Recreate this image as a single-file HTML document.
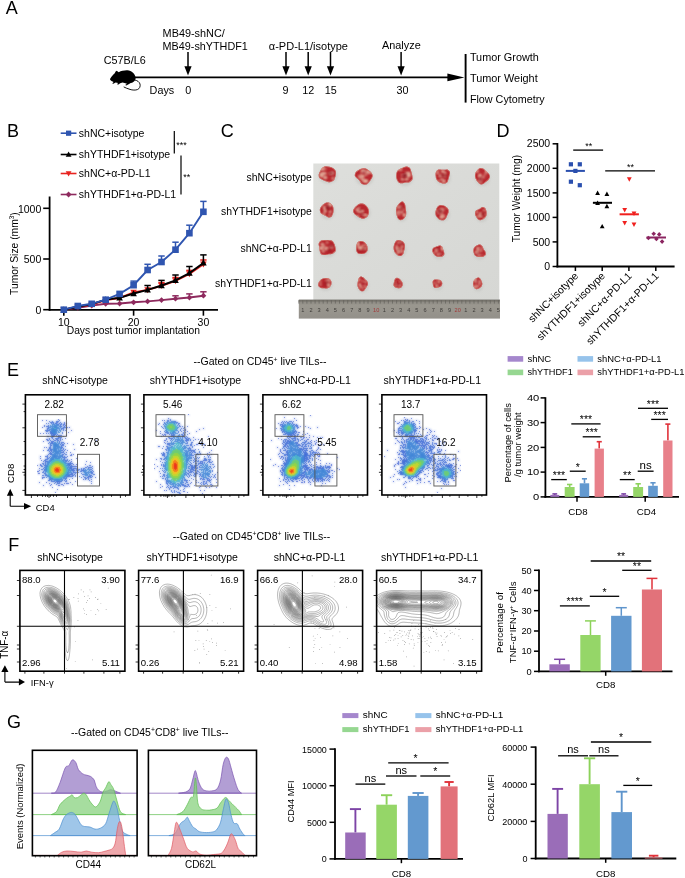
<!DOCTYPE html><html><head><meta charset="utf-8"><style>html,body{margin:0;padding:0;background:#fff}svg{display:block;will-change:transform;font-family:"Liberation Sans",sans-serif}</style></head><body><svg width="685" height="878" viewBox="0 0 685 878"><rect width="685" height="878" fill="#fff"/><text x="5.8" y="13.9" font-size="18">A</text>
<text x="162.6" y="36.5" font-size="10.8" textLength="62.2" lengthAdjust="spacingAndGlyphs">MB49-shNC/</text>
<text x="162.6" y="50.2" font-size="10.8" textLength="85.2" lengthAdjust="spacingAndGlyphs">MB49-shYTHDF1</text>
<text x="103.8" y="64.0" font-size="10.8" textLength="42" lengthAdjust="spacingAndGlyphs">C57B/L6</text>
<text x="149.6" y="94.0" font-size="10.8" textLength="24.6" lengthAdjust="spacingAndGlyphs">Days</text>
<text x="188.3" y="94.0" font-size="10.8" text-anchor="middle">0</text>
<text x="268.8" y="49.7" font-size="10.8" textLength="79.2" lengthAdjust="spacingAndGlyphs">α-PD-L1/isotype</text>
<text x="285.5" y="93.8" font-size="10.8" text-anchor="middle">9</text>
<text x="308.2" y="93.8" font-size="10.8" text-anchor="middle">12</text>
<text x="330.8" y="93.8" font-size="10.8" text-anchor="middle">15</text>
<text x="402.4" y="93.8" font-size="10.8" text-anchor="middle">30</text>
<text x="382.0" y="49.4" font-size="10.8" textLength="38.7" lengthAdjust="spacingAndGlyphs">Analyze</text>
<text x="469.9" y="60.6" font-size="10.8" textLength="68.9" lengthAdjust="spacingAndGlyphs">Tumor Growth</text>
<text x="469.9" y="82.2" font-size="10.8" textLength="67.8" lengthAdjust="spacingAndGlyphs">Tumor Weight</text>
<text x="469.9" y="103.4" font-size="10.8" textLength="74.8" lengthAdjust="spacingAndGlyphs">Flow Cytometry</text>
<line x1="134.0" y1="77.4" x2="450.0" y2="77.4" stroke="#000" stroke-width="1.9"/>
<path d="M447.4,73.6 L464.4,77.4 L447.4,81.2 Z" fill="#000"/>
<line x1="465.6" y1="54.0" x2="465.6" y2="102.6" stroke="#000" stroke-width="1.9"/>
<line x1="188.0" y1="51.9" x2="188.0" y2="68.0" stroke="#000" stroke-width="1.5"/>
<path d="M184.4,66.3 L191.6,66.3 L188.0,75.6 Z" fill="#000"/>
<line x1="286.0" y1="51.9" x2="286.0" y2="68.0" stroke="#000" stroke-width="1.5"/>
<path d="M282.4,66.3 L289.6,66.3 L286.0,75.6 Z" fill="#000"/>
<line x1="308.2" y1="51.9" x2="308.2" y2="68.0" stroke="#000" stroke-width="1.5"/>
<path d="M304.6,66.3 L311.8,66.3 L308.2,75.6 Z" fill="#000"/>
<line x1="330.5" y1="51.9" x2="330.5" y2="68.0" stroke="#000" stroke-width="1.5"/>
<path d="M326.9,66.3 L334.1,66.3 L330.5,75.6 Z" fill="#000"/>
<line x1="401.1" y1="51.9" x2="401.1" y2="68.0" stroke="#000" stroke-width="1.5"/>
<path d="M397.5,66.3 L404.7,66.3 L401.1,75.6 Z" fill="#000"/>
<path d="M110,79 C110.8,77.4 112,76 113.4,74.6 C114.4,73.6 115.2,72.6 115.6,71.4 L116.7,70.7 L117.7,71.6 L118.7,72.3 C120,71.4 121,71 122.5,70.8 C124.5,70.4 126,70.2 127.4,70.3 C129.5,70.5 131.5,71.4 133,72.8 C134.4,74.2 135.4,75.8 135.6,77.4 C135.8,79 135,80.6 133.6,81.8 C132.6,82.6 131.6,82.9 130.7,83.1 L128.6,84.2 L126.2,85.5 L125.2,85 L127,83.7 L124.5,82.9 L122.5,82.6 L120.2,83.3 L118,84.7 L117.1,84.1 L118.2,82.9 L115.6,82.5 L113.4,83.8 L112.2,83.5 L113.6,82 L111.5,80.9 C110.6,80.4 110,79.8 110,79 Z" fill="#000"/>
<path d="M134.8,80 C137.4,80.5 139.4,82 140,84 C140.6,86.4 139.6,88.6 137.6,89.5 C135.6,90.4 132.4,90.2 130,89.4 C127.6,88.7 125.5,87.8 123.7,86.9" fill="none" stroke="#000" stroke-width="0.9"/>
<text x="6.9" y="137.2" font-size="18">B</text>
<line x1="60.7" y1="133.2" x2="76.5" y2="133.2" stroke="#2f55b0" stroke-width="1.6"/>
<rect x="66.0" y="130.6" width="5.2" height="5.2" fill="#2f55b0"/>
<text x="78.8" y="137.0" font-size="10.5">shNC+isotype</text>
<line x1="60.7" y1="154.5" x2="76.5" y2="154.5" stroke="#000" stroke-width="1.6"/>
<path d="M65.7,156.8 L71.5,156.8 L68.6,151.6 Z" fill="#000"/>
<text x="78.8" y="158.3" font-size="10.5">shYTHDF1+isotype</text>
<line x1="60.7" y1="173.5" x2="76.5" y2="173.5" stroke="#e8231f" stroke-width="1.6"/>
<path d="M65.7,171.2 L71.5,171.2 L68.6,176.4 Z" fill="#e8231f"/>
<text x="78.8" y="177.3" font-size="10.5">shNC+α-PD-L1</text>
<line x1="60.7" y1="194.5" x2="76.5" y2="194.5" stroke="#8e2a5e" stroke-width="1.6"/>
<path d="M68.6,191.6 L71.5,194.5 L68.6,197.4 L65.7,194.5 Z" fill="#8e2a5e"/>
<text x="78.8" y="198.3" font-size="10.5">shYTHDF1+α-PD-L1</text>
<line x1="174.3" y1="131.1" x2="174.3" y2="153.6" stroke="#000" stroke-width="1.2"/>
<text x="176.3" y="147.6" font-size="9">***</text>
<line x1="181.0" y1="155.4" x2="181.0" y2="194.5" stroke="#000" stroke-width="1.2"/>
<text x="183.2" y="180.3" font-size="9">**</text>
<line x1="49.6" y1="196.5" x2="49.6" y2="310.7" stroke="#000" stroke-width="1.8"/>
<line x1="48.7" y1="309.9" x2="218.0" y2="309.9" stroke="#000" stroke-width="1.8"/>
<line x1="43.2" y1="208.3" x2="49.5" y2="208.3" stroke="#000" stroke-width="1.6"/>
<text x="41.3" y="212.5" font-size="10.5" text-anchor="end">1000</text>
<line x1="43.2" y1="259.0" x2="49.5" y2="259.0" stroke="#000" stroke-width="1.6"/>
<text x="41.3" y="263.2" font-size="10.5" text-anchor="end">500</text>
<line x1="43.2" y1="309.7" x2="49.5" y2="309.7" stroke="#000" stroke-width="1.6"/>
<text x="41.3" y="313.9" font-size="10.5" text-anchor="end">0</text>
<line x1="63.8" y1="309.9" x2="63.8" y2="315.7" stroke="#000" stroke-width="1.6"/>
<text x="63.8" y="326.3" font-size="10.5" text-anchor="middle">10</text>
<line x1="133.6" y1="309.9" x2="133.6" y2="315.7" stroke="#000" stroke-width="1.6"/>
<text x="133.6" y="326.3" font-size="10.5" text-anchor="middle">20</text>
<line x1="203.4" y1="309.9" x2="203.4" y2="315.7" stroke="#000" stroke-width="1.6"/>
<text x="203.4" y="326.3" font-size="10.5" text-anchor="middle">30</text>
<text x="66.7" y="334.4" font-size="10.5" textLength="133.4" lengthAdjust="spacingAndGlyphs">Days post tumor implantation</text>
<text transform="translate(17.8 253.6) rotate(-90)" font-size="10.3" text-anchor="middle">Tumor Size (mm<tspan font-size="6.5" dy="-3.5">3</tspan><tspan dy="3.5">)</tspan></text>
<line x1="175.5" y1="298.7" x2="175.5" y2="295.8" stroke="#8e2a5e" stroke-width="1.5"/>
<line x1="172.3" y1="295.8" x2="178.7" y2="295.8" stroke="#8e2a5e" stroke-width="1.5"/>
<line x1="189.4" y1="297.5" x2="189.4" y2="293.9" stroke="#8e2a5e" stroke-width="1.5"/>
<line x1="186.2" y1="293.9" x2="192.6" y2="293.9" stroke="#8e2a5e" stroke-width="1.5"/>
<line x1="203.4" y1="295.7" x2="203.4" y2="291.8" stroke="#8e2a5e" stroke-width="1.5"/>
<line x1="200.2" y1="291.8" x2="206.6" y2="291.8" stroke="#8e2a5e" stroke-width="1.5"/>
<polyline points="63.8,309.7 77.8,307.9 91.7,305.6 105.7,303.8 119.6,303.5 133.6,302.3 147.6,301.4 161.5,300.1 175.5,298.7 189.4,297.5 203.4,295.7" fill="none" stroke="#8e2a5e" stroke-width="1.9"/>
<path d="M63.8,306.8 L66.7,309.7 L63.8,312.6 L60.9,309.7 Z" fill="#8e2a5e"/>
<path d="M77.8,305.0 L80.6,307.9 L77.8,310.7 L74.9,307.9 Z" fill="#8e2a5e"/>
<path d="M91.7,302.8 L94.6,305.6 L91.7,308.5 L88.9,305.6 Z" fill="#8e2a5e"/>
<path d="M105.7,301.0 L108.5,303.8 L105.7,306.7 L102.8,303.8 Z" fill="#8e2a5e"/>
<path d="M119.6,300.7 L122.5,303.5 L119.6,306.4 L116.8,303.5 Z" fill="#8e2a5e"/>
<path d="M133.6,299.4 L136.5,302.3 L133.6,305.2 L130.7,302.3 Z" fill="#8e2a5e"/>
<path d="M147.6,298.5 L150.4,301.4 L147.6,304.2 L144.7,301.4 Z" fill="#8e2a5e"/>
<path d="M161.5,297.2 L164.4,300.1 L161.5,302.9 L158.7,300.1 Z" fill="#8e2a5e"/>
<path d="M175.5,295.9 L178.3,298.7 L175.5,301.6 L172.6,298.7 Z" fill="#8e2a5e"/>
<path d="M189.4,294.7 L192.3,297.5 L189.4,300.4 L186.6,297.5 Z" fill="#8e2a5e"/>
<path d="M203.4,292.8 L206.3,295.7 L203.4,298.6 L200.5,295.7 Z" fill="#8e2a5e"/>
<line x1="161.5" y1="285.8" x2="161.5" y2="282.6" stroke="#e8231f" stroke-width="1.5"/>
<line x1="158.3" y1="282.6" x2="164.7" y2="282.6" stroke="#e8231f" stroke-width="1.5"/>
<line x1="175.5" y1="280.9" x2="175.5" y2="277.5" stroke="#e8231f" stroke-width="1.5"/>
<line x1="172.3" y1="277.5" x2="178.7" y2="277.5" stroke="#e8231f" stroke-width="1.5"/>
<line x1="189.4" y1="274.0" x2="189.4" y2="270.4" stroke="#e8231f" stroke-width="1.5"/>
<line x1="186.2" y1="270.4" x2="192.6" y2="270.4" stroke="#e8231f" stroke-width="1.5"/>
<line x1="203.4" y1="264.1" x2="203.4" y2="260.0" stroke="#e8231f" stroke-width="1.5"/>
<line x1="200.2" y1="260.0" x2="206.6" y2="260.0" stroke="#e8231f" stroke-width="1.5"/>
<polyline points="63.8,309.7 77.8,306.9 91.7,304.6 105.7,300.1 119.6,298.0 133.6,292.5 147.6,289.9 161.5,285.8 175.5,280.9 189.4,274.0 203.4,264.1" fill="none" stroke="#e8231f" stroke-width="1.9"/>
<path d="M60.5,307.0 L67.1,307.0 L63.8,313.0 Z" fill="#e8231f"/>
<path d="M74.5,304.2 L81.1,304.2 L77.8,310.2 Z" fill="#e8231f"/>
<path d="M88.4,301.9 L95.0,301.9 L91.7,307.9 Z" fill="#e8231f"/>
<path d="M102.4,297.4 L109.0,297.4 L105.7,303.4 Z" fill="#e8231f"/>
<path d="M116.3,295.3 L122.9,295.3 L119.6,301.3 Z" fill="#e8231f"/>
<path d="M130.3,289.8 L136.9,289.8 L133.6,295.8 Z" fill="#e8231f"/>
<path d="M144.3,287.2 L150.9,287.2 L147.6,293.2 Z" fill="#e8231f"/>
<path d="M158.2,283.1 L164.8,283.1 L161.5,289.1 Z" fill="#e8231f"/>
<path d="M172.2,278.2 L178.8,278.2 L175.5,284.2 Z" fill="#e8231f"/>
<path d="M186.1,271.3 L192.7,271.3 L189.4,277.3 Z" fill="#e8231f"/>
<path d="M200.1,261.4 L206.7,261.4 L203.4,267.4 Z" fill="#e8231f"/>
<line x1="147.6" y1="289.9" x2="147.6" y2="285.5" stroke="#000" stroke-width="1.5"/>
<line x1="144.4" y1="285.5" x2="150.8" y2="285.5" stroke="#000" stroke-width="1.5"/>
<line x1="161.5" y1="285.5" x2="161.5" y2="280.4" stroke="#000" stroke-width="1.5"/>
<line x1="158.3" y1="280.4" x2="164.7" y2="280.4" stroke="#000" stroke-width="1.5"/>
<line x1="175.5" y1="280.4" x2="175.5" y2="275.0" stroke="#000" stroke-width="1.5"/>
<line x1="172.3" y1="275.0" x2="178.7" y2="275.0" stroke="#000" stroke-width="1.5"/>
<line x1="189.4" y1="273.1" x2="189.4" y2="266.5" stroke="#000" stroke-width="1.5"/>
<line x1="186.2" y1="266.5" x2="192.6" y2="266.5" stroke="#000" stroke-width="1.5"/>
<line x1="203.4" y1="262.9" x2="203.4" y2="254.9" stroke="#000" stroke-width="1.5"/>
<line x1="200.2" y1="254.9" x2="206.6" y2="254.9" stroke="#000" stroke-width="1.5"/>
<polyline points="63.8,309.7 77.8,306.7 91.7,304.1 105.7,299.6 119.6,297.8 133.6,293.5 147.6,289.9 161.5,285.5 175.5,280.4 189.4,273.1 203.4,262.9" fill="none" stroke="#000" stroke-width="1.9"/>
<path d="M60.5,312.4 L67.1,312.4 L63.8,306.4 Z" fill="#000"/>
<path d="M74.5,309.4 L81.1,309.4 L77.8,303.4 Z" fill="#000"/>
<path d="M88.4,306.8 L95.0,306.8 L91.7,300.8 Z" fill="#000"/>
<path d="M102.4,302.3 L109.0,302.3 L105.7,296.3 Z" fill="#000"/>
<path d="M116.3,300.5 L122.9,300.5 L119.6,294.5 Z" fill="#000"/>
<path d="M130.3,296.2 L136.9,296.2 L133.6,290.2 Z" fill="#000"/>
<path d="M144.3,292.6 L150.9,292.6 L147.6,286.6 Z" fill="#000"/>
<path d="M158.2,288.2 L164.8,288.2 L161.5,282.2 Z" fill="#000"/>
<path d="M172.2,283.1 L178.8,283.1 L175.5,277.1 Z" fill="#000"/>
<path d="M186.1,275.8 L192.7,275.8 L189.4,269.8 Z" fill="#000"/>
<path d="M200.1,265.6 L206.7,265.6 L203.4,259.6 Z" fill="#000"/>
<line x1="133.6" y1="285.2" x2="133.6" y2="281.1" stroke="#2f55b0" stroke-width="1.5"/>
<line x1="130.4" y1="281.1" x2="136.8" y2="281.1" stroke="#2f55b0" stroke-width="1.5"/>
<line x1="147.6" y1="270.0" x2="147.6" y2="264.3" stroke="#2f55b0" stroke-width="1.5"/>
<line x1="144.4" y1="264.3" x2="150.8" y2="264.3" stroke="#2f55b0" stroke-width="1.5"/>
<line x1="161.5" y1="262.0" x2="161.5" y2="256.0" stroke="#2f55b0" stroke-width="1.5"/>
<line x1="158.3" y1="256.0" x2="164.7" y2="256.0" stroke="#2f55b0" stroke-width="1.5"/>
<line x1="175.5" y1="249.7" x2="175.5" y2="242.2" stroke="#2f55b0" stroke-width="1.5"/>
<line x1="172.3" y1="242.2" x2="178.7" y2="242.2" stroke="#2f55b0" stroke-width="1.5"/>
<line x1="189.4" y1="233.2" x2="189.4" y2="225.2" stroke="#2f55b0" stroke-width="1.5"/>
<line x1="186.2" y1="225.2" x2="192.6" y2="225.2" stroke="#2f55b0" stroke-width="1.5"/>
<line x1="203.4" y1="211.8" x2="203.4" y2="201.4" stroke="#2f55b0" stroke-width="1.5"/>
<line x1="200.2" y1="201.4" x2="206.6" y2="201.4" stroke="#2f55b0" stroke-width="1.5"/>
<polyline points="63.8,309.7 77.8,306.0 91.7,303.8 105.7,299.7 119.6,293.9 133.6,285.2 147.6,270.0 161.5,262.0 175.5,249.7 189.4,233.2 203.4,211.8" fill="none" stroke="#2f55b0" stroke-width="1.9"/>
<rect x="60.5" y="306.4" width="6.6" height="6.6" fill="#2f55b0"/>
<rect x="74.5" y="302.7" width="6.6" height="6.6" fill="#2f55b0"/>
<rect x="88.4" y="300.5" width="6.6" height="6.6" fill="#2f55b0"/>
<rect x="102.4" y="296.4" width="6.6" height="6.6" fill="#2f55b0"/>
<rect x="116.3" y="290.6" width="6.6" height="6.6" fill="#2f55b0"/>
<rect x="130.3" y="281.9" width="6.6" height="6.6" fill="#2f55b0"/>
<rect x="144.3" y="266.7" width="6.6" height="6.6" fill="#2f55b0"/>
<rect x="158.2" y="258.7" width="6.6" height="6.6" fill="#2f55b0"/>
<rect x="172.2" y="246.4" width="6.6" height="6.6" fill="#2f55b0"/>
<rect x="186.1" y="229.9" width="6.6" height="6.6" fill="#2f55b0"/>
<rect x="200.1" y="208.5" width="6.6" height="6.6" fill="#2f55b0"/>
<text x="220.8" y="137.2" font-size="18">C</text>
<text x="311.9" y="180.7" font-size="10.5" text-anchor="end" textLength="65.3" lengthAdjust="spacingAndGlyphs">shNC+isotype</text>
<text x="311.9" y="215.0" font-size="10.5" text-anchor="end" textLength="90.8" lengthAdjust="spacingAndGlyphs">shYTHDF1+isotype</text>
<text x="311.9" y="252.2" font-size="10.5" text-anchor="end" textLength="71.4" lengthAdjust="spacingAndGlyphs">shNC+α-PD-L1</text>
<text x="311.9" y="286.9" font-size="10.5" text-anchor="end" textLength="96.9" lengthAdjust="spacingAndGlyphs">shYTHDF1+α-PD-L1</text>
<defs><linearGradient id="pbg" x1="0" y1="0" x2="1" y2="1"><stop offset="0" stop-color="#dedfdc"/><stop offset="0.45" stop-color="#dadbd8"/><stop offset="1" stop-color="#d6d7d4"/></linearGradient><filter id="bl1" x="-30%" y="-30%" width="160%" height="160%"><feGaussianBlur stdDeviation="0.8"/></filter><filter id="bl2" x="-50%" y="-50%" width="200%" height="200%"><feGaussianBlur stdDeviation="0.9"/></filter><linearGradient id="rul" x1="0" y1="0" x2="0" y2="1"><stop offset="0" stop-color="#6e6b65"/><stop offset="0.12" stop-color="#8e8b84"/><stop offset="0.3" stop-color="#9a978f"/><stop offset="1" stop-color="#93908a"/></linearGradient></defs><rect x="313.3" y="163.5" width="186" height="136.5" fill="url(#pbg)"/><rect x="298.8" y="299.6" width="201.2" height="19" fill="url(#rul)"/><clipPath id="tc1"><path d="M335.2,177.3 C335.0,177.8 334.6,179.7 333.7,180.6 C332.8,181.4 331.1,182.1 329.8,182.2 C328.5,182.3 326.9,181.6 325.7,181.2 C324.4,180.8 323.3,180.4 322.3,179.8 C321.2,179.2 319.8,178.5 319.2,177.6 C318.7,176.6 318.6,175.3 318.8,174.2 C318.9,173.1 319.5,172.2 320.1,171.2 C320.6,170.2 321.0,169.0 321.9,168.2 C322.8,167.4 324.2,166.6 325.4,166.3 C326.7,166.1 328.3,166.4 329.6,166.8 C330.9,167.1 332.2,167.6 333.2,168.3 C334.2,169.0 335.2,170.0 335.7,171.0 C336.1,171.9 336.0,173.2 335.9,174.2 C335.8,175.2 335.6,176.2 335.2,177.3 C334.8,178.3 333.9,180.0 333.7,180.6 Z"/></clipPath><ellipse cx="328.1" cy="175.8" rx="9.8" ry="8.1" fill="#c3c3bf" opacity="0.55" filter="url(#bl2)"/><g><g clip-path="url(#tc1)"><rect x="316.6" y="164.7" width="22.0" height="19.0" fill="#b8282f"/><ellipse cx="321.5" cy="169.1" rx="2.7" ry="1.5" fill="#e9c2ac" opacity="0.85" filter="url(#bl2)"/><ellipse cx="324.0" cy="173.5" rx="2.7" ry="1.8" fill="#e9c2ac" opacity="0.85" filter="url(#bl2)"/><ellipse cx="332.2" cy="173.0" rx="1.9" ry="1.6" fill="#e9c2ac" opacity="0.85" filter="url(#bl2)"/><ellipse cx="321.7" cy="174.8" rx="1.5" ry="1.8" fill="#e9c2ac" opacity="0.85" filter="url(#bl2)"/><ellipse cx="321.7" cy="176.2" rx="2.5" ry="1.0" fill="#e9c2ac" opacity="0.85" filter="url(#bl2)"/><ellipse cx="332.9" cy="178.4" rx="1.1" ry="1.6" fill="#e9c2ac" opacity="0.85" filter="url(#bl2)"/><ellipse cx="320.9" cy="174.2" rx="1.8" ry="1.0" fill="#e9c2ac" opacity="0.85" filter="url(#bl2)"/><ellipse cx="325.2" cy="177.6" rx="1.6" ry="0.9" fill="#e9c2ac" opacity="0.85" filter="url(#bl2)"/><ellipse cx="330.3" cy="173.6" rx="2.4" ry="1.0" fill="#e9c2ac" opacity="0.85" filter="url(#bl2)"/><ellipse cx="325.2" cy="177.6" rx="1.9" ry="1.4" fill="#e9c2ac" opacity="0.85" filter="url(#bl2)"/><ellipse cx="324.0" cy="168.7" rx="2.6" ry="0.9" fill="#e9c2ac" opacity="0.85" filter="url(#bl2)"/><ellipse cx="330.7" cy="173.2" rx="2.6" ry="1.6" fill="#8c0f1c" opacity="0.65" filter="url(#bl2)"/><path d="M335.2,177.3 C335.0,177.8 334.6,179.7 333.7,180.6 C332.8,181.4 331.1,182.1 329.8,182.2 C328.5,182.3 326.9,181.6 325.7,181.2 C324.4,180.8 323.3,180.4 322.3,179.8 C321.2,179.2 319.8,178.5 319.2,177.6 C318.7,176.6 318.6,175.3 318.8,174.2 C318.9,173.1 319.5,172.2 320.1,171.2 C320.6,170.2 321.0,169.0 321.9,168.2 C322.8,167.4 324.2,166.6 325.4,166.3 C326.7,166.1 328.3,166.4 329.6,166.8 C330.9,167.1 332.2,167.6 333.2,168.3 C334.2,169.0 335.2,170.0 335.7,171.0 C336.1,171.9 336.0,173.2 335.9,174.2 C335.8,175.2 335.6,176.2 335.2,177.3 C334.8,178.3 333.9,180.0 333.7,180.6 Z" fill="none" stroke="#d98f80" stroke-width="1.3" opacity="0.7"/></g></g><clipPath id="tc2"><path d="M371.3,179.1 C371.0,179.6 370.2,181.0 369.3,181.9 C368.5,182.9 367.4,184.3 366.2,184.6 C365.0,185.0 363.1,184.6 362.0,184.0 C360.9,183.4 360.4,181.8 359.6,180.9 C358.9,180.0 358.3,179.6 357.5,178.8 C356.7,178.0 355.3,177.1 354.9,176.0 C354.6,174.9 355.0,173.4 355.6,172.4 C356.2,171.4 357.6,170.6 358.6,170.0 C359.7,169.3 360.8,168.6 362.1,168.4 C363.3,168.1 364.8,168.2 365.9,168.5 C367.1,168.9 368.0,169.8 368.9,170.5 C369.8,171.2 370.8,171.9 371.4,172.8 C372.0,173.7 372.7,174.9 372.6,176.0 C372.6,177.1 371.9,178.2 371.3,179.1 C370.7,180.1 369.6,181.5 369.3,181.9 Z"/></clipPath><ellipse cx="364.5" cy="177.6" rx="9.3" ry="8.2" fill="#c3c3bf" opacity="0.55" filter="url(#bl2)"/><g><g clip-path="url(#tc2)"><rect x="353.5" y="166.4" width="21.0" height="19.2" fill="#b8282f"/><ellipse cx="360.5" cy="177.6" rx="1.2" ry="1.6" fill="#e9c2ac" opacity="0.85" filter="url(#bl2)"/><ellipse cx="365.7" cy="174.6" rx="2.2" ry="1.0" fill="#e9c2ac" opacity="0.85" filter="url(#bl2)"/><ellipse cx="362.6" cy="179.4" rx="1.6" ry="1.6" fill="#e9c2ac" opacity="0.85" filter="url(#bl2)"/><ellipse cx="365.4" cy="181.0" rx="2.5" ry="1.6" fill="#e9c2ac" opacity="0.85" filter="url(#bl2)"/><ellipse cx="367.9" cy="172.0" rx="2.1" ry="1.8" fill="#e9c2ac" opacity="0.85" filter="url(#bl2)"/><ellipse cx="362.7" cy="176.6" rx="1.8" ry="1.9" fill="#e9c2ac" opacity="0.85" filter="url(#bl2)"/><ellipse cx="361.7" cy="174.9" rx="1.0" ry="1.3" fill="#e9c2ac" opacity="0.85" filter="url(#bl2)"/><ellipse cx="365.7" cy="181.0" rx="2.4" ry="1.2" fill="#e9c2ac" opacity="0.85" filter="url(#bl2)"/><ellipse cx="370.2" cy="172.4" rx="2.3" ry="1.0" fill="#e9c2ac" opacity="0.85" filter="url(#bl2)"/><ellipse cx="362.8" cy="171.1" rx="2.3" ry="1.8" fill="#e9c2ac" opacity="0.85" filter="url(#bl2)"/><ellipse cx="359.4" cy="176.3" rx="1.4" ry="1.4" fill="#e9c2ac" opacity="0.85" filter="url(#bl2)"/><ellipse cx="364.7" cy="171.5" rx="2.3" ry="1.1" fill="#e9c2ac" opacity="0.85" filter="url(#bl2)"/><ellipse cx="363.6" cy="172.6" rx="1.3" ry="1.4" fill="#8c0f1c" opacity="0.65" filter="url(#bl2)"/><path d="M371.3,179.1 C371.0,179.6 370.2,181.0 369.3,181.9 C368.5,182.9 367.4,184.3 366.2,184.6 C365.0,185.0 363.1,184.6 362.0,184.0 C360.9,183.4 360.4,181.8 359.6,180.9 C358.9,180.0 358.3,179.6 357.5,178.8 C356.7,178.0 355.3,177.1 354.9,176.0 C354.6,174.9 355.0,173.4 355.6,172.4 C356.2,171.4 357.6,170.6 358.6,170.0 C359.7,169.3 360.8,168.6 362.1,168.4 C363.3,168.1 364.8,168.2 365.9,168.5 C367.1,168.9 368.0,169.8 368.9,170.5 C369.8,171.2 370.8,171.9 371.4,172.8 C372.0,173.7 372.7,174.9 372.6,176.0 C372.6,177.1 371.9,178.2 371.3,179.1 C370.7,180.1 369.6,181.5 369.3,181.9 Z" fill="none" stroke="#d98f80" stroke-width="1.3" opacity="0.7"/></g></g><clipPath id="tc3"><path d="M412.4,179.5 C411.9,180.0 410.6,181.7 409.5,182.2 C408.4,182.7 407.0,182.3 405.9,182.5 C404.8,182.6 403.9,183.1 402.7,183.2 C401.6,183.2 400.0,183.3 399.0,182.7 C398.0,182.0 397.2,180.6 396.7,179.3 C396.2,178.1 396.1,176.6 396.2,175.3 C396.2,174.0 396.4,172.5 397.0,171.4 C397.6,170.4 398.8,169.6 399.8,169.0 C400.7,168.4 401.7,168.1 402.8,167.7 C403.9,167.3 405.1,166.4 406.3,166.5 C407.4,166.5 409.0,167.1 409.8,167.9 C410.7,168.8 410.9,170.5 411.3,171.7 C411.7,172.9 412.0,174.0 412.2,175.3 C412.4,176.6 412.9,178.3 412.4,179.5 C412.0,180.7 410.0,181.8 409.5,182.2 Z"/></clipPath><ellipse cx="404.9" cy="176.9" rx="8.8" ry="9.3" fill="#c3c3bf" opacity="0.55" filter="url(#bl2)"/><g><g clip-path="url(#tc3)"><rect x="394.4" y="164.6" width="20.0" height="21.4" fill="#b8282f"/><ellipse cx="402.4" cy="179.1" rx="1.5" ry="1.7" fill="#e9c2ac" opacity="0.85" filter="url(#bl2)"/><ellipse cx="407.2" cy="175.3" rx="2.0" ry="1.8" fill="#e9c2ac" opacity="0.85" filter="url(#bl2)"/><ellipse cx="398.5" cy="169.3" rx="1.2" ry="1.2" fill="#e9c2ac" opacity="0.85" filter="url(#bl2)"/><ellipse cx="400.8" cy="169.4" rx="1.3" ry="1.7" fill="#e9c2ac" opacity="0.85" filter="url(#bl2)"/><ellipse cx="409.0" cy="173.3" rx="1.5" ry="1.5" fill="#e9c2ac" opacity="0.85" filter="url(#bl2)"/><ellipse cx="406.6" cy="179.0" rx="2.3" ry="1.4" fill="#e9c2ac" opacity="0.85" filter="url(#bl2)"/><ellipse cx="406.9" cy="173.2" rx="2.1" ry="1.2" fill="#e9c2ac" opacity="0.85" filter="url(#bl2)"/><ellipse cx="408.9" cy="175.4" rx="2.0" ry="1.6" fill="#e9c2ac" opacity="0.85" filter="url(#bl2)"/><ellipse cx="402.2" cy="175.2" rx="1.0" ry="0.9" fill="#e9c2ac" opacity="0.85" filter="url(#bl2)"/><ellipse cx="404.8" cy="175.0" rx="2.2" ry="0.9" fill="#e9c2ac" opacity="0.85" filter="url(#bl2)"/><ellipse cx="404.9" cy="175.2" rx="1.9" ry="2.3" fill="#8c0f1c" opacity="0.65" filter="url(#bl2)"/><ellipse cx="404.6" cy="175.8" rx="1.8" ry="2.1" fill="#8c0f1c" opacity="0.65" filter="url(#bl2)"/><path d="M412.4,179.5 C411.9,180.0 410.6,181.7 409.5,182.2 C408.4,182.7 407.0,182.3 405.9,182.5 C404.8,182.6 403.9,183.1 402.7,183.2 C401.6,183.2 400.0,183.3 399.0,182.7 C398.0,182.0 397.2,180.6 396.7,179.3 C396.2,178.1 396.1,176.6 396.2,175.3 C396.2,174.0 396.4,172.5 397.0,171.4 C397.6,170.4 398.8,169.6 399.8,169.0 C400.7,168.4 401.7,168.1 402.8,167.7 C403.9,167.3 405.1,166.4 406.3,166.5 C407.4,166.5 409.0,167.1 409.8,167.9 C410.7,168.8 410.9,170.5 411.3,171.7 C411.7,172.9 412.0,174.0 412.2,175.3 C412.4,176.6 412.9,178.3 412.4,179.5 C412.0,180.7 410.0,181.8 409.5,182.2 Z" fill="none" stroke="#d98f80" stroke-width="1.3" opacity="0.7"/></g></g><clipPath id="tc4"><path d="M448.5,179.0 C448.3,179.5 448.0,181.4 447.3,182.2 C446.6,182.9 445.3,183.4 444.3,183.6 C443.3,183.7 442.2,183.2 441.2,182.9 C440.3,182.6 439.3,182.3 438.5,181.7 C437.7,181.1 436.9,180.2 436.4,179.2 C435.9,178.3 435.8,177.1 435.7,176.0 C435.6,174.9 435.4,173.5 435.8,172.4 C436.2,171.4 437.1,170.1 438.0,169.7 C438.9,169.2 440.3,169.7 441.4,169.7 C442.4,169.7 443.0,169.8 444.0,169.8 C445.0,169.8 446.5,169.2 447.5,169.6 C448.5,170.0 449.6,171.2 450.0,172.3 C450.3,173.3 449.6,174.9 449.3,176.0 C449.1,177.1 448.8,178.0 448.5,179.0 C448.2,180.0 447.5,181.7 447.3,182.2 Z"/></clipPath><ellipse cx="443.2" cy="177.6" rx="7.8" ry="8.1" fill="#c3c3bf" opacity="0.55" filter="url(#bl2)"/><g><g clip-path="url(#tc4)"><rect x="433.7" y="166.5" width="18.0" height="19.0" fill="#b8282f"/><ellipse cx="440.5" cy="175.4" rx="1.2" ry="0.8" fill="#e9c2ac" opacity="0.85" filter="url(#bl2)"/><ellipse cx="437.6" cy="173.2" rx="1.9" ry="0.9" fill="#e9c2ac" opacity="0.85" filter="url(#bl2)"/><ellipse cx="444.7" cy="173.2" rx="0.9" ry="1.0" fill="#e9c2ac" opacity="0.85" filter="url(#bl2)"/><ellipse cx="444.6" cy="176.0" rx="1.5" ry="1.3" fill="#e9c2ac" opacity="0.85" filter="url(#bl2)"/><ellipse cx="440.3" cy="175.9" rx="2.0" ry="1.0" fill="#e9c2ac" opacity="0.85" filter="url(#bl2)"/><ellipse cx="445.1" cy="173.2" rx="1.1" ry="1.1" fill="#e9c2ac" opacity="0.85" filter="url(#bl2)"/><ellipse cx="438.4" cy="180.9" rx="1.3" ry="1.0" fill="#e9c2ac" opacity="0.85" filter="url(#bl2)"/><ellipse cx="437.5" cy="171.1" rx="1.1" ry="1.3" fill="#e9c2ac" opacity="0.85" filter="url(#bl2)"/><ellipse cx="443.8" cy="181.4" rx="2.0" ry="1.0" fill="#e9c2ac" opacity="0.85" filter="url(#bl2)"/><ellipse cx="443.9" cy="180.7" rx="1.0" ry="1.8" fill="#e9c2ac" opacity="0.85" filter="url(#bl2)"/><ellipse cx="441.6" cy="179.2" rx="1.2" ry="1.5" fill="#e9c2ac" opacity="0.85" filter="url(#bl2)"/><ellipse cx="442.8" cy="171.5" rx="1.8" ry="1.7" fill="#e9c2ac" opacity="0.85" filter="url(#bl2)"/><ellipse cx="442.6" cy="175.2" rx="2.0" ry="1.5" fill="#8c0f1c" opacity="0.65" filter="url(#bl2)"/><ellipse cx="445.4" cy="175.4" rx="1.4" ry="1.5" fill="#8c0f1c" opacity="0.65" filter="url(#bl2)"/><path d="M448.5,179.0 C448.3,179.5 448.0,181.4 447.3,182.2 C446.6,182.9 445.3,183.4 444.3,183.6 C443.3,183.7 442.2,183.2 441.2,182.9 C440.3,182.6 439.3,182.3 438.5,181.7 C437.7,181.1 436.9,180.2 436.4,179.2 C435.9,178.3 435.8,177.1 435.7,176.0 C435.6,174.9 435.4,173.5 435.8,172.4 C436.2,171.4 437.1,170.1 438.0,169.7 C438.9,169.2 440.3,169.7 441.4,169.7 C442.4,169.7 443.0,169.8 444.0,169.8 C445.0,169.8 446.5,169.2 447.5,169.6 C448.5,170.0 449.6,171.2 450.0,172.3 C450.3,173.3 449.6,174.9 449.3,176.0 C449.1,177.1 448.8,178.0 448.5,179.0 C448.2,180.0 447.5,181.7 447.3,182.2 Z" fill="none" stroke="#d98f80" stroke-width="1.3" opacity="0.7"/></g></g><clipPath id="tc5"><path d="M488.5,179.7 C488.1,180.0 486.8,181.1 486.0,181.8 C485.2,182.5 484.5,183.4 483.6,183.8 C482.6,184.2 481.3,184.6 480.3,184.3 C479.4,184.0 478.5,182.9 477.8,182.1 C477.1,181.3 476.5,180.4 476.1,179.4 C475.6,178.4 475.0,177.3 475.0,176.2 C474.9,175.1 475.1,173.8 475.5,172.7 C476.0,171.7 476.7,170.7 477.5,169.9 C478.3,169.1 479.3,168.3 480.3,168.1 C481.4,167.9 482.6,168.4 483.5,168.8 C484.4,169.3 485.0,170.2 485.8,170.9 C486.6,171.6 487.5,172.0 488.2,172.9 C488.9,173.7 489.9,175.1 489.9,176.2 C490.0,177.3 489.2,178.8 488.5,179.7 C487.8,180.6 486.4,181.4 486.0,181.8 Z"/></clipPath><ellipse cx="482.5" cy="177.8" rx="7.8" ry="8.4" fill="#c3c3bf" opacity="0.55" filter="url(#bl2)"/><g><g clip-path="url(#tc5)"><rect x="473.0" y="166.4" width="18.0" height="19.6" fill="#b8282f"/><ellipse cx="478.4" cy="181.1" rx="1.0" ry="1.2" fill="#e9c2ac" opacity="0.85" filter="url(#bl2)"/><ellipse cx="486.7" cy="171.7" rx="1.4" ry="1.8" fill="#e9c2ac" opacity="0.85" filter="url(#bl2)"/><ellipse cx="477.0" cy="171.1" rx="2.0" ry="1.6" fill="#e9c2ac" opacity="0.85" filter="url(#bl2)"/><ellipse cx="479.5" cy="176.0" rx="1.2" ry="1.9" fill="#e9c2ac" opacity="0.85" filter="url(#bl2)"/><ellipse cx="486.7" cy="171.2" rx="1.5" ry="1.0" fill="#e9c2ac" opacity="0.85" filter="url(#bl2)"/><ellipse cx="481.0" cy="179.0" rx="1.7" ry="1.0" fill="#e9c2ac" opacity="0.85" filter="url(#bl2)"/><ellipse cx="480.2" cy="175.3" rx="1.3" ry="1.6" fill="#e9c2ac" opacity="0.85" filter="url(#bl2)"/><ellipse cx="485.0" cy="174.3" rx="1.4" ry="0.9" fill="#e9c2ac" opacity="0.85" filter="url(#bl2)"/><ellipse cx="480.6" cy="181.4" rx="1.5" ry="1.5" fill="#e9c2ac" opacity="0.85" filter="url(#bl2)"/><ellipse cx="483.1" cy="177.0" rx="1.9" ry="1.1" fill="#e9c2ac" opacity="0.85" filter="url(#bl2)"/><ellipse cx="480.7" cy="179.2" rx="1.6" ry="2.3" fill="#8c0f1c" opacity="0.65" filter="url(#bl2)"/><path d="M488.5,179.7 C488.1,180.0 486.8,181.1 486.0,181.8 C485.2,182.5 484.5,183.4 483.6,183.8 C482.6,184.2 481.3,184.6 480.3,184.3 C479.4,184.0 478.5,182.9 477.8,182.1 C477.1,181.3 476.5,180.4 476.1,179.4 C475.6,178.4 475.0,177.3 475.0,176.2 C474.9,175.1 475.1,173.8 475.5,172.7 C476.0,171.7 476.7,170.7 477.5,169.9 C478.3,169.1 479.3,168.3 480.3,168.1 C481.4,167.9 482.6,168.4 483.5,168.8 C484.4,169.3 485.0,170.2 485.8,170.9 C486.6,171.6 487.5,172.0 488.2,172.9 C488.9,173.7 489.9,175.1 489.9,176.2 C490.0,177.3 489.2,178.8 488.5,179.7 C487.8,180.6 486.4,181.4 486.0,181.8 Z" fill="none" stroke="#d98f80" stroke-width="1.3" opacity="0.7"/></g></g><clipPath id="tc6"><path d="M333.2,213.1 C332.9,213.7 332.5,215.6 331.7,216.4 C331.0,217.1 329.7,217.5 328.7,217.5 C327.8,217.4 326.8,216.5 326.0,216.0 C325.1,215.6 324.5,215.3 323.7,214.9 C322.9,214.4 321.6,214.1 320.9,213.3 C320.3,212.4 319.8,210.9 319.8,209.8 C319.9,208.7 320.6,207.4 321.2,206.5 C321.8,205.5 322.6,204.8 323.3,204.2 C324.1,203.6 324.9,203.0 325.8,202.7 C326.7,202.4 327.7,202.4 328.6,202.6 C329.5,202.8 330.5,203.3 331.2,204.0 C332.0,204.6 332.7,205.6 333.0,206.5 C333.4,207.5 333.5,208.7 333.5,209.8 C333.5,210.9 333.5,212.0 333.2,213.1 C332.9,214.2 332.0,215.8 331.7,216.4 Z"/></clipPath><ellipse cx="327.7" cy="211.4" rx="7.3" ry="8.1" fill="#c3c3bf" opacity="0.55" filter="url(#bl2)"/><g><g clip-path="url(#tc6)"><rect x="318.7" y="200.3" width="17.0" height="19.0" fill="#b8282f"/><ellipse cx="324.8" cy="208.0" rx="1.7" ry="1.2" fill="#e9c2ac" opacity="0.85" filter="url(#bl2)"/><ellipse cx="330.0" cy="204.3" rx="1.9" ry="1.9" fill="#e9c2ac" opacity="0.85" filter="url(#bl2)"/><ellipse cx="328.9" cy="206.4" rx="1.5" ry="1.0" fill="#e9c2ac" opacity="0.85" filter="url(#bl2)"/><ellipse cx="326.0" cy="204.6" rx="0.9" ry="0.9" fill="#e9c2ac" opacity="0.85" filter="url(#bl2)"/><ellipse cx="324.1" cy="213.6" rx="1.1" ry="1.7" fill="#e9c2ac" opacity="0.85" filter="url(#bl2)"/><ellipse cx="322.4" cy="204.8" rx="0.9" ry="1.9" fill="#e9c2ac" opacity="0.85" filter="url(#bl2)"/><ellipse cx="330.3" cy="204.4" rx="1.9" ry="1.0" fill="#e9c2ac" opacity="0.85" filter="url(#bl2)"/><ellipse cx="324.9" cy="210.7" rx="1.0" ry="1.9" fill="#e9c2ac" opacity="0.85" filter="url(#bl2)"/><ellipse cx="325.9" cy="210.6" rx="1.4" ry="1.1" fill="#e9c2ac" opacity="0.85" filter="url(#bl2)"/><ellipse cx="329.5" cy="215.3" rx="1.5" ry="0.9" fill="#e9c2ac" opacity="0.85" filter="url(#bl2)"/><ellipse cx="330.2" cy="211.7" rx="1.4" ry="1.5" fill="#e9c2ac" opacity="0.85" filter="url(#bl2)"/><ellipse cx="324.9" cy="207.6" rx="1.4" ry="0.8" fill="#e9c2ac" opacity="0.85" filter="url(#bl2)"/><ellipse cx="327.8" cy="207.4" rx="1.2" ry="2.1" fill="#8c0f1c" opacity="0.65" filter="url(#bl2)"/><ellipse cx="327.8" cy="207.9" rx="1.7" ry="2.2" fill="#8c0f1c" opacity="0.65" filter="url(#bl2)"/><path d="M333.2,213.1 C332.9,213.7 332.5,215.6 331.7,216.4 C331.0,217.1 329.7,217.5 328.7,217.5 C327.8,217.4 326.8,216.5 326.0,216.0 C325.1,215.6 324.5,215.3 323.7,214.9 C322.9,214.4 321.6,214.1 320.9,213.3 C320.3,212.4 319.8,210.9 319.8,209.8 C319.9,208.7 320.6,207.4 321.2,206.5 C321.8,205.5 322.6,204.8 323.3,204.2 C324.1,203.6 324.9,203.0 325.8,202.7 C326.7,202.4 327.7,202.4 328.6,202.6 C329.5,202.8 330.5,203.3 331.2,204.0 C332.0,204.6 332.7,205.6 333.0,206.5 C333.4,207.5 333.5,208.7 333.5,209.8 C333.5,210.9 333.5,212.0 333.2,213.1 C332.9,214.2 332.0,215.8 331.7,216.4 Z" fill="none" stroke="#d98f80" stroke-width="1.3" opacity="0.7"/></g></g><clipPath id="tc7"><path d="M368.7,214.1 C368.4,214.6 367.9,216.4 367.0,217.1 C366.1,217.9 364.7,218.6 363.5,218.7 C362.3,218.8 360.8,218.1 359.8,217.7 C358.7,217.2 358.0,216.5 357.1,215.9 C356.2,215.3 355.1,214.9 354.5,214.1 C353.8,213.3 353.1,212.1 353.1,211.1 C353.1,210.1 353.8,209.0 354.4,208.1 C355.0,207.2 355.8,206.5 356.6,205.8 C357.5,205.1 358.5,204.1 359.6,203.8 C360.7,203.5 362.3,203.5 363.4,203.8 C364.5,204.1 365.6,205.0 366.3,205.8 C367.1,206.5 367.6,207.4 368.1,208.3 C368.5,209.2 368.8,210.1 368.9,211.1 C369.0,212.1 369.0,213.1 368.7,214.1 C368.4,215.1 367.3,216.6 367.0,217.1 Z"/></clipPath><ellipse cx="362.0" cy="212.7" rx="8.8" ry="7.6" fill="#c3c3bf" opacity="0.55" filter="url(#bl2)"/><g><g clip-path="url(#tc7)"><rect x="351.5" y="202.1" width="20.0" height="18.0" fill="#b8282f"/><ellipse cx="361.8" cy="211.3" rx="2.0" ry="0.8" fill="#e9c2ac" opacity="0.85" filter="url(#bl2)"/><ellipse cx="358.1" cy="216.2" rx="1.4" ry="1.0" fill="#e9c2ac" opacity="0.85" filter="url(#bl2)"/><ellipse cx="356.4" cy="209.1" rx="1.8" ry="0.7" fill="#e9c2ac" opacity="0.85" filter="url(#bl2)"/><ellipse cx="359.0" cy="208.5" rx="1.2" ry="1.6" fill="#e9c2ac" opacity="0.85" filter="url(#bl2)"/><ellipse cx="367.0" cy="215.5" rx="1.6" ry="0.8" fill="#e9c2ac" opacity="0.85" filter="url(#bl2)"/><ellipse cx="359.7" cy="211.4" rx="1.5" ry="1.5" fill="#e9c2ac" opacity="0.85" filter="url(#bl2)"/><ellipse cx="364.4" cy="215.3" rx="1.6" ry="1.0" fill="#e9c2ac" opacity="0.85" filter="url(#bl2)"/><ellipse cx="366.4" cy="215.1" rx="1.1" ry="0.9" fill="#e9c2ac" opacity="0.85" filter="url(#bl2)"/><ellipse cx="363.4" cy="214.5" rx="2.3" ry="0.7" fill="#e9c2ac" opacity="0.85" filter="url(#bl2)"/><ellipse cx="357.8" cy="210.3" rx="1.8" ry="1.6" fill="#e9c2ac" opacity="0.85" filter="url(#bl2)"/><ellipse cx="362.2" cy="211.3" rx="1.3" ry="1.4" fill="#e9c2ac" opacity="0.85" filter="url(#bl2)"/><ellipse cx="362.2" cy="214.2" rx="1.4" ry="1.2" fill="#8c0f1c" opacity="0.65" filter="url(#bl2)"/><ellipse cx="360.3" cy="209.9" rx="1.7" ry="1.2" fill="#8c0f1c" opacity="0.65" filter="url(#bl2)"/><path d="M368.7,214.1 C368.4,214.6 367.9,216.4 367.0,217.1 C366.1,217.9 364.7,218.6 363.5,218.7 C362.3,218.8 360.8,218.1 359.8,217.7 C358.7,217.2 358.0,216.5 357.1,215.9 C356.2,215.3 355.1,214.9 354.5,214.1 C353.8,213.3 353.1,212.1 353.1,211.1 C353.1,210.1 353.8,209.0 354.4,208.1 C355.0,207.2 355.8,206.5 356.6,205.8 C357.5,205.1 358.5,204.1 359.6,203.8 C360.7,203.5 362.3,203.5 363.4,203.8 C364.5,204.1 365.6,205.0 366.3,205.8 C367.1,206.5 367.6,207.4 368.1,208.3 C368.5,209.2 368.8,210.1 368.9,211.1 C369.0,212.1 369.0,213.1 368.7,214.1 C368.4,215.1 367.3,216.6 367.0,217.1 Z" fill="none" stroke="#d98f80" stroke-width="1.3" opacity="0.7"/></g></g><clipPath id="tc8"><path d="M406.1,214.7 C405.8,215.2 405.3,217.0 404.7,217.8 C404.1,218.6 403.3,219.3 402.5,219.7 C401.7,220.1 400.7,220.4 399.9,220.1 C399.1,219.9 398.2,218.9 397.6,218.0 C397.1,217.1 396.8,215.7 396.5,214.6 C396.3,213.4 396.0,212.3 396.0,211.1 C395.9,209.9 396.1,208.6 396.4,207.5 C396.7,206.5 397.4,205.7 398.0,204.9 C398.6,204.1 399.2,203.2 400.0,202.7 C400.7,202.1 401.8,201.3 402.6,201.5 C403.4,201.7 404.4,202.9 404.9,203.9 C405.4,205.0 405.5,206.6 405.6,207.8 C405.8,209.0 406.0,209.9 406.1,211.1 C406.2,212.3 406.3,213.6 406.1,214.7 C405.8,215.9 404.9,217.3 404.7,217.8 Z"/></clipPath><ellipse cx="401.7" cy="212.7" rx="6.3" ry="9.1" fill="#c3c3bf" opacity="0.55" filter="url(#bl2)"/><g><g clip-path="url(#tc8)"><rect x="393.7" y="200.6" width="15.0" height="21.0" fill="#b8282f"/><ellipse cx="400.6" cy="207.5" rx="1.4" ry="2.0" fill="#e9c2ac" opacity="0.85" filter="url(#bl2)"/><ellipse cx="399.0" cy="206.8" rx="1.2" ry="1.1" fill="#e9c2ac" opacity="0.85" filter="url(#bl2)"/><ellipse cx="404.8" cy="215.6" rx="1.5" ry="1.4" fill="#e9c2ac" opacity="0.85" filter="url(#bl2)"/><ellipse cx="403.6" cy="209.7" rx="1.1" ry="1.0" fill="#e9c2ac" opacity="0.85" filter="url(#bl2)"/><ellipse cx="397.4" cy="213.3" rx="0.9" ry="2.2" fill="#e9c2ac" opacity="0.85" filter="url(#bl2)"/><ellipse cx="401.7" cy="212.1" rx="1.5" ry="1.3" fill="#e9c2ac" opacity="0.85" filter="url(#bl2)"/><ellipse cx="397.2" cy="207.5" rx="1.1" ry="1.1" fill="#e9c2ac" opacity="0.85" filter="url(#bl2)"/><ellipse cx="399.4" cy="214.1" rx="1.0" ry="1.3" fill="#e9c2ac" opacity="0.85" filter="url(#bl2)"/><ellipse cx="399.0" cy="211.5" rx="1.6" ry="1.1" fill="#e9c2ac" opacity="0.85" filter="url(#bl2)"/><ellipse cx="404.0" cy="214.6" rx="1.3" ry="1.6" fill="#e9c2ac" opacity="0.85" filter="url(#bl2)"/><ellipse cx="401.3" cy="207.7" rx="1.3" ry="2.5" fill="#8c0f1c" opacity="0.65" filter="url(#bl2)"/><path d="M406.1,214.7 C405.8,215.2 405.3,217.0 404.7,217.8 C404.1,218.6 403.3,219.3 402.5,219.7 C401.7,220.1 400.7,220.4 399.9,220.1 C399.1,219.9 398.2,218.9 397.6,218.0 C397.1,217.1 396.8,215.7 396.5,214.6 C396.3,213.4 396.0,212.3 396.0,211.1 C395.9,209.9 396.1,208.6 396.4,207.5 C396.7,206.5 397.4,205.7 398.0,204.9 C398.6,204.1 399.2,203.2 400.0,202.7 C400.7,202.1 401.8,201.3 402.6,201.5 C403.4,201.7 404.4,202.9 404.9,203.9 C405.4,205.0 405.5,206.6 405.6,207.8 C405.8,209.0 406.0,209.9 406.1,211.1 C406.2,212.3 406.3,213.6 406.1,214.7 C405.8,215.9 404.9,217.3 404.7,217.8 Z" fill="none" stroke="#d98f80" stroke-width="1.3" opacity="0.7"/></g></g><clipPath id="tc9"><path d="M447.4,215.1 C447.2,215.6 446.9,217.1 446.2,217.9 C445.6,218.8 444.7,219.9 443.7,220.2 C442.7,220.5 441.2,220.3 440.2,219.9 C439.2,219.5 438.3,218.7 437.6,217.9 C436.8,217.2 436.2,216.3 435.8,215.4 C435.5,214.5 435.4,213.5 435.4,212.5 C435.4,211.5 435.7,210.6 436.1,209.7 C436.4,208.7 436.7,207.6 437.4,206.9 C438.1,206.1 439.2,205.3 440.2,205.1 C441.2,204.8 442.5,205.2 443.5,205.5 C444.5,205.8 445.5,206.3 446.3,207.0 C447.1,207.6 448.0,208.5 448.4,209.4 C448.7,210.3 448.6,211.5 448.5,212.5 C448.3,213.5 447.8,214.2 447.4,215.1 C447.0,216.1 446.4,217.5 446.2,217.9 Z"/></clipPath><ellipse cx="442.4" cy="214.1" rx="7.8" ry="7.6" fill="#c3c3bf" opacity="0.55" filter="url(#bl2)"/><g><g clip-path="url(#tc9)"><rect x="432.9" y="203.5" width="18.0" height="18.0" fill="#b8282f"/><ellipse cx="443.5" cy="215.9" rx="1.5" ry="0.7" fill="#e9c2ac" opacity="0.85" filter="url(#bl2)"/><ellipse cx="442.3" cy="213.9" rx="1.0" ry="1.2" fill="#e9c2ac" opacity="0.85" filter="url(#bl2)"/><ellipse cx="446.5" cy="207.9" rx="0.9" ry="0.8" fill="#e9c2ac" opacity="0.85" filter="url(#bl2)"/><ellipse cx="443.8" cy="216.6" rx="1.0" ry="1.6" fill="#e9c2ac" opacity="0.85" filter="url(#bl2)"/><ellipse cx="439.0" cy="212.9" rx="1.8" ry="0.8" fill="#e9c2ac" opacity="0.85" filter="url(#bl2)"/><ellipse cx="441.7" cy="216.3" rx="1.3" ry="1.6" fill="#e9c2ac" opacity="0.85" filter="url(#bl2)"/><ellipse cx="441.4" cy="217.2" rx="1.3" ry="1.6" fill="#e9c2ac" opacity="0.85" filter="url(#bl2)"/><ellipse cx="437.4" cy="210.8" rx="1.0" ry="1.2" fill="#e9c2ac" opacity="0.85" filter="url(#bl2)"/><ellipse cx="440.9" cy="209.8" rx="1.4" ry="1.5" fill="#e9c2ac" opacity="0.85" filter="url(#bl2)"/><ellipse cx="442.7" cy="209.8" rx="1.7" ry="1.5" fill="#e9c2ac" opacity="0.85" filter="url(#bl2)"/><ellipse cx="441.1" cy="212.1" rx="1.1" ry="1.6" fill="#e9c2ac" opacity="0.85" filter="url(#bl2)"/><ellipse cx="440.9" cy="211.1" rx="2.0" ry="1.4" fill="#8c0f1c" opacity="0.65" filter="url(#bl2)"/><ellipse cx="439.8" cy="211.7" rx="1.6" ry="1.7" fill="#8c0f1c" opacity="0.65" filter="url(#bl2)"/><path d="M447.4,215.1 C447.2,215.6 446.9,217.1 446.2,217.9 C445.6,218.8 444.7,219.9 443.7,220.2 C442.7,220.5 441.2,220.3 440.2,219.9 C439.2,219.5 438.3,218.7 437.6,217.9 C436.8,217.2 436.2,216.3 435.8,215.4 C435.5,214.5 435.4,213.5 435.4,212.5 C435.4,211.5 435.7,210.6 436.1,209.7 C436.4,208.7 436.7,207.6 437.4,206.9 C438.1,206.1 439.2,205.3 440.2,205.1 C441.2,204.8 442.5,205.2 443.5,205.5 C444.5,205.8 445.5,206.3 446.3,207.0 C447.1,207.6 448.0,208.5 448.4,209.4 C448.7,210.3 448.6,211.5 448.5,212.5 C448.3,213.5 447.8,214.2 447.4,215.1 C447.0,216.1 446.4,217.5 446.2,217.9 Z" fill="none" stroke="#d98f80" stroke-width="1.3" opacity="0.7"/></g></g><clipPath id="tc10"><path d="M486.0,216.5 C485.7,216.8 484.9,217.9 484.3,218.4 C483.6,218.9 483.0,219.3 482.2,219.6 C481.5,219.9 480.6,220.3 479.9,220.2 C479.1,220.0 478.3,219.5 477.6,218.9 C477.0,218.3 476.5,217.4 476.1,216.6 C475.6,215.7 475.0,214.7 475.0,213.7 C474.9,212.7 475.3,211.4 475.8,210.7 C476.4,210.0 477.5,209.7 478.2,209.4 C478.9,209.0 479.4,208.8 480.1,208.4 C480.8,208.0 481.6,207.1 482.4,207.1 C483.2,207.0 484.3,207.3 485.0,208.0 C485.6,208.6 486.0,209.8 486.3,210.8 C486.5,211.7 486.7,212.7 486.6,213.7 C486.6,214.7 486.4,215.7 486.0,216.5 C485.6,217.3 484.6,218.1 484.3,218.4 Z"/></clipPath><ellipse cx="481.6" cy="215.3" rx="6.3" ry="7.1" fill="#c3c3bf" opacity="0.55" filter="url(#bl2)"/><g><g clip-path="url(#tc10)"><rect x="473.6" y="205.2" width="15.0" height="17.0" fill="#b8282f"/><ellipse cx="479.3" cy="216.8" rx="1.1" ry="0.7" fill="#e9c2ac" opacity="0.85" filter="url(#bl2)"/><ellipse cx="479.9" cy="213.6" rx="1.0" ry="0.8" fill="#e9c2ac" opacity="0.85" filter="url(#bl2)"/><ellipse cx="484.3" cy="210.3" rx="1.4" ry="1.1" fill="#e9c2ac" opacity="0.85" filter="url(#bl2)"/><ellipse cx="481.1" cy="215.4" rx="0.7" ry="1.2" fill="#e9c2ac" opacity="0.85" filter="url(#bl2)"/><ellipse cx="480.8" cy="213.0" rx="0.7" ry="0.7" fill="#e9c2ac" opacity="0.85" filter="url(#bl2)"/><ellipse cx="481.0" cy="213.3" rx="1.0" ry="0.8" fill="#e9c2ac" opacity="0.85" filter="url(#bl2)"/><ellipse cx="480.0" cy="215.4" rx="1.5" ry="1.4" fill="#e9c2ac" opacity="0.85" filter="url(#bl2)"/><ellipse cx="477.0" cy="212.1" rx="1.1" ry="1.5" fill="#e9c2ac" opacity="0.85" filter="url(#bl2)"/><ellipse cx="481.6" cy="216.6" rx="1.3" ry="0.7" fill="#e9c2ac" opacity="0.85" filter="url(#bl2)"/><ellipse cx="485.1" cy="214.3" rx="1.3" ry="0.9" fill="#e9c2ac" opacity="0.85" filter="url(#bl2)"/><ellipse cx="484.4" cy="218.6" rx="1.0" ry="1.2" fill="#e9c2ac" opacity="0.85" filter="url(#bl2)"/><ellipse cx="477.5" cy="216.3" rx="1.3" ry="0.9" fill="#e9c2ac" opacity="0.85" filter="url(#bl2)"/><ellipse cx="482.9" cy="214.0" rx="1.6" ry="1.8" fill="#8c0f1c" opacity="0.65" filter="url(#bl2)"/><path d="M486.0,216.5 C485.7,216.8 484.9,217.9 484.3,218.4 C483.6,218.9 483.0,219.3 482.2,219.6 C481.5,219.9 480.6,220.3 479.9,220.2 C479.1,220.0 478.3,219.5 477.6,218.9 C477.0,218.3 476.5,217.4 476.1,216.6 C475.6,215.7 475.0,214.7 475.0,213.7 C474.9,212.7 475.3,211.4 475.8,210.7 C476.4,210.0 477.5,209.7 478.2,209.4 C478.9,209.0 479.4,208.8 480.1,208.4 C480.8,208.0 481.6,207.1 482.4,207.1 C483.2,207.0 484.3,207.3 485.0,208.0 C485.6,208.6 486.0,209.8 486.3,210.8 C486.5,211.7 486.7,212.7 486.6,213.7 C486.6,214.7 486.4,215.7 486.0,216.5 C485.6,217.3 484.6,218.1 484.3,218.4 Z" fill="none" stroke="#d98f80" stroke-width="1.3" opacity="0.7"/></g></g><clipPath id="tc11"><path d="M335.5,251.2 C335.0,251.7 333.6,253.3 332.5,253.8 C331.3,254.4 329.9,254.1 328.7,254.3 C327.5,254.5 326.4,255.1 325.1,255.1 C323.9,255.1 322.1,255.0 321.2,254.2 C320.3,253.5 320.0,251.8 319.7,250.7 C319.4,249.6 319.4,248.6 319.3,247.4 C319.1,246.2 318.4,244.8 318.7,243.6 C319.0,242.5 320.1,241.1 321.2,240.6 C322.3,240.0 324.0,240.2 325.2,240.1 C326.5,240.0 327.6,239.9 328.8,240.0 C330.0,240.2 331.5,240.4 332.4,241.0 C333.3,241.7 333.9,243.0 334.4,244.1 C334.9,245.1 335.2,246.2 335.4,247.4 C335.6,248.6 336.0,250.2 335.5,251.2 C335.0,252.3 333.0,253.4 332.5,253.8 Z"/></clipPath><ellipse cx="327.5" cy="249.0" rx="9.3" ry="8.6" fill="#c3c3bf" opacity="0.55" filter="url(#bl2)"/><g><g clip-path="url(#tc11)"><rect x="316.5" y="237.4" width="21.0" height="20.0" fill="#b8282f"/><ellipse cx="323.9" cy="245.5" rx="1.1" ry="1.0" fill="#e9c2ac" opacity="0.85" filter="url(#bl2)"/><ellipse cx="320.8" cy="248.4" rx="2.0" ry="1.0" fill="#e9c2ac" opacity="0.85" filter="url(#bl2)"/><ellipse cx="331.3" cy="247.2" rx="1.9" ry="1.6" fill="#e9c2ac" opacity="0.85" filter="url(#bl2)"/><ellipse cx="323.2" cy="251.0" rx="1.6" ry="1.4" fill="#e9c2ac" opacity="0.85" filter="url(#bl2)"/><ellipse cx="322.2" cy="244.5" rx="1.7" ry="1.7" fill="#e9c2ac" opacity="0.85" filter="url(#bl2)"/><ellipse cx="326.5" cy="248.1" rx="2.2" ry="1.3" fill="#e9c2ac" opacity="0.85" filter="url(#bl2)"/><ellipse cx="320.8" cy="248.1" rx="2.5" ry="0.8" fill="#e9c2ac" opacity="0.85" filter="url(#bl2)"/><ellipse cx="326.5" cy="249.3" rx="1.8" ry="0.9" fill="#e9c2ac" opacity="0.85" filter="url(#bl2)"/><ellipse cx="327.2" cy="242.4" rx="1.1" ry="1.2" fill="#e9c2ac" opacity="0.85" filter="url(#bl2)"/><ellipse cx="322.9" cy="247.5" rx="2.5" ry="1.1" fill="#e9c2ac" opacity="0.85" filter="url(#bl2)"/><ellipse cx="331.2" cy="246.2" rx="2.3" ry="1.8" fill="#8c0f1c" opacity="0.65" filter="url(#bl2)"/><ellipse cx="329.4" cy="250.3" rx="2.3" ry="1.4" fill="#8c0f1c" opacity="0.65" filter="url(#bl2)"/><path d="M335.5,251.2 C335.0,251.7 333.6,253.3 332.5,253.8 C331.3,254.4 329.9,254.1 328.7,254.3 C327.5,254.5 326.4,255.1 325.1,255.1 C323.9,255.1 322.1,255.0 321.2,254.2 C320.3,253.5 320.0,251.8 319.7,250.7 C319.4,249.6 319.4,248.6 319.3,247.4 C319.1,246.2 318.4,244.8 318.7,243.6 C319.0,242.5 320.1,241.1 321.2,240.6 C322.3,240.0 324.0,240.2 325.2,240.1 C326.5,240.0 327.6,239.9 328.8,240.0 C330.0,240.2 331.5,240.4 332.4,241.0 C333.3,241.7 333.9,243.0 334.4,244.1 C334.9,245.1 335.2,246.2 335.4,247.4 C335.6,248.6 336.0,250.2 335.5,251.2 C335.0,252.3 333.0,253.4 332.5,253.8 Z" fill="none" stroke="#d98f80" stroke-width="1.3" opacity="0.7"/></g></g><clipPath id="tc12"><path d="M367.4,250.8 C367.1,251.2 366.4,252.6 365.6,253.1 C364.9,253.7 363.9,253.8 363.0,253.9 C362.1,254.0 361.3,254.1 360.4,254.0 C359.5,253.9 358.4,253.7 357.7,253.2 C357.1,252.6 356.5,251.5 356.3,250.6 C356.0,249.7 356.2,248.7 356.2,247.8 C356.3,246.9 356.2,246.0 356.5,245.1 C356.7,244.1 357.0,243.0 357.7,242.3 C358.3,241.7 359.4,241.2 360.3,241.1 C361.2,241.0 362.2,241.2 363.0,241.5 C363.9,241.8 364.7,242.3 365.3,242.9 C366.0,243.5 366.5,244.3 366.8,245.1 C367.2,245.9 367.5,246.9 367.5,247.8 C367.6,248.7 367.7,249.9 367.4,250.8 C367.1,251.7 365.9,252.7 365.6,253.1 Z"/></clipPath><ellipse cx="362.2" cy="249.4" rx="6.8" ry="7.1" fill="#c3c3bf" opacity="0.55" filter="url(#bl2)"/><g><g clip-path="url(#tc12)"><rect x="353.7" y="239.3" width="16.0" height="17.0" fill="#b8282f"/><ellipse cx="360.0" cy="248.4" rx="1.0" ry="1.1" fill="#e9c2ac" opacity="0.85" filter="url(#bl2)"/><ellipse cx="365.3" cy="248.7" rx="1.2" ry="1.4" fill="#e9c2ac" opacity="0.85" filter="url(#bl2)"/><ellipse cx="366.1" cy="246.2" rx="0.8" ry="0.9" fill="#e9c2ac" opacity="0.85" filter="url(#bl2)"/><ellipse cx="358.6" cy="246.9" rx="1.5" ry="1.4" fill="#e9c2ac" opacity="0.85" filter="url(#bl2)"/><ellipse cx="358.2" cy="244.5" rx="1.1" ry="1.5" fill="#e9c2ac" opacity="0.85" filter="url(#bl2)"/><ellipse cx="361.6" cy="248.2" rx="1.0" ry="1.2" fill="#e9c2ac" opacity="0.85" filter="url(#bl2)"/><ellipse cx="362.6" cy="246.2" rx="1.4" ry="1.4" fill="#e9c2ac" opacity="0.85" filter="url(#bl2)"/><ellipse cx="360.4" cy="247.4" rx="0.9" ry="0.9" fill="#e9c2ac" opacity="0.85" filter="url(#bl2)"/><ellipse cx="357.6" cy="243.5" rx="0.8" ry="1.6" fill="#e9c2ac" opacity="0.85" filter="url(#bl2)"/><ellipse cx="363.8" cy="248.6" rx="1.6" ry="0.8" fill="#e9c2ac" opacity="0.85" filter="url(#bl2)"/><ellipse cx="360.4" cy="248.6" rx="1.6" ry="1.2" fill="#e9c2ac" opacity="0.85" filter="url(#bl2)"/><ellipse cx="358.3" cy="243.4" rx="0.8" ry="1.4" fill="#e9c2ac" opacity="0.85" filter="url(#bl2)"/><ellipse cx="365.2" cy="244.3" rx="1.6" ry="0.7" fill="#e9c2ac" opacity="0.85" filter="url(#bl2)"/><ellipse cx="363.7" cy="249.1" rx="1.3" ry="1.4" fill="#8c0f1c" opacity="0.65" filter="url(#bl2)"/><ellipse cx="360.0" cy="250.6" rx="1.1" ry="1.2" fill="#8c0f1c" opacity="0.65" filter="url(#bl2)"/><path d="M367.4,250.8 C367.1,251.2 366.4,252.6 365.6,253.1 C364.9,253.7 363.9,253.8 363.0,253.9 C362.1,254.0 361.3,254.1 360.4,254.0 C359.5,253.9 358.4,253.7 357.7,253.2 C357.1,252.6 356.5,251.5 356.3,250.6 C356.0,249.7 356.2,248.7 356.2,247.8 C356.3,246.9 356.2,246.0 356.5,245.1 C356.7,244.1 357.0,243.0 357.7,242.3 C358.3,241.7 359.4,241.2 360.3,241.1 C361.2,241.0 362.2,241.2 363.0,241.5 C363.9,241.8 364.7,242.3 365.3,242.9 C366.0,243.5 366.5,244.3 366.8,245.1 C367.2,245.9 367.5,246.9 367.5,247.8 C367.6,248.7 367.7,249.9 367.4,250.8 C367.1,251.7 365.9,252.7 365.6,253.1 Z" fill="none" stroke="#d98f80" stroke-width="1.3" opacity="0.7"/></g></g><clipPath id="tc13"><path d="M404.1,250.7 C404.0,251.3 403.8,253.0 403.2,253.9 C402.6,254.8 401.7,255.8 400.8,256.0 C399.9,256.3 398.8,255.8 397.9,255.4 C397.1,255.0 396.3,254.2 395.7,253.5 C395.1,252.7 394.4,251.9 394.1,250.9 C393.8,250.0 393.6,248.8 393.6,247.8 C393.6,246.8 393.8,245.7 394.1,244.7 C394.4,243.6 394.8,242.5 395.4,241.7 C396.0,240.9 397.0,240.3 397.9,240.1 C398.8,239.9 399.8,240.1 400.6,240.4 C401.5,240.7 402.4,241.1 403.1,241.8 C403.8,242.5 404.5,243.5 404.8,244.5 C405.1,245.5 404.9,246.8 404.8,247.8 C404.7,248.8 404.4,249.7 404.1,250.7 C403.9,251.7 403.4,253.4 403.2,253.9 Z"/></clipPath><ellipse cx="399.8" cy="249.4" rx="6.8" ry="8.1" fill="#c3c3bf" opacity="0.55" filter="url(#bl2)"/><g><g clip-path="url(#tc13)"><rect x="391.3" y="238.3" width="16.0" height="19.0" fill="#b8282f"/><ellipse cx="401.1" cy="249.1" rx="1.3" ry="1.0" fill="#e9c2ac" opacity="0.85" filter="url(#bl2)"/><ellipse cx="396.2" cy="248.7" rx="0.7" ry="0.8" fill="#e9c2ac" opacity="0.85" filter="url(#bl2)"/><ellipse cx="397.9" cy="248.8" rx="1.7" ry="1.3" fill="#e9c2ac" opacity="0.85" filter="url(#bl2)"/><ellipse cx="397.6" cy="252.9" rx="1.0" ry="1.3" fill="#e9c2ac" opacity="0.85" filter="url(#bl2)"/><ellipse cx="399.1" cy="242.7" rx="0.8" ry="0.8" fill="#e9c2ac" opacity="0.85" filter="url(#bl2)"/><ellipse cx="401.9" cy="246.4" rx="1.5" ry="1.3" fill="#e9c2ac" opacity="0.85" filter="url(#bl2)"/><ellipse cx="399.3" cy="251.9" rx="1.1" ry="0.9" fill="#e9c2ac" opacity="0.85" filter="url(#bl2)"/><ellipse cx="400.8" cy="242.5" rx="1.3" ry="1.2" fill="#e9c2ac" opacity="0.85" filter="url(#bl2)"/><ellipse cx="398.6" cy="250.4" rx="1.6" ry="1.9" fill="#e9c2ac" opacity="0.85" filter="url(#bl2)"/><ellipse cx="401.8" cy="251.4" rx="1.7" ry="1.2" fill="#e9c2ac" opacity="0.85" filter="url(#bl2)"/><ellipse cx="397.9" cy="242.5" rx="1.2" ry="0.8" fill="#e9c2ac" opacity="0.85" filter="url(#bl2)"/><ellipse cx="396.7" cy="246.8" rx="1.2" ry="1.7" fill="#e9c2ac" opacity="0.85" filter="url(#bl2)"/><ellipse cx="399.1" cy="249.3" rx="0.9" ry="1.9" fill="#8c0f1c" opacity="0.65" filter="url(#bl2)"/><ellipse cx="400.9" cy="244.1" rx="1.2" ry="1.8" fill="#8c0f1c" opacity="0.65" filter="url(#bl2)"/><path d="M404.1,250.7 C404.0,251.3 403.8,253.0 403.2,253.9 C402.6,254.8 401.7,255.8 400.8,256.0 C399.9,256.3 398.8,255.8 397.9,255.4 C397.1,255.0 396.3,254.2 395.7,253.5 C395.1,252.7 394.4,251.9 394.1,250.9 C393.8,250.0 393.6,248.8 393.6,247.8 C393.6,246.8 393.8,245.7 394.1,244.7 C394.4,243.6 394.8,242.5 395.4,241.7 C396.0,240.9 397.0,240.3 397.9,240.1 C398.8,239.9 399.8,240.1 400.6,240.4 C401.5,240.7 402.4,241.1 403.1,241.8 C403.8,242.5 404.5,243.5 404.8,244.5 C405.1,245.5 404.9,246.8 404.8,247.8 C404.7,248.8 404.4,249.7 404.1,250.7 C403.9,251.7 403.4,253.4 403.2,253.9 Z" fill="none" stroke="#d98f80" stroke-width="1.3" opacity="0.7"/></g></g><clipPath id="tc14"><path d="M444.3,254.4 C443.9,254.8 443.0,256.1 442.2,256.5 C441.4,256.9 440.4,256.7 439.6,256.8 C438.8,256.8 438.1,256.9 437.4,256.8 C436.7,256.6 435.9,256.3 435.3,255.8 C434.7,255.3 434.2,254.6 433.7,253.9 C433.2,253.2 432.6,252.3 432.4,251.4 C432.3,250.5 432.4,249.2 432.8,248.4 C433.3,247.7 434.5,247.3 435.2,247.0 C436.0,246.6 436.7,246.5 437.4,246.3 C438.2,246.0 439.0,245.3 439.8,245.4 C440.5,245.4 441.5,245.9 442.0,246.6 C442.6,247.2 442.6,248.3 442.9,249.1 C443.2,249.9 443.7,250.5 443.9,251.4 C444.1,252.3 444.5,253.6 444.3,254.4 C444.0,255.3 442.6,256.1 442.2,256.5 Z"/></clipPath><ellipse cx="439.0" cy="253.0" rx="6.3" ry="6.6" fill="#c3c3bf" opacity="0.55" filter="url(#bl2)"/><g><g clip-path="url(#tc14)"><rect x="431.0" y="243.4" width="15.0" height="16.0" fill="#b8282f"/><ellipse cx="442.3" cy="249.9" rx="1.3" ry="0.7" fill="#e9c2ac" opacity="0.85" filter="url(#bl2)"/><ellipse cx="441.9" cy="247.4" rx="0.9" ry="1.2" fill="#e9c2ac" opacity="0.85" filter="url(#bl2)"/><ellipse cx="436.2" cy="250.7" rx="1.0" ry="1.2" fill="#e9c2ac" opacity="0.85" filter="url(#bl2)"/><ellipse cx="438.6" cy="254.4" rx="1.3" ry="1.3" fill="#e9c2ac" opacity="0.85" filter="url(#bl2)"/><ellipse cx="434.5" cy="253.0" rx="1.6" ry="0.7" fill="#e9c2ac" opacity="0.85" filter="url(#bl2)"/><ellipse cx="440.8" cy="254.0" rx="0.7" ry="1.2" fill="#e9c2ac" opacity="0.85" filter="url(#bl2)"/><ellipse cx="436.9" cy="250.2" rx="1.6" ry="1.1" fill="#e9c2ac" opacity="0.85" filter="url(#bl2)"/><ellipse cx="438.3" cy="254.1" rx="1.0" ry="0.7" fill="#e9c2ac" opacity="0.85" filter="url(#bl2)"/><ellipse cx="442.5" cy="248.4" rx="1.6" ry="1.5" fill="#e9c2ac" opacity="0.85" filter="url(#bl2)"/><ellipse cx="438.3" cy="249.1" rx="1.2" ry="1.4" fill="#8c0f1c" opacity="0.65" filter="url(#bl2)"/><ellipse cx="440.1" cy="254.4" rx="1.0" ry="0.9" fill="#8c0f1c" opacity="0.65" filter="url(#bl2)"/><path d="M444.3,254.4 C443.9,254.8 443.0,256.1 442.2,256.5 C441.4,256.9 440.4,256.7 439.6,256.8 C438.8,256.8 438.1,256.9 437.4,256.8 C436.7,256.6 435.9,256.3 435.3,255.8 C434.7,255.3 434.2,254.6 433.7,253.9 C433.2,253.2 432.6,252.3 432.4,251.4 C432.3,250.5 432.4,249.2 432.8,248.4 C433.3,247.7 434.5,247.3 435.2,247.0 C436.0,246.6 436.7,246.5 437.4,246.3 C438.2,246.0 439.0,245.3 439.8,245.4 C440.5,245.4 441.5,245.9 442.0,246.6 C442.6,247.2 442.6,248.3 442.9,249.1 C443.2,249.9 443.7,250.5 443.9,251.4 C444.1,252.3 444.5,253.6 444.3,254.4 C444.0,255.3 442.6,256.1 442.2,256.5 Z" fill="none" stroke="#d98f80" stroke-width="1.3" opacity="0.7"/></g></g><clipPath id="tc15"><path d="M485.8,254.5 C485.4,254.9 484.3,256.3 483.4,256.7 C482.6,257.1 481.4,256.9 480.5,256.9 C479.6,257.0 478.9,257.1 478.0,257.0 C477.2,256.9 476.2,256.6 475.6,256.1 C474.9,255.6 474.5,254.7 474.1,253.9 C473.7,253.1 473.5,252.2 473.4,251.3 C473.4,250.4 473.4,249.4 473.7,248.5 C474.1,247.7 474.7,246.9 475.4,246.3 C476.1,245.7 477.0,245.1 477.9,244.9 C478.8,244.6 479.9,244.5 480.7,244.8 C481.5,245.2 482.3,246.1 482.7,246.8 C483.2,247.6 483.2,248.4 483.6,249.2 C484.0,249.9 484.8,250.4 485.2,251.3 C485.5,252.2 486.0,253.6 485.8,254.5 C485.5,255.4 483.8,256.3 483.4,256.7 Z"/></clipPath><ellipse cx="479.8" cy="252.9" rx="6.8" ry="6.8" fill="#c3c3bf" opacity="0.55" filter="url(#bl2)"/><g><g clip-path="url(#tc15)"><rect x="471.3" y="243.1" width="16.0" height="16.4" fill="#b8282f"/><ellipse cx="480.2" cy="250.7" rx="1.5" ry="0.8" fill="#e9c2ac" opacity="0.85" filter="url(#bl2)"/><ellipse cx="479.0" cy="255.1" rx="1.4" ry="1.5" fill="#e9c2ac" opacity="0.85" filter="url(#bl2)"/><ellipse cx="481.6" cy="247.9" rx="1.4" ry="0.8" fill="#e9c2ac" opacity="0.85" filter="url(#bl2)"/><ellipse cx="475.4" cy="252.3" rx="0.7" ry="0.7" fill="#e9c2ac" opacity="0.85" filter="url(#bl2)"/><ellipse cx="478.3" cy="248.3" rx="1.4" ry="0.9" fill="#e9c2ac" opacity="0.85" filter="url(#bl2)"/><ellipse cx="477.0" cy="251.8" rx="1.3" ry="1.5" fill="#e9c2ac" opacity="0.85" filter="url(#bl2)"/><ellipse cx="482.2" cy="255.3" rx="0.8" ry="0.7" fill="#e9c2ac" opacity="0.85" filter="url(#bl2)"/><ellipse cx="481.6" cy="250.4" rx="0.8" ry="1.1" fill="#e9c2ac" opacity="0.85" filter="url(#bl2)"/><ellipse cx="477.7" cy="248.6" rx="1.4" ry="1.3" fill="#e9c2ac" opacity="0.85" filter="url(#bl2)"/><ellipse cx="477.1" cy="252.8" rx="1.0" ry="1.5" fill="#e9c2ac" opacity="0.85" filter="url(#bl2)"/><ellipse cx="478.4" cy="251.1" rx="0.9" ry="1.1" fill="#e9c2ac" opacity="0.85" filter="url(#bl2)"/><ellipse cx="478.0" cy="253.1" rx="1.0" ry="1.4" fill="#8c0f1c" opacity="0.65" filter="url(#bl2)"/><path d="M485.8,254.5 C485.4,254.9 484.3,256.3 483.4,256.7 C482.6,257.1 481.4,256.9 480.5,256.9 C479.6,257.0 478.9,257.1 478.0,257.0 C477.2,256.9 476.2,256.6 475.6,256.1 C474.9,255.6 474.5,254.7 474.1,253.9 C473.7,253.1 473.5,252.2 473.4,251.3 C473.4,250.4 473.4,249.4 473.7,248.5 C474.1,247.7 474.7,246.9 475.4,246.3 C476.1,245.7 477.0,245.1 477.9,244.9 C478.8,244.6 479.9,244.5 480.7,244.8 C481.5,245.2 482.3,246.1 482.7,246.8 C483.2,247.6 483.2,248.4 483.6,249.2 C484.0,249.9 484.8,250.4 485.2,251.3 C485.5,252.2 486.0,253.6 485.8,254.5 C485.5,255.4 483.8,256.3 483.4,256.7 Z" fill="none" stroke="#d98f80" stroke-width="1.3" opacity="0.7"/></g></g><clipPath id="tc16"><path d="M330.8,285.8 C330.5,286.1 329.8,287.3 329.1,287.7 C328.3,288.2 327.2,288.3 326.3,288.4 C325.4,288.5 324.6,288.4 323.7,288.3 C322.7,288.2 321.6,288.3 320.7,287.9 C319.8,287.6 318.8,286.8 318.4,286.1 C318.0,285.3 318.1,284.2 318.3,283.4 C318.5,282.6 319.0,281.8 319.5,281.2 C320.0,280.5 320.5,279.8 321.2,279.3 C321.9,278.9 322.7,278.5 323.6,278.3 C324.5,278.1 325.5,278.0 326.4,278.1 C327.4,278.2 328.5,278.4 329.3,278.8 C330.1,279.3 330.8,280.1 331.2,280.9 C331.5,281.6 331.5,282.6 331.4,283.4 C331.4,284.2 331.2,285.1 330.8,285.8 C330.4,286.5 329.4,287.4 329.1,287.7 Z"/></clipPath><ellipse cx="325.5" cy="285.0" rx="7.3" ry="6.1" fill="#c3c3bf" opacity="0.55" filter="url(#bl2)"/><g><g clip-path="url(#tc16)"><rect x="316.5" y="275.9" width="17.0" height="15.0" fill="#b8282f"/><ellipse cx="329.1" cy="279.9" rx="1.3" ry="0.9" fill="#e9c2ac" opacity="0.85" filter="url(#bl2)"/><ellipse cx="320.3" cy="284.4" rx="1.3" ry="1.0" fill="#e9c2ac" opacity="0.85" filter="url(#bl2)"/><ellipse cx="328.2" cy="284.4" rx="1.1" ry="1.4" fill="#e9c2ac" opacity="0.85" filter="url(#bl2)"/><ellipse cx="329.1" cy="285.0" rx="0.9" ry="1.1" fill="#e9c2ac" opacity="0.85" filter="url(#bl2)"/><ellipse cx="320.1" cy="281.6" rx="1.3" ry="1.0" fill="#e9c2ac" opacity="0.85" filter="url(#bl2)"/><ellipse cx="327.8" cy="283.9" rx="1.5" ry="0.9" fill="#e9c2ac" opacity="0.85" filter="url(#bl2)"/><ellipse cx="327.3" cy="280.8" rx="1.8" ry="1.3" fill="#e9c2ac" opacity="0.85" filter="url(#bl2)"/><ellipse cx="329.0" cy="287.1" rx="1.7" ry="0.8" fill="#e9c2ac" opacity="0.85" filter="url(#bl2)"/><ellipse cx="329.0" cy="286.0" rx="1.3" ry="0.6" fill="#e9c2ac" opacity="0.85" filter="url(#bl2)"/><ellipse cx="329.6" cy="281.0" rx="1.0" ry="1.0" fill="#e9c2ac" opacity="0.85" filter="url(#bl2)"/><ellipse cx="327.3" cy="282.1" rx="1.2" ry="1.5" fill="#8c0f1c" opacity="0.65" filter="url(#bl2)"/><ellipse cx="325.4" cy="283.8" rx="1.6" ry="1.5" fill="#8c0f1c" opacity="0.65" filter="url(#bl2)"/><path d="M330.8,285.8 C330.5,286.1 329.8,287.3 329.1,287.7 C328.3,288.2 327.2,288.3 326.3,288.4 C325.4,288.5 324.6,288.4 323.7,288.3 C322.7,288.2 321.6,288.3 320.7,287.9 C319.8,287.6 318.8,286.8 318.4,286.1 C318.0,285.3 318.1,284.2 318.3,283.4 C318.5,282.6 319.0,281.8 319.5,281.2 C320.0,280.5 320.5,279.8 321.2,279.3 C321.9,278.9 322.7,278.5 323.6,278.3 C324.5,278.1 325.5,278.0 326.4,278.1 C327.4,278.2 328.5,278.4 329.3,278.8 C330.1,279.3 330.8,280.1 331.2,280.9 C331.5,281.6 331.5,282.6 331.4,283.4 C331.4,284.2 331.2,285.1 330.8,285.8 C330.4,286.5 329.4,287.4 329.1,287.7 Z" fill="none" stroke="#d98f80" stroke-width="1.3" opacity="0.7"/></g></g><clipPath id="tc17"><path d="M366.9,286.6 C366.6,287.0 366.0,288.0 365.5,288.8 C365.0,289.5 364.4,290.6 363.7,291.0 C362.9,291.4 361.7,291.4 360.9,291.1 C360.1,290.8 359.4,289.9 358.8,289.1 C358.3,288.4 357.9,287.5 357.7,286.6 C357.4,285.8 357.4,284.9 357.5,284.0 C357.5,283.1 357.7,282.4 357.9,281.5 C358.0,280.5 358.1,279.3 358.6,278.5 C359.1,277.6 360.0,276.6 360.8,276.4 C361.7,276.3 362.8,277.1 363.5,277.6 C364.3,278.1 364.7,278.9 365.3,279.6 C365.9,280.2 366.7,280.5 367.2,281.2 C367.6,282.0 368.1,283.1 368.0,284.0 C368.0,284.9 367.3,285.8 366.9,286.6 C366.4,287.4 365.7,288.4 365.5,288.8 Z"/></clipPath><ellipse cx="362.8" cy="285.6" rx="6.3" ry="7.1" fill="#c3c3bf" opacity="0.55" filter="url(#bl2)"/><g><g clip-path="url(#tc17)"><rect x="354.8" y="275.5" width="15.0" height="17.0" fill="#b8282f"/><ellipse cx="365.6" cy="281.9" rx="1.1" ry="1.3" fill="#e9c2ac" opacity="0.85" filter="url(#bl2)"/><ellipse cx="364.5" cy="286.0" rx="1.3" ry="0.9" fill="#e9c2ac" opacity="0.85" filter="url(#bl2)"/><ellipse cx="361.0" cy="286.4" rx="1.2" ry="1.6" fill="#e9c2ac" opacity="0.85" filter="url(#bl2)"/><ellipse cx="358.8" cy="288.7" rx="1.1" ry="1.0" fill="#e9c2ac" opacity="0.85" filter="url(#bl2)"/><ellipse cx="359.0" cy="279.8" rx="1.6" ry="1.5" fill="#e9c2ac" opacity="0.85" filter="url(#bl2)"/><ellipse cx="366.3" cy="287.4" rx="1.1" ry="0.9" fill="#e9c2ac" opacity="0.85" filter="url(#bl2)"/><ellipse cx="362.6" cy="281.5" rx="0.8" ry="1.2" fill="#e9c2ac" opacity="0.85" filter="url(#bl2)"/><ellipse cx="362.9" cy="288.7" rx="1.5" ry="0.7" fill="#e9c2ac" opacity="0.85" filter="url(#bl2)"/><ellipse cx="359.6" cy="284.6" rx="1.4" ry="1.7" fill="#e9c2ac" opacity="0.85" filter="url(#bl2)"/><ellipse cx="362.6" cy="283.8" rx="0.8" ry="1.4" fill="#8c0f1c" opacity="0.65" filter="url(#bl2)"/><path d="M366.9,286.6 C366.6,287.0 366.0,288.0 365.5,288.8 C365.0,289.5 364.4,290.6 363.7,291.0 C362.9,291.4 361.7,291.4 360.9,291.1 C360.1,290.8 359.4,289.9 358.8,289.1 C358.3,288.4 357.9,287.5 357.7,286.6 C357.4,285.8 357.4,284.9 357.5,284.0 C357.5,283.1 357.7,282.4 357.9,281.5 C358.0,280.5 358.1,279.3 358.6,278.5 C359.1,277.6 360.0,276.6 360.8,276.4 C361.7,276.3 362.8,277.1 363.5,277.6 C364.3,278.1 364.7,278.9 365.3,279.6 C365.9,280.2 366.7,280.5 367.2,281.2 C367.6,282.0 368.1,283.1 368.0,284.0 C368.0,284.9 367.3,285.8 366.9,286.6 C366.4,287.4 365.7,288.4 365.5,288.8 Z" fill="none" stroke="#d98f80" stroke-width="1.3" opacity="0.7"/></g></g><clipPath id="tc18"><path d="M402.6,285.6 C402.4,285.9 401.9,287.1 401.3,287.5 C400.7,287.9 399.8,288.1 399.1,288.2 C398.4,288.2 397.7,288.1 397.0,287.9 C396.3,287.7 395.5,287.6 395.0,287.2 C394.4,286.8 393.8,286.2 393.6,285.5 C393.4,284.9 393.6,284.1 393.7,283.4 C393.8,282.7 394.0,282.2 394.2,281.6 C394.3,280.9 394.3,280.0 394.8,279.3 C395.2,278.7 396.0,278.0 396.7,277.8 C397.5,277.7 398.5,278.1 399.1,278.5 C399.8,278.8 400.2,279.6 400.7,280.1 C401.1,280.6 401.4,281.0 401.8,281.6 C402.1,282.1 402.5,282.7 402.6,283.4 C402.7,284.1 402.8,284.9 402.6,285.6 C402.4,286.3 401.5,287.2 401.3,287.5 Z"/></clipPath><ellipse cx="398.5" cy="285.0" rx="5.6" ry="5.4" fill="#c3c3bf" opacity="0.55" filter="url(#bl2)"/><g><g clip-path="url(#tc18)"><rect x="391.2" y="276.6" width="13.6" height="13.6" fill="#b8282f"/><ellipse cx="395.8" cy="286.9" rx="1.3" ry="0.7" fill="#e9c2ac" opacity="0.85" filter="url(#bl2)"/><ellipse cx="397.2" cy="284.7" rx="0.6" ry="0.6" fill="#e9c2ac" opacity="0.85" filter="url(#bl2)"/><ellipse cx="400.1" cy="282.0" rx="0.8" ry="1.2" fill="#e9c2ac" opacity="0.85" filter="url(#bl2)"/><ellipse cx="399.6" cy="286.0" rx="1.3" ry="0.9" fill="#e9c2ac" opacity="0.85" filter="url(#bl2)"/><ellipse cx="395.7" cy="284.8" rx="1.0" ry="1.0" fill="#e9c2ac" opacity="0.85" filter="url(#bl2)"/><ellipse cx="399.3" cy="285.5" rx="0.6" ry="0.6" fill="#e9c2ac" opacity="0.85" filter="url(#bl2)"/><ellipse cx="400.8" cy="284.7" rx="1.3" ry="0.5" fill="#e9c2ac" opacity="0.85" filter="url(#bl2)"/><ellipse cx="398.2" cy="279.9" rx="0.7" ry="0.5" fill="#e9c2ac" opacity="0.85" filter="url(#bl2)"/><ellipse cx="395.8" cy="281.7" rx="0.6" ry="1.0" fill="#e9c2ac" opacity="0.85" filter="url(#bl2)"/><ellipse cx="398.4" cy="284.3" rx="1.4" ry="0.9" fill="#8c0f1c" opacity="0.65" filter="url(#bl2)"/><path d="M402.6,285.6 C402.4,285.9 401.9,287.1 401.3,287.5 C400.7,287.9 399.8,288.1 399.1,288.2 C398.4,288.2 397.7,288.1 397.0,287.9 C396.3,287.7 395.5,287.6 395.0,287.2 C394.4,286.8 393.8,286.2 393.6,285.5 C393.4,284.9 393.6,284.1 393.7,283.4 C393.8,282.7 394.0,282.2 394.2,281.6 C394.3,280.9 394.3,280.0 394.8,279.3 C395.2,278.7 396.0,278.0 396.7,277.8 C397.5,277.7 398.5,278.1 399.1,278.5 C399.8,278.8 400.2,279.6 400.7,280.1 C401.1,280.6 401.4,281.0 401.8,281.6 C402.1,282.1 402.5,282.7 402.6,283.4 C402.7,284.1 402.8,284.9 402.6,285.6 C402.4,286.3 401.5,287.2 401.3,287.5 Z" fill="none" stroke="#d98f80" stroke-width="1.3" opacity="0.7"/></g></g><clipPath id="tc19"><path d="M441.6,285.7 C441.3,285.9 440.5,286.7 439.9,287.0 C439.3,287.3 438.7,287.4 438.1,287.5 C437.5,287.7 436.9,288.0 436.2,288.0 C435.5,288.0 434.6,287.9 434.1,287.5 C433.6,287.1 433.3,286.2 433.1,285.6 C432.9,284.9 432.9,284.3 432.8,283.6 C432.7,282.9 432.5,282.1 432.7,281.4 C432.9,280.8 433.5,280.0 434.1,279.7 C434.7,279.3 435.6,279.4 436.3,279.5 C436.9,279.5 437.5,279.6 438.1,279.7 C438.7,279.8 439.4,279.8 440.0,280.1 C440.6,280.4 441.3,280.9 441.6,281.5 C442.0,282.0 442.3,282.9 442.3,283.6 C442.2,284.3 442.0,285.2 441.6,285.7 C441.2,286.3 440.2,286.8 439.9,287.0 Z"/></clipPath><ellipse cx="437.7" cy="285.2" rx="5.4" ry="5.2" fill="#c3c3bf" opacity="0.55" filter="url(#bl2)"/><g><g clip-path="url(#tc19)"><rect x="430.6" y="277.0" width="13.2" height="13.2" fill="#b8282f"/><ellipse cx="437.0" cy="286.4" rx="0.8" ry="1.0" fill="#e9c2ac" opacity="0.85" filter="url(#bl2)"/><ellipse cx="438.6" cy="282.7" rx="1.1" ry="1.1" fill="#e9c2ac" opacity="0.85" filter="url(#bl2)"/><ellipse cx="435.2" cy="281.9" rx="0.9" ry="0.6" fill="#e9c2ac" opacity="0.85" filter="url(#bl2)"/><ellipse cx="436.5" cy="285.2" rx="1.3" ry="0.9" fill="#e9c2ac" opacity="0.85" filter="url(#bl2)"/><ellipse cx="437.5" cy="286.5" rx="0.7" ry="1.0" fill="#e9c2ac" opacity="0.85" filter="url(#bl2)"/><ellipse cx="436.4" cy="286.6" rx="0.7" ry="0.6" fill="#e9c2ac" opacity="0.85" filter="url(#bl2)"/><ellipse cx="434.5" cy="283.3" rx="1.1" ry="0.7" fill="#e9c2ac" opacity="0.85" filter="url(#bl2)"/><ellipse cx="439.9" cy="285.7" rx="0.8" ry="0.9" fill="#e9c2ac" opacity="0.85" filter="url(#bl2)"/><ellipse cx="438.3" cy="281.1" rx="1.1" ry="0.9" fill="#e9c2ac" opacity="0.85" filter="url(#bl2)"/><ellipse cx="439.8" cy="282.2" rx="0.7" ry="0.9" fill="#e9c2ac" opacity="0.85" filter="url(#bl2)"/><ellipse cx="439.7" cy="281.0" rx="0.7" ry="0.5" fill="#e9c2ac" opacity="0.85" filter="url(#bl2)"/><ellipse cx="439.4" cy="284.8" rx="0.8" ry="1.3" fill="#8c0f1c" opacity="0.65" filter="url(#bl2)"/><path d="M441.6,285.7 C441.3,285.9 440.5,286.7 439.9,287.0 C439.3,287.3 438.7,287.4 438.1,287.5 C437.5,287.7 436.9,288.0 436.2,288.0 C435.5,288.0 434.6,287.9 434.1,287.5 C433.6,287.1 433.3,286.2 433.1,285.6 C432.9,284.9 432.9,284.3 432.8,283.6 C432.7,282.9 432.5,282.1 432.7,281.4 C432.9,280.8 433.5,280.0 434.1,279.7 C434.7,279.3 435.6,279.4 436.3,279.5 C436.9,279.5 437.5,279.6 438.1,279.7 C438.7,279.8 439.4,279.8 440.0,280.1 C440.6,280.4 441.3,280.9 441.6,281.5 C442.0,282.0 442.3,282.9 442.3,283.6 C442.2,284.3 442.0,285.2 441.6,285.7 C441.2,286.3 440.2,286.8 439.9,287.0 Z" fill="none" stroke="#d98f80" stroke-width="1.3" opacity="0.7"/></g></g><clipPath id="tc20"><path d="M481.8,286.1 C481.6,286.4 480.8,287.3 480.2,287.7 C479.7,288.2 479.1,288.4 478.5,288.7 C477.9,288.9 477.2,289.3 476.6,289.3 C475.9,289.2 475.2,288.8 474.6,288.3 C474.1,287.8 473.7,286.9 473.4,286.1 C473.1,285.3 472.9,284.3 473.0,283.5 C473.0,282.7 473.3,281.7 473.6,281.0 C474.0,280.3 474.5,279.9 475.0,279.3 C475.5,278.8 476.0,278.3 476.6,278.0 C477.2,277.7 478.0,277.3 478.7,277.5 C479.3,277.6 480.0,278.3 480.5,278.9 C480.9,279.5 481.2,280.3 481.5,281.1 C481.8,281.8 482.2,282.7 482.3,283.5 C482.3,284.3 482.2,285.4 481.8,286.1 C481.5,286.8 480.5,287.5 480.2,287.7 Z"/></clipPath><ellipse cx="478.1" cy="285.1" rx="5.3" ry="6.4" fill="#c3c3bf" opacity="0.55" filter="url(#bl2)"/><g><g clip-path="url(#tc20)"><rect x="471.1" y="275.7" width="13.0" height="15.6" fill="#b8282f"/><ellipse cx="475.2" cy="280.0" rx="0.9" ry="1.3" fill="#e9c2ac" opacity="0.85" filter="url(#bl2)"/><ellipse cx="479.5" cy="283.8" rx="0.6" ry="1.5" fill="#e9c2ac" opacity="0.85" filter="url(#bl2)"/><ellipse cx="474.7" cy="279.3" rx="1.1" ry="1.2" fill="#e9c2ac" opacity="0.85" filter="url(#bl2)"/><ellipse cx="479.3" cy="281.5" rx="1.3" ry="1.4" fill="#e9c2ac" opacity="0.85" filter="url(#bl2)"/><ellipse cx="474.5" cy="287.5" rx="1.2" ry="1.4" fill="#e9c2ac" opacity="0.85" filter="url(#bl2)"/><ellipse cx="477.5" cy="286.1" rx="1.3" ry="1.4" fill="#e9c2ac" opacity="0.85" filter="url(#bl2)"/><ellipse cx="476.1" cy="280.6" rx="1.1" ry="1.0" fill="#e9c2ac" opacity="0.85" filter="url(#bl2)"/><ellipse cx="480.0" cy="283.1" rx="0.7" ry="0.9" fill="#e9c2ac" opacity="0.85" filter="url(#bl2)"/><ellipse cx="480.7" cy="285.2" rx="0.7" ry="0.8" fill="#e9c2ac" opacity="0.85" filter="url(#bl2)"/><ellipse cx="476.8" cy="287.3" rx="1.0" ry="0.8" fill="#e9c2ac" opacity="0.85" filter="url(#bl2)"/><ellipse cx="475.7" cy="281.3" rx="1.0" ry="0.8" fill="#e9c2ac" opacity="0.85" filter="url(#bl2)"/><ellipse cx="474.9" cy="286.3" rx="1.1" ry="1.1" fill="#e9c2ac" opacity="0.85" filter="url(#bl2)"/><ellipse cx="475.9" cy="282.8" rx="1.3" ry="0.8" fill="#e9c2ac" opacity="0.85" filter="url(#bl2)"/><ellipse cx="477.3" cy="281.2" rx="0.9" ry="0.9" fill="#8c0f1c" opacity="0.65" filter="url(#bl2)"/><path d="M481.8,286.1 C481.6,286.4 480.8,287.3 480.2,287.7 C479.7,288.2 479.1,288.4 478.5,288.7 C477.9,288.9 477.2,289.3 476.6,289.3 C475.9,289.2 475.2,288.8 474.6,288.3 C474.1,287.8 473.7,286.9 473.4,286.1 C473.1,285.3 472.9,284.3 473.0,283.5 C473.0,282.7 473.3,281.7 473.6,281.0 C474.0,280.3 474.5,279.9 475.0,279.3 C475.5,278.8 476.0,278.3 476.6,278.0 C477.2,277.7 478.0,277.3 478.7,277.5 C479.3,277.6 480.0,278.3 480.5,278.9 C480.9,279.5 481.2,280.3 481.5,281.1 C481.8,281.8 482.2,282.7 482.3,283.5 C482.3,284.3 482.2,285.4 481.8,286.1 C481.5,286.8 480.5,287.5 480.2,287.7 Z" fill="none" stroke="#d98f80" stroke-width="1.3" opacity="0.7"/></g></g><path d="M298.8,300.2V303.6M302.8,300.2V303.6M306.9,300.2V303.6M311.0,300.2V303.6M315.1,300.2V303.6M319.1,300.2V303.6M323.2,300.2V303.6M327.3,300.2V303.6M331.4,300.2V303.6M335.4,300.2V303.6M339.5,300.2V303.6M343.6,300.2V303.6M347.7,300.2V303.6M351.7,300.2V303.6M355.8,300.2V303.6M359.9,300.2V303.6M364.0,300.2V303.6M368.0,300.2V303.6M372.1,300.2V303.6M376.2,300.2V303.6M380.3,300.2V303.6M384.3,300.2V303.6M388.4,300.2V303.6M392.5,300.2V303.6M396.6,300.2V303.6M400.6,300.2V303.6M404.7,300.2V303.6M408.8,300.2V303.6M412.9,300.2V303.6M416.9,300.2V303.6M421.0,300.2V303.6M425.1,300.2V303.6M429.2,300.2V303.6M433.2,300.2V303.6M437.3,300.2V303.6M441.4,300.2V303.6M445.5,300.2V303.6M449.5,300.2V303.6M453.6,300.2V303.6M457.7,300.2V303.6M461.8,300.2V303.6M465.8,300.2V303.6M469.9,300.2V303.6M474.0,300.2V303.6M478.1,300.2V303.6M482.1,300.2V303.6M486.2,300.2V303.6M490.3,300.2V303.6M494.4,300.2V303.6M498.4,300.2V303.6" stroke="#5d5a55" stroke-width="0.6" fill="none"/><path d="M298.8,300.2V302M299.6,300.2V302M300.4,300.2V302M301.2,300.2V302M302.0,300.2V302M302.8,300.2V302M303.7,300.2V302M304.5,300.2V302M305.3,300.2V302M306.1,300.2V302M306.9,300.2V302M307.7,300.2V302M308.6,300.2V302M309.4,300.2V302M310.2,300.2V302M311.0,300.2V302M311.8,300.2V302M312.6,300.2V302M313.4,300.2V302M314.3,300.2V302M315.1,300.2V302M315.9,300.2V302M316.7,300.2V302M317.5,300.2V302M318.3,300.2V302M319.1,300.2V302M320.0,300.2V302M320.8,300.2V302M321.6,300.2V302M322.4,300.2V302M323.2,300.2V302M324.0,300.2V302M324.9,300.2V302M325.7,300.2V302M326.5,300.2V302M327.3,300.2V302M328.1,300.2V302M328.9,300.2V302M329.7,300.2V302M330.6,300.2V302M331.4,300.2V302M332.2,300.2V302M333.0,300.2V302M333.8,300.2V302M334.6,300.2V302M335.4,300.2V302M336.3,300.2V302M337.1,300.2V302M337.9,300.2V302M338.7,300.2V302M339.5,300.2V302M340.3,300.2V302M341.2,300.2V302M342.0,300.2V302M342.8,300.2V302M343.6,300.2V302M344.4,300.2V302M345.2,300.2V302M346.0,300.2V302M346.9,300.2V302M347.7,300.2V302M348.5,300.2V302M349.3,300.2V302M350.1,300.2V302M350.9,300.2V302M351.7,300.2V302M352.6,300.2V302M353.4,300.2V302M354.2,300.2V302M355.0,300.2V302M355.8,300.2V302M356.6,300.2V302M357.5,300.2V302M358.3,300.2V302M359.1,300.2V302M359.9,300.2V302M360.7,300.2V302M361.5,300.2V302M362.3,300.2V302M363.2,300.2V302M364.0,300.2V302M364.8,300.2V302M365.6,300.2V302M366.4,300.2V302M367.2,300.2V302M368.0,300.2V302M368.9,300.2V302M369.7,300.2V302M370.5,300.2V302M371.3,300.2V302M372.1,300.2V302M372.9,300.2V302M373.8,300.2V302M374.6,300.2V302M375.4,300.2V302M376.2,300.2V302M377.0,300.2V302M377.8,300.2V302M378.6,300.2V302M379.5,300.2V302M380.3,300.2V302M381.1,300.2V302M381.9,300.2V302M382.7,300.2V302M383.5,300.2V302M384.3,300.2V302M385.2,300.2V302M386.0,300.2V302M386.8,300.2V302M387.6,300.2V302M388.4,300.2V302M389.2,300.2V302M390.1,300.2V302M390.9,300.2V302M391.7,300.2V302M392.5,300.2V302M393.3,300.2V302M394.1,300.2V302M394.9,300.2V302M395.8,300.2V302M396.6,300.2V302M397.4,300.2V302M398.2,300.2V302M399.0,300.2V302M399.8,300.2V302M400.6,300.2V302M401.5,300.2V302M402.3,300.2V302M403.1,300.2V302M403.9,300.2V302M404.7,300.2V302M405.5,300.2V302M406.4,300.2V302M407.2,300.2V302M408.0,300.2V302M408.8,300.2V302M409.6,300.2V302M410.4,300.2V302M411.2,300.2V302M412.1,300.2V302M412.9,300.2V302M413.7,300.2V302M414.5,300.2V302M415.3,300.2V302M416.1,300.2V302M416.9,300.2V302M417.8,300.2V302M418.6,300.2V302M419.4,300.2V302M420.2,300.2V302M421.0,300.2V302M421.8,300.2V302M422.7,300.2V302M423.5,300.2V302M424.3,300.2V302M425.1,300.2V302M425.9,300.2V302M426.7,300.2V302M427.5,300.2V302M428.4,300.2V302M429.2,300.2V302M430.0,300.2V302M430.8,300.2V302M431.6,300.2V302M432.4,300.2V302M433.2,300.2V302M434.1,300.2V302M434.9,300.2V302M435.7,300.2V302M436.5,300.2V302M437.3,300.2V302M438.1,300.2V302M439.0,300.2V302M439.8,300.2V302M440.6,300.2V302M441.4,300.2V302M442.2,300.2V302M443.0,300.2V302M443.8,300.2V302M444.7,300.2V302M445.5,300.2V302M446.3,300.2V302M447.1,300.2V302M447.9,300.2V302M448.7,300.2V302M449.5,300.2V302M450.4,300.2V302M451.2,300.2V302M452.0,300.2V302M452.8,300.2V302M453.6,300.2V302M454.4,300.2V302M455.3,300.2V302M456.1,300.2V302M456.9,300.2V302M457.7,300.2V302M458.5,300.2V302M459.3,300.2V302M460.1,300.2V302M461.0,300.2V302M461.8,300.2V302M462.6,300.2V302M463.4,300.2V302M464.2,300.2V302M465.0,300.2V302M465.8,300.2V302M466.7,300.2V302M467.5,300.2V302M468.3,300.2V302M469.1,300.2V302M469.9,300.2V302M470.7,300.2V302M471.6,300.2V302M472.4,300.2V302M473.2,300.2V302M474.0,300.2V302M474.8,300.2V302M475.6,300.2V302M476.4,300.2V302M477.3,300.2V302M478.1,300.2V302M478.9,300.2V302M479.7,300.2V302M480.5,300.2V302M481.3,300.2V302M482.1,300.2V302M483.0,300.2V302M483.8,300.2V302M484.6,300.2V302M485.4,300.2V302M486.2,300.2V302M487.0,300.2V302M487.9,300.2V302M488.7,300.2V302M489.5,300.2V302M490.3,300.2V302M491.1,300.2V302M491.9,300.2V302M492.7,300.2V302M493.6,300.2V302M494.4,300.2V302M495.2,300.2V302M496.0,300.2V302M496.8,300.2V302M497.6,300.2V302M498.4,300.2V302M499.3,300.2V302" stroke="#6d6a64" stroke-width="0.35" fill="none" opacity="0.7"/><text x="302.8" y="312.3" font-size="5.6" fill="#3e3c39" text-anchor="middle">1</text><text x="311.0" y="312.3" font-size="5.6" fill="#3e3c39" text-anchor="middle">2</text><text x="319.1" y="312.3" font-size="5.6" fill="#3e3c39" text-anchor="middle">3</text><text x="327.3" y="312.3" font-size="5.6" fill="#3e3c39" text-anchor="middle">4</text><text x="335.4" y="312.3" font-size="5.6" fill="#3e3c39" text-anchor="middle">5</text><text x="343.6" y="312.3" font-size="5.6" fill="#3e3c39" text-anchor="middle">6</text><text x="351.8" y="312.3" font-size="5.6" fill="#3e3c39" text-anchor="middle">7</text><text x="359.9" y="312.3" font-size="5.6" fill="#3e3c39" text-anchor="middle">8</text><text x="368.1" y="312.3" font-size="5.6" fill="#3e3c39" text-anchor="middle">9</text><text x="376.2" y="312.3" font-size="5.6" fill="#a23a3a" text-anchor="middle">10</text><text x="384.3" y="312.3" font-size="5.6" fill="#3e3c39" text-anchor="middle">1</text><text x="392.5" y="312.3" font-size="5.6" fill="#3e3c39" text-anchor="middle">2</text><text x="400.6" y="312.3" font-size="5.6" fill="#3e3c39" text-anchor="middle">3</text><text x="408.8" y="312.3" font-size="5.6" fill="#3e3c39" text-anchor="middle">4</text><text x="416.9" y="312.3" font-size="5.6" fill="#3e3c39" text-anchor="middle">5</text><text x="425.1" y="312.3" font-size="5.6" fill="#3e3c39" text-anchor="middle">6</text><text x="433.2" y="312.3" font-size="5.6" fill="#3e3c39" text-anchor="middle">7</text><text x="441.4" y="312.3" font-size="5.6" fill="#3e3c39" text-anchor="middle">8</text><text x="449.6" y="312.3" font-size="5.6" fill="#3e3c39" text-anchor="middle">9</text><text x="457.7" y="312.3" font-size="5.6" fill="#a23a3a" text-anchor="middle">20</text><text x="465.9" y="312.3" font-size="5.6" fill="#3e3c39" text-anchor="middle">1</text><text x="474.0" y="312.3" font-size="5.6" fill="#3e3c39" text-anchor="middle">2</text><text x="482.1" y="312.3" font-size="5.6" fill="#3e3c39" text-anchor="middle">3</text><text x="490.3" y="312.3" font-size="5.6" fill="#3e3c39" text-anchor="middle">4</text><text x="498.4" y="312.3" font-size="5.6" fill="#3e3c39" text-anchor="middle">5</text>
<text x="496.4" y="136.9" font-size="18">D</text>
<line x1="557.4" y1="143.0" x2="557.4" y2="267.4" stroke="#000" stroke-width="1.8"/>
<line x1="556.5" y1="266.5" x2="674.6" y2="266.5" stroke="#000" stroke-width="1.8"/>
<line x1="552.6" y1="266.5" x2="557.4" y2="266.5" stroke="#000" stroke-width="1.5"/>
<text x="550.2" y="270.2" font-size="10.5" text-anchor="end">0</text>
<line x1="552.6" y1="241.9" x2="557.4" y2="241.9" stroke="#000" stroke-width="1.5"/>
<text x="550.2" y="245.6" font-size="10.5" text-anchor="end">500</text>
<line x1="552.6" y1="217.4" x2="557.4" y2="217.4" stroke="#000" stroke-width="1.5"/>
<text x="550.2" y="221.1" font-size="10.5" text-anchor="end">1000</text>
<line x1="552.6" y1="192.9" x2="557.4" y2="192.9" stroke="#000" stroke-width="1.5"/>
<text x="550.2" y="196.6" font-size="10.5" text-anchor="end">1500</text>
<line x1="552.6" y1="168.3" x2="557.4" y2="168.3" stroke="#000" stroke-width="1.5"/>
<text x="550.2" y="172.0" font-size="10.5" text-anchor="end">2000</text>
<line x1="552.6" y1="143.8" x2="557.4" y2="143.8" stroke="#000" stroke-width="1.5"/>
<text x="550.2" y="147.4" font-size="10.5" text-anchor="end">2500</text>
<line x1="575.4" y1="266.5" x2="575.4" y2="271.0" stroke="#000" stroke-width="1.5"/>
<line x1="602.2" y1="266.5" x2="602.2" y2="271.0" stroke="#000" stroke-width="1.5"/>
<line x1="628.9" y1="266.5" x2="628.9" y2="271.0" stroke="#000" stroke-width="1.5"/>
<line x1="655.8" y1="266.5" x2="655.8" y2="271.0" stroke="#000" stroke-width="1.5"/>
<text transform="translate(520 198.6) rotate(-90)" font-size="10.5" text-anchor="middle" textLength="87.5" lengthAdjust="spacingAndGlyphs">Tumor Weight (mg)</text>
<text transform="translate(578.9 276.5) rotate(-45)" font-size="10.5" text-anchor="end">shNC+isotype</text>
<text transform="translate(605.7 276.5) rotate(-45)" font-size="10.5" text-anchor="end">shYTHDF1+isotype</text>
<text transform="translate(632.4 276.5) rotate(-45)" font-size="10.5" text-anchor="end">shNC+α-PD-L1</text>
<text transform="translate(659.3 276.5) rotate(-45)" font-size="10.5" text-anchor="end">shYTHDF1+α-PD-L1</text>
<rect x="568.8" y="162.2" width="4.2" height="4.2" fill="#2a4fae"/>
<rect x="577.7" y="162.2" width="4.2" height="4.2" fill="#2a4fae"/>
<rect x="573.3" y="168.8" width="4.2" height="4.2" fill="#2a4fae"/>
<rect x="568.8" y="179.6" width="4.2" height="4.2" fill="#2a4fae"/>
<rect x="577.7" y="183.1" width="4.2" height="4.2" fill="#2a4fae"/>
<line x1="565.8" y1="170.9" x2="584.9" y2="170.9" stroke="#2a4fae" stroke-width="2"/>
<path d="M595.2,194.9 L600.0,194.9 L597.6,190.5 Z" fill="#000"/>
<path d="M604.5,195.9 L609.3,195.9 L606.9,191.5 Z" fill="#000"/>
<path d="M595.2,205.0 L600.0,205.0 L597.6,200.6 Z" fill="#000"/>
<path d="M604.5,208.2 L609.3,208.2 L606.9,203.8 Z" fill="#000"/>
<path d="M599.8,228.3 L604.6,228.3 L602.2,223.9 Z" fill="#000"/>
<line x1="592.9" y1="202.8" x2="612.0" y2="202.8" stroke="#000" stroke-width="2"/>
<path d="M626.9,177.3 L631.7,177.3 L629.3,181.7 Z" fill="#f0201e"/>
<path d="M622.3,208.0 L627.1,208.0 L624.7,212.4 Z" fill="#f0201e"/>
<path d="M631.6,211.6 L636.4,211.6 L634.0,216.0 Z" fill="#f0201e"/>
<path d="M622.3,221.1 L627.1,221.1 L624.7,225.5 Z" fill="#f0201e"/>
<path d="M631.6,222.6 L636.4,222.6 L634.0,227.0 Z" fill="#f0201e"/>
<line x1="619.6" y1="214.3" x2="638.9" y2="214.3" stroke="#f0201e" stroke-width="2"/>
<path d="M653.7,231.4 L656.0,233.7 L653.7,236.0 L651.4,233.7 Z" fill="#8b2560"/>
<path d="M659.2,232.1 L661.5,234.4 L659.2,236.7 L656.9,234.4 Z" fill="#8b2560"/>
<path d="M648.4,235.7 L650.7,238.0 L648.4,240.3 L646.1,238.0 Z" fill="#8b2560"/>
<path d="M656.4,236.7 L658.7,239.0 L656.4,241.3 L654.1,239.0 Z" fill="#8b2560"/>
<path d="M662.1,239.3 L664.4,241.6 L662.1,243.9 L659.8,241.6 Z" fill="#8b2560"/>
<line x1="646.5" y1="237.5" x2="666.0" y2="237.5" stroke="#8b2560" stroke-width="2"/>
<line x1="573.2" y1="150.1" x2="603.1" y2="150.1" stroke="#000" stroke-width="1.3"/>
<text x="588.7" y="149.2" font-size="9" text-anchor="middle">**</text>
<line x1="605.2" y1="170.9" x2="655.0" y2="170.9" stroke="#000" stroke-width="1.3"/>
<text x="630.6" y="170.2" font-size="9" text-anchor="middle">**</text>
<text x="7.0" y="376.0" font-size="18">E</text>
<text x="193.5" y="365.2" font-size="10" textLength="133" lengthAdjust="spacingAndGlyphs">--Gated on CD45<tspan font-size="6.5" dy="-3.5">+</tspan><tspan dy="3.5"> live TILs--</tspan></text>
<text x="75.0" y="384.3" font-size="10.5" text-anchor="middle">shNC+isotype</text>
<text x="195.4" y="384.3" font-size="10.5" text-anchor="middle">shYTHDF1+isotype</text>
<text x="315.0" y="384.3" font-size="10.5" text-anchor="middle">shNC+α-PD-L1</text>
<text x="432.3" y="384.3" font-size="10.5" text-anchor="middle">shYTHDF1+α-PD-L1</text>
<defs><filter id="soft" x="0" y="0" width="100%" height="100%"><feGaussianBlur in="SourceGraphic" stdDeviation="0.8" result="b"/><feComponentTransfer in="SourceGraphic" result="s"><feFuncA type="linear" slope="0.55"/></feComponentTransfer><feMerge><feMergeNode in="b"/><feMergeNode in="s"/></feMerge></filter></defs><g filter="url(#soft)"><path fill="rgb(60, 95, 210)" d="M58 419h1v1h-1zM42 420h1v1h-1zM46 420h1v1h-1zM59 420h1v1h-1zM64 422h1v1h-1zM64 423h1v1h-1zM66 423h1v1h-1zM64 424h1v1h-1zM44 425h1v1h-1zM65 425h1v1h-1zM42 427h1v1h-1zM67 427h1v1h-1zM69 427h1v1h-1zM66 428h1v1h-1zM71 430h1v1h-1zM68 432h1v1h-1zM40 433h1v1h-1zM43 433h1v1h-1zM46 433h1v1h-1zM66 435h1v1h-1zM47 436h2v1h-2zM65 438h1v1h-1zM46 439h2v1h-2zM47 440h1v1h-1zM96 440h1v1h-1zM43 441h1v1h-1zM67 443h1v1h-1zM73 444h1v1h-1zM44 447h1v1h-1zM46 447h1v1h-1zM74 449h1v1h-1zM43 450h1v1h-1zM67 450h1v1h-1zM70 452h1v1h-1zM71 454h1v1h-1zM73 454h1v1h-1zM70 455h2v1h-2zM40 456h1v1h-1zM45 456h1v1h-1zM40 458h1v1h-1zM76 458h1v1h-1zM71 459h1v1h-1zM41 460h1v1h-1zM71 461h1v1h-1zM86 461h1v1h-1zM90 462h1v1h-1zM72 463h1v1h-1zM40 464h1v1h-1zM73 464h1v1h-1zM76 464h1v1h-1zM85 464h1v1h-1zM37 465h1v1h-1zM40 465h1v1h-1zM75 466h2v1h-2zM92 466h1v1h-1zM39 468h1v1h-1zM39 470h1v1h-1zM37 471h2v1h-2zM38 473h2v1h-2zM42 477h1v1h-1zM95 477h1v1h-1zM42 478h1v1h-1zM72 478h1v1h-1zM83 479h1v1h-1zM91 479h1v1h-1zM89 480h1v1h-1zM75 481h1v1h-1zM91 481h1v1h-1zM39 482h1v1h-1zM46 482h1v1h-1zM70 482h1v1h-1zM49 483h1v1h-1zM64 483h1v1h-1zM66 483h3v1h-3zM91 483h1v1h-1zM51 484h1v1h-1zM61 484h2v1h-2zM72 484h1v1h-1zM43 485h1v1h-1zM50 485h1v1h-1zM58 485h2v1h-2zM63 485h1v1h-1zM52 487h1v1h-1zM57 489h1v1h-1zM55 492h1v1h-1z"/><path fill="rgb(60, 107, 213)" d="M49 421h1v1h-1zM52 421h1v1h-1zM56 421h3v1h-3zM50 422h4v1h-4zM56 422h2v1h-2zM60 422h1v1h-1zM46 423h1v1h-1zM48 423h1v1h-1zM51 423h1v1h-1zM53 423h1v1h-1zM55 423h2v1h-2zM59 423h1v1h-1zM61 423h1v1h-1zM57 424h2v1h-2zM60 424h2v1h-2zM63 424h1v1h-1zM48 425h1v1h-1zM60 425h1v1h-1zM63 425h1v1h-1zM44 426h1v1h-1zM46 426h3v1h-3zM60 426h2v1h-2zM64 426h1v1h-1zM48 427h1v1h-1zM63 427h3v1h-3zM47 428h2v1h-2zM61 428h3v1h-3zM47 429h1v1h-1zM61 429h1v1h-1zM63 429h1v1h-1zM45 430h5v1h-5zM63 430h1v1h-1zM65 430h1v1h-1zM46 431h2v1h-2zM50 431h1v1h-1zM50 432h2v1h-2zM62 432h1v1h-1zM48 433h1v1h-1zM50 433h3v1h-3zM62 433h1v1h-1zM51 434h1v1h-1zM53 434h3v1h-3zM57 434h1v1h-1zM51 435h4v1h-4zM56 435h1v1h-1zM58 435h4v1h-4zM52 436h2v1h-2zM58 436h1v1h-1zM63 436h1v1h-1zM51 437h2v1h-2zM58 437h4v1h-4zM49 438h1v1h-1zM52 438h1v1h-1zM55 438h4v1h-4zM60 438h1v1h-1zM49 439h1v1h-1zM53 439h1v1h-1zM56 439h2v1h-2zM60 439h1v1h-1zM62 439h1v1h-1zM48 440h1v1h-1zM50 440h1v1h-1zM54 440h2v1h-2zM57 440h2v1h-2zM60 440h1v1h-1zM51 441h3v1h-3zM59 441h1v1h-1zM49 442h1v1h-1zM51 442h2v1h-2zM59 442h1v1h-1zM61 442h3v1h-3zM48 443h1v1h-1zM50 443h3v1h-3zM61 443h1v1h-1zM64 443h1v1h-1zM50 444h1v1h-1zM60 444h1v1h-1zM62 444h2v1h-2zM50 445h2v1h-2zM61 445h3v1h-3zM50 446h1v1h-1zM61 446h1v1h-1zM65 446h1v1h-1zM49 447h2v1h-2zM61 447h2v1h-2zM49 448h2v1h-2zM61 448h1v1h-1zM63 448h1v1h-1zM48 449h1v1h-1zM50 449h2v1h-2zM63 449h1v1h-1zM65 449h1v1h-1zM47 450h2v1h-2zM50 450h2v1h-2zM61 450h2v1h-2zM64 450h1v1h-1zM49 451h1v1h-1zM51 451h1v1h-1zM63 451h1v1h-1zM50 452h1v1h-1zM61 452h3v1h-3zM66 452h1v1h-1zM49 453h3v1h-3zM64 453h1v1h-1zM48 454h1v1h-1zM50 454h2v1h-2zM62 454h2v1h-2zM65 454h2v1h-2zM47 455h1v1h-1zM62 455h1v1h-1zM46 456h2v1h-2zM50 456h1v1h-1zM62 456h1v1h-1zM64 456h1v1h-1zM67 456h1v1h-1zM47 457h1v1h-1zM49 457h1v1h-1zM63 457h4v1h-4zM47 458h2v1h-2zM64 458h1v1h-1zM45 459h3v1h-3zM64 459h1v1h-1zM67 459h1v1h-1zM44 460h2v1h-2zM65 460h3v1h-3zM69 460h1v1h-1zM43 461h1v1h-1zM45 461h3v1h-3zM66 461h1v1h-1zM68 461h1v1h-1zM45 462h1v1h-1zM70 462h1v1h-1zM42 463h2v1h-2zM45 463h1v1h-1zM68 463h4v1h-4zM43 464h1v1h-1zM45 464h1v1h-1zM68 464h3v1h-3zM41 465h1v1h-1zM44 465h2v1h-2zM69 465h1v1h-1zM71 465h1v1h-1zM89 465h2v1h-2zM41 466h2v1h-2zM70 466h5v1h-5zM87 466h1v1h-1zM44 467h1v1h-1zM70 467h2v1h-2zM85 467h2v1h-2zM88 467h4v1h-4zM43 468h1v1h-1zM70 468h2v1h-2zM73 468h4v1h-4zM81 468h1v1h-1zM83 468h2v1h-2zM88 468h1v1h-1zM92 468h1v1h-1zM41 469h2v1h-2zM44 469h1v1h-1zM71 469h3v1h-3zM76 469h1v1h-1zM78 469h2v1h-2zM81 469h1v1h-1zM83 469h1v1h-1zM90 469h2v1h-2zM44 470h1v1h-1zM72 470h3v1h-3zM76 470h1v1h-1zM78 470h1v1h-1zM81 470h3v1h-3zM92 470h1v1h-1zM43 471h1v1h-1zM73 471h1v1h-1zM80 471h2v1h-2zM91 471h1v1h-1zM93 471h1v1h-1zM42 472h2v1h-2zM73 472h4v1h-4zM78 472h1v1h-1zM91 472h2v1h-2zM44 473h2v1h-2zM71 473h2v1h-2zM75 473h1v1h-1zM81 473h1v1h-1zM91 473h2v1h-2zM45 474h1v1h-1zM70 474h3v1h-3zM74 474h1v1h-1zM82 474h2v1h-2zM93 474h2v1h-2zM42 475h2v1h-2zM45 475h2v1h-2zM68 475h2v1h-2zM72 475h2v1h-2zM75 475h1v1h-1zM90 475h2v1h-2zM67 476h6v1h-6zM75 476h1v1h-1zM79 476h1v1h-1zM83 476h1v1h-1zM88 476h3v1h-3zM92 476h1v1h-1zM43 477h2v1h-2zM46 477h1v1h-1zM66 477h1v1h-1zM81 477h1v1h-1zM84 477h2v1h-2zM87 477h2v1h-2zM90 477h2v1h-2zM65 478h2v1h-2zM85 478h2v1h-2zM88 478h1v1h-1zM49 479h2v1h-2zM65 479h1v1h-1zM69 479h1v1h-1zM85 479h1v1h-1zM88 479h1v1h-1zM48 480h2v1h-2zM51 480h1v1h-1zM62 480h1v1h-1zM64 480h1v1h-1zM66 480h1v1h-1zM51 481h4v1h-4zM56 481h6v1h-6zM65 481h2v1h-2zM55 482h1v1h-1zM57 482h1v1h-1zM59 482h1v1h-1zM54 483h1v1h-1zM57 483h3v1h-3zM56 484h1v1h-1z"/><path fill="rgb(63, 133, 215)" d="M52 424h3v1h-3zM56 424h1v1h-1zM50 425h1v1h-1zM52 425h1v1h-1zM54 425h5v1h-5zM50 426h7v1h-7zM59 426h1v1h-1zM49 427h2v1h-2zM52 427h1v1h-1zM54 427h5v1h-5zM60 427h1v1h-1zM51 428h3v1h-3zM56 428h4v1h-4zM49 429h8v1h-8zM59 429h1v1h-1zM51 430h7v1h-7zM59 430h2v1h-2zM51 431h6v1h-6zM58 431h1v1h-1zM60 431h1v1h-1zM52 432h5v1h-5zM58 432h2v1h-2zM53 433h4v1h-4zM57 441h1v1h-1zM54 442h2v1h-2zM57 442h1v1h-1zM53 443h4v1h-4zM58 443h2v1h-2zM53 444h6v1h-6zM53 445h6v1h-6zM53 446h7v1h-7zM53 447h3v1h-3zM57 447h4v1h-4zM53 448h6v1h-6zM60 448h1v1h-1zM52 449h5v1h-5zM58 449h1v1h-1zM60 449h1v1h-1zM53 450h4v1h-4zM58 450h3v1h-3zM53 451h8v1h-8zM52 452h2v1h-2zM55 452h4v1h-4zM60 452h1v1h-1zM54 453h7v1h-7zM52 454h4v1h-4zM57 454h1v1h-1zM59 454h1v1h-1zM52 455h6v1h-6zM59 455h3v1h-3zM52 456h10v1h-10zM51 457h6v1h-6zM58 457h3v1h-3zM62 457h1v1h-1zM50 458h4v1h-4zM55 458h5v1h-5zM61 458h1v1h-1zM50 459h4v1h-4zM61 459h1v1h-1zM63 459h1v1h-1zM49 460h3v1h-3zM62 460h3v1h-3zM48 461h3v1h-3zM63 461h1v1h-1zM65 461h1v1h-1zM47 462h3v1h-3zM64 462h2v1h-2zM47 463h2v1h-2zM65 463h3v1h-3zM47 464h2v1h-2zM67 464h1v1h-1zM46 465h2v1h-2zM66 465h3v1h-3zM45 466h3v1h-3zM68 466h1v1h-1zM45 467h2v1h-2zM67 467h3v1h-3zM45 468h2v1h-2zM67 468h1v1h-1zM69 468h1v1h-1zM45 469h2v1h-2zM68 469h2v1h-2zM85 469h1v1h-1zM87 469h3v1h-3zM45 470h2v1h-2zM68 470h4v1h-4zM84 470h3v1h-3zM89 470h1v1h-1zM45 471h2v1h-2zM68 471h1v1h-1zM70 471h1v1h-1zM83 471h3v1h-3zM88 471h1v1h-1zM90 471h1v1h-1zM45 472h1v1h-1zM67 472h5v1h-5zM84 472h7v1h-7zM67 473h2v1h-2zM85 473h2v1h-2zM88 473h1v1h-1zM46 474h1v1h-1zM66 474h4v1h-4zM84 474h4v1h-4zM89 474h1v1h-1zM47 475h2v1h-2zM65 475h3v1h-3zM85 475h3v1h-3zM89 475h1v1h-1zM47 476h3v1h-3zM64 476h3v1h-3zM49 477h2v1h-2zM63 477h2v1h-2zM49 478h4v1h-4zM61 478h1v1h-1zM63 478h2v1h-2zM51 479h12v1h-12zM54 480h6v1h-6zM61 480h1v1h-1z"/><path fill="rgb(74, 178, 204)" d="M54 428h2v1h-2zM54 459h6v1h-6zM52 460h10v1h-10zM51 461h4v1h-4zM59 461h4v1h-4zM51 462h2v1h-2zM61 462h3v1h-3zM49 463h3v1h-3zM63 463h2v1h-2zM50 464h1v1h-1zM64 464h2v1h-2zM48 465h2v1h-2zM64 465h2v1h-2zM48 466h1v1h-1zM65 466h2v1h-2zM47 467h2v1h-2zM65 467h2v1h-2zM47 468h2v1h-2zM66 468h1v1h-1zM47 469h2v1h-2zM66 469h2v1h-2zM47 470h2v1h-2zM66 470h2v1h-2zM47 471h2v1h-2zM66 471h2v1h-2zM47 472h2v1h-2zM65 472h2v1h-2zM48 473h2v1h-2zM65 473h2v1h-2zM48 474h2v1h-2zM64 474h2v1h-2zM49 475h2v1h-2zM63 475h2v1h-2zM50 476h2v1h-2zM62 476h2v1h-2zM51 477h3v1h-3zM60 477h3v1h-3zM53 478h8v1h-8z"/><path fill="rgb(108, 204, 114)" d="M55 461h4v1h-4zM53 462h8v1h-8zM52 463h2v1h-2zM60 463h3v1h-3zM51 464h2v1h-2zM62 464h2v1h-2zM50 465h2v1h-2zM63 465h1v1h-1zM49 466h2v1h-2zM63 466h2v1h-2zM49 467h1v1h-1zM64 467h1v1h-1zM49 468h1v1h-1zM64 468h2v1h-2zM49 469h1v1h-1zM64 469h2v1h-2zM49 470h1v1h-1zM64 470h2v1h-2zM49 471h1v1h-1zM64 471h2v1h-2zM49 472h2v1h-2zM64 472h1v1h-1zM50 473h1v1h-1zM63 473h2v1h-2zM50 474h2v1h-2zM63 474h1v1h-1zM51 475h2v1h-2zM61 475h2v1h-2zM52 476h3v1h-3zM59 476h3v1h-3zM54 477h6v1h-6z"/><path fill="rgb(145, 212, 68)" d="M54 463h6v1h-6zM53 464h2v1h-2zM59 464h3v1h-3zM52 465h1v1h-1zM61 465h2v1h-2zM51 466h1v1h-1zM62 466h1v1h-1zM50 467h2v1h-2zM63 467h1v1h-1zM50 468h1v1h-1zM63 468h1v1h-1zM50 469h1v1h-1zM63 469h1v1h-1zM50 470h1v1h-1zM63 470h1v1h-1zM50 471h1v1h-1zM63 471h1v1h-1zM51 472h1v1h-1zM63 472h1v1h-1zM51 473h1v1h-1zM62 473h1v1h-1zM52 474h2v1h-2zM61 474h2v1h-2zM53 475h3v1h-3zM59 475h2v1h-2zM55 476h4v1h-4z"/><path fill="rgb(193, 215, 46)" d="M55 464h4v1h-4zM53 465h3v1h-3zM58 465h3v1h-3zM52 466h2v1h-2zM60 466h2v1h-2zM52 467h1v1h-1zM61 467h2v1h-2zM51 468h2v1h-2zM62 468h1v1h-1zM51 469h1v1h-1zM62 469h1v1h-1zM51 470h1v1h-1zM62 470h1v1h-1zM51 471h2v1h-2zM62 471h1v1h-1zM52 472h1v1h-1zM61 472h2v1h-2zM52 473h2v1h-2zM60 473h2v1h-2zM54 474h2v1h-2zM58 474h3v1h-3zM56 475h3v1h-3z"/><path fill="rgb(237, 197, 38)" d="M56 465h2v1h-2zM54 466h6v1h-6zM53 467h2v1h-2zM60 467h1v1h-1zM53 468h1v1h-1zM60 468h2v1h-2zM52 469h2v1h-2zM61 469h1v1h-1zM52 470h2v1h-2zM61 470h1v1h-1zM53 471h1v1h-1zM60 471h2v1h-2zM53 472h2v1h-2zM60 472h1v1h-1zM54 473h6v1h-6zM56 474h2v1h-2z"/><path fill="rgb(244, 123, 30)" d="M55 467h5v1h-5zM54 468h2v1h-2zM58 468h2v1h-2zM54 469h1v1h-1zM59 469h2v1h-2zM54 470h1v1h-1zM59 470h2v1h-2zM54 471h2v1h-2zM59 471h1v1h-1zM55 472h5v1h-5z"/><path fill="rgb(235, 40, 30)" d="M56 468h2v1h-2zM55 469h4v1h-4zM55 470h4v1h-4zM56 471h3v1h-3z"/></g><rect x="37.5" y="414.7" width="28.9" height="21.6" fill="none" stroke="#555" stroke-width="0.9"/><rect x="77.5" y="454.3" width="22" height="31.7" fill="none" stroke="#555" stroke-width="0.9"/><text x="54.2" y="408.1" font-size="10" text-anchor="middle">2.82</text><text x="89.5" y="445.9" font-size="10" text-anchor="middle">2.78</text><path d="M22.4,404.1H25.4M22.4,427.8H25.4M22.4,454.6H25.4M22.4,472.3H25.4M22.4,490.4H25.4M23.6,411.6H25.4M23.6,441.5H25.4M23.6,466.0H25.4M23.6,469.5H25.4M23.6,475.0H25.4M31.4,495.0V498.0M49.0,495.0V498.0M67.5,495.0V498.0M86.0,495.0V498.0M102.8,495.0V498.0M120.4,495.0V498.0M37.5,495.0V496.8M42.5,495.0V496.8M45.5,495.0V496.8M47.5,495.0V496.8M50.5,495.0V496.8M53.5,495.0V496.8M56.5,495.0V496.8M75.5,495.0V496.8M93.5,495.0V496.8M111.5,495.0V496.8M125.5,495.0V496.8" stroke="#000" stroke-width="0.8" fill="none"/><rect x="25.4" y="394.8" width="104.6" height="100.2" fill="none" stroke="#000" stroke-width="1.6"/><g filter="url(#soft)"><path fill="rgb(60, 95, 210)" d="M188 414h1v1h-1zM168 418h1v1h-1zM162 420h1v1h-1zM164 420h1v1h-1zM159 423h1v1h-1zM158 424h1v1h-1zM187 426h1v1h-1zM184 427h1v1h-1zM203 428h1v1h-1zM185 429h1v1h-1zM199 429h1v1h-1zM156 430h1v1h-1zM185 430h1v1h-1zM160 431h1v1h-1zM187 431h1v1h-1zM196 431h1v1h-1zM160 433h1v1h-1zM189 433h1v1h-1zM162 434h1v1h-1zM164 434h1v1h-1zM163 435h1v1h-1zM165 435h1v1h-1zM161 436h1v1h-1zM208 436h1v1h-1zM193 437h1v1h-1zM166 438h1v1h-1zM195 439h1v1h-1zM198 439h1v1h-1zM164 440h2v1h-2zM164 442h1v1h-1zM201 442h1v1h-1zM198 443h1v1h-1zM197 444h1v1h-1zM200 444h1v1h-1zM203 444h2v1h-2zM158 446h2v1h-2zM203 447h1v1h-1zM162 448h1v1h-1zM211 450h1v1h-1zM209 452h1v1h-1zM207 453h1v1h-1zM211 454h1v1h-1zM209 455h1v1h-1zM160 458h1v1h-1zM156 459h1v1h-1zM154 464h1v1h-1zM157 466h1v1h-1zM154 468h1v1h-1zM159 471h1v1h-1zM217 472h1v1h-1zM160 473h1v1h-1zM215 474h1v1h-1zM160 476h1v1h-1zM215 477h1v1h-1zM193 479h1v1h-1zM216 479h1v1h-1zM196 480h1v1h-1zM156 481h1v1h-1zM191 482h1v1h-1zM196 482h1v1h-1zM216 482h1v1h-1zM190 483h1v1h-1zM160 484h1v1h-1zM188 484h1v1h-1zM211 484h1v1h-1zM188 485h1v1h-1zM194 485h1v1h-1zM212 485h1v1h-1zM162 486h1v1h-1zM187 486h1v1h-1zM189 486h1v1h-1zM200 486h1v1h-1zM211 486h1v1h-1zM160 487h1v1h-1zM199 487h1v1h-1zM206 487h1v1h-1zM209 487h1v1h-1zM216 487h1v1h-1zM164 490h1v1h-1zM166 490h1v1h-1zM200 490h1v1h-1zM204 490h1v1h-1zM183 491h2v1h-2zM187 492h1v1h-1zM180 493h1v1h-1zM202 493h1v1h-1z"/><path fill="rgb(60, 107, 213)" d="M170 419h1v1h-1zM167 420h2v1h-2zM170 420h1v1h-1zM167 421h1v1h-1zM174 421h2v1h-2zM164 422h1v1h-1zM176 422h2v1h-2zM164 423h1v1h-1zM178 423h2v1h-2zM163 424h1v1h-1zM178 424h1v1h-1zM179 425h1v1h-1zM161 426h1v1h-1zM179 426h2v1h-2zM182 426h1v1h-1zM162 427h1v1h-1zM163 428h1v1h-1zM181 428h1v1h-1zM183 428h1v1h-1zM180 429h1v1h-1zM180 430h1v1h-1zM183 430h1v1h-1zM164 431h1v1h-1zM178 431h1v1h-1zM181 431h1v1h-1zM165 432h3v1h-3zM178 432h1v1h-1zM183 432h1v1h-1zM185 432h1v1h-1zM167 433h2v1h-2zM183 433h1v1h-1zM165 434h1v1h-1zM169 434h1v1h-1zM171 434h1v1h-1zM173 434h1v1h-1zM179 434h1v1h-1zM181 434h2v1h-2zM184 434h1v1h-1zM187 434h1v1h-1zM171 435h3v1h-3zM182 435h2v1h-2zM171 436h1v1h-1zM173 436h1v1h-1zM182 436h2v1h-2zM186 436h1v1h-1zM168 437h2v1h-2zM182 437h1v1h-1zM184 437h2v1h-2zM187 437h1v1h-1zM169 438h4v1h-4zM185 438h2v1h-2zM188 438h2v1h-2zM166 439h1v1h-1zM171 439h1v1h-1zM186 439h3v1h-3zM190 439h1v1h-1zM170 440h1v1h-1zM185 440h4v1h-4zM190 440h1v1h-1zM193 440h1v1h-1zM167 441h1v1h-1zM186 441h1v1h-1zM187 442h1v1h-1zM191 442h2v1h-2zM165 443h1v1h-1zM167 443h3v1h-3zM186 443h2v1h-2zM191 443h1v1h-1zM167 444h3v1h-3zM190 444h2v1h-2zM196 444h1v1h-1zM187 445h2v1h-2zM190 445h2v1h-2zM194 445h1v1h-1zM163 446h1v1h-1zM166 446h2v1h-2zM192 446h1v1h-1zM167 447h1v1h-1zM189 447h1v1h-1zM192 447h1v1h-1zM167 448h1v1h-1zM188 448h3v1h-3zM165 449h2v1h-2zM190 449h1v1h-1zM195 449h1v1h-1zM198 449h1v1h-1zM166 450h1v1h-1zM189 450h6v1h-6zM191 451h1v1h-1zM193 451h2v1h-2zM199 451h1v1h-1zM163 452h1v1h-1zM190 452h1v1h-1zM192 452h1v1h-1zM194 452h2v1h-2zM199 452h1v1h-1zM161 453h1v1h-1zM163 453h2v1h-2zM191 453h1v1h-1zM197 453h1v1h-1zM200 453h1v1h-1zM162 454h3v1h-3zM191 454h1v1h-1zM194 454h1v1h-1zM196 454h3v1h-3zM200 454h1v1h-1zM162 455h3v1h-3zM191 455h3v1h-3zM207 455h1v1h-1zM164 456h1v1h-1zM195 456h1v1h-1zM204 456h1v1h-1zM208 456h1v1h-1zM191 457h1v1h-1zM193 457h1v1h-1zM197 457h1v1h-1zM199 457h1v1h-1zM208 457h1v1h-1zM210 457h1v1h-1zM161 458h1v1h-1zM164 458h1v1h-1zM191 458h1v1h-1zM194 458h1v1h-1zM196 458h1v1h-1zM198 458h1v1h-1zM204 458h2v1h-2zM161 459h1v1h-1zM163 459h2v1h-2zM194 459h1v1h-1zM204 459h3v1h-3zM208 459h3v1h-3zM191 460h1v1h-1zM193 460h1v1h-1zM195 460h2v1h-2zM198 460h1v1h-1zM203 460h4v1h-4zM209 460h1v1h-1zM160 461h1v1h-1zM194 461h2v1h-2zM197 461h2v1h-2zM200 461h3v1h-3zM208 461h2v1h-2zM212 461h1v1h-1zM162 462h1v1h-1zM190 462h1v1h-1zM193 462h1v1h-1zM200 462h1v1h-1zM202 462h1v1h-1zM204 462h1v1h-1zM207 462h1v1h-1zM209 462h3v1h-3zM191 463h1v1h-1zM195 463h2v1h-2zM198 463h5v1h-5zM161 464h1v1h-1zM163 464h1v1h-1zM190 464h1v1h-1zM198 464h1v1h-1zM210 464h1v1h-1zM212 464h2v1h-2zM161 465h1v1h-1zM163 465h1v1h-1zM190 465h3v1h-3zM194 465h4v1h-4zM200 465h1v1h-1zM163 466h1v1h-1zM189 466h1v1h-1zM191 466h2v1h-2zM194 466h2v1h-2zM199 466h1v1h-1zM210 466h1v1h-1zM214 466h1v1h-1zM191 467h5v1h-5zM197 467h1v1h-1zM199 467h1v1h-1zM210 467h1v1h-1zM213 467h1v1h-1zM160 468h1v1h-1zM162 468h1v1h-1zM189 468h1v1h-1zM191 468h2v1h-2zM194 468h1v1h-1zM196 468h2v1h-2zM211 468h1v1h-1zM190 469h4v1h-4zM199 469h1v1h-1zM162 470h1v1h-1zM188 470h1v1h-1zM190 470h1v1h-1zM193 470h3v1h-3zM197 470h1v1h-1zM212 470h1v1h-1zM163 471h1v1h-1zM188 471h1v1h-1zM190 471h3v1h-3zM197 471h2v1h-2zM212 471h1v1h-1zM164 472h1v1h-1zM189 472h3v1h-3zM193 472h1v1h-1zM196 472h1v1h-1zM199 472h1v1h-1zM210 472h1v1h-1zM187 473h2v1h-2zM194 473h4v1h-4zM163 474h2v1h-2zM188 474h1v1h-1zM190 474h1v1h-1zM194 474h2v1h-2zM199 474h2v1h-2zM212 474h1v1h-1zM163 475h2v1h-2zM189 475h1v1h-1zM191 475h1v1h-1zM193 475h1v1h-1zM195 475h1v1h-1zM200 475h1v1h-1zM214 475h1v1h-1zM162 476h1v1h-1zM164 476h1v1h-1zM187 476h1v1h-1zM189 476h1v1h-1zM194 476h2v1h-2zM199 476h1v1h-1zM201 476h1v1h-1zM209 476h1v1h-1zM211 476h1v1h-1zM214 476h1v1h-1zM188 477h1v1h-1zM210 477h1v1h-1zM213 477h1v1h-1zM162 478h2v1h-2zM165 478h1v1h-1zM191 478h1v1h-1zM200 478h2v1h-2zM203 478h1v1h-1zM207 478h2v1h-2zM165 479h1v1h-1zM185 479h1v1h-1zM200 479h1v1h-1zM202 479h3v1h-3zM207 479h1v1h-1zM209 479h1v1h-1zM211 479h1v1h-1zM166 480h1v1h-1zM184 480h4v1h-4zM189 480h1v1h-1zM207 480h4v1h-4zM166 481h2v1h-2zM186 481h1v1h-1zM203 481h2v1h-2zM206 481h1v1h-1zM209 481h1v1h-1zM166 482h1v1h-1zM183 482h1v1h-1zM186 482h2v1h-2zM198 482h1v1h-1zM201 482h1v1h-1zM203 482h1v1h-1zM206 482h1v1h-1zM210 482h1v1h-1zM166 483h2v1h-2zM185 483h1v1h-1zM200 483h1v1h-1zM203 483h1v1h-1zM205 483h2v1h-2zM167 484h1v1h-1zM182 484h2v1h-2zM187 484h1v1h-1zM201 484h1v1h-1zM203 484h2v1h-2zM207 484h1v1h-1zM210 484h1v1h-1zM168 485h1v1h-1zM180 485h1v1h-1zM182 485h4v1h-4zM167 486h1v1h-1zM170 486h1v1h-1zM172 486h1v1h-1zM180 486h1v1h-1zM184 486h3v1h-3zM205 486h1v1h-1zM166 487h1v1h-1zM168 487h1v1h-1zM170 487h2v1h-2zM174 487h4v1h-4zM169 488h1v1h-1zM173 488h1v1h-1zM177 488h2v1h-2zM184 488h1v1h-1zM169 489h1v1h-1zM178 489h1v1h-1zM183 489h1v1h-1zM171 490h1v1h-1zM174 490h1v1h-1zM180 490h1v1h-1zM171 491h1v1h-1zM174 491h1v1h-1zM176 491h1v1h-1zM172 492h1v1h-1zM174 492h1v1h-1zM177 492h3v1h-3zM179 493h1v1h-1z"/><path fill="rgb(63, 133, 215)" d="M168 421h1v1h-1zM171 421h3v1h-3zM166 422h2v1h-2zM169 422h7v1h-7zM165 423h1v1h-1zM167 423h1v1h-1zM174 423h1v1h-1zM176 423h1v1h-1zM165 424h2v1h-2zM164 425h1v1h-1zM177 425h1v1h-1zM164 426h2v1h-2zM165 427h1v1h-1zM177 427h2v1h-2zM165 428h1v1h-1zM177 428h1v1h-1zM166 429h1v1h-1zM176 429h1v1h-1zM165 430h2v1h-2zM175 430h3v1h-3zM166 431h2v1h-2zM173 431h2v1h-2zM168 432h1v1h-1zM170 432h1v1h-1zM172 432h4v1h-4zM170 433h4v1h-4zM175 433h3v1h-3zM174 434h1v1h-1zM174 435h1v1h-1zM178 435h2v1h-2zM175 436h1v1h-1zM177 436h3v1h-3zM173 437h2v1h-2zM176 437h3v1h-3zM180 437h1v1h-1zM174 438h1v1h-1zM178 438h1v1h-1zM180 438h1v1h-1zM182 438h1v1h-1zM173 439h1v1h-1zM175 439h5v1h-5zM181 439h2v1h-2zM172 440h1v1h-1zM175 440h1v1h-1zM177 440h7v1h-7zM171 441h1v1h-1zM174 441h4v1h-4zM180 441h1v1h-1zM182 441h2v1h-2zM171 442h1v1h-1zM173 442h1v1h-1zM178 442h2v1h-2zM181 442h4v1h-4zM170 443h5v1h-5zM180 443h3v1h-3zM185 443h1v1h-1zM171 444h3v1h-3zM182 444h1v1h-1zM169 445h2v1h-2zM181 445h1v1h-1zM184 445h1v1h-1zM186 445h1v1h-1zM171 446h2v1h-2zM183 446h3v1h-3zM168 447h4v1h-4zM182 447h1v1h-1zM184 447h3v1h-3zM168 448h2v1h-2zM183 448h3v1h-3zM187 448h1v1h-1zM168 449h2v1h-2zM183 449h1v1h-1zM188 449h1v1h-1zM168 450h2v1h-2zM184 450h3v1h-3zM188 450h1v1h-1zM168 451h1v1h-1zM185 451h4v1h-4zM166 452h3v1h-3zM184 452h1v1h-1zM186 452h2v1h-2zM189 452h1v1h-1zM167 453h2v1h-2zM185 453h3v1h-3zM189 453h1v1h-1zM167 454h1v1h-1zM185 454h3v1h-3zM189 454h2v1h-2zM167 455h1v1h-1zM185 455h6v1h-6zM166 456h2v1h-2zM186 456h2v1h-2zM189 456h1v1h-1zM165 457h2v1h-2zM186 457h1v1h-1zM188 457h3v1h-3zM165 458h2v1h-2zM186 458h5v1h-5zM166 459h1v1h-1zM186 459h3v1h-3zM165 460h1v1h-1zM186 460h3v1h-3zM190 460h1v1h-1zM166 461h1v1h-1zM186 461h2v1h-2zM189 461h1v1h-1zM164 462h2v1h-2zM186 462h2v1h-2zM165 463h1v1h-1zM186 463h1v1h-1zM188 463h1v1h-1zM204 463h1v1h-1zM206 463h1v1h-1zM165 464h1v1h-1zM186 464h2v1h-2zM189 464h1v1h-1zM202 464h2v1h-2zM205 464h1v1h-1zM207 464h1v1h-1zM164 465h2v1h-2zM186 465h1v1h-1zM201 465h1v1h-1zM203 465h1v1h-1zM205 465h3v1h-3zM164 466h2v1h-2zM186 466h1v1h-1zM188 466h1v1h-1zM202 466h1v1h-1zM204 466h1v1h-1zM206 466h2v1h-2zM209 466h1v1h-1zM165 467h1v1h-1zM186 467h1v1h-1zM188 467h1v1h-1zM200 467h4v1h-4zM205 467h2v1h-2zM208 467h1v1h-1zM164 468h2v1h-2zM186 468h1v1h-1zM188 468h1v1h-1zM204 468h4v1h-4zM209 468h1v1h-1zM165 469h2v1h-2zM185 469h1v1h-1zM200 469h5v1h-5zM206 469h3v1h-3zM164 470h1v1h-1zM166 470h1v1h-1zM185 470h1v1h-1zM187 470h1v1h-1zM201 470h1v1h-1zM203 470h1v1h-1zM205 470h3v1h-3zM209 470h2v1h-2zM165 471h1v1h-1zM185 471h1v1h-1zM203 471h1v1h-1zM205 471h1v1h-1zM208 471h3v1h-3zM165 472h1v1h-1zM185 472h2v1h-2zM201 472h3v1h-3zM205 472h1v1h-1zM207 472h1v1h-1zM184 473h2v1h-2zM200 473h1v1h-1zM203 473h7v1h-7zM167 474h1v1h-1zM184 474h3v1h-3zM202 474h2v1h-2zM205 474h5v1h-5zM166 475h2v1h-2zM184 475h1v1h-1zM186 475h1v1h-1zM202 475h2v1h-2zM205 475h1v1h-1zM207 475h2v1h-2zM167 476h1v1h-1zM183 476h1v1h-1zM202 476h2v1h-2zM205 476h1v1h-1zM208 476h1v1h-1zM166 477h3v1h-3zM183 477h2v1h-2zM203 477h4v1h-4zM167 478h1v1h-1zM182 478h1v1h-1zM184 478h1v1h-1zM206 478h1v1h-1zM167 479h1v1h-1zM182 479h1v1h-1zM184 479h1v1h-1zM167 480h3v1h-3zM181 480h2v1h-2zM168 481h3v1h-3zM181 481h2v1h-2zM168 482h1v1h-1zM170 482h2v1h-2zM180 482h3v1h-3zM169 483h2v1h-2zM172 483h3v1h-3zM177 483h2v1h-2zM180 483h2v1h-2zM170 484h4v1h-4zM175 484h2v1h-2zM178 484h2v1h-2zM181 484h1v1h-1zM173 485h1v1h-1zM175 485h1v1h-1zM177 485h3v1h-3zM173 486h3v1h-3zM178 486h1v1h-1z"/><path fill="rgb(74, 178, 204)" d="M168 423h4v1h-4zM173 423h1v1h-1zM168 424h1v1h-1zM173 424h3v1h-3zM166 425h2v1h-2zM174 425h2v1h-2zM166 426h1v1h-1zM175 426h2v1h-2zM166 427h1v1h-1zM175 427h2v1h-2zM166 428h2v1h-2zM175 428h2v1h-2zM167 429h2v1h-2zM174 429h2v1h-2zM168 430h7v1h-7zM170 431h3v1h-3zM177 442h1v1h-1zM175 443h5v1h-5zM176 444h1v1h-1zM178 444h1v1h-1zM180 444h1v1h-1zM174 445h2v1h-2zM177 445h2v1h-2zM180 445h1v1h-1zM174 446h1v1h-1zM176 446h2v1h-2zM179 446h3v1h-3zM172 447h3v1h-3zM176 447h5v1h-5zM171 448h5v1h-5zM177 448h3v1h-3zM181 448h2v1h-2zM171 449h1v1h-1zM173 449h2v1h-2zM178 449h5v1h-5zM170 450h3v1h-3zM180 450h3v1h-3zM170 451h2v1h-2zM180 451h3v1h-3zM170 452h2v1h-2zM181 452h3v1h-3zM170 453h1v1h-1zM183 453h2v1h-2zM168 454h2v1h-2zM182 454h2v1h-2zM168 455h1v1h-1zM182 455h3v1h-3zM168 456h1v1h-1zM183 456h3v1h-3zM167 457h2v1h-2zM184 457h2v1h-2zM167 458h2v1h-2zM183 458h2v1h-2zM167 459h2v1h-2zM183 459h3v1h-3zM167 460h1v1h-1zM185 460h1v1h-1zM167 461h1v1h-1zM184 461h2v1h-2zM166 462h2v1h-2zM184 462h1v1h-1zM166 463h2v1h-2zM184 463h2v1h-2zM166 464h2v1h-2zM184 464h2v1h-2zM166 465h2v1h-2zM184 465h2v1h-2zM167 466h1v1h-1zM184 466h2v1h-2zM166 467h2v1h-2zM184 467h2v1h-2zM166 468h2v1h-2zM184 468h2v1h-2zM167 469h1v1h-1zM184 469h1v1h-1zM167 470h1v1h-1zM183 470h2v1h-2zM183 471h2v1h-2zM167 472h1v1h-1zM183 472h1v1h-1zM167 473h2v1h-2zM183 473h1v1h-1zM168 474h1v1h-1zM182 474h2v1h-2zM169 475h1v1h-1zM181 475h3v1h-3zM168 476h2v1h-2zM181 476h2v1h-2zM169 477h2v1h-2zM180 477h3v1h-3zM180 478h2v1h-2zM171 479h1v1h-1zM179 479h2v1h-2zM170 480h2v1h-2zM173 480h1v1h-1zM177 480h3v1h-3zM171 481h4v1h-4zM176 481h4v1h-4zM173 482h3v1h-3zM175 483h1v1h-1z"/><path fill="rgb(108, 204, 114)" d="M169 424h4v1h-4zM168 425h6v1h-6zM167 426h3v1h-3zM172 426h3v1h-3zM167 427h3v1h-3zM172 427h3v1h-3zM168 428h7v1h-7zM169 429h5v1h-5zM175 449h3v1h-3zM173 450h7v1h-7zM172 451h8v1h-8zM172 452h9v1h-9zM171 453h3v1h-3zM178 453h4v1h-4zM170 454h3v1h-3zM179 454h3v1h-3zM170 455h2v1h-2zM180 455h2v1h-2zM170 456h1v1h-1zM180 456h3v1h-3zM169 457h2v1h-2zM181 457h2v1h-2zM169 458h1v1h-1zM181 458h2v1h-2zM169 459h1v1h-1zM181 459h2v1h-2zM168 460h2v1h-2zM182 460h2v1h-2zM168 461h1v1h-1zM182 461h1v1h-1zM168 462h1v1h-1zM182 462h2v1h-2zM168 463h1v1h-1zM182 463h2v1h-2zM168 464h1v1h-1zM182 464h2v1h-2zM168 465h1v1h-1zM182 465h2v1h-2zM168 466h1v1h-1zM182 466h2v1h-2zM168 467h1v1h-1zM182 467h2v1h-2zM168 468h1v1h-1zM182 468h1v1h-1zM168 469h1v1h-1zM182 469h1v1h-1zM168 470h2v1h-2zM182 470h1v1h-1zM168 471h1v1h-1zM181 471h2v1h-2zM169 472h1v1h-1zM181 472h2v1h-2zM169 473h1v1h-1zM181 473h1v1h-1zM169 474h2v1h-2zM180 474h2v1h-2zM170 475h1v1h-1zM180 475h1v1h-1zM170 476h2v1h-2zM179 476h2v1h-2zM171 477h2v1h-2zM178 477h2v1h-2zM172 478h8v1h-8zM172 479h4v1h-4zM177 479h2v1h-2zM174 480h3v1h-3z"/><path fill="rgb(145, 212, 68)" d="M170 426h2v1h-2zM170 427h2v1h-2zM174 453h4v1h-4zM173 454h6v1h-6zM172 455h8v1h-8zM171 456h2v1h-2zM178 456h2v1h-2zM171 457h2v1h-2zM179 457h2v1h-2zM170 458h2v1h-2zM179 458h2v1h-2zM170 459h1v1h-1zM180 459h1v1h-1zM170 460h1v1h-1zM180 460h2v1h-2zM170 461h1v1h-1zM180 461h2v1h-2zM169 462h2v1h-2zM181 462h1v1h-1zM169 463h1v1h-1zM181 463h1v1h-1zM169 464h1v1h-1zM181 464h1v1h-1zM169 465h1v1h-1zM181 465h1v1h-1zM169 466h1v1h-1zM181 466h1v1h-1zM169 467h1v1h-1zM181 467h1v1h-1zM169 468h1v1h-1zM181 468h1v1h-1zM169 469h1v1h-1zM180 469h2v1h-2zM170 470h1v1h-1zM180 470h1v1h-1zM170 471h1v1h-1zM180 471h1v1h-1zM170 472h1v1h-1zM180 472h1v1h-1zM170 473h2v1h-2zM179 473h2v1h-2zM171 474h1v1h-1zM178 474h2v1h-2zM171 475h2v1h-2zM178 475h2v1h-2zM172 476h7v1h-7zM173 477h5v1h-5z"/><path fill="rgb(193, 215, 46)" d="M173 456h5v1h-5zM173 457h6v1h-6zM172 458h2v1h-2zM177 458h2v1h-2zM171 459h2v1h-2zM178 459h2v1h-2zM171 460h1v1h-1zM179 460h1v1h-1zM171 461h1v1h-1zM179 461h1v1h-1zM171 462h1v1h-1zM179 462h2v1h-2zM170 463h1v1h-1zM179 463h2v1h-2zM170 464h1v1h-1zM180 464h1v1h-1zM170 465h1v1h-1zM180 465h1v1h-1zM170 466h1v1h-1zM180 466h1v1h-1zM170 467h1v1h-1zM180 467h1v1h-1zM170 468h1v1h-1zM179 468h2v1h-2zM170 469h1v1h-1zM179 469h1v1h-1zM171 470h1v1h-1zM179 470h1v1h-1zM171 471h1v1h-1zM179 471h1v1h-1zM171 472h2v1h-2zM178 472h2v1h-2zM172 473h1v1h-1zM177 473h2v1h-2zM172 474h6v1h-6zM173 475h5v1h-5z"/><path fill="rgb(237, 197, 38)" d="M174 458h3v1h-3zM173 459h5v1h-5zM172 460h2v1h-2zM176 460h3v1h-3zM172 461h1v1h-1zM177 461h2v1h-2zM172 462h1v1h-1zM178 462h1v1h-1zM171 463h2v1h-2zM178 463h1v1h-1zM171 464h1v1h-1zM178 464h2v1h-2zM171 465h1v1h-1zM178 465h2v1h-2zM171 466h1v1h-1zM178 466h2v1h-2zM171 467h1v1h-1zM178 467h2v1h-2zM171 468h1v1h-1zM178 468h1v1h-1zM171 469h2v1h-2zM178 469h1v1h-1zM172 470h1v1h-1zM178 470h1v1h-1zM172 471h2v1h-2zM177 471h2v1h-2zM173 472h5v1h-5zM173 473h4v1h-4z"/><path fill="rgb(244, 123, 30)" d="M174 460h2v1h-2zM173 461h4v1h-4zM173 462h5v1h-5zM173 463h1v1h-1zM176 463h2v1h-2zM172 464h2v1h-2zM177 464h1v1h-1zM172 465h2v1h-2zM177 465h1v1h-1zM172 466h2v1h-2zM177 466h1v1h-1zM172 467h2v1h-2zM177 467h1v1h-1zM172 468h2v1h-2zM177 468h1v1h-1zM173 469h2v1h-2zM176 469h2v1h-2zM173 470h5v1h-5zM174 471h3v1h-3z"/><path fill="rgb(235, 40, 30)" d="M174 463h2v1h-2zM174 464h3v1h-3zM174 465h3v1h-3zM174 466h3v1h-3zM174 467h3v1h-3zM174 468h3v1h-3zM175 469h1v1h-1z"/></g><rect x="156.0" y="414.7" width="28.9" height="21.6" fill="none" stroke="#555" stroke-width="0.9"/><rect x="195.9" y="454.3" width="22" height="31.7" fill="none" stroke="#555" stroke-width="0.9"/><text x="172.7" y="408.1" font-size="10" text-anchor="middle">5.46</text><text x="207.9" y="445.9" font-size="10" text-anchor="middle">4.10</text><path d="M140.9,404.1H143.9M140.9,427.8H143.9M140.9,454.6H143.9M140.9,472.3H143.9M140.9,490.4H143.9M142.1,411.6H143.9M142.1,441.5H143.9M142.1,466.0H143.9M142.1,469.5H143.9M142.1,475.0H143.9M149.8,495.0V498.0M167.4,495.0V498.0M185.9,495.0V498.0M204.4,495.0V498.0M221.2,495.0V498.0M238.8,495.0V498.0M155.9,495.0V496.8M160.9,495.0V496.8M163.9,495.0V496.8M165.9,495.0V496.8M168.9,495.0V496.8M171.9,495.0V496.8M174.9,495.0V496.8M193.9,495.0V496.8M211.9,495.0V496.8M229.9,495.0V496.8M243.9,495.0V496.8" stroke="#000" stroke-width="0.8" fill="none"/><rect x="143.9" y="394.8" width="104.6" height="100.2" fill="none" stroke="#000" stroke-width="1.6"/><g filter="url(#soft)"><path fill="rgb(60, 95, 210)" d="M310 415h1v1h-1zM284 417h1v1h-1zM294 418h1v1h-1zM296 420h1v1h-1zM282 421h1v1h-1zM281 422h1v1h-1zM278 423h1v1h-1zM300 426h1v1h-1zM305 426h1v1h-1zM298 427h1v1h-1zM308 427h1v1h-1zM317 427h1v1h-1zM276 428h1v1h-1zM310 428h1v1h-1zM303 431h1v1h-1zM298 432h2v1h-2zM307 433h1v1h-1zM302 434h1v1h-1zM305 434h1v1h-1zM309 435h1v1h-1zM281 436h1v1h-1zM313 436h1v1h-1zM303 437h2v1h-2zM306 437h1v1h-1zM309 437h1v1h-1zM317 437h1v1h-1zM320 437h1v1h-1zM322 437h1v1h-1zM278 438h1v1h-1zM303 438h1v1h-1zM281 439h1v1h-1zM307 439h2v1h-2zM271 440h1v1h-1zM306 440h1v1h-1zM311 440h1v1h-1zM316 440h1v1h-1zM310 441h1v1h-1zM314 441h1v1h-1zM311 442h1v1h-1zM316 442h1v1h-1zM282 443h1v1h-1zM315 443h1v1h-1zM315 444h1v1h-1zM320 444h1v1h-1zM323 444h1v1h-1zM318 445h1v1h-1zM277 447h1v1h-1zM318 447h1v1h-1zM318 448h1v1h-1zM280 449h1v1h-1zM317 449h1v1h-1zM320 449h1v1h-1zM280 450h1v1h-1zM316 450h1v1h-1zM280 451h1v1h-1zM281 452h1v1h-1zM316 452h1v1h-1zM318 452h1v1h-1zM279 453h1v1h-1zM317 453h1v1h-1zM319 453h1v1h-1zM327 453h1v1h-1zM278 454h1v1h-1zM317 455h1v1h-1zM319 455h1v1h-1zM279 456h1v1h-1zM281 456h2v1h-2zM318 456h2v1h-2zM281 457h1v1h-1zM337 457h1v1h-1zM280 458h1v1h-1zM316 458h1v1h-1zM270 459h1v1h-1zM318 459h1v1h-1zM320 460h1v1h-1zM316 462h1v1h-1zM320 463h1v1h-1zM326 463h1v1h-1zM329 463h1v1h-1zM275 464h1v1h-1zM311 464h1v1h-1zM316 464h1v1h-1zM331 464h1v1h-1zM273 465h1v1h-1zM281 465h1v1h-1zM331 465h1v1h-1zM278 466h1v1h-1zM329 466h1v1h-1zM330 467h1v1h-1zM337 468h1v1h-1zM339 469h1v1h-1zM280 470h1v1h-1zM332 470h1v1h-1zM280 471h1v1h-1zM334 471h1v1h-1zM332 477h1v1h-1zM279 478h1v1h-1zM283 480h1v1h-1zM299 480h1v1h-1zM302 480h1v1h-1zM328 480h1v1h-1zM280 481h1v1h-1zM296 481h2v1h-2zM304 481h1v1h-1zM309 481h1v1h-1zM313 481h1v1h-1zM329 481h1v1h-1zM286 482h1v1h-1zM301 482h2v1h-2zM304 482h1v1h-1zM308 482h1v1h-1zM310 482h1v1h-1zM287 483h1v1h-1zM322 483h1v1h-1zM325 483h1v1h-1zM283 484h1v1h-1zM310 484h1v1h-1zM279 485h1v1h-1zM289 485h1v1h-1zM294 485h1v1h-1zM321 485h1v1h-1zM289 489h1v1h-1z"/><path fill="rgb(60, 107, 213)" d="M284 421h1v1h-1zM286 421h1v1h-1zM289 421h3v1h-3zM293 421h1v1h-1zM283 422h1v1h-1zM285 422h1v1h-1zM287 422h2v1h-2zM292 422h1v1h-1zM283 423h1v1h-1zM292 423h1v1h-1zM280 424h3v1h-3zM293 424h2v1h-2zM296 424h1v1h-1zM280 425h1v1h-1zM282 425h1v1h-1zM295 425h3v1h-3zM281 426h2v1h-2zM296 426h2v1h-2zM297 427h1v1h-1zM280 428h2v1h-2zM297 428h1v1h-1zM281 429h1v1h-1zM281 430h1v1h-1zM295 430h1v1h-1zM282 431h2v1h-2zM294 431h3v1h-3zM282 432h1v1h-1zM284 432h1v1h-1zM293 432h2v1h-2zM296 432h1v1h-1zM285 433h2v1h-2zM292 433h2v1h-2zM295 433h1v1h-1zM283 434h3v1h-3zM287 434h5v1h-5zM293 434h2v1h-2zM297 434h2v1h-2zM288 435h1v1h-1zM290 435h3v1h-3zM294 435h2v1h-2zM297 435h1v1h-1zM287 436h2v1h-2zM291 436h1v1h-1zM294 436h1v1h-1zM297 436h1v1h-1zM287 437h1v1h-1zM289 437h2v1h-2zM294 437h2v1h-2zM300 437h2v1h-2zM288 438h1v1h-1zM291 438h5v1h-5zM297 438h1v1h-1zM284 439h3v1h-3zM289 439h1v1h-1zM292 439h1v1h-1zM295 439h1v1h-1zM297 439h2v1h-2zM301 439h2v1h-2zM283 440h1v1h-1zM285 440h1v1h-1zM287 440h2v1h-2zM290 440h1v1h-1zM293 440h3v1h-3zM298 440h1v1h-1zM300 440h1v1h-1zM304 440h1v1h-1zM283 441h1v1h-1zM285 441h1v1h-1zM287 441h4v1h-4zM298 441h1v1h-1zM305 441h2v1h-2zM283 442h2v1h-2zM286 442h2v1h-2zM289 442h1v1h-1zM295 442h3v1h-3zM302 442h4v1h-4zM308 442h1v1h-1zM285 443h4v1h-4zM296 443h2v1h-2zM301 443h1v1h-1zM304 443h1v1h-1zM307 443h4v1h-4zM283 444h1v1h-1zM285 444h2v1h-2zM298 444h2v1h-2zM302 444h2v1h-2zM305 444h2v1h-2zM311 444h1v1h-1zM284 445h2v1h-2zM287 445h1v1h-1zM297 445h4v1h-4zM302 445h1v1h-1zM305 445h1v1h-1zM308 445h1v1h-1zM311 445h1v1h-1zM313 445h1v1h-1zM283 446h3v1h-3zM287 446h2v1h-2zM301 446h2v1h-2zM304 446h3v1h-3zM308 446h1v1h-1zM310 446h1v1h-1zM283 447h1v1h-1zM286 447h1v1h-1zM298 447h1v1h-1zM303 447h1v1h-1zM311 447h1v1h-1zM282 448h1v1h-1zM284 448h1v1h-1zM287 448h1v1h-1zM299 448h3v1h-3zM303 448h5v1h-5zM309 448h3v1h-3zM285 449h1v1h-1zM300 449h4v1h-4zM306 449h1v1h-1zM283 450h3v1h-3zM287 450h1v1h-1zM302 450h1v1h-1zM304 450h4v1h-4zM311 450h2v1h-2zM286 451h2v1h-2zM303 451h1v1h-1zM305 451h1v1h-1zM309 451h2v1h-2zM313 451h1v1h-1zM286 452h2v1h-2zM303 452h4v1h-4zM310 452h1v1h-1zM312 452h4v1h-4zM282 453h2v1h-2zM287 453h1v1h-1zM304 453h4v1h-4zM310 453h1v1h-1zM312 453h1v1h-1zM315 453h1v1h-1zM284 454h4v1h-4zM304 454h4v1h-4zM310 454h2v1h-2zM313 454h2v1h-2zM284 455h2v1h-2zM287 455h1v1h-1zM304 455h7v1h-7zM312 455h1v1h-1zM314 455h1v1h-1zM304 456h3v1h-3zM309 456h2v1h-2zM313 456h1v1h-1zM283 457h1v1h-1zM285 457h1v1h-1zM287 457h1v1h-1zM304 457h1v1h-1zM306 457h2v1h-2zM309 457h1v1h-1zM283 458h1v1h-1zM285 458h1v1h-1zM287 458h1v1h-1zM304 458h4v1h-4zM309 458h2v1h-2zM312 458h1v1h-1zM282 459h1v1h-1zM285 459h1v1h-1zM287 459h1v1h-1zM304 459h1v1h-1zM306 459h3v1h-3zM312 459h1v1h-1zM285 460h2v1h-2zM304 460h3v1h-3zM309 460h1v1h-1zM312 460h1v1h-1zM283 461h1v1h-1zM286 461h1v1h-1zM304 461h1v1h-1zM306 461h1v1h-1zM308 461h2v1h-2zM284 462h1v1h-1zM286 462h1v1h-1zM305 462h1v1h-1zM308 462h1v1h-1zM310 462h1v1h-1zM283 463h3v1h-3zM304 463h1v1h-1zM306 463h1v1h-1zM284 464h2v1h-2zM305 464h1v1h-1zM309 464h1v1h-1zM282 465h1v1h-1zM284 465h1v1h-1zM303 465h5v1h-5zM310 465h1v1h-1zM313 465h1v1h-1zM320 465h1v1h-1zM325 465h1v1h-1zM283 466h1v1h-1zM303 466h4v1h-4zM311 466h1v1h-1zM316 466h2v1h-2zM320 466h2v1h-2zM323 466h1v1h-1zM325 466h1v1h-1zM327 466h2v1h-2zM282 467h1v1h-1zM284 467h1v1h-1zM303 467h1v1h-1zM305 467h5v1h-5zM313 467h2v1h-2zM316 467h5v1h-5zM322 467h2v1h-2zM325 467h5v1h-5zM281 468h2v1h-2zM304 468h1v1h-1zM306 468h3v1h-3zM311 468h1v1h-1zM316 468h1v1h-1zM318 468h6v1h-6zM326 468h1v1h-1zM329 468h1v1h-1zM282 469h2v1h-2zM304 469h4v1h-4zM309 469h4v1h-4zM314 469h1v1h-1zM316 469h1v1h-1zM328 469h1v1h-1zM282 470h2v1h-2zM305 470h1v1h-1zM307 470h1v1h-1zM309 470h2v1h-2zM326 470h2v1h-2zM329 470h1v1h-1zM331 470h1v1h-1zM283 471h1v1h-1zM304 471h2v1h-2zM327 471h3v1h-3zM281 472h2v1h-2zM303 472h2v1h-2zM328 472h2v1h-2zM282 473h1v1h-1zM302 473h2v1h-2zM332 473h1v1h-1zM281 474h2v1h-2zM301 474h1v1h-1zM304 474h1v1h-1zM327 474h1v1h-1zM282 475h1v1h-1zM284 475h1v1h-1zM299 475h6v1h-6zM327 475h3v1h-3zM332 475h1v1h-1zM284 476h1v1h-1zM298 476h1v1h-1zM301 476h1v1h-1zM303 476h2v1h-2zM306 476h2v1h-2zM326 476h2v1h-2zM329 476h2v1h-2zM284 477h1v1h-1zM286 477h1v1h-1zM297 477h1v1h-1zM300 477h1v1h-1zM302 477h2v1h-2zM305 477h3v1h-3zM309 477h3v1h-3zM326 477h1v1h-1zM329 477h2v1h-2zM284 478h1v1h-1zM287 478h1v1h-1zM294 478h6v1h-6zM301 478h2v1h-2zM307 478h1v1h-1zM309 478h2v1h-2zM313 478h1v1h-1zM315 478h8v1h-8zM325 478h1v1h-1zM328 478h1v1h-1zM283 479h1v1h-1zM285 479h2v1h-2zM288 479h1v1h-1zM290 479h1v1h-1zM293 479h1v1h-1zM295 479h2v1h-2zM301 479h1v1h-1zM304 479h1v1h-1zM308 479h1v1h-1zM312 479h1v1h-1zM315 479h1v1h-1zM317 479h2v1h-2zM320 479h1v1h-1zM322 479h3v1h-3zM327 479h1v1h-1zM329 479h1v1h-1zM288 480h1v1h-1zM291 480h2v1h-2zM308 480h1v1h-1zM312 480h1v1h-1zM315 480h1v1h-1zM317 480h2v1h-2zM321 480h2v1h-2zM324 480h1v1h-1zM326 480h1v1h-1zM285 481h1v1h-1zM287 481h1v1h-1zM289 481h1v1h-1zM292 481h2v1h-2zM316 481h1v1h-1zM318 481h1v1h-1zM320 481h1v1h-1zM322 481h1v1h-1z"/><path fill="rgb(63, 133, 215)" d="M287 423h4v1h-4zM284 424h2v1h-2zM287 424h1v1h-1zM289 424h1v1h-1zM291 424h1v1h-1zM283 425h3v1h-3zM292 425h2v1h-2zM283 426h2v1h-2zM292 426h1v1h-1zM294 426h1v1h-1zM282 427h2v1h-2zM293 427h2v1h-2zM283 428h1v1h-1zM293 428h2v1h-2zM282 429h3v1h-3zM293 429h2v1h-2zM283 430h2v1h-2zM292 430h2v1h-2zM284 431h3v1h-3zM290 431h1v1h-1zM292 431h2v1h-2zM286 432h7v1h-7zM287 433h5v1h-5zM291 441h3v1h-3zM290 442h4v1h-4zM289 443h7v1h-7zM289 444h5v1h-5zM296 444h1v1h-1zM289 445h2v1h-2zM292 445h5v1h-5zM290 446h2v1h-2zM293 446h5v1h-5zM288 447h1v1h-1zM290 447h3v1h-3zM295 447h1v1h-1zM297 447h1v1h-1zM288 448h8v1h-8zM297 448h1v1h-1zM290 449h2v1h-2zM293 449h7v1h-7zM288 450h13v1h-13zM289 451h4v1h-4zM295 451h2v1h-2zM298 451h4v1h-4zM288 452h3v1h-3zM292 452h3v1h-3zM296 452h6v1h-6zM288 453h1v1h-1zM290 453h1v1h-1zM292 453h5v1h-5zM298 453h3v1h-3zM302 453h1v1h-1zM288 454h2v1h-2zM291 454h11v1h-11zM288 455h7v1h-7zM297 455h7v1h-7zM288 456h3v1h-3zM292 456h1v1h-1zM299 456h2v1h-2zM302 456h2v1h-2zM288 457h2v1h-2zM291 457h1v1h-1zM301 457h3v1h-3zM288 458h4v1h-4zM301 458h3v1h-3zM288 459h3v1h-3zM301 459h3v1h-3zM287 460h3v1h-3zM301 460h3v1h-3zM287 461h3v1h-3zM301 461h3v1h-3zM287 462h2v1h-2zM301 462h3v1h-3zM286 463h3v1h-3zM301 463h1v1h-1zM303 463h1v1h-1zM286 464h2v1h-2zM301 464h1v1h-1zM285 465h2v1h-2zM301 465h1v1h-1zM285 466h2v1h-2zM301 466h2v1h-2zM285 467h1v1h-1zM300 467h1v1h-1zM302 467h1v1h-1zM284 468h2v1h-2zM300 468h3v1h-3zM284 469h1v1h-1zM300 469h2v1h-2zM318 469h1v1h-1zM321 469h4v1h-4zM284 470h1v1h-1zM300 470h3v1h-3zM312 470h14v1h-14zM284 471h1v1h-1zM299 471h1v1h-1zM301 471h1v1h-1zM308 471h3v1h-3zM312 471h14v1h-14zM284 472h1v1h-1zM299 472h4v1h-4zM305 472h2v1h-2zM308 472h4v1h-4zM313 472h7v1h-7zM321 472h6v1h-6zM284 473h1v1h-1zM299 473h1v1h-1zM301 473h1v1h-1zM305 473h2v1h-2zM308 473h3v1h-3zM312 473h6v1h-6zM319 473h4v1h-4zM324 473h4v1h-4zM284 474h2v1h-2zM298 474h3v1h-3zM305 474h5v1h-5zM311 474h5v1h-5zM317 474h1v1h-1zM319 474h8v1h-8zM285 475h2v1h-2zM297 475h2v1h-2zM306 475h1v1h-1zM310 475h3v1h-3zM314 475h11v1h-11zM287 476h1v1h-1zM295 476h3v1h-3zM308 476h1v1h-1zM310 476h12v1h-12zM323 476h3v1h-3zM287 477h3v1h-3zM292 477h5v1h-5zM313 477h5v1h-5zM319 477h4v1h-4zM290 478h4v1h-4z"/><path fill="rgb(74, 178, 204)" d="M288 424h1v1h-1zM286 425h6v1h-6zM285 426h3v1h-3zM290 426h2v1h-2zM284 427h3v1h-3zM291 427h2v1h-2zM284 428h3v1h-3zM291 428h2v1h-2zM285 429h2v1h-2zM290 429h1v1h-1zM285 430h7v1h-7zM287 431h3v1h-3zM295 455h2v1h-2zM293 456h6v1h-6zM292 457h2v1h-2zM295 457h5v1h-5zM292 458h9v1h-9zM291 459h4v1h-4zM296 459h5v1h-5zM290 460h3v1h-3zM298 460h3v1h-3zM290 461h2v1h-2zM299 461h2v1h-2zM289 462h3v1h-3zM299 462h2v1h-2zM289 463h2v1h-2zM299 463h2v1h-2zM288 464h2v1h-2zM299 464h2v1h-2zM287 465h2v1h-2zM299 465h1v1h-1zM287 466h1v1h-1zM299 466h2v1h-2zM286 467h1v1h-1zM299 467h1v1h-1zM286 468h1v1h-1zM299 468h1v1h-1zM285 469h1v1h-1zM298 469h2v1h-2zM285 470h1v1h-1zM298 470h2v1h-2zM285 471h1v1h-1zM298 471h1v1h-1zM285 472h1v1h-1zM298 472h1v1h-1zM285 473h1v1h-1zM297 473h2v1h-2zM286 474h1v1h-1zM296 474h2v1h-2zM287 475h1v1h-1zM295 475h2v1h-2zM288 476h3v1h-3zM292 476h3v1h-3zM290 477h2v1h-2z"/><path fill="rgb(108, 204, 114)" d="M288 426h2v1h-2zM287 427h4v1h-4zM287 428h4v1h-4zM287 429h3v1h-3zM295 459h1v1h-1zM293 460h5v1h-5zM292 461h7v1h-7zM292 462h7v1h-7zM291 463h3v1h-3zM296 463h3v1h-3zM290 464h2v1h-2zM297 464h2v1h-2zM289 465h2v1h-2zM297 465h2v1h-2zM288 466h2v1h-2zM297 466h2v1h-2zM287 467h2v1h-2zM297 467h2v1h-2zM287 468h1v1h-1zM297 468h2v1h-2zM286 469h1v1h-1zM297 469h1v1h-1zM286 470h1v1h-1zM297 470h1v1h-1zM286 471h1v1h-1zM297 471h1v1h-1zM286 472h1v1h-1zM297 472h1v1h-1zM286 473h1v1h-1zM296 473h1v1h-1zM287 474h1v1h-1zM295 474h1v1h-1zM288 475h2v1h-2zM293 475h2v1h-2zM291 476h1v1h-1z"/><path fill="rgb(145, 212, 68)" d="M294 463h2v1h-2zM292 464h5v1h-5zM291 465h6v1h-6zM290 466h2v1h-2zM295 466h2v1h-2zM289 467h1v1h-1zM296 467h1v1h-1zM288 468h1v1h-1zM296 468h1v1h-1zM287 469h1v1h-1zM296 469h1v1h-1zM287 470h1v1h-1zM296 470h1v1h-1zM287 471h1v1h-1zM296 471h1v1h-1zM287 472h1v1h-1zM296 472h1v1h-1zM287 473h1v1h-1zM295 473h1v1h-1zM288 474h2v1h-2zM294 474h1v1h-1zM290 475h3v1h-3z"/><path fill="rgb(193, 215, 46)" d="M292 466h3v1h-3zM290 467h2v1h-2zM293 467h3v1h-3zM289 468h1v1h-1zM295 468h1v1h-1zM288 469h1v1h-1zM295 469h1v1h-1zM288 470h1v1h-1zM295 470h1v1h-1zM295 471h1v1h-1zM288 472h1v1h-1zM295 472h1v1h-1zM288 473h1v1h-1zM294 473h1v1h-1zM290 474h4v1h-4z"/><path fill="rgb(237, 197, 38)" d="M292 467h1v1h-1zM290 468h5v1h-5zM289 469h1v1h-1zM294 469h1v1h-1zM294 470h1v1h-1zM288 471h1v1h-1zM294 471h1v1h-1zM289 472h1v1h-1zM294 472h1v1h-1zM289 473h2v1h-2zM292 473h2v1h-2z"/><path fill="rgb(244, 123, 30)" d="M290 469h4v1h-4zM289 470h2v1h-2zM293 470h1v1h-1zM289 471h1v1h-1zM293 471h1v1h-1zM290 472h1v1h-1zM292 472h2v1h-2zM291 473h1v1h-1z"/><path fill="rgb(235, 40, 30)" d="M291 470h2v1h-2zM290 471h3v1h-3zM291 472h1v1h-1z"/></g><rect x="275.0" y="414.7" width="28.9" height="21.6" fill="none" stroke="#555" stroke-width="0.9"/><rect x="314.9" y="454.3" width="22" height="31.7" fill="none" stroke="#555" stroke-width="0.9"/><text x="291.7" y="408.1" font-size="10" text-anchor="middle">6.62</text><text x="326.9" y="445.9" font-size="10" text-anchor="middle">5.45</text><path d="M259.9,404.1H262.9M259.9,427.8H262.9M259.9,454.6H262.9M259.9,472.3H262.9M259.9,490.4H262.9M261.1,411.6H262.9M261.1,441.5H262.9M261.1,466.0H262.9M261.1,469.5H262.9M261.1,475.0H262.9M268.8,495.0V498.0M286.4,495.0V498.0M304.9,495.0V498.0M323.4,495.0V498.0M340.2,495.0V498.0M357.8,495.0V498.0M274.9,495.0V496.8M279.9,495.0V496.8M282.9,495.0V496.8M284.9,495.0V496.8M287.9,495.0V496.8M290.9,495.0V496.8M293.9,495.0V496.8M312.9,495.0V496.8M330.9,495.0V496.8M348.9,495.0V496.8M362.9,495.0V496.8" stroke="#000" stroke-width="0.8" fill="none"/><rect x="262.9" y="394.8" width="104.6" height="100.2" fill="none" stroke="#000" stroke-width="1.6"/><g filter="url(#soft)"><path fill="rgb(60, 95, 210)" d="M404 417h1v1h-1zM411 418h1v1h-1zM405 419h1v1h-1zM407 419h1v1h-1zM401 420h1v1h-1zM416 420h1v1h-1zM395 421h1v1h-1zM419 421h1v1h-1zM399 422h1v1h-1zM397 423h2v1h-2zM419 423h1v1h-1zM419 426h1v1h-1zM420 427h1v1h-1zM419 428h1v1h-1zM426 428h1v1h-1zM423 429h1v1h-1zM429 429h1v1h-1zM394 430h1v1h-1zM430 430h1v1h-1zM419 431h1v1h-1zM431 431h1v1h-1zM434 431h1v1h-1zM396 432h1v1h-1zM398 432h1v1h-1zM427 432h1v1h-1zM430 432h1v1h-1zM398 433h1v1h-1zM399 434h1v1h-1zM429 434h1v1h-1zM426 435h2v1h-2zM432 435h1v1h-1zM434 435h1v1h-1zM396 436h1v1h-1zM399 436h2v1h-2zM433 436h1v1h-1zM436 436h1v1h-1zM432 437h1v1h-1zM395 438h2v1h-2zM434 438h2v1h-2zM437 438h2v1h-2zM432 439h1v1h-1zM437 439h1v1h-1zM397 440h1v1h-1zM433 440h1v1h-1zM398 441h1v1h-1zM440 441h1v1h-1zM399 442h1v1h-1zM444 442h1v1h-1zM395 443h1v1h-1zM435 443h2v1h-2zM442 443h1v1h-1zM436 444h1v1h-1zM441 445h1v1h-1zM443 445h1v1h-1zM438 447h1v1h-1zM439 449h1v1h-1zM441 449h1v1h-1zM387 450h1v1h-1zM441 450h1v1h-1zM445 450h1v1h-1zM439 451h2v1h-2zM458 451h1v1h-1zM397 452h1v1h-1zM444 453h1v1h-1zM398 454h2v1h-2zM450 454h1v1h-1zM453 455h1v1h-1zM384 456h1v1h-1zM398 457h1v1h-1zM453 458h2v1h-2zM457 458h1v1h-1zM395 459h1v1h-1zM452 459h2v1h-2zM458 460h1v1h-1zM398 461h1v1h-1zM398 462h1v1h-1zM397 463h2v1h-2zM453 463h1v1h-1zM395 464h1v1h-1zM398 464h1v1h-1zM456 464h1v1h-1zM394 465h1v1h-1zM460 465h1v1h-1zM394 466h1v1h-1zM454 466h2v1h-2zM430 468h1v1h-1zM458 468h1v1h-1zM395 469h1v1h-1zM428 470h1v1h-1zM460 470h1v1h-1zM432 471h1v1h-1zM457 472h1v1h-1zM428 473h1v1h-1zM433 473h1v1h-1zM394 474h1v1h-1zM424 474h2v1h-2zM432 475h1v1h-1zM393 476h1v1h-1zM427 476h1v1h-1zM434 476h1v1h-1zM456 476h1v1h-1zM390 477h1v1h-1zM418 478h1v1h-1zM420 478h1v1h-1zM424 478h1v1h-1zM432 478h1v1h-1zM397 479h1v1h-1zM399 479h1v1h-1zM419 479h2v1h-2zM412 480h1v1h-1zM416 480h2v1h-2zM420 480h1v1h-1zM453 480h2v1h-2zM393 481h1v1h-1zM405 481h1v1h-1zM409 481h1v1h-1zM428 481h2v1h-2zM437 481h1v1h-1zM440 481h1v1h-1zM406 482h1v1h-1zM420 482h1v1h-1zM424 482h1v1h-1zM448 482h1v1h-1zM404 483h1v1h-1zM417 483h1v1h-1zM430 483h1v1h-1zM443 483h1v1h-1zM403 484h1v1h-1zM444 484h1v1h-1zM446 484h1v1h-1zM448 484h1v1h-1zM405 487h1v1h-1zM441 488h1v1h-1zM437 492h1v1h-1z"/><path fill="rgb(60, 107, 213)" d="M403 420h1v1h-1zM406 420h2v1h-2zM409 420h1v1h-1zM404 421h2v1h-2zM409 421h1v1h-1zM412 421h2v1h-2zM404 422h1v1h-1zM411 422h1v1h-1zM413 423h2v1h-2zM401 424h1v1h-1zM413 424h1v1h-1zM415 424h1v1h-1zM414 425h1v1h-1zM400 426h1v1h-1zM415 426h1v1h-1zM399 427h1v1h-1zM415 427h1v1h-1zM398 428h2v1h-2zM416 428h2v1h-2zM398 429h1v1h-1zM415 429h1v1h-1zM398 430h3v1h-3zM414 430h3v1h-3zM398 431h1v1h-1zM401 431h1v1h-1zM414 431h2v1h-2zM399 432h1v1h-1zM401 432h2v1h-2zM414 432h1v1h-1zM401 433h3v1h-3zM414 433h1v1h-1zM416 433h1v1h-1zM418 433h1v1h-1zM402 434h1v1h-1zM405 434h1v1h-1zM411 434h1v1h-1zM414 434h1v1h-1zM420 434h1v1h-1zM401 435h1v1h-1zM405 435h3v1h-3zM409 435h5v1h-5zM417 435h1v1h-1zM421 435h1v1h-1zM402 436h1v1h-1zM404 436h4v1h-4zM409 436h1v1h-1zM412 436h1v1h-1zM414 436h2v1h-2zM417 436h1v1h-1zM422 436h1v1h-1zM425 436h1v1h-1zM402 437h1v1h-1zM409 437h6v1h-6zM416 437h1v1h-1zM418 437h2v1h-2zM424 437h1v1h-1zM426 437h1v1h-1zM402 438h1v1h-1zM408 438h1v1h-1zM410 438h2v1h-2zM413 438h2v1h-2zM420 438h3v1h-3zM425 438h2v1h-2zM430 438h1v1h-1zM401 439h1v1h-1zM403 439h1v1h-1zM406 439h3v1h-3zM410 439h2v1h-2zM413 439h1v1h-1zM415 439h3v1h-3zM420 439h1v1h-1zM422 439h2v1h-2zM426 439h1v1h-1zM428 439h1v1h-1zM404 440h1v1h-1zM406 440h1v1h-1zM413 440h1v1h-1zM415 440h2v1h-2zM418 440h2v1h-2zM421 440h1v1h-1zM423 440h1v1h-1zM425 440h1v1h-1zM432 440h1v1h-1zM401 441h1v1h-1zM404 441h1v1h-1zM406 441h1v1h-1zM415 441h9v1h-9zM425 441h1v1h-1zM429 441h1v1h-1zM401 442h2v1h-2zM404 442h1v1h-1zM406 442h1v1h-1zM416 442h2v1h-2zM420 442h1v1h-1zM422 442h3v1h-3zM426 442h3v1h-3zM432 442h1v1h-1zM402 443h1v1h-1zM417 443h3v1h-3zM421 443h2v1h-2zM424 443h1v1h-1zM426 443h1v1h-1zM428 443h2v1h-2zM432 443h1v1h-1zM434 443h1v1h-1zM403 444h3v1h-3zM419 444h1v1h-1zM422 444h1v1h-1zM425 444h3v1h-3zM432 444h1v1h-1zM400 445h2v1h-2zM403 445h1v1h-1zM405 445h1v1h-1zM419 445h7v1h-7zM428 445h1v1h-1zM430 445h1v1h-1zM433 445h1v1h-1zM402 446h1v1h-1zM405 446h1v1h-1zM421 446h1v1h-1zM423 446h2v1h-2zM426 446h1v1h-1zM429 446h4v1h-4zM434 446h1v1h-1zM400 447h1v1h-1zM402 447h3v1h-3zM422 447h1v1h-1zM424 447h1v1h-1zM426 447h1v1h-1zM429 447h2v1h-2zM432 447h3v1h-3zM400 448h1v1h-1zM403 448h1v1h-1zM423 448h2v1h-2zM426 448h2v1h-2zM429 448h2v1h-2zM433 448h1v1h-1zM426 449h1v1h-1zM430 449h3v1h-3zM437 449h1v1h-1zM399 450h1v1h-1zM401 450h3v1h-3zM428 450h4v1h-4zM437 450h1v1h-1zM400 451h6v1h-6zM426 451h1v1h-1zM429 451h1v1h-1zM431 451h1v1h-1zM438 451h1v1h-1zM402 452h3v1h-3zM425 452h4v1h-4zM431 452h1v1h-1zM434 452h1v1h-1zM437 452h2v1h-2zM399 453h1v1h-1zM403 453h1v1h-1zM405 453h1v1h-1zM427 453h1v1h-1zM430 453h5v1h-5zM439 453h2v1h-2zM401 454h3v1h-3zM405 454h1v1h-1zM426 454h1v1h-1zM428 454h1v1h-1zM436 454h1v1h-1zM443 454h1v1h-1zM403 455h3v1h-3zM427 455h3v1h-3zM432 455h1v1h-1zM445 455h1v1h-1zM404 456h2v1h-2zM428 456h1v1h-1zM431 456h2v1h-2zM438 456h1v1h-1zM442 456h1v1h-1zM445 456h1v1h-1zM400 457h1v1h-1zM403 457h1v1h-1zM405 457h1v1h-1zM429 457h2v1h-2zM432 457h2v1h-2zM445 457h1v1h-1zM448 457h1v1h-1zM400 458h2v1h-2zM404 458h1v1h-1zM406 458h1v1h-1zM429 458h3v1h-3zM434 458h1v1h-1zM438 458h1v1h-1zM440 458h1v1h-1zM444 458h1v1h-1zM447 458h1v1h-1zM401 459h1v1h-1zM403 459h2v1h-2zM406 459h1v1h-1zM431 459h1v1h-1zM434 459h2v1h-2zM442 459h2v1h-2zM445 459h1v1h-1zM449 459h1v1h-1zM400 460h1v1h-1zM402 460h5v1h-5zM429 460h3v1h-3zM433 460h2v1h-2zM438 460h5v1h-5zM444 460h1v1h-1zM447 460h1v1h-1zM449 460h2v1h-2zM402 461h5v1h-5zM430 461h1v1h-1zM432 461h1v1h-1zM434 461h1v1h-1zM437 461h1v1h-1zM443 461h1v1h-1zM445 461h1v1h-1zM402 462h3v1h-3zM430 462h1v1h-1zM435 462h1v1h-1zM440 462h1v1h-1zM442 462h1v1h-1zM444 462h3v1h-3zM400 463h5v1h-5zM428 463h2v1h-2zM434 463h2v1h-2zM437 463h1v1h-1zM439 463h2v1h-2zM443 463h1v1h-1zM449 463h1v1h-1zM403 464h2v1h-2zM429 464h1v1h-1zM431 464h1v1h-1zM433 464h1v1h-1zM437 464h2v1h-2zM440 464h2v1h-2zM443 464h2v1h-2zM446 464h1v1h-1zM448 464h1v1h-1zM450 464h2v1h-2zM427 465h2v1h-2zM432 465h2v1h-2zM436 465h1v1h-1zM440 465h1v1h-1zM442 465h1v1h-1zM445 465h8v1h-8zM401 466h2v1h-2zM427 466h1v1h-1zM436 466h3v1h-3zM441 466h1v1h-1zM447 466h3v1h-3zM451 466h1v1h-1zM400 467h3v1h-3zM424 467h1v1h-1zM428 467h2v1h-2zM432 467h1v1h-1zM435 467h1v1h-1zM438 467h1v1h-1zM449 467h3v1h-3zM453 467h1v1h-1zM423 468h1v1h-1zM426 468h2v1h-2zM432 468h1v1h-1zM434 468h1v1h-1zM437 468h1v1h-1zM439 468h2v1h-2zM452 468h1v1h-1zM401 469h1v1h-1zM422 469h1v1h-1zM425 469h1v1h-1zM435 469h1v1h-1zM437 469h3v1h-3zM453 469h2v1h-2zM399 470h1v1h-1zM420 470h3v1h-3zM433 470h5v1h-5zM452 470h1v1h-1zM397 471h1v1h-1zM400 471h1v1h-1zM419 471h2v1h-2zM423 471h1v1h-1zM439 471h1v1h-1zM453 471h2v1h-2zM399 472h3v1h-3zM419 472h3v1h-3zM437 472h2v1h-2zM453 472h1v1h-1zM398 473h1v1h-1zM400 473h2v1h-2zM418 473h2v1h-2zM436 473h3v1h-3zM453 473h1v1h-1zM455 473h1v1h-1zM400 474h3v1h-3zM417 474h2v1h-2zM436 474h2v1h-2zM453 474h2v1h-2zM416 475h2v1h-2zM437 475h3v1h-3zM452 475h1v1h-1zM405 476h1v1h-1zM414 476h3v1h-3zM418 476h1v1h-1zM438 476h3v1h-3zM452 476h1v1h-1zM454 476h1v1h-1zM403 477h2v1h-2zM408 477h3v1h-3zM413 477h1v1h-1zM416 477h1v1h-1zM437 477h4v1h-4zM452 477h1v1h-1zM408 478h3v1h-3zM412 478h1v1h-1zM440 478h1v1h-1zM442 478h1v1h-1zM451 478h3v1h-3zM411 479h1v1h-1zM442 479h1v1h-1zM444 479h1v1h-1zM447 479h1v1h-1zM441 480h2v1h-2zM444 480h2v1h-2zM443 481h3v1h-3zM448 481h1v1h-1zM445 482h1v1h-1z"/><path fill="rgb(63, 133, 215)" d="M405 422h5v1h-5zM404 423h4v1h-4zM409 423h1v1h-1zM411 423h1v1h-1zM403 424h2v1h-2zM411 424h2v1h-2zM402 425h1v1h-1zM412 425h2v1h-2zM401 426h2v1h-2zM412 426h2v1h-2zM413 427h2v1h-2zM400 428h2v1h-2zM413 428h1v1h-1zM402 429h1v1h-1zM413 429h2v1h-2zM401 430h2v1h-2zM413 430h1v1h-1zM403 431h1v1h-1zM411 431h2v1h-2zM403 432h3v1h-3zM409 432h4v1h-4zM406 433h1v1h-1zM408 433h4v1h-4zM406 434h3v1h-3zM409 440h2v1h-2zM412 440h1v1h-1zM407 441h3v1h-3zM412 441h1v1h-1zM414 441h1v1h-1zM408 442h4v1h-4zM413 442h3v1h-3zM407 443h7v1h-7zM415 443h2v1h-2zM407 444h6v1h-6zM415 444h1v1h-1zM407 445h3v1h-3zM411 445h5v1h-5zM417 445h2v1h-2zM407 446h12v1h-12zM405 447h1v1h-1zM407 447h4v1h-4zM412 447h3v1h-3zM416 447h3v1h-3zM420 447h1v1h-1zM405 448h6v1h-6zM412 448h6v1h-6zM420 448h1v1h-1zM422 448h1v1h-1zM409 449h4v1h-4zM414 449h3v1h-3zM419 449h5v1h-5zM405 450h2v1h-2zM408 450h2v1h-2zM411 450h1v1h-1zM413 450h1v1h-1zM415 450h1v1h-1zM417 450h6v1h-6zM424 450h1v1h-1zM406 451h4v1h-4zM411 451h3v1h-3zM415 451h6v1h-6zM423 451h2v1h-2zM406 452h6v1h-6zM413 452h1v1h-1zM415 452h9v1h-9zM406 453h3v1h-3zM410 453h7v1h-7zM419 453h6v1h-6zM407 454h8v1h-8zM416 454h2v1h-2zM420 454h5v1h-5zM406 455h20v1h-20zM406 456h1v1h-1zM409 456h8v1h-8zM418 456h10v1h-10zM407 457h5v1h-5zM413 457h2v1h-2zM416 457h3v1h-3zM420 457h6v1h-6zM427 457h2v1h-2zM408 458h8v1h-8zM424 458h3v1h-3zM407 459h3v1h-3zM411 459h3v1h-3zM426 459h4v1h-4zM407 460h1v1h-1zM409 460h2v1h-2zM427 460h1v1h-1zM407 461h2v1h-2zM410 461h1v1h-1zM426 461h3v1h-3zM406 462h4v1h-4zM426 462h3v1h-3zM405 463h1v1h-1zM407 463h1v1h-1zM425 463h1v1h-1zM427 463h1v1h-1zM406 464h1v1h-1zM425 464h2v1h-2zM404 465h2v1h-2zM424 465h1v1h-1zM403 466h2v1h-2zM423 466h2v1h-2zM443 466h1v1h-1zM445 466h2v1h-2zM403 467h1v1h-1zM422 467h2v1h-2zM442 467h3v1h-3zM447 467h2v1h-2zM402 468h2v1h-2zM420 468h3v1h-3zM441 468h6v1h-6zM448 468h1v1h-1zM450 468h1v1h-1zM402 469h1v1h-1zM419 469h1v1h-1zM440 469h4v1h-4zM449 469h3v1h-3zM402 470h1v1h-1zM418 470h1v1h-1zM440 470h2v1h-2zM450 470h2v1h-2zM401 471h1v1h-1zM418 471h1v1h-1zM440 471h2v1h-2zM451 471h1v1h-1zM402 472h2v1h-2zM417 472h1v1h-1zM439 472h2v1h-2zM451 472h2v1h-2zM402 473h2v1h-2zM416 473h1v1h-1zM440 473h2v1h-2zM451 473h2v1h-2zM403 474h3v1h-3zM415 474h1v1h-1zM440 474h2v1h-2zM452 474h1v1h-1zM405 475h2v1h-2zM415 475h1v1h-1zM440 475h1v1h-1zM450 475h2v1h-2zM408 476h2v1h-2zM411 476h3v1h-3zM441 476h2v1h-2zM450 476h2v1h-2zM441 477h4v1h-4zM448 477h3v1h-3zM443 478h3v1h-3zM447 478h1v1h-1zM445 479h2v1h-2z"/><path fill="rgb(74, 178, 204)" d="M405 424h6v1h-6zM403 425h3v1h-3zM409 425h3v1h-3zM403 426h2v1h-2zM410 426h2v1h-2zM402 427h2v1h-2zM411 427h2v1h-2zM403 428h1v1h-1zM411 428h2v1h-2zM403 429h2v1h-2zM411 429h2v1h-2zM403 430h3v1h-3zM410 430h2v1h-2zM404 431h7v1h-7zM406 432h3v1h-3zM416 458h8v1h-8zM414 459h2v1h-2zM417 459h9v1h-9zM412 460h2v1h-2zM415 460h2v1h-2zM423 460h1v1h-1zM411 461h3v1h-3zM424 461h2v1h-2zM410 462h2v1h-2zM424 462h2v1h-2zM408 463h3v1h-3zM423 463h2v1h-2zM407 464h2v1h-2zM423 464h2v1h-2zM406 465h2v1h-2zM422 465h2v1h-2zM405 466h1v1h-1zM421 466h2v1h-2zM404 467h2v1h-2zM420 467h2v1h-2zM404 468h1v1h-1zM419 468h1v1h-1zM403 469h2v1h-2zM418 469h1v1h-1zM444 469h5v1h-5zM403 470h1v1h-1zM417 470h1v1h-1zM442 470h8v1h-8zM403 471h2v1h-2zM416 471h2v1h-2zM442 471h2v1h-2zM448 471h2v1h-2zM404 472h1v1h-1zM416 472h1v1h-1zM442 472h2v1h-2zM449 472h2v1h-2zM404 473h2v1h-2zM415 473h1v1h-1zM442 473h2v1h-2zM449 473h2v1h-2zM406 474h1v1h-1zM414 474h1v1h-1zM442 474h2v1h-2zM449 474h2v1h-2zM407 475h7v1h-7zM443 475h2v1h-2zM448 475h2v1h-2zM443 476h7v1h-7zM445 477h3v1h-3z"/><path fill="rgb(108, 204, 114)" d="M406 425h3v1h-3zM405 426h5v1h-5zM404 427h6v1h-6zM404 428h7v1h-7zM405 429h6v1h-6zM406 430h4v1h-4zM417 460h6v1h-6zM414 461h10v1h-10zM412 462h3v1h-3zM421 462h3v1h-3zM411 463h2v1h-2zM421 463h2v1h-2zM409 464h2v1h-2zM421 464h2v1h-2zM408 465h1v1h-1zM420 465h2v1h-2zM406 466h2v1h-2zM419 466h2v1h-2zM406 467h1v1h-1zM418 467h2v1h-2zM405 468h1v1h-1zM417 468h2v1h-2zM405 469h1v1h-1zM417 469h1v1h-1zM404 470h1v1h-1zM416 470h1v1h-1zM405 471h1v1h-1zM415 471h1v1h-1zM444 471h4v1h-4zM405 472h1v1h-1zM415 472h1v1h-1zM444 472h5v1h-5zM406 473h1v1h-1zM414 473h1v1h-1zM444 473h5v1h-5zM407 474h3v1h-3zM412 474h2v1h-2zM444 474h5v1h-5zM445 475h3v1h-3z"/><path fill="rgb(145, 212, 68)" d="M415 462h6v1h-6zM413 463h3v1h-3zM418 463h3v1h-3zM411 464h2v1h-2zM419 464h2v1h-2zM409 465h2v1h-2zM418 465h2v1h-2zM408 466h1v1h-1zM418 466h1v1h-1zM407 467h1v1h-1zM417 467h1v1h-1zM406 468h1v1h-1zM416 468h1v1h-1zM416 469h1v1h-1zM405 470h1v1h-1zM415 470h1v1h-1zM406 471h1v1h-1zM406 472h1v1h-1zM414 472h1v1h-1zM407 473h2v1h-2zM412 473h2v1h-2zM410 474h2v1h-2z"/><path fill="rgb(193, 215, 46)" d="M416 463h2v1h-2zM413 464h6v1h-6zM411 465h7v1h-7zM409 466h2v1h-2zM415 466h3v1h-3zM408 467h1v1h-1zM415 467h2v1h-2zM407 468h1v1h-1zM415 468h1v1h-1zM406 469h1v1h-1zM415 469h1v1h-1zM406 470h1v1h-1zM414 470h1v1h-1zM407 471h1v1h-1zM414 471h1v1h-1zM407 472h1v1h-1zM413 472h1v1h-1zM409 473h3v1h-3z"/><path fill="rgb(237, 197, 38)" d="M411 466h4v1h-4zM409 467h1v1h-1zM413 467h2v1h-2zM408 468h1v1h-1zM414 468h1v1h-1zM407 469h1v1h-1zM414 469h1v1h-1zM407 470h1v1h-1zM413 470h1v1h-1zM408 471h1v1h-1zM413 471h1v1h-1zM408 472h5v1h-5z"/><path fill="rgb(244, 123, 30)" d="M410 467h3v1h-3zM409 468h2v1h-2zM412 468h2v1h-2zM408 469h1v1h-1zM412 469h2v1h-2zM408 470h1v1h-1zM412 470h1v1h-1zM409 471h4v1h-4z"/><path fill="rgb(235, 40, 30)" d="M411 468h1v1h-1zM409 469h3v1h-3zM409 470h3v1h-3z"/></g><rect x="394.0" y="414.7" width="28.9" height="21.6" fill="none" stroke="#555" stroke-width="0.9"/><rect x="433.9" y="454.3" width="22" height="31.7" fill="none" stroke="#555" stroke-width="0.9"/><text x="410.7" y="408.1" font-size="10" text-anchor="middle">13.7</text><text x="445.9" y="445.9" font-size="10" text-anchor="middle">16.2</text><path d="M378.9,404.1H381.9M378.9,427.8H381.9M378.9,454.6H381.9M378.9,472.3H381.9M378.9,490.4H381.9M380.1,411.6H381.9M380.1,441.5H381.9M380.1,466.0H381.9M380.1,469.5H381.9M380.1,475.0H381.9M387.8,495.0V498.0M405.4,495.0V498.0M423.9,495.0V498.0M442.4,495.0V498.0M459.2,495.0V498.0M476.8,495.0V498.0M393.9,495.0V496.8M398.9,495.0V496.8M401.9,495.0V496.8M403.9,495.0V496.8M406.9,495.0V496.8M409.9,495.0V496.8M412.9,495.0V496.8M431.9,495.0V496.8M449.9,495.0V496.8M467.9,495.0V496.8M481.9,495.0V496.8" stroke="#000" stroke-width="0.8" fill="none"/><rect x="381.9" y="394.8" width="104.6" height="100.2" fill="none" stroke="#000" stroke-width="1.6"/><path d="M10.2,506.2 V494 M10.2,506.2 H25" stroke="#000" stroke-width="1.1" fill="none"/><path d="M6.9,495.7 L10.2,488.8 L13.5,495.7 Z M24,502.9 L31.2,506.2 L24,509.5 Z" fill="#000"/><text transform="translate(13.8 473.3) rotate(-90)" font-size="9.5" text-anchor="middle" textLength="19.2" lengthAdjust="spacingAndGlyphs">CD8</text><text x="35.8" y="510.5" font-size="9.5" textLength="18.9" lengthAdjust="spacingAndGlyphs">CD4</text>
<rect x="507.6" y="356.1" width="15.6" height="5.6" fill="#a587cd"/>
<text x="527.4" y="361.7" font-size="9.5" textLength="23.8" lengthAdjust="spacingAndGlyphs">shNC</text>
<rect x="507.6" y="369.6" width="15.6" height="5.6" fill="#96d791"/>
<text x="527.4" y="375.2" font-size="9.5" textLength="45.4" lengthAdjust="spacingAndGlyphs">shYTHDF1</text>
<rect x="577.5" y="356.1" width="15.6" height="5.6" fill="#96c3eb"/>
<text x="597.3" y="361.7" font-size="9.5" textLength="64.3" lengthAdjust="spacingAndGlyphs">shNC+α-PD-L1</text>
<rect x="577.5" y="369.6" width="15.6" height="5.6" fill="#eba0a8"/>
<text x="597.3" y="375.2" font-size="9.5" textLength="87.2" lengthAdjust="spacingAndGlyphs">shYTHDF1+α-PD-L1</text>
<line x1="545.4" y1="397.2" x2="545.4" y2="497.8" stroke="#000" stroke-width="1.8"/>
<line x1="544.5" y1="496.9" x2="679.0" y2="496.9" stroke="#000" stroke-width="1.8"/>
<line x1="540.6" y1="496.9" x2="545.2" y2="496.9" stroke="#000" stroke-width="1.5"/>
<text x="539.3" y="500.2" font-size="9.3" text-anchor="end" textLength="6.2" lengthAdjust="spacingAndGlyphs">0</text>
<line x1="540.6" y1="472.1" x2="545.2" y2="472.1" stroke="#000" stroke-width="1.5"/>
<text x="539.3" y="475.4" font-size="9.3" text-anchor="end" textLength="12.4" lengthAdjust="spacingAndGlyphs">10</text>
<line x1="540.6" y1="447.4" x2="545.2" y2="447.4" stroke="#000" stroke-width="1.5"/>
<text x="539.3" y="450.7" font-size="9.3" text-anchor="end" textLength="12.4" lengthAdjust="spacingAndGlyphs">20</text>
<line x1="540.6" y1="422.6" x2="545.2" y2="422.6" stroke="#000" stroke-width="1.5"/>
<text x="539.3" y="425.9" font-size="9.3" text-anchor="end" textLength="12.4" lengthAdjust="spacingAndGlyphs">30</text>
<line x1="540.6" y1="397.9" x2="545.2" y2="397.9" stroke="#000" stroke-width="1.5"/>
<text x="539.3" y="401.2" font-size="9.3" text-anchor="end" textLength="12.4" lengthAdjust="spacingAndGlyphs">40</text>
<line x1="577.0" y1="496.9" x2="577.0" y2="501.8" stroke="#000" stroke-width="1.5"/>
<line x1="645.2" y1="496.9" x2="645.2" y2="501.8" stroke="#000" stroke-width="1.5"/>
<text x="577.9" y="514.8" font-size="9.7" text-anchor="middle">CD8</text>
<text x="646.5" y="514.8" font-size="9.7" text-anchor="middle">CD4</text>
<text transform="translate(510.6 442.8) rotate(-90)" font-size="9.4" text-anchor="middle" textLength="79.3" lengthAdjust="spacingAndGlyphs">Percentage of cells</text>
<text transform="translate(521.2 444.7) rotate(-90)" font-size="9.4" text-anchor="middle" textLength="64.8" lengthAdjust="spacingAndGlyphs">/g tumor weight</text>
<line x1="554.8" y1="494.9" x2="554.8" y2="493.9" stroke="#7d44a6" stroke-width="1.6"/>
<line x1="552.4" y1="493.9" x2="557.2" y2="493.9" stroke="#7d44a6" stroke-width="1.6"/>
<rect x="550.3" y="494.9" width="9.0" height="2.0" fill="#9a6db8"/>
<line x1="569.7" y1="487.0" x2="569.7" y2="484.5" stroke="#8cd25a" stroke-width="1.6"/>
<line x1="567.0" y1="484.5" x2="572.3" y2="484.5" stroke="#8cd25a" stroke-width="1.6"/>
<rect x="564.7" y="487.0" width="9.9" height="9.9" fill="#95d668"/>
<line x1="584.5" y1="483.3" x2="584.5" y2="478.8" stroke="#5f95cc" stroke-width="1.6"/>
<line x1="581.9" y1="478.8" x2="587.0" y2="478.8" stroke="#5f95cc" stroke-width="1.6"/>
<rect x="579.7" y="483.3" width="9.5" height="13.6" fill="#6399cf"/>
<line x1="599.2" y1="448.6" x2="599.2" y2="441.7" stroke="#e0323a" stroke-width="1.6"/>
<line x1="596.7" y1="441.7" x2="601.8" y2="441.7" stroke="#e0323a" stroke-width="1.6"/>
<rect x="594.6" y="448.6" width="9.3" height="48.3" fill="#e8808a"/>
<line x1="623.7" y1="494.9" x2="623.7" y2="493.9" stroke="#7d44a6" stroke-width="1.6"/>
<line x1="621.3" y1="493.9" x2="626.1" y2="493.9" stroke="#7d44a6" stroke-width="1.6"/>
<rect x="619.2" y="494.9" width="9.0" height="2.0" fill="#9a6db8"/>
<line x1="638.2" y1="487.0" x2="638.2" y2="483.8" stroke="#8cd25a" stroke-width="1.6"/>
<line x1="635.5" y1="483.8" x2="640.8" y2="483.8" stroke="#8cd25a" stroke-width="1.6"/>
<rect x="633.2" y="487.0" width="9.9" height="9.9" fill="#95d668"/>
<line x1="653.0" y1="485.8" x2="653.0" y2="482.8" stroke="#5f95cc" stroke-width="1.6"/>
<line x1="650.4" y1="482.8" x2="655.6" y2="482.8" stroke="#5f95cc" stroke-width="1.6"/>
<rect x="648.2" y="485.8" width="9.6" height="11.1" fill="#6399cf"/>
<line x1="667.9" y1="440.5" x2="667.9" y2="424.1" stroke="#e0323a" stroke-width="1.6"/>
<line x1="665.3" y1="424.1" x2="670.4" y2="424.1" stroke="#e0323a" stroke-width="1.6"/>
<rect x="663.2" y="440.5" width="9.3" height="56.4" fill="#e8808a"/>
<line x1="551.2" y1="479.6" x2="566.8" y2="479.6" stroke="#000" stroke-width="1.3"/>
<text x="559.0" y="479.0" font-size="10.5" text-anchor="middle">***</text>
<line x1="569.8" y1="471.2" x2="585.7" y2="471.2" stroke="#000" stroke-width="1.3"/>
<text x="577.8" y="470.6" font-size="10.5" text-anchor="middle">*</text>
<line x1="582.7" y1="436.8" x2="600.6" y2="436.8" stroke="#000" stroke-width="1.3"/>
<text x="591.7" y="436.2" font-size="10.5" text-anchor="middle">***</text>
<line x1="571.3" y1="423.9" x2="600.6" y2="423.9" stroke="#000" stroke-width="1.3"/>
<text x="586.0" y="423.3" font-size="10.5" text-anchor="middle">***</text>
<line x1="619.8" y1="479.6" x2="634.7" y2="479.6" stroke="#000" stroke-width="1.3"/>
<text x="627.2" y="479.0" font-size="10.5" text-anchor="middle">**</text>
<line x1="637.7" y1="471.2" x2="653.6" y2="471.2" stroke="#000" stroke-width="1.3"/>
<text x="645.7" y="468.7" font-size="11.5" text-anchor="middle">ns</text>
<line x1="651.2" y1="419.4" x2="668.0" y2="419.4" stroke="#000" stroke-width="1.3"/>
<text x="659.6" y="418.8" font-size="10.5" text-anchor="middle">***</text>
<line x1="638.0" y1="408.3" x2="668.0" y2="408.3" stroke="#000" stroke-width="1.3"/>
<text x="653.0" y="407.7" font-size="10.5" text-anchor="middle">***</text>
<text x="8.2" y="550.9" font-size="18">F</text>
<text x="172.7" y="539.9" font-size="10" textLength="157.6" lengthAdjust="spacingAndGlyphs">--Gated on CD45<tspan font-size="6.5" dy="-3.5">+</tspan><tspan dy="3.5">CD8</tspan><tspan font-size="6.5" dy="-3.5">+</tspan><tspan dy="3.5"> live TILs--</tspan></text>
<text x="70.0" y="560.5" font-size="10.5" text-anchor="middle">shNC+isotype</text>
<text x="192.2" y="560.5" font-size="10.5" text-anchor="middle">shYTHDF1+isotype</text>
<text x="309.5" y="560.5" font-size="10.5" text-anchor="middle">shNC+α-PD-L1</text>
<text x="429.7" y="560.5" font-size="10.5" text-anchor="middle">shYTHDF1+α-PD-L1</text>
<path fill="none" stroke="#505050" stroke-width="0.42" d="M67.9,660.5 L67.1,660.4 L66.8,659.9 L66.4,659.0 L66.2,658.4 L66.0,657.4 L65.9,656.9 L65.7,655.9 L65.6,654.9 L65.5,653.9 L65.4,653.4 L65.3,652.4 L65.2,651.4 L65.1,650.4 L65.0,649.4 L65.0,648.4 L64.9,647.4 L64.9,646.9 L64.8,645.9 L64.8,644.9 L64.8,643.9 L64.7,642.9 L64.7,641.9 L64.7,640.9 L64.7,639.9 L64.7,638.9 L64.7,637.9 L64.7,636.9 L64.7,635.9 L64.7,634.9 L64.7,633.9 L64.7,632.9 L64.6,631.9 L64.4,630.9 L64.2,630.4 L63.9,629.6 L63.5,628.9 L63.2,628.4 L62.9,627.9 L62.4,627.1 L62.0,626.4 L61.7,625.9 L61.4,625.4 L60.9,624.5 L60.6,623.9 L60.4,623.4 L59.9,622.4 L59.7,621.9 L59.4,621.2 L59.0,620.4 L58.8,619.9 L58.4,619.0 L58.0,618.4 L57.7,617.9 L57.3,617.4 L56.9,616.9 L56.2,616.4 L55.4,615.9 L54.9,615.6 L54.4,615.3 L53.7,614.9 L52.9,614.4 L52.4,614.1 L51.9,613.7 L51.4,613.3 L50.8,612.9 L50.2,612.4 L49.6,611.9 L49.1,611.4 L48.5,610.9 L48.0,610.4 L47.6,609.9 L47.1,609.4 L46.7,608.9 L46.2,608.4 L45.8,607.9 L45.4,607.3 L44.9,606.7 L44.4,606.0 L44.0,605.4 L43.7,604.9 L43.4,604.4 L42.9,603.5 L42.6,602.9 L42.3,602.4 L41.9,601.5 L41.6,600.9 L41.4,600.3 L41.1,599.4 L40.9,598.9 L40.6,597.9 L40.4,597.0 L40.3,596.4 L40.1,595.4 L40.1,594.4 L40.0,593.4 L40.1,592.4 L40.3,591.4 L40.4,590.9 L40.8,589.9 L41.0,589.4 L41.4,588.7 L41.9,588.0 L42.4,587.5 L42.9,587.0 L43.4,586.7 L43.9,586.4 L44.9,586.0 L45.4,585.8 L46.4,585.6 L47.4,585.5 L48.4,585.4 L49.4,585.5 L50.4,585.7 L51.4,585.9 L51.9,586.0 L52.9,586.3 L53.4,586.5 L54.3,586.9 L54.9,587.2 L55.4,587.4 L56.3,587.9 L56.9,588.2 L57.4,588.5 L58.0,588.9 L58.7,589.4 L59.4,589.9 L59.9,590.3 L60.4,590.7 L60.9,591.1 L61.4,591.5 L61.9,592.0 L62.4,592.4 L62.9,592.9 L63.4,593.4 L63.9,594.0 L64.4,594.6 L64.9,595.2 L65.4,595.8 L65.8,596.4 L66.2,596.9 L66.5,597.4 L66.9,598.0 L67.4,598.8 L67.8,599.4 L68.0,599.9 L68.4,600.7 L68.8,601.4 L69.0,601.9 L69.4,602.9 L69.6,603.4 L69.9,604.4 L70.0,604.9 L70.3,605.9 L70.4,606.6 L70.6,607.4 L70.7,608.4 L70.8,609.4 L70.9,610.4 L70.9,610.9 L71.0,611.9 L71.0,612.9 L71.0,613.9 L71.1,614.9 L71.1,615.9 L71.2,616.9 L71.2,617.9 L71.2,618.9 L71.3,619.9 L71.3,620.9 L71.3,621.9 L71.2,622.9 L71.2,623.9 L71.1,624.9 L71.0,625.9 L70.9,626.5 L70.8,627.4 L70.7,628.4 L70.6,629.4 L70.5,630.4 L70.4,631.0 L70.3,631.9 L70.3,632.9 L70.3,633.9 L70.3,634.9 L70.3,635.9 L70.3,636.9 L70.3,637.9 L70.3,638.9 L70.3,639.9 L70.3,640.9 L70.3,641.9 L70.3,642.9 L70.2,643.9 L70.2,644.9 L70.2,645.9 L70.1,646.9 L70.1,647.9 L70.0,648.9 L69.9,649.9 L69.9,650.4 L69.8,651.4 L69.7,652.4 L69.6,653.4 L69.5,654.4 L69.4,655.0 L69.3,655.9 L69.1,656.9 L68.9,657.9 L68.8,658.4 L68.5,659.4 L68.2,659.9 L67.9,660.5 M67.9,652.5 L67.1,652.4 L66.9,651.9 L66.6,650.9 L66.4,649.9 L66.3,649.4 L66.2,648.4 L66.1,647.4 L66.0,646.4 L65.9,645.4 L65.9,644.6 L65.9,643.9 L65.8,642.9 L65.8,641.9 L65.8,640.9 L65.8,639.9 L65.8,638.9 L65.8,637.9 L65.8,636.9 L65.8,635.9 L65.9,634.9 L65.9,633.9 L65.9,632.9 L65.8,631.9 L65.7,630.9 L65.4,629.9 L65.3,629.4 L64.9,628.6 L64.5,627.9 L64.2,627.4 L63.8,626.9 L63.4,626.3 L62.9,625.6 L62.4,624.9 L62.1,624.4 L61.8,623.9 L61.4,623.1 L61.0,622.4 L60.8,621.9 L60.4,621.0 L60.1,620.4 L59.9,619.8 L59.5,618.9 L59.3,618.4 L58.9,617.5 L58.6,616.9 L58.3,616.4 L57.9,615.9 L57.4,615.3 L56.9,614.9 L56.1,614.4 L55.4,614.0 L54.9,613.7 L54.3,613.4 L53.5,612.9 L52.9,612.5 L52.4,612.2 L51.9,611.8 L51.4,611.4 L50.7,610.9 L50.1,610.4 L49.6,609.9 L49.1,609.4 L48.6,608.9 L48.1,608.4 L47.6,607.9 L47.2,607.4 L46.8,606.9 L46.4,606.4 L45.9,605.7 L45.4,605.0 L45.0,604.4 L44.7,603.9 L44.4,603.3 L43.9,602.4 L43.6,601.9 L43.4,601.4 L43.0,600.4 L42.8,599.9 L42.4,598.9 L42.3,598.4 L42.0,597.4 L41.9,596.5 L41.8,595.9 L41.7,594.9 L41.7,593.9 L41.9,592.9 L42.0,592.4 L42.3,591.4 L42.5,590.9 L42.9,590.1 L43.4,589.4 L43.9,588.9 L44.4,588.5 L44.9,588.2 L45.5,587.9 L46.4,587.5 L47.0,587.4 L47.9,587.3 L48.9,587.2 L49.9,587.3 L50.6,587.4 L51.4,587.5 L52.4,587.8 L52.9,588.0 L53.9,588.3 L54.4,588.6 L55.1,588.9 L55.9,589.3 L56.4,589.6 L56.9,589.9 L57.7,590.4 L58.4,590.9 L58.9,591.2 L59.4,591.6 L59.9,592.0 L60.4,592.4 L60.9,592.9 L61.5,593.4 L62.0,593.9 L62.5,594.4 L63.0,594.9 L63.4,595.4 L63.9,596.0 L64.4,596.6 L64.9,597.3 L65.3,597.9 L65.6,598.4 L65.9,598.9 L66.4,599.7 L66.8,600.4 L67.1,600.9 L67.4,601.7 L67.7,602.4 L67.9,602.9 L68.3,603.9 L68.4,604.4 L68.7,605.4 L68.9,606.1 L69.1,606.9 L69.3,607.9 L69.4,608.8 L69.5,609.4 L69.6,610.4 L69.7,611.4 L69.8,612.4 L69.9,613.4 L69.9,613.9 L70.0,614.9 L70.1,615.9 L70.2,616.9 L70.2,617.9 L70.3,618.9 L70.3,619.9 L70.3,620.9 L70.2,621.9 L70.2,622.9 L70.1,623.9 L70.0,624.9 L69.9,625.5 L69.8,626.4 L69.6,627.4 L69.5,628.4 L69.4,629.0 L69.3,629.9 L69.2,630.9 L69.2,631.9 L69.1,632.9 L69.1,633.9 L69.2,634.9 L69.2,635.9 L69.2,636.9 L69.2,637.9 L69.2,638.9 L69.2,639.9 L69.2,640.9 L69.2,641.9 L69.2,642.9 L69.1,643.9 L69.1,644.9 L69.0,645.9 L68.9,646.9 L68.9,647.4 L68.8,648.4 L68.7,649.4 L68.5,650.4 L68.4,650.9 L68.1,651.9 L67.9,652.5 M67.4,629.7 L66.9,629.3 L66.4,628.5 L66.0,627.9 L65.7,627.4 L65.3,626.9 L64.8,626.4 L64.4,625.9 L63.9,625.3 L63.4,624.7 L62.9,624.0 L62.5,623.4 L62.2,622.9 L61.9,622.3 L61.4,621.4 L61.2,620.9 L60.9,620.2 L60.5,619.4 L60.3,618.9 L59.9,617.9 L59.7,617.4 L59.4,616.7 L59.0,615.9 L58.7,615.4 L58.3,614.9 L57.9,614.4 L57.3,613.9 L56.6,613.4 L55.9,613.0 L55.4,612.8 L54.7,612.4 L53.9,611.9 L53.4,611.6 L52.9,611.3 L52.4,610.9 L51.7,610.4 L51.1,609.9 L50.5,609.4 L49.9,608.9 L49.4,608.4 L48.9,607.9 L48.5,607.4 L48.0,606.9 L47.6,606.4 L47.2,605.9 L46.8,605.4 L46.4,604.8 L45.9,604.0 L45.5,603.4 L45.2,602.9 L44.9,602.3 L44.5,601.4 L44.2,600.9 L43.9,600.1 L43.7,599.4 L43.4,598.5 L43.2,597.9 L43.0,596.9 L42.9,595.9 L42.9,594.9 L43.0,593.9 L43.2,592.9 L43.4,592.2 L43.8,591.4 L44.1,590.9 L44.5,590.4 L45.0,589.9 L45.7,589.4 L46.4,589.0 L46.9,588.8 L47.9,588.6 L48.9,588.5 L49.9,588.5 L50.9,588.6 L51.9,588.8 L52.4,588.9 L53.4,589.2 L53.9,589.4 L54.9,589.9 L55.4,590.1 L55.9,590.4 L56.7,590.9 L57.4,591.3 L57.9,591.6 L58.4,592.0 L58.9,592.4 L59.5,592.9 L60.1,593.4 L60.7,593.9 L61.2,594.4 L61.7,594.9 L62.2,595.4 L62.7,595.9 L63.1,596.4 L63.5,596.9 L63.9,597.4 L64.4,598.1 L64.9,598.9 L65.2,599.4 L65.5,599.9 L65.9,600.6 L66.3,601.4 L66.5,601.9 L66.9,602.8 L67.2,603.4 L67.4,604.1 L67.7,604.9 L67.9,605.8 L68.1,606.4 L68.3,607.4 L68.4,608.1 L68.5,608.9 L68.7,609.9 L68.8,610.9 L68.9,611.6 L69.0,612.4 L69.1,613.4 L69.2,614.4 L69.3,615.4 L69.4,616.4 L69.4,616.9 L69.5,617.9 L69.5,618.9 L69.5,619.9 L69.5,620.9 L69.4,621.9 L69.4,622.4 L69.3,623.4 L69.1,624.4 L69.0,625.4 L68.9,625.9 L68.6,626.9 L68.4,627.7 L68.1,628.4 L67.9,629.1 L67.4,629.7 M66.9,626.1 L66.3,625.9 L65.5,625.4 L64.9,624.9 L64.4,624.4 L63.9,623.9 L63.5,623.4 L63.1,622.9 L62.8,622.4 L62.4,621.7 L61.9,620.9 L61.7,620.4 L61.4,619.8 L61.0,618.9 L60.8,618.4 L60.4,617.4 L60.2,616.9 L59.9,616.2 L59.5,615.4 L59.2,614.9 L58.9,614.4 L58.4,613.7 L57.9,613.3 L57.4,612.9 L56.5,612.4 L55.9,612.1 L55.4,611.8 L54.6,611.4 L53.9,611.0 L53.4,610.7 L52.9,610.3 L52.3,609.9 L51.7,609.4 L51.1,608.9 L50.5,608.4 L50.0,607.9 L49.5,607.4 L49.0,606.9 L48.6,606.4 L48.1,605.9 L47.8,605.4 L47.4,604.9 L46.9,604.2 L46.4,603.4 L46.1,602.9 L45.8,602.4 L45.4,601.6 L45.1,600.9 L44.9,600.4 L44.5,599.4 L44.3,598.9 L44.1,597.9 L43.9,596.9 L43.9,596.4 L43.8,595.4 L43.9,594.5 L44.0,593.9 L44.3,592.9 L44.5,592.4 L44.9,591.7 L45.4,591.1 L45.9,590.6 L46.4,590.3 L47.2,589.9 L47.9,589.6 L48.9,589.5 L49.9,589.4 L50.9,589.5 L51.9,589.7 L52.7,589.9 L53.4,590.1 L54.1,590.4 L54.9,590.8 L55.4,591.0 L56.1,591.4 L56.9,591.9 L57.4,592.2 L57.9,592.6 L58.4,592.9 L59.0,593.4 L59.6,593.9 L60.2,594.4 L60.7,594.9 L61.2,595.4 L61.7,595.9 L62.1,596.4 L62.6,596.9 L63.0,597.4 L63.4,598.0 L63.9,598.7 L64.4,599.4 L64.7,599.9 L65.0,600.4 L65.4,601.2 L65.8,601.9 L66.0,602.4 L66.4,603.4 L66.6,603.9 L66.9,604.9 L67.1,605.4 L67.3,606.4 L67.4,606.9 L67.7,607.9 L67.8,608.9 L67.9,609.4 L68.1,610.4 L68.2,611.4 L68.4,612.4 L68.4,612.9 L68.5,613.9 L68.7,614.9 L68.7,615.9 L68.8,616.9 L68.9,617.9 L68.9,618.9 L68.9,619.9 L68.8,620.9 L68.7,621.9 L68.5,622.9 L68.4,623.6 L68.2,624.4 L67.9,625.1 L67.4,625.9 L66.9,626.1 M66.9,623.9 L65.9,624.0 L65.4,623.8 L64.8,623.4 L64.2,622.9 L63.7,622.4 L63.3,621.9 L62.9,621.3 L62.4,620.4 L62.1,619.9 L61.9,619.4 L61.4,618.4 L61.2,617.9 L60.9,617.1 L60.6,616.4 L60.4,615.9 L59.9,614.9 L59.7,614.4 L59.4,613.9 L58.9,613.2 L58.4,612.7 L57.9,612.3 L57.2,611.9 L56.4,611.5 L55.9,611.3 L55.2,610.9 L54.4,610.5 L53.9,610.2 L53.4,609.8 L52.8,609.4 L52.1,608.9 L51.5,608.4 L50.9,607.9 L50.4,607.4 L49.9,606.9 L49.4,606.4 L49.0,605.9 L48.5,605.4 L48.2,604.9 L47.8,604.4 L47.4,603.8 L46.9,603.0 L46.5,602.4 L46.3,601.9 L45.9,601.1 L45.6,600.4 L45.4,599.9 L45.1,598.9 L44.9,598.2 L44.7,597.4 L44.6,596.4 L44.6,595.4 L44.8,594.4 L44.9,593.9 L45.3,592.9 L45.6,592.4 L46.0,591.9 L46.5,591.4 L47.3,590.9 L47.9,590.6 L48.7,590.4 L49.4,590.3 L50.4,590.3 L51.4,590.4 L51.9,590.5 L52.9,590.7 L53.4,590.9 L54.4,591.3 L54.9,591.5 L55.7,591.9 L56.4,592.3 L56.9,592.6 L57.4,593.0 L58.0,593.4 L58.6,593.9 L59.2,594.4 L59.8,594.9 L60.3,595.4 L60.8,595.9 L61.3,596.4 L61.8,596.9 L62.2,597.4 L62.6,597.9 L63.0,598.4 L63.4,599.0 L63.9,599.8 L64.3,600.4 L64.6,600.9 L64.9,601.6 L65.3,602.4 L65.5,602.9 L65.9,603.9 L66.1,604.4 L66.4,605.4 L66.6,605.9 L66.8,606.9 L66.9,607.4 L67.1,608.4 L67.3,609.4 L67.4,609.9 L67.6,610.9 L67.7,611.9 L67.8,612.9 L67.9,613.4 L68.0,614.4 L68.1,615.4 L68.2,616.4 L68.3,617.4 L68.3,618.4 L68.2,619.4 L68.2,620.4 L68.0,621.4 L67.9,621.9 L67.6,622.9 L67.3,623.4 L66.9,623.9 M66.4,622.6 L65.4,622.6 L64.9,622.4 L64.3,621.9 L63.8,621.4 L63.4,620.9 L62.9,620.2 L62.5,619.4 L62.2,618.9 L61.9,618.2 L61.5,617.4 L61.3,616.9 L60.9,615.9 L60.7,615.4 L60.4,614.7 L60.0,613.9 L59.7,613.4 L59.3,612.9 L58.9,612.4 L58.3,611.9 L57.5,611.4 L56.9,611.1 L56.4,610.9 L55.4,610.4 L54.9,610.1 L54.4,609.8 L53.7,609.4 L52.9,608.9 L52.4,608.5 L51.9,608.1 L51.4,607.7 L50.9,607.2 L50.4,606.7 L49.9,606.2 L49.4,605.7 L48.9,605.1 L48.4,604.4 L48.0,603.9 L47.7,603.4 L47.4,602.9 L46.9,602.0 L46.6,601.4 L46.4,600.9 L46.0,599.9 L45.8,599.4 L45.5,598.4 L45.4,597.8 L45.3,596.9 L45.3,595.9 L45.4,594.9 L45.5,594.4 L45.9,593.4 L46.2,592.9 L46.6,592.4 L47.1,591.9 L47.9,591.4 L48.4,591.2 L49.4,591.0 L50.4,590.9 L51.4,591.0 L52.4,591.2 L53.2,591.4 L53.9,591.6 L54.5,591.9 L55.4,592.3 L55.9,592.6 L56.4,592.9 L57.1,593.4 L57.8,593.9 L58.4,594.3 L58.9,594.7 L59.4,595.2 L59.9,595.6 L60.4,596.1 L60.9,596.7 L61.4,597.2 L61.9,597.8 L62.4,598.4 L62.7,598.9 L63.1,599.4 L63.4,599.9 L63.9,600.7 L64.3,601.4 L64.5,601.9 L64.9,602.7 L65.2,603.4 L65.4,603.9 L65.7,604.9 L65.9,605.4 L66.2,606.4 L66.4,607.3 L66.5,607.9 L66.7,608.9 L66.9,609.8 L67.0,610.4 L67.2,611.4 L67.3,612.4 L67.4,613.1 L67.5,613.9 L67.6,614.9 L67.7,615.9 L67.7,616.9 L67.8,617.9 L67.7,618.9 L67.6,619.9 L67.4,620.9 L67.2,621.4 L66.9,622.1 L66.4,622.6 M65.9,621.5 L65.1,621.4 L64.4,621.0 L63.9,620.6 L63.4,619.9 L63.0,619.4 L62.7,618.9 L62.4,618.3 L62.0,617.4 L61.8,616.9 L61.4,616.0 L61.2,615.4 L60.9,614.8 L60.5,613.9 L60.2,613.4 L59.9,612.9 L59.4,612.2 L58.9,611.7 L58.4,611.4 L57.6,610.9 L56.9,610.6 L56.4,610.3 L55.5,609.9 L54.9,609.6 L54.4,609.3 L53.7,608.9 L53.0,608.4 L52.4,608.0 L51.9,607.6 L51.4,607.1 L50.9,606.7 L50.4,606.2 L49.9,605.6 L49.4,605.0 L48.9,604.4 L48.5,603.9 L48.2,603.4 L47.9,602.9 L47.4,602.1 L47.0,601.4 L46.8,600.9 L46.4,599.9 L46.3,599.4 L46.0,598.4 L45.9,597.8 L45.8,596.9 L45.8,595.9 L45.9,595.2 L46.1,594.4 L46.4,593.8 L46.9,593.0 L47.4,592.5 L47.9,592.2 L48.4,591.9 L49.4,591.6 L50.4,591.5 L51.4,591.5 L52.4,591.7 L53.2,591.9 L53.9,592.1 L54.5,592.4 L55.4,592.8 L55.9,593.1 L56.4,593.4 L57.2,593.9 L57.8,594.4 L58.4,594.8 L58.9,595.3 L59.4,595.7 L59.9,596.2 L60.4,596.7 L60.9,597.3 L61.4,597.8 L61.9,598.4 L62.2,598.9 L62.6,599.4 L62.9,599.9 L63.4,600.7 L63.8,601.4 L64.1,601.9 L64.4,602.6 L64.8,603.4 L65.0,603.9 L65.3,604.9 L65.5,605.4 L65.7,606.4 L65.9,607.0 L66.1,607.9 L66.3,608.9 L66.4,609.4 L66.6,610.4 L66.8,611.4 L66.9,612.4 L67.0,612.9 L67.1,613.9 L67.2,614.9 L67.3,615.9 L67.3,616.9 L67.3,617.9 L67.2,618.9 L67.0,619.9 L66.8,620.4 L66.4,621.1 L65.9,621.5 M65.4,620.1 L64.6,619.9 L64.0,619.4 L63.5,618.9 L63.2,618.4 L62.9,617.9 L62.4,617.0 L62.1,616.4 L61.9,615.8 L61.5,614.9 L61.3,614.4 L60.9,613.5 L60.6,612.9 L60.2,612.4 L59.9,611.9 L59.4,611.4 L58.7,610.9 L57.9,610.4 L57.4,610.2 L56.7,609.9 L55.9,609.5 L55.4,609.3 L54.7,608.9 L53.9,608.5 L53.4,608.1 L52.9,607.8 L52.4,607.4 L51.8,606.9 L51.3,606.4 L50.8,605.9 L50.3,605.4 L49.9,604.9 L49.4,604.3 L48.9,603.6 L48.4,602.9 L48.1,602.4 L47.8,601.9 L47.4,601.0 L47.1,600.4 L46.9,599.7 L46.6,598.9 L46.5,597.9 L46.4,597.3 L46.4,596.4 L46.4,595.9 L46.7,594.9 L46.9,594.3 L47.4,593.6 L47.9,593.1 L48.4,592.7 L49.0,592.4 L49.9,592.2 L50.9,592.1 L51.9,592.2 L52.9,592.4 L53.4,592.5 L54.4,592.9 L54.9,593.1 L55.5,593.4 L56.3,593.9 L56.9,594.3 L57.4,594.6 L57.9,595.0 L58.4,595.4 L58.9,595.9 L59.5,596.4 L60.0,596.9 L60.4,597.4 L60.9,597.9 L61.4,598.6 L61.9,599.2 L62.4,599.9 L62.7,600.4 L63.0,600.9 L63.4,601.6 L63.8,602.4 L64.0,602.9 L64.4,603.8 L64.6,604.4 L64.9,605.2 L65.1,605.9 L65.4,606.9 L65.5,607.4 L65.7,608.4 L65.9,609.4 L66.0,609.9 L66.2,610.9 L66.3,611.9 L66.4,612.4 L66.5,613.4 L66.6,614.4 L66.7,615.4 L66.7,616.4 L66.7,617.4 L66.5,618.4 L66.4,618.9 L65.9,619.8 L65.4,620.1 M65.4,618.5 L64.4,618.6 L63.9,618.2 L63.4,617.5 L63.0,616.9 L62.7,616.4 L62.4,615.7 L62.0,614.9 L61.8,614.4 L61.4,613.4 L61.1,612.9 L60.9,612.4 L60.4,611.7 L59.9,611.2 L59.4,610.7 L58.9,610.4 L58.0,609.9 L57.4,609.7 L56.7,609.4 L55.9,609.0 L55.4,608.8 L54.6,608.4 L53.9,608.0 L53.4,607.6 L52.9,607.3 L52.4,606.9 L51.9,606.4 L51.3,605.9 L50.8,605.4 L50.4,604.9 L49.9,604.3 L49.4,603.7 L48.9,602.9 L48.6,602.4 L48.3,601.9 L47.9,601.1 L47.6,600.4 L47.4,599.9 L47.1,598.9 L46.9,597.9 L46.9,597.2 L46.9,596.8 L47.0,595.9 L47.3,594.9 L47.6,594.4 L47.9,593.9 L48.5,593.4 L49.4,592.9 L49.9,592.8 L50.9,592.6 L51.9,592.7 L52.9,592.8 L53.4,593.0 L54.4,593.4 L54.9,593.6 L55.5,593.9 L56.3,594.4 L56.9,594.8 L57.4,595.1 L57.9,595.5 L58.4,595.9 L58.9,596.4 L59.4,596.9 L59.9,597.4 L60.4,598.0 L60.9,598.6 L61.4,599.2 L61.9,599.9 L62.2,600.4 L62.5,600.9 L62.9,601.6 L63.3,602.4 L63.6,602.9 L63.9,603.7 L64.2,604.4 L64.4,605.1 L64.6,605.9 L64.9,606.9 L65.0,607.4 L65.2,608.4 L65.4,609.3 L65.5,609.9 L65.7,610.9 L65.8,611.9 L65.9,612.4 L66.0,613.4 L66.1,614.4 L66.2,615.4 L66.1,616.4 L66.0,617.4 L65.8,617.9 L65.4,618.5 M64.9,617.2 L63.9,616.9 L63.5,616.4 L63.2,615.9 L62.9,615.4 L62.4,614.4 L62.2,613.9 L61.9,613.3 L61.4,612.4 L61.1,611.9 L60.8,611.4 L60.4,610.9 L59.8,610.4 L59.0,609.9 L58.4,609.6 L57.9,609.4 L56.9,609.0 L56.4,608.8 L55.5,608.4 L54.9,608.1 L54.4,607.8 L53.7,607.4 L53.0,606.9 L52.4,606.4 L51.9,606.0 L51.4,605.5 L50.9,605.0 L50.4,604.4 L50.0,603.9 L49.6,603.4 L49.3,602.9 L48.9,602.3 L48.4,601.4 L48.2,600.9 L47.9,600.1 L47.7,599.4 L47.4,598.4 L47.4,597.9 L47.4,596.9 L47.4,596.4 L47.7,595.4 L47.9,594.9 L48.4,594.2 L48.9,593.8 L49.7,593.4 L50.4,593.2 L51.4,593.1 L52.4,593.2 L53.3,593.4 L53.9,593.6 L54.7,593.9 L55.4,594.3 L55.9,594.5 L56.5,594.9 L57.2,595.4 L57.8,595.9 L58.4,596.4 L58.9,596.9 L59.4,597.4 L59.9,597.9 L60.3,598.4 L60.7,598.9 L61.1,599.4 L61.5,599.9 L61.9,600.6 L62.4,601.4 L62.7,601.9 L62.9,602.4 L63.3,603.4 L63.5,603.9 L63.9,604.9 L64.1,605.4 L64.3,606.4 L64.5,606.9 L64.7,607.9 L64.9,608.9 L65.0,609.4 L65.1,610.4 L65.3,611.4 L65.4,612.3 L65.5,612.9 L65.5,613.9 L65.6,614.9 L65.5,615.9 L65.4,616.4 L64.9,617.2 M64.4,615.4 L63.9,615.3 L63.4,614.8 L62.9,614.0 L62.6,613.4 L62.3,612.9 L61.9,612.1 L61.5,611.4 L61.1,610.9 L60.6,610.4 L60.0,609.9 L59.4,609.6 L58.9,609.3 L57.9,608.9 L57.4,608.8 L56.4,608.4 L55.9,608.2 L55.3,607.9 L54.4,607.4 L53.9,607.1 L53.4,606.8 L52.9,606.4 L52.3,605.9 L51.8,605.4 L51.3,604.9 L50.8,604.4 L50.4,603.9 L49.9,603.2 L49.4,602.5 L49.1,601.9 L48.8,601.4 L48.4,600.5 L48.2,599.9 L47.9,598.9 L47.8,598.4 L47.8,597.4 L47.9,596.4 L48.0,595.9 L48.4,595.1 L48.9,594.5 L49.4,594.1 L49.9,593.8 L50.9,593.6 L51.9,593.5 L52.9,593.7 L53.7,593.9 L54.4,594.2 L54.9,594.4 L55.8,594.9 L56.4,595.2 L56.9,595.6 L57.4,596.0 L57.9,596.4 L58.5,596.9 L59.0,597.4 L59.5,597.9 L59.9,598.4 L60.4,599.0 L60.9,599.7 L61.4,600.4 L61.7,600.9 L62.0,601.4 L62.4,602.2 L62.7,602.9 L62.9,603.4 L63.3,604.4 L63.5,604.9 L63.8,605.9 L63.9,606.4 L64.1,607.4 L64.3,608.4 L64.4,609.0 L64.5,609.9 L64.7,610.9 L64.8,611.9 L64.9,612.9 L64.9,613.9 L64.7,614.9 L64.4,615.4 M63.9,612.5 L63.1,612.4 L62.7,611.9 L62.3,611.4 L61.9,610.9 L61.4,610.4 L60.8,609.9 L60.1,609.4 L59.4,609.1 L58.9,608.9 L57.9,608.5 L57.4,608.4 L56.4,608.0 L55.9,607.8 L55.0,607.4 L54.4,607.1 L53.9,606.8 L53.4,606.4 L52.8,605.9 L52.2,605.4 L51.7,604.9 L51.2,604.4 L50.8,603.9 L50.4,603.4 L49.9,602.7 L49.4,601.9 L49.2,601.4 L48.9,600.8 L48.5,599.9 L48.4,599.4 L48.2,598.4 L48.2,597.4 L48.3,596.4 L48.5,595.9 L48.9,595.2 L49.4,594.7 L49.9,594.3 L50.9,594.0 L51.9,593.9 L52.9,594.1 L53.9,594.3 L54.4,594.5 L55.2,594.9 L55.9,595.3 L56.4,595.6 L56.9,596.0 L57.5,596.4 L58.0,596.9 L58.6,597.4 L59.1,597.9 L59.5,598.4 L59.9,598.9 L60.4,599.5 L60.9,600.2 L61.3,600.9 L61.6,601.4 L61.9,601.9 L62.4,602.9 L62.6,603.4 L62.9,604.3 L63.1,604.9 L63.3,605.9 L63.5,606.4 L63.6,607.4 L63.8,608.4 L63.9,609.4 L63.9,609.9 L64.0,610.9 L64.0,611.9 L63.9,612.5 M62.4,610.0 L61.9,609.8 L61.3,609.4 L60.4,609.0 L59.9,608.7 L58.9,608.4 L58.4,608.3 L57.4,608.0 L56.9,607.8 L55.9,607.5 L55.4,607.3 L54.7,606.9 L53.9,606.4 L53.4,606.0 L52.9,605.7 L52.4,605.2 L51.9,604.7 L51.4,604.2 L50.9,603.6 L50.4,602.9 L50.0,602.4 L49.7,601.9 L49.4,601.2 L49.0,600.4 L48.9,599.9 L48.6,598.9 L48.5,597.9 L48.6,596.9 L48.9,596.0 L49.3,595.4 L49.9,594.9 L50.4,594.6 L51.1,594.4 L51.9,594.3 L52.8,594.4 L53.4,594.5 L54.4,594.9 L54.9,595.1 L55.5,595.4 L56.3,595.9 L56.9,596.3 L57.4,596.7 L57.9,597.1 L58.4,597.6 L58.9,598.1 L59.4,598.7 L59.9,599.3 L60.3,599.9 L60.7,600.4 L61.0,600.9 L61.4,601.7 L61.8,602.4 L62.0,602.9 L62.4,603.9 L62.5,604.4 L62.8,605.4 L62.9,605.9 L63.1,606.9 L63.1,607.9 L63.1,608.9 L62.9,609.9 L62.4,610.0 M61.9,608.1 L60.9,608.3 L59.9,608.1 L59.0,607.9 L58.4,607.8 L57.4,607.6 L56.8,607.4 L55.9,607.1 L55.4,606.8 L54.6,606.4 L53.9,606.0 L53.4,605.6 L52.9,605.2 L52.4,604.8 L51.9,604.3 L51.4,603.7 L50.9,603.1 L50.4,602.4 L50.1,601.9 L49.9,601.4 L49.4,600.4 L49.3,599.9 L49.0,598.9 L49.0,597.9 L49.1,596.9 L49.4,596.2 L49.9,595.6 L50.4,595.2 L51.1,594.9 L51.9,594.8 L52.9,594.8 L53.4,594.9 L54.4,595.3 L54.9,595.5 L55.7,595.9 L56.4,596.4 L56.9,596.7 L57.4,597.1 L57.9,597.6 L58.4,598.1 L58.9,598.6 L59.4,599.2 L59.9,599.9 L60.2,600.4 L60.6,600.9 L60.9,601.5 L61.3,602.4 L61.5,602.9 L61.9,603.9 L62.0,604.4 L62.3,605.4 L62.4,606.4 L62.3,607.4 L61.9,608.1 M59.9,607.4 L59.4,607.4 L58.4,607.3 L57.4,607.1 L56.5,606.9 L55.9,606.7 L55.3,606.4 L54.4,605.9 L53.9,605.6 L53.4,605.2 L52.9,604.8 L52.4,604.3 L51.9,603.8 L51.4,603.2 L50.9,602.5 L50.5,601.9 L50.2,601.4 L49.9,600.7 L49.6,599.9 L49.4,598.9 L49.4,598.4 L49.4,597.9 L49.6,596.9 L49.9,596.4 L50.4,595.8 L51.2,595.4 L51.9,595.2 L52.9,595.2 L53.7,595.4 L54.4,595.6 L55.0,595.9 L55.9,596.4 L56.4,596.7 L56.9,597.1 L57.4,597.5 L57.9,598.0 L58.4,598.5 L58.9,599.1 L59.4,599.8 L59.8,600.4 L60.2,600.9 L60.4,601.4 L60.9,602.4 L61.1,602.9 L61.4,603.8 L61.5,604.4 L61.7,605.4 L61.6,606.4 L61.4,606.9 L60.4,607.4 L59.9,607.4 M60.4,606.5 L59.4,606.8 L58.4,606.8 L57.4,606.7 L56.4,606.5 L55.9,606.3 L55.0,605.9 L54.4,605.5 L53.9,605.2 L53.4,604.8 L52.9,604.4 L52.4,603.9 L51.9,603.4 L51.4,602.7 L50.9,602.0 L50.6,601.4 L50.4,600.9 L50.0,599.9 L49.9,599.4 L49.8,598.4 L49.9,597.6 L50.1,596.9 L50.5,596.4 L51.2,595.9 L51.9,595.7 L52.9,595.6 L53.9,595.8 L54.4,596.0 L55.2,596.4 L55.9,596.8 L56.4,597.1 L56.9,597.5 L57.4,598.0 L57.9,598.4 L58.4,599.0 L58.9,599.6 L59.4,600.3 L59.8,600.9 L60.0,601.4 L60.4,602.2 L60.7,602.9 L60.9,603.6 L61.0,604.4 L61.0,605.4 L60.9,605.9 L60.4,606.5 M59.4,606.2 L58.4,606.3 L57.4,606.3 L56.4,606.1 L55.9,605.9 L54.9,605.5 L54.4,605.2 L53.9,604.8 L53.4,604.4 L52.8,603.9 L52.3,603.4 L51.9,602.9 L51.4,602.2 L50.9,601.4 L50.7,600.9 L50.4,600.0 L50.3,599.4 L50.2,598.4 L50.4,597.5 L50.7,596.9 L51.3,596.4 L51.9,596.1 L52.9,596.0 L53.9,596.2 L54.4,596.4 L55.4,596.9 L55.9,597.2 L56.4,597.5 L56.9,597.9 L57.4,598.4 L57.9,598.9 L58.4,599.5 L58.9,600.1 L59.4,600.9 L59.7,601.4 L59.9,601.9 L60.3,602.9 L60.4,603.4 L60.5,604.4 L60.4,605.1 L59.9,605.9 L59.4,606.2 M58.9,605.7 L57.9,605.9 L56.9,605.8 L55.9,605.5 L55.4,605.3 L54.6,604.9 L53.9,604.4 L53.4,604.0 L52.9,603.6 L52.4,603.0 L51.9,602.4 L51.6,601.9 L51.3,601.4 L50.9,600.5 L50.7,599.9 L50.6,598.9 L50.7,597.9 L51.0,597.4 L51.4,596.9 L52.4,596.5 L53.4,596.5 L54.4,596.7 L54.9,597.0 L55.7,597.4 L56.4,597.9 L56.9,598.3 L57.4,598.8 L57.9,599.3 L58.4,599.9 L58.7,600.4 L59.0,600.9 L59.4,601.7 L59.7,602.4 L59.9,603.2 L60.0,603.9 L59.9,604.6 L59.4,605.4 L58.9,605.7 M57.4,605.4 L56.9,605.4 L55.9,605.2 L55.3,604.9 L54.4,604.4 L53.9,604.1 L53.4,603.6 L52.9,603.1 L52.4,602.6 L51.9,601.9 L51.7,601.4 L51.4,600.9 L51.1,599.9 L51.0,598.9 L51.2,597.9 L51.6,597.4 L52.4,597.0 L52.9,596.9 L53.5,596.9 L54.4,597.1 L55.0,597.4 L55.9,597.9 L56.4,598.3 L56.9,598.7 L57.4,599.2 L57.9,599.8 L58.3,600.4 L58.6,600.9 L58.9,601.4 L59.3,602.4 L59.4,602.9 L59.5,603.9 L59.3,604.4 L58.9,605.0 L57.9,605.4 L57.4,605.4 M57.4,605.0 L56.4,604.9 L55.9,604.8 L55.0,604.4 L54.4,604.0 L53.9,603.7 L53.4,603.2 L52.9,602.7 L52.4,602.0 L52.0,601.4 L51.8,600.9 L51.5,599.9 L51.4,598.9 L51.8,597.9 L52.4,597.5 L52.9,597.3 L53.9,597.4 L54.4,597.5 L55.3,597.9 L55.9,598.3 L56.4,598.7 L56.9,599.1 L57.4,599.7 L57.9,600.3 L58.3,600.9 L58.5,601.4 L58.9,602.4 L59.0,602.9 L58.9,603.8 L58.6,604.4 L57.9,604.8 L57.4,605.0 M57.4,604.4 L56.4,604.5 L55.9,604.4 L54.9,603.9 L54.4,603.6 L53.9,603.2 L53.4,602.8 L52.9,602.2 L52.4,601.4 L52.2,600.9 L51.9,600.0 L51.8,599.4 L51.9,598.9 L52.4,598.1 L52.9,597.8 L53.9,597.8 L54.4,597.9 L55.4,598.4 L55.9,598.7 L56.4,599.1 L56.9,599.6 L57.4,600.2 L57.9,600.9 L58.1,601.4 L58.4,602.3 L58.5,602.9 L58.4,603.5 L57.9,604.2 L57.4,604.4 M57.4,603.6 L56.4,603.9 L55.4,603.7 L54.9,603.4 L54.2,602.9 L53.6,602.4 L53.2,601.9 L52.9,601.4 L52.5,600.4 L52.4,599.4 L52.9,598.6 L53.4,598.4 L54.2,598.4 L54.9,598.6 L55.4,598.9 L56.1,599.4 L56.6,599.9 L57.0,600.4 L57.4,601.0 L57.7,601.9 L57.8,602.9 L57.4,603.6 M56.4,603.1 L55.4,603.0 L54.9,602.8 L54.3,602.4 L53.9,601.9 L53.4,601.2 L53.1,600.4 L53.3,599.4 L53.9,599.1 L54.9,599.2 L55.4,599.5 L55.9,599.9 L56.4,600.4 L56.9,601.3 L57.1,601.9 L56.9,602.8 L56.4,603.1"/><path fill="#8a8a8a" d="M90.6 609.9h0.7v0.7h-0.7zM83.2 608.5h0.7v0.7h-0.7zM73.5 597.1h0.7v0.7h-0.7zM68.9 599.0h0.7v0.7h-0.7zM89.1 598.0h0.7v0.7h-0.7zM84.3 613.4h0.7v0.7h-0.7zM107.9 587.8h0.7v0.7h-0.7zM104.4 582.8h0.7v0.7h-0.7zM77.7 598.3h0.7v0.7h-0.7zM89.6 589.5h0.7v0.7h-0.7zM77.9 600.8h0.7v0.7h-0.7zM78.3 593.6h0.7v0.7h-0.7zM97.3 609.3h0.7v0.7h-0.7zM87.2 600.2h0.7v0.7h-0.7zM87.7 595.5h0.7v0.7h-0.7zM80.8 589.6h0.7v0.7h-0.7zM97.1 599.2h0.7v0.7h-0.7zM86.1 602.0h0.7v0.7h-0.7zM95.4 614.2h0.7v0.7h-0.7zM84.2 596.0h0.7v0.7h-0.7zM90.8 591.5h0.7v0.7h-0.7zM105.8 609.3h0.7v0.7h-0.7zM97.7 598.8h0.7v0.7h-0.7zM98.4 610.5h0.7v0.7h-0.7zM95.0 597.2h0.7v0.7h-0.7zM64.4 609.5h0.7v0.7h-0.7zM83.1 591.6h0.7v0.7h-0.7zM100.5 603.4h0.7v0.7h-0.7zM68.1 599.0h0.7v0.7h-0.7zM84.2 609.9h0.7v0.7h-0.7zM61.5 596.1h0.7v0.7h-0.7zM86.1 614.2h0.7v0.7h-0.7zM77.6 620.1h0.7v0.7h-0.7zM92.3 659.6h0.7v0.7h-0.7zM67.0 652.2h0.7v0.7h-0.7zM74.9 660.9h0.7v0.7h-0.7zM75.2 641.4h0.7v0.7h-0.7zM66.0 667.9h0.7v0.7h-0.7zM74.3 626.6h0.7v0.7h-0.7z"/><path d="M64.5,570.4V671.2M19.9,626.3H124.9" stroke="#000" stroke-width="1.1" fill="none"/><text x="22.0" y="582.6" font-size="9.6">88.0</text><text x="119.9" y="582.6" font-size="9.6" text-anchor="end">3.90</text><text x="22.0" y="665.7" font-size="9.6">2.96</text><text x="119.9" y="665.7" font-size="9.6" text-anchor="end">5.11</text><path d="M16.9,580.5H19.9M16.9,595.5H19.9M16.9,626.3H19.9M16.9,645.0H19.9M16.9,649.0H19.9M16.9,662.0H19.9M24.9,671.2V673.7M43.9,671.2V673.7M64.5,671.2V673.7M83.9,671.2V673.7M103.9,671.2V673.7M119.9,671.2V673.7" stroke="#000" stroke-width="0.8" fill="none"/><rect x="19.9" y="570.4" width="105.0" height="100.8" fill="none" stroke="#000" stroke-width="1.6"/><path fill="none" stroke="#505050" stroke-width="0.42" d="M188.1,626.9 L187.1,627.1 L186.1,627.0 L185.1,626.9 L184.6,626.8 L183.6,626.5 L183.1,626.3 L182.3,625.9 L181.6,625.5 L181.1,625.2 L180.6,624.9 L180.0,624.4 L179.3,623.9 L178.7,623.4 L178.2,622.9 L177.7,622.4 L177.2,621.9 L176.7,621.4 L176.3,620.9 L175.8,620.4 L175.4,619.9 L175.0,619.4 L174.6,618.9 L174.1,618.3 L173.6,617.7 L173.1,617.0 L172.6,616.4 L172.1,615.9 L171.7,615.4 L171.2,614.9 L170.8,614.4 L170.3,613.9 L169.8,613.4 L169.3,612.9 L168.8,612.4 L168.4,611.9 L167.9,611.4 L167.5,610.9 L167.0,610.4 L166.6,609.9 L166.1,609.3 L165.6,608.6 L165.1,608.0 L164.7,607.4 L164.3,606.9 L164.0,606.4 L163.6,605.7 L163.1,604.9 L162.8,604.4 L162.6,603.9 L162.1,603.0 L161.8,602.4 L161.6,601.9 L161.1,600.9 L160.9,600.4 L160.6,599.4 L160.4,598.9 L160.1,597.9 L160.0,597.4 L159.8,596.4 L159.6,595.4 L159.6,594.9 L159.5,593.9 L159.4,592.9 L159.5,591.9 L159.6,591.0 L159.7,590.4 L160.0,589.4 L160.2,588.9 L160.6,587.9 L160.9,587.4 L161.3,586.9 L161.7,586.4 L162.2,585.9 L162.9,585.4 L163.6,585.0 L164.1,584.8 L165.1,584.4 L165.6,584.3 L166.6,584.2 L167.6,584.1 L168.6,584.2 L169.6,584.3 L170.1,584.4 L171.1,584.7 L171.8,584.9 L172.6,585.2 L173.1,585.4 L174.1,585.8 L174.6,586.1 L175.2,586.4 L176.1,586.9 L176.6,587.2 L177.1,587.5 L177.7,587.9 L178.4,588.4 L179.1,588.9 L179.6,589.3 L180.1,589.7 L180.6,590.2 L181.1,590.6 L181.6,591.0 L182.1,591.5 L182.6,592.0 L183.1,592.5 L183.6,593.0 L184.1,593.4 L184.6,593.9 L185.2,594.4 L185.8,594.9 L186.6,595.4 L187.1,595.6 L188.1,595.7 L189.1,595.6 L190.0,595.4 L190.6,595.2 L191.6,595.0 L192.1,594.8 L193.1,594.7 L194.1,594.6 L195.1,594.6 L196.1,594.7 L196.9,594.9 L197.6,595.1 L198.4,595.4 L199.1,595.7 L199.6,596.0 L200.3,596.4 L201.0,596.9 L201.6,597.4 L202.1,597.9 L202.6,598.4 L203.0,598.9 L203.4,599.4 L203.8,599.9 L204.1,600.4 L204.6,601.2 L205.0,601.9 L205.2,602.4 L205.6,603.3 L205.8,603.9 L206.1,604.8 L206.3,605.4 L206.5,606.4 L206.6,607.1 L206.7,607.9 L206.8,608.9 L206.8,609.9 L206.8,610.9 L206.7,611.9 L206.6,612.9 L206.5,613.4 L206.3,614.4 L206.1,615.2 L205.9,615.9 L205.6,616.7 L205.3,617.4 L205.1,617.9 L204.6,618.8 L204.3,619.4 L203.9,619.9 L203.6,620.4 L203.1,621.0 L202.6,621.6 L202.1,622.1 L201.6,622.6 L201.1,623.0 L200.6,623.4 L199.8,623.9 L199.1,624.3 L198.6,624.5 L197.7,624.9 L197.1,625.1 L196.1,625.3 L195.6,625.4 L194.6,625.6 L193.6,625.7 L192.6,625.8 L192.0,625.9 L191.1,626.1 L190.2,626.4 L189.6,626.6 L188.6,626.8 L188.1,626.9 M186.6,624.9 L185.6,625.0 L184.6,624.9 L184.1,624.8 L183.1,624.5 L182.6,624.3 L181.7,623.9 L181.1,623.5 L180.6,623.2 L180.1,622.8 L179.6,622.4 L179.0,621.9 L178.4,621.4 L177.9,620.9 L177.5,620.4 L177.0,619.9 L176.6,619.4 L176.1,618.8 L175.6,618.2 L175.1,617.5 L174.6,616.9 L174.2,616.4 L173.8,615.9 L173.4,615.4 L173.1,614.9 L172.6,614.3 L172.1,613.7 L171.6,613.2 L171.1,612.6 L170.6,612.1 L170.1,611.6 L169.6,611.0 L169.1,610.5 L168.6,609.9 L168.1,609.4 L167.7,608.9 L167.3,608.4 L166.9,607.9 L166.5,607.4 L166.1,606.8 L165.6,606.1 L165.1,605.4 L164.8,604.9 L164.5,604.4 L164.1,603.7 L163.7,602.9 L163.4,602.4 L163.1,601.7 L162.7,600.9 L162.6,600.4 L162.2,599.4 L162.0,598.9 L161.7,597.9 L161.6,597.3 L161.4,596.4 L161.3,595.4 L161.2,594.4 L161.2,593.4 L161.3,592.4 L161.4,591.4 L161.6,590.9 L161.9,589.9 L162.2,589.4 L162.6,588.7 L163.1,588.1 L163.6,587.6 L164.1,587.2 L164.6,586.9 L165.6,586.5 L166.1,586.3 L167.1,586.1 L168.1,586.0 L169.1,586.1 L170.1,586.2 L171.0,586.4 L171.6,586.5 L172.6,586.9 L173.1,587.1 L173.9,587.4 L174.6,587.7 L175.1,588.0 L175.8,588.4 L176.6,588.9 L177.1,589.2 L177.6,589.6 L178.1,589.9 L178.7,590.4 L179.3,590.9 L179.9,591.4 L180.5,591.9 L181.0,592.4 L181.5,592.9 L182.0,593.4 L182.5,593.9 L183.0,594.4 L183.4,594.9 L183.9,595.4 L184.3,595.9 L184.8,596.4 L185.2,596.9 L185.7,597.4 L186.2,597.9 L186.8,598.4 L187.5,598.9 L188.1,599.2 L189.1,599.4 L190.1,599.2 L191.1,599.0 L191.6,598.8 L192.6,598.6 L193.6,598.4 L194.2,598.4 L194.6,598.4 L195.6,598.5 L196.6,598.7 L197.2,598.9 L198.1,599.3 L198.6,599.6 L199.1,599.9 L199.7,600.4 L200.2,600.9 L200.7,601.4 L201.1,601.9 L201.6,602.6 L202.1,603.4 L202.4,603.9 L202.6,604.4 L203.0,605.4 L203.2,605.9 L203.4,606.9 L203.6,607.8 L203.7,608.4 L203.8,609.4 L203.8,610.4 L203.7,611.4 L203.6,612.2 L203.5,612.9 L203.2,613.9 L203.1,614.4 L202.7,615.4 L202.5,615.9 L202.1,616.6 L201.6,617.4 L201.3,617.9 L200.9,618.4 L200.4,618.9 L199.9,619.4 L199.3,619.9 L198.6,620.4 L198.1,620.7 L197.6,620.9 L196.6,621.3 L196.1,621.5 L195.1,621.7 L194.1,621.8 L193.1,621.9 L192.6,622.0 L191.6,622.3 L191.1,622.5 L190.5,622.9 L189.8,623.4 L189.1,623.9 L188.6,624.2 L188.1,624.4 L187.1,624.8 L186.6,624.9 M186.1,623.4 L185.1,623.6 L184.1,623.5 L183.6,623.4 L182.6,623.1 L182.1,622.9 L181.3,622.4 L180.6,622.0 L180.1,621.6 L179.6,621.2 L179.1,620.8 L178.6,620.3 L178.1,619.8 L177.6,619.3 L177.1,618.7 L176.6,618.1 L176.1,617.4 L175.7,616.9 L175.3,616.4 L174.9,615.9 L174.6,615.4 L174.1,614.8 L173.6,614.1 L173.1,613.5 L172.6,612.9 L172.2,612.4 L171.8,611.9 L171.3,611.4 L170.8,610.9 L170.4,610.4 L169.9,609.9 L169.5,609.4 L169.0,608.9 L168.6,608.4 L168.1,607.8 L167.6,607.2 L167.1,606.5 L166.6,605.9 L166.3,605.4 L166.0,604.9 L165.6,604.3 L165.1,603.4 L164.8,602.9 L164.5,602.4 L164.1,601.5 L163.8,600.9 L163.6,600.3 L163.3,599.4 L163.1,598.8 L162.8,597.9 L162.6,596.9 L162.6,596.4 L162.4,595.4 L162.4,594.4 L162.4,593.4 L162.6,592.4 L162.7,591.9 L163.1,590.9 L163.3,590.4 L163.6,589.9 L164.1,589.3 L164.6,588.8 L165.1,588.4 L166.0,587.9 L166.6,587.7 L167.6,587.4 L168.1,587.4 L169.1,587.3 L169.8,587.4 L170.6,587.5 L171.6,587.7 L172.2,587.9 L173.1,588.2 L173.6,588.4 L174.6,588.9 L175.1,589.1 L175.6,589.4 L176.4,589.9 L177.1,590.4 L177.6,590.7 L178.1,591.1 L178.6,591.5 L179.1,591.9 L179.6,592.4 L180.2,592.9 L180.7,593.4 L181.2,593.9 L181.7,594.4 L182.1,594.9 L182.6,595.4 L183.1,596.0 L183.6,596.6 L184.1,597.3 L184.6,597.9 L185.0,598.4 L185.4,598.9 L185.7,599.4 L186.1,599.9 L186.6,600.5 L187.1,601.1 L187.6,601.6 L188.1,602.0 L188.9,602.4 L189.6,602.6 L190.6,602.5 L191.1,602.3 L192.1,602.0 L192.7,601.9 L193.6,601.7 L194.6,601.7 L195.6,601.8 L196.1,602.0 L197.1,602.4 L197.6,602.7 L198.1,603.1 L198.6,603.5 L199.1,604.1 L199.6,604.8 L200.0,605.4 L200.2,605.9 L200.6,606.8 L200.8,607.4 L201.0,608.4 L201.1,609.4 L201.1,609.9 L201.1,610.4 L201.0,611.4 L200.8,612.4 L200.6,613.2 L200.3,613.9 L200.1,614.4 L199.6,615.3 L199.1,615.9 L198.7,616.4 L198.2,616.9 L197.6,617.3 L197.1,617.6 L196.5,617.9 L195.6,618.2 L194.7,618.4 L194.1,618.5 L193.1,618.5 L192.1,618.6 L191.4,618.9 L190.7,619.4 L190.2,619.9 L189.8,620.4 L189.4,620.9 L189.0,621.4 L188.6,621.9 L188.0,622.4 L187.4,622.9 L186.6,623.3 L186.1,623.4 M186.1,622.0 L185.1,622.3 L184.1,622.4 L183.1,622.2 L182.3,621.9 L181.6,621.6 L181.1,621.3 L180.5,620.9 L179.9,620.4 L179.3,619.9 L178.8,619.4 L178.3,618.9 L177.8,618.4 L177.4,617.9 L177.0,617.4 L176.6,616.9 L176.1,616.3 L175.6,615.6 L175.1,614.9 L174.7,614.4 L174.4,613.9 L174.0,613.4 L173.6,612.9 L173.1,612.3 L172.6,611.7 L172.1,611.1 L171.6,610.6 L171.1,610.0 L170.6,609.5 L170.1,608.9 L169.6,608.4 L169.2,607.9 L168.8,607.4 L168.3,606.9 L168.0,606.4 L167.6,605.9 L167.1,605.2 L166.6,604.4 L166.3,603.9 L166.0,603.4 L165.6,602.7 L165.2,601.9 L164.9,601.4 L164.6,600.6 L164.3,599.9 L164.1,599.2 L163.9,598.4 L163.6,597.4 L163.5,596.9 L163.4,595.9 L163.4,594.9 L163.4,593.9 L163.6,592.9 L163.7,592.4 L164.1,591.4 L164.4,590.9 L164.7,590.4 L165.2,589.9 L165.8,589.4 L166.6,588.9 L167.1,588.7 L168.1,588.5 L169.1,588.4 L170.1,588.4 L171.1,588.6 L172.1,588.8 L172.6,589.0 L173.6,589.4 L174.1,589.6 L174.7,589.9 L175.6,590.4 L176.1,590.7 L176.6,591.0 L177.2,591.4 L177.9,591.9 L178.5,592.4 L179.1,592.9 L179.6,593.4 L180.1,593.8 L180.6,594.4 L181.1,594.9 L181.6,595.4 L182.0,595.9 L182.4,596.4 L182.8,596.9 L183.2,597.4 L183.6,598.0 L184.1,598.7 L184.6,599.4 L184.9,599.9 L185.3,600.4 L185.6,601.0 L186.1,601.8 L186.5,602.4 L186.8,602.9 L187.1,603.4 L187.6,604.2 L188.1,604.9 L188.5,605.4 L189.0,605.9 L189.6,606.4 L190.1,606.5 L191.1,606.4 L191.6,606.2 L192.5,605.9 L193.1,605.7 L194.1,605.6 L195.1,605.7 L195.7,605.9 L196.4,606.4 L196.9,606.9 L197.3,607.4 L197.6,608.1 L197.8,608.9 L197.9,609.9 L197.9,610.9 L197.6,611.9 L197.4,612.4 L197.1,612.9 L196.6,613.5 L196.1,613.9 L195.1,614.4 L194.6,614.5 L193.6,614.6 L192.6,614.5 L191.6,614.4 L190.6,614.7 L190.1,615.4 L189.8,615.9 L189.6,616.5 L189.3,617.4 L189.1,617.9 L188.7,618.9 L188.5,619.4 L188.1,620.1 L187.6,620.8 L187.1,621.4 L186.6,621.8 L186.1,622.0 M185.6,621.0 L184.6,621.3 L183.6,621.3 L182.6,621.1 L182.1,620.9 L181.2,620.4 L180.6,620.0 L180.1,619.7 L179.6,619.3 L179.1,618.8 L178.6,618.3 L178.1,617.7 L177.6,617.2 L177.1,616.5 L176.6,615.9 L176.2,615.4 L175.9,614.9 L175.5,614.4 L175.1,613.8 L174.6,613.1 L174.1,612.5 L173.6,611.9 L173.2,611.4 L172.8,610.9 L172.3,610.4 L171.9,609.9 L171.4,609.4 L171.0,608.9 L170.5,608.4 L170.1,607.9 L169.6,607.4 L169.1,606.8 L168.6,606.1 L168.1,605.5 L167.7,604.9 L167.3,604.4 L167.0,603.9 L166.6,603.2 L166.2,602.4 L165.9,601.9 L165.6,601.2 L165.3,600.4 L165.1,599.9 L164.8,598.9 L164.6,598.3 L164.4,597.4 L164.3,596.4 L164.2,595.4 L164.3,594.4 L164.4,593.4 L164.6,592.8 L165.0,591.9 L165.3,591.4 L165.7,590.9 L166.3,590.4 L167.0,589.9 L167.6,589.6 L168.6,589.4 L169.1,589.3 L170.1,589.3 L170.9,589.4 L171.6,589.5 L172.6,589.8 L173.1,590.0 L174.1,590.4 L174.6,590.6 L175.1,590.9 L176.0,591.4 L176.6,591.8 L177.1,592.1 L177.6,592.5 L178.1,592.9 L178.7,593.4 L179.2,593.9 L179.8,594.4 L180.3,594.9 L180.7,595.4 L181.2,595.9 L181.6,596.4 L182.1,597.0 L182.6,597.7 L183.1,598.4 L183.4,598.9 L183.8,599.4 L184.1,600.0 L184.6,600.8 L184.9,601.4 L185.2,601.9 L185.6,602.7 L185.9,603.4 L186.1,603.9 L186.6,604.9 L186.8,605.4 L187.1,606.4 L187.3,606.9 L187.6,607.9 L187.7,608.4 L187.9,609.4 L188.1,610.4 L188.1,610.9 L188.2,611.9 L188.3,612.9 L188.3,613.9 L188.2,614.9 L188.1,615.9 L188.1,616.4 L187.9,617.4 L187.6,618.4 L187.4,618.9 L187.1,619.5 L186.6,620.2 L186.1,620.6 L185.6,621.0 M184.1,620.4 L183.2,620.4 L182.6,620.3 L181.6,619.9 L181.1,619.6 L180.6,619.3 L180.1,618.9 L179.5,618.4 L179.0,617.9 L178.5,617.4 L178.1,616.9 L177.6,616.3 L177.1,615.7 L176.6,615.0 L176.1,614.4 L175.8,613.9 L175.4,613.4 L175.1,612.9 L174.6,612.3 L174.1,611.7 L173.6,611.1 L173.1,610.5 L172.6,609.9 L172.1,609.4 L171.7,608.9 L171.2,608.4 L170.7,607.9 L170.3,607.4 L169.9,606.9 L169.4,606.4 L169.1,605.9 L168.6,605.3 L168.1,604.6 L167.6,603.9 L167.3,603.4 L167.0,602.9 L166.6,602.1 L166.3,601.4 L166.1,600.9 L165.7,599.9 L165.5,599.4 L165.2,598.4 L165.1,597.8 L164.9,596.9 L164.9,595.9 L164.9,594.9 L165.1,593.9 L165.2,593.4 L165.6,592.5 L166.0,591.9 L166.4,591.4 L167.0,590.9 L167.6,590.5 L168.1,590.3 L169.1,590.1 L170.1,590.0 L171.1,590.1 L172.1,590.3 L172.6,590.4 L173.6,590.8 L174.1,591.0 L174.9,591.4 L175.6,591.8 L176.1,592.1 L176.6,592.4 L177.3,592.9 L177.9,593.4 L178.5,593.9 L179.0,594.4 L179.6,594.9 L180.0,595.4 L180.5,595.9 L180.9,596.4 L181.4,596.9 L181.7,597.4 L182.1,597.9 L182.6,598.6 L183.1,599.4 L183.4,599.9 L183.7,600.4 L184.1,601.1 L184.5,601.9 L184.7,602.4 L185.1,603.2 L185.4,603.9 L185.6,604.5 L185.9,605.4 L186.1,606.1 L186.3,606.9 L186.5,607.9 L186.6,608.4 L186.8,609.4 L187.0,610.4 L187.1,611.4 L187.1,611.9 L187.2,612.9 L187.3,613.9 L187.3,614.9 L187.2,615.9 L187.1,616.8 L187.0,617.4 L186.6,618.4 L186.4,618.9 L186.0,619.4 L185.5,619.9 L184.6,620.3 L184.1,620.4 M184.6,619.4 L183.6,619.7 L182.6,619.6 L182.0,619.4 L181.1,619.0 L180.6,618.6 L180.1,618.3 L179.6,617.8 L179.1,617.4 L178.6,616.8 L178.1,616.3 L177.6,615.6 L177.1,615.0 L176.7,614.4 L176.3,613.9 L176.0,613.4 L175.6,612.9 L175.1,612.2 L174.6,611.6 L174.1,611.0 L173.6,610.4 L173.2,609.9 L172.7,609.4 L172.2,608.9 L171.8,608.4 L171.3,607.9 L170.9,607.4 L170.4,606.9 L170.0,606.4 L169.6,605.9 L169.1,605.3 L168.6,604.6 L168.1,603.9 L167.8,603.4 L167.5,602.9 L167.1,602.1 L166.8,601.4 L166.5,600.9 L166.2,599.9 L166.0,599.4 L165.7,598.4 L165.6,597.8 L165.5,596.9 L165.4,595.9 L165.5,594.9 L165.6,594.3 L165.9,593.4 L166.1,592.9 L166.6,592.2 L167.1,591.7 L167.6,591.3 L168.5,590.9 L169.1,590.7 L170.1,590.6 L171.1,590.7 L172.1,590.8 L172.6,591.0 L173.6,591.3 L174.1,591.5 L174.9,591.9 L175.6,592.3 L176.1,592.6 L176.6,593.0 L177.2,593.4 L177.8,593.9 L178.4,594.4 L179.0,594.9 L179.5,595.4 L180.0,595.9 L180.4,596.4 L180.8,596.9 L181.2,597.4 L181.6,597.9 L182.1,598.6 L182.6,599.4 L182.9,599.9 L183.2,600.4 L183.6,601.1 L184.0,601.9 L184.2,602.4 L184.6,603.4 L184.8,603.9 L185.1,604.8 L185.3,605.4 L185.5,606.4 L185.6,606.9 L185.8,607.9 L186.0,608.9 L186.1,609.5 L186.2,610.4 L186.4,611.4 L186.5,612.4 L186.6,613.4 L186.6,614.4 L186.6,615.4 L186.5,616.4 L186.2,617.4 L186.0,617.9 L185.6,618.6 L185.1,619.1 L184.6,619.4 M184.1,618.6 L183.1,618.8 L182.1,618.6 L181.5,618.4 L180.7,617.9 L180.1,617.5 L179.6,617.0 L179.1,616.6 L178.6,616.0 L178.1,615.4 L177.7,614.9 L177.3,614.4 L176.9,613.9 L176.6,613.4 L176.1,612.7 L175.6,612.1 L175.1,611.4 L174.7,610.9 L174.3,610.4 L173.8,609.9 L173.4,609.4 L172.9,608.9 L172.4,608.4 L172.0,607.9 L171.5,607.4 L171.0,606.9 L170.6,606.4 L170.1,605.8 L169.6,605.1 L169.1,604.5 L168.7,603.9 L168.4,603.4 L168.1,602.9 L167.6,602.0 L167.3,601.4 L167.1,600.9 L166.7,599.9 L166.5,599.4 L166.3,598.4 L166.1,597.4 L166.1,596.9 L166.1,595.9 L166.1,595.4 L166.3,594.4 L166.6,593.6 L167.0,592.9 L167.5,592.4 L168.1,591.9 L168.6,591.7 L169.5,591.4 L170.1,591.3 L171.1,591.3 L171.8,591.4 L172.6,591.6 L173.6,591.9 L174.1,592.1 L174.7,592.4 L175.6,592.9 L176.1,593.2 L176.6,593.5 L177.1,593.9 L177.7,594.4 L178.3,594.9 L178.8,595.4 L179.3,595.9 L179.8,596.4 L180.2,596.9 L180.6,597.4 L181.1,598.0 L181.6,598.7 L182.0,599.4 L182.4,599.9 L182.6,600.4 L183.1,601.3 L183.4,601.9 L183.6,602.4 L184.0,603.4 L184.2,603.9 L184.5,604.9 L184.6,605.4 L184.9,606.4 L185.0,607.4 L185.1,607.9 L185.3,608.9 L185.4,609.9 L185.6,610.9 L185.6,611.4 L185.7,612.4 L185.8,613.4 L185.9,614.4 L185.8,615.4 L185.6,616.4 L185.5,616.9 L185.1,617.7 L184.6,618.3 L184.1,618.6 M183.1,617.9 L182.4,617.9 L181.6,617.7 L181.0,617.4 L180.3,616.9 L179.7,616.4 L179.2,615.9 L178.7,615.4 L178.3,614.9 L177.9,614.4 L177.5,613.9 L177.1,613.3 L176.6,612.7 L176.1,612.0 L175.6,611.4 L175.2,610.9 L174.8,610.4 L174.4,609.9 L173.9,609.4 L173.5,608.9 L173.0,608.4 L172.5,607.9 L172.1,607.4 L171.6,606.9 L171.1,606.3 L170.6,605.8 L170.1,605.1 L169.6,604.5 L169.2,603.9 L168.9,603.4 L168.6,602.9 L168.1,602.0 L167.8,601.4 L167.6,600.9 L167.2,599.9 L167.0,599.4 L166.8,598.4 L166.6,597.4 L166.6,596.9 L166.6,596.1 L166.7,595.4 L167.0,594.4 L167.2,593.9 L167.6,593.3 L168.1,592.8 L168.7,592.4 L169.6,592.0 L170.4,591.9 L171.1,591.9 L171.6,591.9 L172.6,592.1 L173.5,592.4 L174.1,592.6 L174.7,592.9 L175.6,593.4 L176.1,593.7 L176.6,594.1 L177.1,594.4 L177.7,594.9 L178.2,595.4 L178.8,595.9 L179.2,596.4 L179.7,596.9 L180.1,597.4 L180.6,598.0 L181.1,598.7 L181.6,599.4 L181.9,599.9 L182.1,600.4 L182.6,601.3 L182.9,601.9 L183.1,602.4 L183.5,603.4 L183.7,603.9 L184.0,604.9 L184.1,605.5 L184.3,606.4 L184.5,607.4 L184.6,608.2 L184.7,608.9 L184.8,609.9 L185.0,610.9 L185.1,611.9 L185.1,612.4 L185.2,613.4 L185.2,614.4 L185.1,615.4 L185.0,615.9 L184.6,616.9 L184.2,617.4 L183.6,617.8 L183.1,617.9 M183.1,617.0 L182.1,617.1 L181.5,616.9 L180.6,616.4 L180.1,616.1 L179.6,615.6 L179.1,615.1 L178.6,614.6 L178.1,613.9 L177.7,613.4 L177.3,612.9 L176.9,612.4 L176.5,611.9 L176.1,611.3 L175.6,610.7 L175.1,610.1 L174.6,609.6 L174.1,609.0 L173.6,608.5 L173.1,608.0 L172.6,607.4 L172.1,606.9 L171.6,606.4 L171.2,605.9 L170.8,605.4 L170.4,604.9 L170.0,604.4 L169.6,603.8 L169.1,603.0 L168.7,602.4 L168.5,601.9 L168.1,601.1 L167.8,600.4 L167.6,599.9 L167.3,598.9 L167.1,597.9 L167.1,597.4 L167.1,596.4 L167.1,595.9 L167.4,594.9 L167.6,594.4 L168.1,593.6 L168.6,593.2 L169.1,592.8 L170.1,592.5 L171.1,592.4 L172.1,592.5 L173.1,592.7 L173.6,592.9 L174.6,593.3 L175.1,593.6 L175.6,593.9 L176.4,594.4 L177.1,594.9 L177.6,595.3 L178.1,595.8 L178.6,596.3 L179.1,596.8 L179.6,597.3 L180.1,597.9 L180.4,598.4 L180.8,598.9 L181.1,599.4 L181.6,600.2 L182.0,600.9 L182.2,601.4 L182.6,602.2 L182.9,602.9 L183.1,603.5 L183.4,604.4 L183.6,605.4 L183.7,605.9 L183.9,606.9 L184.0,607.9 L184.1,608.4 L184.3,609.4 L184.4,610.4 L184.5,611.4 L184.6,612.4 L184.6,612.9 L184.6,613.9 L184.6,614.4 L184.4,615.4 L184.1,616.2 L183.6,616.8 L183.1,617.0 M183.1,616.1 L182.1,616.3 L181.1,616.0 L180.6,615.8 L180.1,615.4 L179.5,614.9 L179.1,614.4 L178.6,613.9 L178.1,613.3 L177.6,612.6 L177.1,612.0 L176.7,611.4 L176.3,610.9 L175.8,610.4 L175.4,609.9 L174.9,609.4 L174.5,608.9 L174.0,608.4 L173.5,607.9 L173.0,607.4 L172.6,606.9 L172.1,606.4 L171.6,605.9 L171.1,605.3 L170.6,604.6 L170.1,604.0 L169.7,603.4 L169.4,602.9 L169.1,602.4 L168.6,601.4 L168.4,600.9 L168.1,600.2 L167.8,599.4 L167.6,598.4 L167.6,597.9 L167.5,596.9 L167.6,596.0 L167.7,595.4 L168.1,594.6 L168.6,593.9 L169.1,593.5 L169.6,593.2 L170.6,592.9 L171.1,592.9 L171.7,592.9 L172.6,593.0 L173.6,593.3 L174.1,593.5 L174.9,593.9 L175.6,594.3 L176.1,594.6 L176.6,595.0 L177.2,595.4 L177.7,595.9 L178.3,596.4 L178.8,596.9 L179.2,597.4 L179.6,597.9 L180.1,598.5 L180.6,599.2 L181.0,599.9 L181.3,600.4 L181.6,600.9 L182.1,601.9 L182.3,602.4 L182.6,603.3 L182.8,603.9 L183.1,604.9 L183.2,605.4 L183.4,606.4 L183.5,607.4 L183.6,608.0 L183.7,608.9 L183.8,609.9 L183.9,610.9 L184.0,611.9 L184.1,612.9 L184.0,613.9 L183.9,614.9 L183.6,615.5 L183.1,616.1 M182.1,615.5 L181.4,615.4 L180.6,615.1 L180.1,614.7 L179.6,614.3 L179.1,613.8 L178.6,613.2 L178.1,612.6 L177.6,612.0 L177.1,611.4 L176.7,610.9 L176.3,610.4 L175.9,609.9 L175.4,609.4 L174.9,608.9 L174.5,608.4 L174.0,607.9 L173.5,607.4 L173.0,606.9 L172.5,606.4 L172.0,605.9 L171.6,605.4 L171.1,604.8 L170.6,604.1 L170.1,603.4 L169.8,602.9 L169.5,602.4 L169.1,601.7 L168.7,600.9 L168.5,600.4 L168.2,599.4 L168.1,598.9 L167.9,597.9 L167.9,596.9 L168.1,595.9 L168.2,595.4 L168.6,594.7 L169.1,594.2 L169.6,593.8 L170.6,593.4 L171.1,593.3 L172.1,593.4 L172.6,593.4 L173.6,593.7 L174.1,593.9 L175.1,594.4 L175.6,594.7 L176.1,595.0 L176.6,595.4 L177.3,595.9 L177.8,596.4 L178.3,596.9 L178.8,597.4 L179.2,597.9 L179.6,598.4 L180.1,599.0 L180.6,599.8 L181.0,600.4 L181.2,600.9 L181.6,601.6 L181.9,602.4 L182.1,602.9 L182.4,603.9 L182.6,604.5 L182.8,605.4 L183.0,606.4 L183.1,607.4 L183.2,607.9 L183.3,608.9 L183.4,609.9 L183.5,610.9 L183.5,611.9 L183.5,612.9 L183.4,613.9 L183.1,614.8 L182.6,615.3 L182.1,615.5 M182.1,614.5 L181.1,614.5 L180.6,614.3 L180.0,613.9 L179.4,613.4 L178.9,612.9 L178.5,612.4 L178.1,611.9 L177.6,611.3 L177.1,610.8 L176.6,610.2 L176.1,609.6 L175.6,609.1 L175.1,608.6 L174.6,608.1 L174.1,607.6 L173.6,607.1 L173.1,606.6 L172.6,606.1 L172.1,605.5 L171.6,604.9 L171.2,604.4 L170.8,603.9 L170.4,603.4 L170.1,602.9 L169.6,602.0 L169.3,601.4 L169.1,600.9 L168.7,599.9 L168.6,599.4 L168.4,598.4 L168.3,597.4 L168.4,596.4 L168.6,595.8 L169.1,594.9 L169.6,594.4 L170.1,594.1 L170.6,593.9 L171.6,593.8 L172.6,593.8 L173.1,593.9 L174.1,594.3 L174.6,594.5 L175.3,594.9 L176.1,595.4 L176.6,595.7 L177.1,596.1 L177.6,596.6 L178.1,597.1 L178.6,597.6 L179.1,598.2 L179.6,598.8 L180.0,599.4 L180.3,599.9 L180.6,600.4 L181.1,601.3 L181.4,601.9 L181.6,602.4 L181.9,603.4 L182.1,604.0 L182.3,604.9 L182.5,605.9 L182.6,606.5 L182.7,607.4 L182.8,608.4 L182.9,609.4 L182.9,610.4 L183.0,611.4 L183.0,612.4 L182.8,613.4 L182.6,614.0 L182.1,614.5 M181.6,613.2 L180.6,613.3 L180.0,612.9 L179.3,612.4 L178.8,611.9 L178.3,611.4 L177.9,610.9 L177.4,610.4 L176.9,609.9 L176.5,609.4 L176.0,608.9 L175.5,608.4 L174.9,607.9 L174.4,607.4 L173.9,606.9 L173.4,606.4 L172.9,605.9 L172.4,605.4 L172.0,604.9 L171.6,604.4 L171.1,603.7 L170.6,603.0 L170.2,602.4 L169.9,601.9 L169.6,601.2 L169.3,600.4 L169.1,599.8 L168.9,598.9 L168.8,597.9 L168.8,596.9 L169.1,596.0 L169.4,595.4 L169.9,594.9 L170.6,594.5 L171.1,594.3 L172.1,594.3 L173.1,594.4 L173.6,594.5 L174.5,594.9 L175.1,595.2 L175.6,595.5 L176.2,595.9 L176.9,596.4 L177.4,596.9 L178.0,597.4 L178.4,597.9 L178.8,598.4 L179.2,598.9 L179.6,599.4 L180.1,600.2 L180.5,600.9 L180.8,601.4 L181.1,602.2 L181.4,602.9 L181.6,603.7 L181.8,604.4 L182.0,605.4 L182.1,606.2 L182.2,606.9 L182.2,607.9 L182.3,608.9 L182.3,609.9 L182.3,610.9 L182.2,611.9 L182.1,612.5 L181.6,613.2 M180.6,612.0 L180.1,611.9 L179.3,611.4 L178.7,610.9 L178.1,610.4 L177.6,609.9 L177.1,609.4 L176.6,608.9 L176.1,608.5 L175.6,608.0 L175.1,607.6 L174.6,607.1 L174.1,606.6 L173.6,606.1 L173.1,605.6 L172.6,605.1 L172.1,604.5 L171.6,603.9 L171.3,603.4 L170.9,602.9 L170.6,602.4 L170.1,601.4 L169.9,600.9 L169.6,600.2 L169.4,599.4 L169.2,598.4 L169.2,597.4 L169.5,596.4 L169.8,595.9 L170.2,595.4 L171.1,594.9 L171.6,594.8 L172.6,594.8 L173.3,594.9 L174.1,595.1 L174.7,595.4 L175.6,595.9 L176.1,596.2 L176.6,596.6 L177.1,597.0 L177.6,597.5 L178.1,598.0 L178.6,598.6 L179.1,599.3 L179.5,599.9 L179.8,600.4 L180.1,600.9 L180.6,601.9 L180.8,602.4 L181.1,603.3 L181.3,603.9 L181.5,604.9 L181.6,605.7 L181.7,606.4 L181.7,607.4 L181.7,608.4 L181.7,609.4 L181.6,610.4 L181.5,610.9 L181.1,611.8 L180.6,612.0 M180.1,610.6 L179.3,610.4 L178.6,610.0 L178.1,609.6 L177.6,609.2 L177.1,608.8 L176.6,608.4 L176.0,607.9 L175.5,607.4 L174.9,606.9 L174.4,606.4 L173.8,605.9 L173.3,605.4 L172.9,604.9 L172.4,604.4 L172.0,603.9 L171.6,603.3 L171.1,602.6 L170.7,601.9 L170.5,601.4 L170.1,600.5 L169.9,599.9 L169.7,598.9 L169.6,597.9 L169.8,596.9 L170.1,596.4 L170.6,595.8 L171.3,595.4 L172.1,595.2 L173.1,595.3 L173.6,595.4 L174.6,595.8 L175.1,596.0 L175.7,596.4 L176.4,596.9 L177.0,597.4 L177.5,597.9 L178.0,598.4 L178.4,598.9 L178.8,599.4 L179.2,599.9 L179.6,600.6 L180.0,601.4 L180.2,601.9 L180.6,602.9 L180.8,603.4 L181.0,604.4 L181.1,605.1 L181.2,605.9 L181.2,606.9 L181.2,607.9 L181.1,608.7 L181.0,609.4 L180.6,610.3 L180.1,610.6 M180.1,609.0 L179.1,609.3 L178.2,608.9 L177.6,608.6 L177.1,608.2 L176.6,607.8 L176.1,607.4 L175.5,606.9 L174.9,606.4 L174.3,605.9 L173.8,605.4 L173.3,604.9 L172.8,604.4 L172.4,603.9 L172.0,603.4 L171.6,602.8 L171.1,601.9 L170.8,601.4 L170.6,600.9 L170.3,599.9 L170.1,599.0 L170.1,598.4 L170.1,597.8 L170.4,596.9 L170.7,596.4 L171.4,595.9 L172.1,595.7 L173.1,595.7 L173.9,595.9 L174.6,596.2 L175.1,596.4 L175.9,596.9 L176.5,597.4 L177.1,597.9 L177.6,598.4 L178.0,598.9 L178.4,599.4 L178.8,599.9 L179.1,600.4 L179.6,601.3 L179.9,601.9 L180.1,602.5 L180.4,603.4 L180.6,604.4 L180.7,604.9 L180.7,605.9 L180.7,606.9 L180.6,607.7 L180.4,608.4 L180.1,609.0 M179.6,608.0 L178.6,608.3 L177.6,607.9 L177.1,607.6 L176.6,607.3 L176.1,606.9 L175.4,606.4 L174.8,605.9 L174.3,605.4 L173.7,604.9 L173.3,604.4 L172.8,603.9 L172.4,603.4 L172.1,602.9 L171.6,602.2 L171.2,601.4 L171.0,600.9 L170.6,599.9 L170.5,599.4 L170.5,598.4 L170.6,597.7 L171.0,596.9 L171.6,596.4 L172.1,596.2 L173.1,596.1 L174.1,596.4 L174.6,596.6 L175.2,596.9 L176.0,597.4 L176.6,597.9 L177.1,598.3 L177.6,598.9 L178.0,599.4 L178.4,599.9 L178.7,600.4 L179.1,601.1 L179.5,601.9 L179.7,602.4 L180.0,603.4 L180.1,603.9 L180.2,604.9 L180.2,605.9 L180.1,606.9 L180.0,607.4 L179.6,608.0 M178.6,607.4 L178.1,607.4 L177.1,607.0 L176.6,606.8 L176.1,606.4 L175.4,605.9 L174.8,605.4 L174.2,604.9 L173.7,604.4 L173.2,603.9 L172.8,603.4 L172.4,602.9 L172.1,602.4 L171.6,601.5 L171.3,600.9 L171.1,600.2 L170.9,599.4 L170.9,598.4 L171.1,597.8 L171.6,597.1 L172.1,596.8 L173.1,596.6 L174.1,596.8 L174.6,597.0 L175.4,597.4 L176.1,597.9 L176.6,598.3 L177.1,598.8 L177.6,599.4 L178.0,599.9 L178.4,600.4 L178.7,600.9 L179.1,601.8 L179.3,602.4 L179.6,603.3 L179.7,603.9 L179.8,604.9 L179.7,605.9 L179.6,606.4 L179.1,607.2 L178.6,607.4 M178.6,606.5 L177.6,606.6 L177.0,606.4 L176.1,605.9 L175.6,605.6 L175.1,605.2 L174.6,604.8 L174.1,604.3 L173.6,603.8 L173.1,603.2 L172.6,602.6 L172.2,601.9 L171.9,601.4 L171.6,600.6 L171.4,599.9 L171.4,598.9 L171.6,598.0 L172.1,597.4 L172.6,597.2 L173.6,597.1 L174.6,597.4 L175.1,597.6 L175.6,597.9 L176.2,598.4 L176.8,598.9 L177.2,599.4 L177.6,599.9 L178.1,600.6 L178.5,601.4 L178.8,601.9 L179.1,602.9 L179.2,603.4 L179.3,604.4 L179.2,605.4 L179.1,605.9 L178.6,606.5 M178.1,605.8 L177.1,605.8 L176.1,605.4 L175.6,605.1 L175.1,604.7 L174.6,604.3 L174.1,603.9 L173.6,603.3 L173.1,602.7 L172.6,601.9 L172.3,601.4 L172.1,600.9 L171.9,599.9 L171.9,598.9 L172.1,598.3 L172.6,597.8 L173.6,597.6 L174.6,597.8 L175.1,598.1 L175.6,598.4 L176.3,598.9 L176.8,599.4 L177.2,599.9 L177.6,600.4 L178.1,601.3 L178.4,601.9 L178.6,602.6 L178.8,603.4 L178.8,604.4 L178.6,605.2 L178.1,605.8 M177.1,605.0 L176.5,604.9 L175.6,604.5 L175.1,604.1 L174.6,603.7 L174.1,603.2 L173.6,602.6 L173.1,601.9 L172.9,601.4 L172.6,600.8 L172.4,599.9 L172.6,598.9 L173.1,598.4 L173.6,598.3 L174.5,598.4 L175.1,598.7 L175.6,599.0 L176.1,599.4 L176.6,599.9 L177.1,600.5 L177.6,601.3 L177.8,601.9 L178.1,602.8 L178.2,603.4 L178.1,604.1 L177.6,604.9 L177.1,605.0 M176.6,604.0 L176.0,603.9 L175.1,603.4 L174.6,603.0 L174.1,602.4 L173.7,601.9 L173.5,601.4 L173.2,600.4 L173.4,599.4 L174.1,599.1 L175.1,599.3 L175.6,599.7 L176.1,600.1 L176.6,600.7 L177.0,601.4 L177.2,601.9 L177.4,602.9 L177.1,603.8 L176.6,604.0"/><path fill="#8a8a8a" d="M209.5 605.1h0.7v0.7h-0.7zM196.3 615.3h0.7v0.7h-0.7zM223.0 622.0h0.7v0.7h-0.7zM217.0 622.7h0.7v0.7h-0.7zM230.1 608.5h0.7v0.7h-0.7zM215.6 607.0h0.7v0.7h-0.7zM211.6 610.4h0.7v0.7h-0.7zM184.5 596.1h0.7v0.7h-0.7zM210.9 574.7h0.7v0.7h-0.7zM187.7 619.0h0.7v0.7h-0.7zM192.3 594.4h0.7v0.7h-0.7zM209.5 594.3h0.7v0.7h-0.7zM194.7 593.8h0.7v0.7h-0.7zM199.9 593.0h0.7v0.7h-0.7zM216.1 642.7h0.7v0.7h-0.7zM216.2 645.3h0.7v0.7h-0.7zM208.4 651.1h0.7v0.7h-0.7zM197.0 648.8h0.7v0.7h-0.7zM203.0 646.3h0.7v0.7h-0.7zM207.5 623.3h0.7v0.7h-0.7zM203.7 648.7h0.7v0.7h-0.7zM173.7 631.6h0.7v0.7h-0.7zM199.3 662.0h0.7v0.7h-0.7zM206.5 607.3h0.7v0.7h-0.7zM206.9 629.5h0.7v0.7h-0.7zM211.3 638.5h0.7v0.7h-0.7zM202.8 643.5h0.7v0.7h-0.7zM212.3 642.2h0.7v0.7h-0.7zM211.8 620.6h0.7v0.7h-0.7zM194.5 650.3h0.7v0.7h-0.7zM195.5 640.0h0.7v0.7h-0.7zM209.4 640.9h0.7v0.7h-0.7zM207.4 629.8h0.7v0.7h-0.7zM206.4 654.1h0.7v0.7h-0.7zM199.3 663.4h0.7v0.7h-0.7zM224.8 650.4h0.7v0.7h-0.7zM198.6 640.4h0.7v0.7h-0.7zM205.9 640.1h0.7v0.7h-0.7zM197.5 630.7h0.7v0.7h-0.7zM189.5 613.7h0.7v0.7h-0.7z"/><path d="M183.4,570.4V671.2M138.6,626.3H243.6" stroke="#000" stroke-width="1.1" fill="none"/><text x="140.7" y="582.6" font-size="9.6">77.6</text><text x="238.6" y="582.6" font-size="9.6" text-anchor="end">16.9</text><text x="140.7" y="665.7" font-size="9.6">0.26</text><text x="238.6" y="665.7" font-size="9.6" text-anchor="end">5.21</text><path d="M135.6,580.5H138.6M135.6,595.5H138.6M135.6,626.3H138.6M135.6,645.0H138.6M135.6,649.0H138.6M135.6,662.0H138.6M143.6,671.2V673.7M162.6,671.2V673.7M183.2,671.2V673.7M202.6,671.2V673.7M222.6,671.2V673.7M238.6,671.2V673.7" stroke="#000" stroke-width="0.8" fill="none"/><rect x="138.6" y="570.4" width="105.0" height="100.8" fill="none" stroke="#000" stroke-width="1.6"/><path fill="none" stroke="#505050" stroke-width="0.42" d="M329.1,629.4 L328.1,629.5 L327.1,629.4 L326.6,629.4 L325.6,629.2 L324.6,629.0 L324.1,628.8 L323.1,628.5 L322.6,628.4 L321.6,628.0 L321.1,627.8 L320.3,627.4 L319.6,627.1 L319.1,626.8 L318.4,626.4 L317.6,626.0 L317.1,625.7 L316.6,625.4 L315.8,624.9 L315.1,624.5 L314.6,624.2 L314.1,623.9 L313.1,623.4 L312.6,623.3 L311.6,623.0 L310.6,623.0 L309.6,623.1 L308.6,623.4 L308.1,623.6 L307.4,623.9 L306.6,624.3 L306.1,624.5 L305.1,624.9 L304.6,625.0 L303.6,625.3 L302.7,625.4 L302.1,625.5 L301.1,625.5 L300.2,625.4 L299.6,625.3 L298.6,625.1 L297.7,624.9 L297.1,624.7 L296.3,624.4 L295.6,624.1 L295.1,623.9 L294.1,623.4 L293.6,623.2 L293.1,622.9 L292.3,622.4 L291.6,621.9 L291.1,621.6 L290.6,621.2 L290.1,620.9 L289.5,620.4 L288.9,619.9 L288.3,619.4 L287.7,618.9 L287.2,618.4 L286.7,617.9 L286.2,617.4 L285.8,616.9 L285.4,616.4 L285.0,615.9 L284.6,615.4 L284.1,614.7 L283.6,613.9 L283.3,613.4 L283.0,612.9 L282.6,612.2 L282.2,611.4 L282.0,610.9 L281.6,610.1 L281.3,609.4 L281.0,608.9 L280.6,607.9 L280.4,607.4 L280.1,606.6 L279.8,605.9 L279.6,605.3 L279.3,604.4 L279.1,603.8 L278.8,602.9 L278.6,602.0 L278.4,601.4 L278.2,600.4 L278.1,599.8 L277.9,598.9 L277.8,597.9 L277.7,596.9 L277.6,595.9 L277.6,594.9 L277.6,593.9 L277.7,592.9 L277.8,591.9 L278.0,590.9 L278.1,590.4 L278.4,589.4 L278.6,588.9 L279.1,587.9 L279.3,587.4 L279.6,586.9 L280.1,586.2 L280.6,585.6 L281.1,585.1 L281.6,584.7 L282.1,584.4 L282.9,583.9 L283.6,583.6 L284.2,583.4 L285.1,583.2 L286.1,583.1 L287.1,583.1 L288.1,583.2 L289.1,583.3 L289.6,583.5 L290.6,583.7 L291.1,583.9 L292.1,584.3 L292.6,584.6 L293.3,584.9 L294.1,585.4 L294.6,585.6 L295.1,586.0 L295.7,586.4 L296.4,586.9 L297.1,587.4 L297.6,587.8 L298.1,588.2 L298.6,588.6 L299.1,589.1 L299.6,589.5 L300.1,590.0 L300.6,590.5 L301.1,591.0 L301.6,591.4 L302.2,591.9 L302.8,592.4 L303.5,592.9 L304.1,593.2 L304.6,593.4 L305.6,593.7 L306.6,593.7 L307.6,593.7 L308.6,593.5 L309.6,593.4 L310.1,593.3 L311.1,593.2 L312.1,593.1 L313.1,593.0 L314.1,593.0 L315.1,593.0 L316.1,593.0 L317.1,593.0 L318.1,593.1 L319.1,593.2 L320.1,593.3 L320.6,593.4 L321.6,593.6 L322.6,593.8 L323.1,593.9 L324.1,594.2 L324.9,594.4 L325.6,594.6 L326.4,594.9 L327.1,595.2 L327.7,595.4 L328.6,595.8 L329.1,596.1 L329.8,596.4 L330.6,596.9 L331.1,597.2 L331.6,597.5 L332.2,597.9 L332.9,598.4 L333.5,598.9 L334.1,599.4 L334.6,599.9 L335.1,600.4 L335.6,600.9 L336.0,601.4 L336.4,601.9 L336.7,602.4 L337.1,603.1 L337.5,603.9 L337.8,604.4 L338.1,605.4 L338.2,605.9 L338.4,606.9 L338.5,607.9 L338.5,608.9 L338.3,609.9 L338.1,610.8 L337.9,611.4 L337.6,612.1 L337.2,612.9 L336.9,613.4 L336.5,613.9 L336.1,614.4 L335.6,615.0 L335.1,615.5 L334.6,616.0 L334.1,616.4 L333.6,616.9 L333.0,617.4 L332.6,617.9 L332.1,618.8 L332.0,619.4 L332.1,620.2 L332.3,620.9 L332.6,621.7 L332.9,622.4 L333.1,623.0 L333.4,623.9 L333.6,624.9 L333.6,625.9 L333.3,626.9 L333.1,627.4 L332.6,628.0 L332.1,628.5 L331.3,628.9 L330.6,629.2 L329.6,629.4 L329.1,629.4 M328.1,627.4 L327.1,627.5 L326.1,627.5 L325.1,627.4 L324.6,627.3 L323.6,627.1 L323.1,626.9 L322.1,626.6 L321.6,626.4 L320.6,625.9 L320.1,625.7 L319.6,625.4 L318.7,624.9 L318.1,624.6 L317.6,624.2 L317.1,623.9 L316.3,623.4 L315.6,622.9 L315.1,622.6 L314.6,622.3 L313.9,621.9 L313.1,621.5 L312.6,621.3 L311.6,621.0 L310.6,620.9 L309.6,620.9 L308.6,621.1 L307.6,621.4 L307.1,621.6 L306.3,621.9 L305.6,622.2 L305.0,622.4 L304.1,622.7 L303.3,622.9 L302.6,623.0 L301.6,623.2 L300.6,623.2 L299.6,623.1 L298.6,622.9 L298.1,622.8 L297.1,622.6 L296.6,622.4 L295.6,622.0 L295.1,621.8 L294.3,621.4 L293.6,621.0 L293.1,620.7 L292.6,620.4 L291.8,619.9 L291.1,619.4 L290.6,619.0 L290.1,618.6 L289.6,618.2 L289.1,617.7 L288.6,617.2 L288.1,616.7 L287.6,616.2 L287.1,615.6 L286.6,615.0 L286.2,614.4 L285.8,613.9 L285.5,613.4 L285.1,612.8 L284.6,612.0 L284.2,611.4 L284.0,610.9 L283.6,610.2 L283.2,609.4 L283.0,608.9 L282.6,608.1 L282.3,607.4 L282.1,606.9 L281.7,605.9 L281.5,605.4 L281.1,604.4 L281.0,603.9 L280.6,602.9 L280.5,602.4 L280.2,601.4 L280.1,600.7 L279.9,599.9 L279.8,598.9 L279.7,597.9 L279.6,597.2 L279.6,596.4 L279.5,595.4 L279.6,594.4 L279.6,593.9 L279.8,592.9 L280.0,591.9 L280.1,591.4 L280.5,590.4 L280.7,589.9 L281.1,589.1 L281.5,588.4 L281.9,587.9 L282.4,587.4 L283.0,586.9 L283.6,586.5 L284.1,586.2 L284.7,585.9 L285.6,585.6 L286.6,585.5 L287.6,585.4 L288.6,585.5 L289.6,585.7 L290.5,585.9 L291.1,586.1 L291.9,586.4 L292.6,586.7 L293.1,587.0 L293.9,587.4 L294.6,587.8 L295.1,588.1 L295.6,588.5 L296.1,588.9 L296.8,589.4 L297.4,589.9 L298.0,590.4 L298.5,590.9 L299.1,591.4 L299.6,591.9 L300.1,592.4 L300.6,592.9 L301.1,593.4 L301.6,593.9 L302.1,594.3 L302.6,594.8 L303.1,595.2 L303.6,595.5 L304.4,595.9 L305.1,596.1 L306.1,596.2 L307.1,596.2 L308.1,596.0 L308.8,595.9 L309.6,595.7 L310.6,595.6 L311.6,595.4 L312.1,595.4 L313.1,595.2 L314.1,595.2 L315.1,595.1 L316.1,595.1 L317.1,595.2 L318.1,595.3 L319.1,595.4 L319.6,595.4 L320.6,595.6 L321.6,595.8 L322.1,595.9 L323.1,596.2 L323.8,596.4 L324.6,596.6 L325.3,596.9 L326.1,597.2 L326.6,597.5 L327.5,597.9 L328.1,598.2 L328.6,598.5 L329.3,598.9 L330.0,599.4 L330.6,599.8 L331.1,600.3 L331.6,600.7 L332.1,601.2 L332.6,601.7 L333.1,602.3 L333.5,602.9 L333.8,603.4 L334.1,603.9 L334.6,604.9 L334.8,605.4 L335.0,606.4 L335.1,606.9 L335.2,607.9 L335.1,608.9 L335.1,609.4 L334.8,610.4 L334.6,610.9 L334.1,611.9 L333.8,612.4 L333.5,612.9 L333.1,613.4 L332.6,614.0 L332.1,614.5 L331.6,614.9 L331.1,615.4 L330.5,615.9 L329.9,616.4 L329.5,616.9 L329.1,617.8 L329.0,618.4 L329.1,618.9 L329.5,619.9 L329.7,620.4 L330.1,621.3 L330.4,621.9 L330.6,622.5 L330.9,623.4 L331.0,624.4 L330.8,625.4 L330.6,625.9 L330.1,626.5 L329.6,626.9 L328.6,627.3 L328.1,627.4 M326.1,625.9 L325.1,625.9 L324.6,625.9 L323.6,625.7 L322.6,625.4 L322.1,625.2 L321.3,624.9 L320.6,624.6 L320.1,624.3 L319.3,623.9 L318.6,623.4 L318.1,623.1 L317.6,622.8 L317.1,622.4 L316.3,621.9 L315.6,621.4 L315.1,621.0 L314.6,620.7 L314.0,620.4 L313.1,620.0 L312.6,619.8 L311.6,619.6 L310.6,619.5 L309.6,619.5 L308.6,619.6 L307.6,619.8 L307.1,620.0 L306.1,620.3 L305.6,620.5 L304.6,620.9 L304.1,621.0 L303.1,621.3 L302.6,621.4 L301.6,621.6 L300.6,621.6 L299.6,621.6 L298.6,621.5 L298.1,621.4 L297.1,621.1 L296.5,620.9 L295.6,620.6 L295.1,620.3 L294.3,619.9 L293.6,619.5 L293.1,619.2 L292.6,618.9 L291.9,618.4 L291.2,617.9 L290.6,617.4 L290.1,617.0 L289.6,616.5 L289.1,616.0 L288.6,615.5 L288.1,614.9 L287.7,614.4 L287.3,613.9 L286.9,613.4 L286.6,612.9 L286.1,612.2 L285.6,611.4 L285.3,610.9 L285.1,610.4 L284.6,609.6 L284.3,608.9 L284.0,608.4 L283.6,607.5 L283.3,606.9 L283.1,606.4 L282.7,605.4 L282.5,604.9 L282.2,603.9 L282.0,603.4 L281.7,602.4 L281.6,601.9 L281.3,600.9 L281.2,599.9 L281.1,599.4 L281.0,598.4 L280.9,597.4 L280.8,596.4 L280.9,595.4 L281.0,594.4 L281.1,593.6 L281.2,592.9 L281.5,591.9 L281.7,591.4 L282.1,590.6 L282.5,589.9 L282.9,589.4 L283.4,588.9 L283.9,588.4 L284.6,587.9 L285.1,587.7 L285.8,587.4 L286.6,587.2 L287.6,587.1 L288.6,587.1 L289.6,587.2 L290.4,587.4 L291.1,587.6 L291.9,587.9 L292.6,588.2 L293.1,588.4 L293.9,588.9 L294.6,589.3 L295.1,589.6 L295.6,590.0 L296.1,590.4 L296.8,590.9 L297.4,591.4 L297.9,591.9 L298.4,592.4 L299.0,592.9 L299.5,593.4 L299.9,593.9 L300.4,594.4 L300.9,594.9 L301.4,595.4 L301.9,595.9 L302.4,596.4 L303.0,596.9 L303.6,597.4 L304.1,597.7 L304.6,597.9 L305.6,598.1 L306.6,598.1 L307.6,598.0 L308.1,597.9 L309.1,597.6 L310.1,597.4 L310.6,597.3 L311.6,597.1 L312.6,597.0 L313.3,596.9 L314.1,596.8 L315.1,596.8 L316.1,596.8 L317.1,596.8 L318.1,596.9 L318.6,596.9 L319.6,597.1 L320.6,597.3 L321.2,597.4 L322.1,597.6 L323.0,597.9 L323.6,598.1 L324.4,598.4 L325.1,598.7 L325.6,598.9 L326.6,599.4 L327.1,599.7 L327.6,600.0 L328.2,600.4 L328.8,600.9 L329.4,601.4 L330.0,601.9 L330.4,602.4 L330.8,602.9 L331.2,603.4 L331.6,604.0 L332.1,604.9 L332.3,605.4 L332.6,606.4 L332.6,606.9 L332.7,607.9 L332.6,608.9 L332.5,609.4 L332.2,610.4 L332.0,610.9 L331.6,611.6 L331.1,612.3 L330.6,612.9 L330.1,613.4 L329.6,613.9 L329.1,614.3 L328.6,614.8 L328.1,615.2 L327.6,615.7 L327.1,616.2 L326.8,616.9 L326.7,617.9 L327.0,618.9 L327.3,619.4 L327.6,620.1 L328.0,620.9 L328.3,621.4 L328.6,622.2 L328.8,622.9 L328.8,623.9 L328.6,624.6 L328.1,625.2 L327.6,625.6 L326.6,625.9 L326.1,625.9 M325.6,624.1 L324.6,624.3 L323.6,624.2 L322.6,624.0 L322.1,623.9 L321.1,623.5 L320.6,623.2 L320.0,622.9 L319.2,622.4 L318.6,622.0 L318.1,621.6 L317.6,621.3 L317.1,620.9 L316.5,620.4 L315.7,619.9 L315.1,619.5 L314.6,619.2 L313.9,618.9 L313.1,618.6 L312.2,618.4 L311.6,618.3 L310.6,618.2 L309.6,618.2 L308.6,618.3 L308.1,618.4 L307.1,618.7 L306.3,618.9 L305.6,619.2 L305.0,619.4 L304.1,619.7 L303.5,619.9 L302.6,620.2 L301.6,620.3 L300.9,620.4 L300.1,620.4 L299.6,620.4 L298.6,620.3 L297.6,620.1 L297.0,619.9 L296.1,619.6 L295.6,619.4 L294.6,618.9 L294.1,618.7 L293.6,618.4 L292.9,617.9 L292.2,617.4 L291.6,617.0 L291.1,616.6 L290.6,616.1 L290.1,615.6 L289.6,615.1 L289.1,614.6 L288.6,614.0 L288.1,613.4 L287.7,612.9 L287.4,612.4 L287.0,611.9 L286.6,611.2 L286.1,610.4 L285.8,609.9 L285.5,609.4 L285.1,608.5 L284.8,607.9 L284.5,607.4 L284.1,606.4 L283.9,605.9 L283.6,605.2 L283.3,604.4 L283.1,603.8 L282.8,602.9 L282.6,602.1 L282.4,601.4 L282.2,600.4 L282.1,599.6 L282.0,598.9 L281.9,597.9 L281.9,596.9 L281.9,595.9 L282.0,594.9 L282.1,594.4 L282.3,593.4 L282.6,592.6 L282.9,591.9 L283.2,591.4 L283.6,590.7 L284.1,590.1 L284.6,589.7 L285.1,589.3 L285.9,588.9 L286.6,588.6 L287.6,588.4 L288.1,588.4 L289.1,588.4 L289.6,588.5 L290.6,588.7 L291.4,588.9 L292.1,589.2 L292.6,589.4 L293.6,589.9 L294.1,590.2 L294.6,590.5 L295.2,590.9 L295.9,591.4 L296.5,591.9 L297.1,592.4 L297.6,592.9 L298.1,593.3 L298.6,593.8 L299.1,594.3 L299.6,594.9 L300.1,595.4 L300.5,595.9 L301.0,596.4 L301.5,596.9 L301.9,597.4 L302.4,597.9 L302.9,598.4 L303.5,598.9 L304.1,599.3 L304.6,599.6 L305.6,599.9 L306.6,599.9 L307.6,599.7 L308.6,599.4 L309.1,599.3 L310.1,599.0 L310.6,598.9 L311.6,598.6 L312.6,598.4 L313.1,598.4 L314.1,598.3 L315.1,598.2 L316.1,598.2 L317.1,598.2 L318.1,598.3 L318.9,598.4 L319.6,598.5 L320.6,598.7 L321.3,598.9 L322.1,599.1 L322.9,599.4 L323.6,599.7 L324.1,599.9 L325.1,600.4 L325.6,600.7 L326.1,601.0 L326.7,601.4 L327.4,601.9 L327.9,602.4 L328.4,602.9 L328.9,603.4 L329.3,603.9 L329.6,604.4 L330.1,605.4 L330.3,605.9 L330.5,606.9 L330.6,607.9 L330.4,608.9 L330.2,609.9 L329.9,610.4 L329.6,611.0 L329.1,611.7 L328.6,612.3 L328.1,612.8 L327.6,613.3 L327.1,613.7 L326.6,614.1 L326.1,614.5 L325.6,614.9 L325.1,615.4 L324.6,616.2 L324.4,616.9 L324.6,617.9 L324.8,618.4 L325.1,619.0 L325.6,619.8 L325.9,620.4 L326.2,620.9 L326.5,621.9 L326.6,622.4 L326.6,623.0 L326.1,623.8 L325.6,624.1 M323.1,621.9 L322.1,621.9 L321.6,621.8 L320.7,621.4 L320.1,621.1 L319.6,620.7 L319.1,620.4 L318.5,619.9 L317.9,619.4 L317.1,618.9 L316.6,618.6 L316.1,618.3 L315.2,617.9 L314.6,617.7 L313.6,617.4 L313.1,617.3 L312.1,617.1 L311.1,617.0 L310.1,617.0 L309.1,617.1 L308.1,617.2 L307.3,617.4 L306.6,617.6 L305.8,617.9 L305.1,618.2 L304.5,618.4 L303.6,618.7 L303.1,618.9 L302.1,619.2 L301.1,619.3 L300.1,619.4 L299.1,619.3 L298.1,619.2 L297.1,619.0 L296.6,618.8 L295.6,618.4 L295.1,618.2 L294.5,617.9 L293.7,617.4 L293.1,617.0 L292.6,616.7 L292.1,616.3 L291.6,615.9 L291.0,615.4 L290.5,614.9 L290.0,614.4 L289.6,613.9 L289.1,613.3 L288.6,612.7 L288.1,612.0 L287.7,611.4 L287.3,610.9 L287.0,610.4 L286.6,609.7 L286.1,608.9 L285.9,608.4 L285.6,607.9 L285.1,606.9 L284.9,606.4 L284.6,605.7 L284.3,604.9 L284.1,604.3 L283.8,603.4 L283.6,602.8 L283.4,601.9 L283.1,600.9 L283.0,600.4 L282.9,599.4 L282.8,598.4 L282.8,597.4 L282.8,596.4 L282.9,595.4 L283.1,594.5 L283.3,593.9 L283.6,593.0 L283.9,592.4 L284.2,591.9 L284.6,591.4 L285.1,590.9 L285.7,590.4 L286.6,589.9 L287.1,589.7 L288.1,589.5 L289.1,589.5 L290.1,589.6 L291.1,589.8 L291.6,590.0 L292.6,590.4 L293.1,590.6 L293.6,590.9 L294.4,591.4 L295.1,591.9 L295.6,592.2 L296.1,592.6 L296.6,593.0 L297.1,593.5 L297.6,593.9 L298.1,594.4 L298.6,594.9 L299.1,595.5 L299.6,596.0 L300.1,596.6 L300.6,597.2 L301.1,597.8 L301.6,598.3 L302.1,598.9 L302.5,599.4 L303.0,599.9 L303.6,600.4 L304.1,600.8 L304.6,601.1 L305.3,601.4 L306.1,601.5 L307.1,601.5 L307.6,601.3 L308.6,601.0 L309.1,600.9 L310.1,600.5 L310.6,600.4 L311.6,600.1 L312.4,599.9 L313.1,599.8 L314.1,599.6 L315.1,599.5 L316.1,599.5 L317.1,599.5 L318.1,599.6 L319.1,599.8 L319.7,599.9 L320.6,600.1 L321.6,600.4 L322.1,600.6 L322.9,600.9 L323.6,601.2 L324.1,601.5 L324.8,601.9 L325.5,602.4 L326.1,602.9 L326.6,603.4 L327.0,603.9 L327.4,604.4 L327.7,604.9 L328.1,605.6 L328.4,606.4 L328.5,607.4 L328.5,608.4 L328.2,609.4 L328.0,609.9 L327.6,610.7 L327.1,611.3 L326.6,611.9 L326.1,612.4 L325.6,612.8 L325.1,613.2 L324.6,613.6 L324.1,613.9 L323.5,614.4 L322.9,614.9 L322.5,615.4 L322.1,616.0 L321.9,616.9 L322.1,617.9 L322.3,618.4 L322.6,618.9 L323.1,619.7 L323.5,620.4 L323.6,620.9 L323.6,621.5 L323.1,621.9 M301.1,618.5 L300.1,618.6 L299.1,618.6 L298.1,618.4 L297.6,618.3 L296.6,618.0 L296.1,617.9 L295.1,617.4 L294.6,617.2 L294.1,616.9 L293.4,616.4 L292.7,615.9 L292.1,615.5 L291.6,615.0 L291.1,614.6 L290.6,614.1 L290.1,613.5 L289.6,613.0 L289.1,612.4 L288.8,611.9 L288.4,611.4 L288.0,610.9 L287.6,610.2 L287.1,609.4 L286.8,608.9 L286.5,608.4 L286.1,607.5 L285.8,606.9 L285.6,606.4 L285.1,605.4 L284.9,604.9 L284.6,604.0 L284.4,603.4 L284.1,602.4 L284.0,601.9 L283.8,600.9 L283.6,599.9 L283.6,599.4 L283.5,598.4 L283.5,597.4 L283.5,596.4 L283.6,595.9 L283.8,594.9 L284.1,594.0 L284.4,593.4 L284.6,592.9 L285.1,592.2 L285.6,591.7 L286.1,591.3 L286.8,590.9 L287.6,590.6 L288.6,590.4 L289.1,590.4 L289.7,590.4 L290.6,590.5 L291.6,590.8 L292.1,591.0 L293.0,591.4 L293.6,591.7 L294.1,592.0 L294.7,592.4 L295.4,592.9 L296.1,593.4 L296.6,593.8 L297.1,594.3 L297.6,594.8 L298.1,595.3 L298.6,595.8 L299.1,596.4 L299.6,596.9 L300.0,597.4 L300.4,597.9 L300.8,598.4 L301.2,598.9 L301.6,599.4 L302.1,600.0 L302.6,600.6 L303.1,601.1 L303.6,601.7 L304.1,602.1 L304.6,602.5 L305.6,602.9 L306.1,603.0 L307.1,602.9 L307.6,602.8 L308.6,602.5 L309.1,602.3 L310.0,601.9 L310.6,601.7 L311.4,601.4 L312.1,601.2 L313.1,601.0 L313.6,600.9 L314.6,600.7 L315.6,600.7 L316.6,600.7 L317.6,600.7 L318.6,600.9 L319.1,601.0 L320.1,601.2 L320.8,601.4 L321.6,601.7 L322.1,601.9 L323.1,602.4 L323.6,602.7 L324.1,603.1 L324.6,603.5 L325.1,603.9 L325.6,604.5 L326.1,605.2 L326.4,605.9 L326.6,606.4 L326.8,607.4 L326.7,608.4 L326.6,608.9 L326.2,609.9 L325.9,610.4 L325.5,610.9 L325.0,611.4 L324.5,611.9 L323.9,612.4 L323.2,612.9 L322.6,613.3 L322.1,613.6 L321.6,614.0 L321.0,614.4 L320.3,614.9 L319.7,615.4 L319.1,615.9 L318.6,616.2 L318.1,616.4 L317.1,616.5 L316.1,616.5 L315.5,616.4 L314.6,616.3 L313.6,616.2 L312.6,616.1 L311.6,616.0 L310.6,616.0 L309.6,616.0 L308.6,616.1 L307.6,616.3 L307.1,616.5 L306.1,616.8 L305.6,617.0 L304.6,617.4 L304.1,617.6 L303.3,617.9 L302.6,618.1 L301.6,618.4 L301.1,618.5 M302.1,617.5 L301.1,617.8 L300.1,617.9 L299.1,617.9 L298.1,617.8 L297.1,617.5 L296.6,617.4 L295.6,617.0 L295.1,616.8 L294.4,616.4 L293.6,615.9 L293.1,615.6 L292.6,615.2 L292.1,614.8 L291.6,614.3 L291.1,613.8 L290.6,613.3 L290.1,612.8 L289.6,612.2 L289.1,611.5 L288.7,610.9 L288.3,610.4 L288.0,609.9 L287.6,609.3 L287.1,608.4 L286.8,607.9 L286.6,607.4 L286.1,606.4 L285.9,605.9 L285.6,605.3 L285.3,604.4 L285.1,603.9 L284.8,602.9 L284.6,602.2 L284.4,601.4 L284.2,600.4 L284.1,599.4 L284.1,598.9 L284.0,597.9 L284.1,596.9 L284.2,596.4 L284.4,595.4 L284.6,594.6 L284.9,593.9 L285.2,593.4 L285.6,592.8 L286.1,592.3 L286.6,591.9 L287.6,591.4 L288.1,591.3 L289.1,591.1 L290.1,591.1 L291.1,591.3 L291.6,591.5 L292.6,591.9 L293.1,592.1 L293.7,592.4 L294.5,592.9 L295.1,593.3 L295.6,593.7 L296.1,594.1 L296.6,594.5 L297.1,595.0 L297.6,595.5 L298.1,596.0 L298.6,596.5 L299.1,597.1 L299.6,597.7 L300.1,598.3 L300.6,598.9 L300.9,599.4 L301.3,599.9 L301.7,600.4 L302.1,600.9 L302.6,601.6 L303.1,602.2 L303.6,602.7 L304.1,603.2 L304.6,603.6 L305.1,604.0 L306.1,604.3 L307.1,604.3 L308.1,604.1 L308.6,603.9 L309.6,603.4 L310.1,603.2 L310.7,602.9 L311.6,602.6 L312.1,602.4 L313.1,602.1 L314.1,601.9 L314.6,601.8 L315.6,601.7 L316.6,601.7 L317.6,601.8 L318.3,601.9 L319.1,602.1 L320.1,602.3 L320.6,602.5 L321.5,602.9 L322.1,603.2 L322.6,603.5 L323.1,603.9 L323.7,604.4 L324.1,604.9 L324.6,605.6 L325.0,606.4 L325.1,606.9 L325.2,607.9 L325.1,608.4 L324.7,609.4 L324.5,609.9 L324.1,610.4 L323.6,610.9 L323.1,611.4 L322.4,611.9 L321.7,612.4 L321.1,612.8 L320.6,613.1 L320.0,613.4 L319.1,613.9 L318.6,614.1 L318.0,614.4 L317.1,614.7 L316.2,614.9 L315.6,615.0 L314.6,615.0 L313.6,615.0 L312.6,615.0 L311.6,615.0 L310.6,615.0 L309.6,615.0 L308.6,615.2 L307.6,615.4 L307.1,615.5 L306.1,615.9 L305.6,616.1 L304.9,616.4 L304.1,616.8 L303.6,617.0 L302.6,617.4 L302.1,617.5 M301.1,616.9 L300.1,617.1 L299.1,617.1 L298.1,617.0 L297.5,616.9 L296.6,616.7 L295.9,616.4 L295.1,616.0 L294.6,615.8 L294.0,615.4 L293.3,614.9 L292.6,614.4 L292.1,614.0 L291.6,613.5 L291.1,613.0 L290.6,612.5 L290.1,611.9 L289.7,611.4 L289.3,610.9 L289.0,610.4 L288.6,609.8 L288.1,609.1 L287.7,608.4 L287.4,607.9 L287.1,607.3 L286.7,606.4 L286.4,605.9 L286.1,605.1 L285.8,604.4 L285.6,603.7 L285.4,602.9 L285.1,601.9 L285.0,601.4 L284.8,600.4 L284.7,599.4 L284.7,598.4 L284.7,597.4 L284.9,596.4 L285.1,595.6 L285.3,594.9 L285.6,594.4 L286.1,593.6 L286.6,593.1 L287.1,592.7 L287.6,592.4 L288.6,592.1 L289.6,591.9 L290.6,592.0 L291.6,592.2 L292.1,592.4 L293.1,592.8 L293.6,593.1 L294.1,593.4 L294.9,593.9 L295.6,594.4 L296.1,594.8 L296.6,595.3 L297.1,595.8 L297.6,596.3 L298.1,596.8 L298.6,597.4 L299.0,597.9 L299.5,598.4 L299.8,598.9 L300.2,599.4 L300.6,599.9 L301.1,600.6 L301.6,601.4 L302.0,601.9 L302.3,602.4 L302.7,602.9 L303.1,603.5 L303.6,604.1 L304.1,604.6 L304.6,605.1 L305.1,605.5 L305.8,605.9 L306.6,606.1 L307.6,606.1 L308.2,605.9 L309.1,605.5 L309.6,605.3 L310.3,604.9 L311.1,604.5 L311.6,604.2 L312.3,603.9 L313.1,603.6 L314.0,603.4 L314.6,603.3 L315.6,603.2 L316.6,603.2 L317.6,603.2 L318.4,603.4 L319.1,603.6 L320.0,603.9 L320.6,604.2 L321.1,604.5 L321.6,604.9 L322.1,605.4 L322.6,606.1 L322.9,606.9 L323.0,607.9 L322.7,608.9 L322.5,609.4 L322.1,609.9 L321.6,610.4 L321.0,610.9 L320.3,611.4 L319.6,611.8 L319.1,612.1 L318.4,612.4 L317.6,612.7 L317.1,612.9 L316.1,613.2 L315.1,613.4 L314.6,613.4 L313.6,613.5 L312.6,613.6 L311.6,613.6 L310.6,613.6 L309.6,613.7 L308.6,613.8 L308.1,613.9 L307.1,614.2 L306.6,614.4 L305.6,614.9 L305.1,615.2 L304.6,615.5 L303.8,615.9 L303.1,616.2 L302.6,616.4 L301.6,616.8 L301.1,616.9 M299.6,616.4 L298.6,616.4 L298.1,616.3 L297.1,616.2 L296.3,615.9 L295.6,615.6 L295.1,615.4 L294.3,614.9 L293.6,614.5 L293.1,614.1 L292.6,613.7 L292.1,613.3 L291.6,612.8 L291.1,612.3 L290.6,611.7 L290.1,611.1 L289.6,610.4 L289.2,609.9 L288.9,609.4 L288.6,608.9 L288.1,608.1 L287.7,607.4 L287.4,606.9 L287.1,606.2 L286.7,605.4 L286.5,604.9 L286.2,603.9 L286.0,603.4 L285.7,602.4 L285.6,601.8 L285.4,600.9 L285.3,599.9 L285.2,598.9 L285.3,597.9 L285.4,596.9 L285.6,596.2 L285.9,595.4 L286.1,594.9 L286.6,594.2 L287.1,593.7 L287.6,593.3 L288.5,592.9 L289.1,592.7 L290.1,592.7 L291.1,592.8 L291.6,592.9 L292.6,593.2 L293.1,593.5 L293.9,593.9 L294.6,594.3 L295.1,594.7 L295.6,595.1 L296.1,595.5 L296.6,596.0 L297.1,596.4 L297.6,597.0 L298.1,597.5 L298.6,598.1 L299.1,598.7 L299.6,599.4 L300.0,599.9 L300.3,600.4 L300.7,600.9 L301.1,601.6 L301.6,602.3 L302.0,602.9 L302.3,603.4 L302.6,603.9 L303.1,604.7 L303.6,605.4 L304.0,605.9 L304.4,606.4 L304.9,606.9 L305.5,607.4 L306.1,607.8 L306.6,608.1 L307.6,608.3 L308.6,608.1 L309.1,607.8 L309.8,607.4 L310.6,606.9 L311.1,606.5 L311.6,606.2 L312.1,605.9 L313.1,605.4 L313.6,605.2 L314.6,604.9 L315.1,604.9 L316.1,604.8 L317.1,604.8 L317.6,604.9 L318.6,605.3 L319.1,605.5 L319.7,605.9 L320.1,606.4 L320.6,607.4 L320.5,608.4 L320.1,609.0 L319.6,609.6 L319.1,610.0 L318.5,610.4 L317.6,610.9 L317.1,611.1 L316.2,611.4 L315.6,611.6 L314.6,611.8 L313.6,611.9 L313.1,611.9 L312.1,611.9 L311.1,611.9 L310.6,611.9 L309.6,611.9 L309.1,611.9 L308.1,612.1 L307.5,612.4 L306.6,612.9 L306.1,613.3 L305.6,613.6 L305.1,614.0 L304.5,614.4 L303.8,614.9 L303.1,615.3 L302.6,615.6 L301.9,615.9 L301.1,616.2 L300.1,616.4 L299.6,616.4 M301.1,615.4 L300.1,615.7 L299.1,615.8 L298.1,615.7 L297.1,615.6 L296.5,615.4 L295.6,615.0 L295.1,614.8 L294.4,614.4 L293.6,613.9 L293.1,613.5 L292.6,613.1 L292.1,612.6 L291.6,612.1 L291.1,611.6 L290.6,611.0 L290.1,610.4 L289.7,609.9 L289.4,609.4 L289.1,608.9 L288.6,608.2 L288.2,607.4 L287.9,606.9 L287.6,606.3 L287.2,605.4 L287.0,604.9 L286.6,603.9 L286.5,603.4 L286.2,602.4 L286.1,601.9 L285.9,600.9 L285.8,599.9 L285.7,598.9 L285.8,597.9 L286.0,596.9 L286.1,596.4 L286.6,595.4 L286.9,594.9 L287.4,594.4 L288.0,593.9 L288.6,593.6 L289.3,593.4 L290.1,593.3 L291.1,593.4 L291.6,593.5 L292.6,593.8 L293.1,594.0 L293.8,594.4 L294.6,594.9 L295.1,595.3 L295.6,595.7 L296.1,596.1 L296.6,596.6 L297.1,597.1 L297.6,597.6 L298.1,598.2 L298.6,598.8 L299.1,599.4 L299.4,599.9 L299.8,600.4 L300.1,600.9 L300.6,601.6 L301.1,602.4 L301.4,602.9 L301.7,603.4 L302.1,604.2 L302.5,604.9 L302.8,605.4 L303.1,605.9 L303.6,606.7 L304.1,607.4 L304.4,607.9 L304.7,608.4 L305.1,609.0 L305.5,609.9 L305.7,610.4 L305.6,611.3 L305.4,611.9 L305.1,612.4 L304.6,613.0 L304.1,613.5 L303.6,614.0 L303.1,614.4 L302.3,614.9 L301.6,615.2 L301.1,615.4 M300.6,614.9 L299.6,615.1 L298.6,615.2 L297.6,615.1 L296.7,614.9 L296.1,614.7 L295.4,614.4 L294.6,614.0 L294.1,613.7 L293.6,613.3 L293.1,612.9 L292.5,612.4 L291.9,611.9 L291.5,611.4 L291.0,610.9 L290.6,610.4 L290.1,609.7 L289.6,609.0 L289.2,608.4 L288.9,607.9 L288.6,607.4 L288.1,606.5 L287.8,605.9 L287.6,605.4 L287.2,604.4 L287.0,603.9 L286.7,602.9 L286.6,602.4 L286.4,601.4 L286.3,600.4 L286.2,599.4 L286.3,598.4 L286.4,597.4 L286.6,596.8 L287.0,595.9 L287.3,595.4 L287.8,594.9 L288.4,594.4 L289.1,594.1 L290.1,593.9 L291.1,594.0 L292.1,594.2 L292.7,594.4 L293.6,594.8 L294.1,595.1 L294.6,595.4 L295.2,595.9 L295.8,596.4 L296.4,596.9 L296.9,597.4 L297.4,597.9 L297.8,598.4 L298.2,598.9 L298.6,599.4 L299.1,600.1 L299.6,600.8 L300.0,601.4 L300.3,601.9 L300.6,602.4 L301.1,603.3 L301.4,603.9 L301.7,604.4 L302.1,605.2 L302.5,605.9 L302.7,606.4 L303.1,607.2 L303.5,607.9 L303.7,608.4 L304.1,609.4 L304.2,609.9 L304.3,610.9 L304.1,611.7 L303.8,612.4 L303.5,612.9 L303.0,613.4 L302.5,613.9 L301.7,614.4 L301.1,614.7 L300.6,614.9 M300.1,614.4 L299.1,614.6 L298.1,614.7 L297.1,614.5 L296.6,614.4 L295.6,614.0 L295.1,613.8 L294.5,613.4 L293.7,612.9 L293.1,612.4 L292.6,612.0 L292.1,611.5 L291.6,611.0 L291.1,610.4 L290.7,609.9 L290.3,609.4 L289.9,608.9 L289.6,608.4 L289.1,607.6 L288.7,606.9 L288.5,606.4 L288.1,605.7 L287.8,604.9 L287.6,604.4 L287.2,603.4 L287.1,602.9 L286.9,601.9 L286.7,600.9 L286.6,599.9 L286.7,598.9 L286.8,597.9 L287.1,596.9 L287.3,596.4 L287.6,595.9 L288.1,595.4 L288.8,594.9 L289.6,594.6 L290.6,594.4 L291.6,594.6 L292.6,594.9 L293.1,595.1 L293.7,595.4 L294.6,595.9 L295.1,596.3 L295.6,596.7 L296.1,597.1 L296.6,597.6 L297.1,598.1 L297.6,598.7 L298.1,599.3 L298.5,599.9 L298.9,600.4 L299.2,600.9 L299.6,601.5 L300.1,602.3 L300.4,602.9 L300.7,603.4 L301.1,604.2 L301.5,604.9 L301.7,605.4 L302.1,606.3 L302.4,606.9 L302.6,607.5 L303.0,608.4 L303.1,608.9 L303.3,609.9 L303.3,610.9 L303.1,611.8 L302.8,612.4 L302.4,612.9 L301.9,613.4 L301.3,613.9 L300.6,614.2 L300.1,614.4 M299.6,614.0 L298.6,614.1 L297.6,614.1 L296.6,613.9 L296.1,613.7 L295.3,613.4 L294.6,613.0 L294.1,612.7 L293.6,612.3 L293.1,611.9 L292.5,611.4 L292.0,610.9 L291.5,610.4 L291.1,609.9 L290.6,609.2 L290.1,608.5 L289.7,607.9 L289.4,607.4 L289.1,606.9 L288.6,605.9 L288.3,605.4 L288.1,604.8 L287.8,603.9 L287.6,603.4 L287.3,602.4 L287.2,601.4 L287.1,600.9 L287.0,599.9 L287.1,598.9 L287.2,598.4 L287.4,597.4 L287.6,596.9 L288.1,596.2 L288.6,595.7 L289.1,595.4 L290.1,595.0 L291.1,595.0 L292.1,595.2 L292.8,595.4 L293.6,595.8 L294.1,596.1 L294.6,596.4 L295.3,596.9 L295.9,597.4 L296.4,597.9 L296.9,598.4 L297.3,598.9 L297.7,599.4 L298.1,599.9 L298.6,600.6 L299.1,601.3 L299.5,601.9 L299.7,602.4 L300.1,603.1 L300.5,603.9 L300.8,604.4 L301.1,605.1 L301.4,605.9 L301.6,606.4 L302.0,607.4 L302.2,607.9 L302.5,608.9 L302.6,609.9 L302.5,610.9 L302.2,611.9 L301.9,612.4 L301.5,612.9 L300.8,613.4 L300.1,613.8 L299.6,614.0 M298.6,613.5 L297.6,613.5 L297.0,613.4 L296.1,613.2 L295.5,612.9 L294.6,612.4 L294.1,612.1 L293.6,611.8 L293.1,611.3 L292.6,610.9 L292.1,610.4 L291.6,609.8 L291.1,609.2 L290.6,608.6 L290.1,607.9 L289.8,607.4 L289.5,606.9 L289.1,606.1 L288.8,605.4 L288.6,604.9 L288.2,603.9 L288.0,603.4 L287.8,602.4 L287.6,601.4 L287.5,600.9 L287.5,599.9 L287.6,598.9 L287.7,598.4 L288.1,597.4 L288.4,596.9 L288.8,596.4 L289.5,595.9 L290.1,595.7 L291.1,595.6 L292.1,595.7 L292.7,595.9 L293.6,596.3 L294.1,596.6 L294.6,596.9 L295.2,597.4 L295.8,597.9 L296.3,598.4 L296.8,598.9 L297.2,599.4 L297.6,599.9 L298.1,600.5 L298.6,601.3 L299.0,601.9 L299.3,602.4 L299.6,603.0 L300.1,603.9 L300.3,604.4 L300.6,605.1 L300.9,605.9 L301.1,606.4 L301.4,607.4 L301.6,608.1 L301.8,608.9 L301.8,609.9 L301.7,610.9 L301.5,611.4 L301.1,612.1 L300.6,612.6 L300.1,613.0 L299.1,613.4 L298.6,613.5 M299.6,612.4 L298.6,612.8 L297.6,612.9 L296.6,612.7 L295.6,612.4 L295.1,612.2 L294.6,611.9 L293.9,611.4 L293.2,610.9 L292.7,610.4 L292.2,609.9 L291.7,609.4 L291.3,608.9 L290.9,608.4 L290.6,607.9 L290.1,607.1 L289.7,606.4 L289.4,605.9 L289.1,605.2 L288.8,604.4 L288.6,603.9 L288.3,602.9 L288.1,602.0 L288.0,601.4 L288.0,600.4 L288.0,599.4 L288.1,598.9 L288.5,597.9 L288.8,597.4 L289.2,596.9 L290.0,596.4 L290.6,596.2 L291.6,596.2 L292.5,596.4 L293.1,596.6 L293.7,596.9 L294.5,597.4 L295.1,597.8 L295.6,598.3 L296.1,598.7 L296.6,599.3 L297.1,599.9 L297.5,600.4 L297.9,600.9 L298.2,601.4 L298.6,602.0 L299.1,602.9 L299.4,603.4 L299.6,603.9 L300.0,604.9 L300.2,605.4 L300.6,606.4 L300.7,606.9 L301.0,607.9 L301.1,608.7 L301.1,609.4 L301.1,610.0 L300.9,610.9 L300.6,611.4 L300.1,612.0 L299.6,612.4 M298.6,612.1 L297.6,612.3 L296.6,612.2 L295.7,611.9 L295.1,611.6 L294.6,611.4 L293.9,610.9 L293.3,610.4 L292.7,609.9 L292.2,609.4 L291.8,608.9 L291.4,608.4 L291.0,607.9 L290.6,607.3 L290.1,606.4 L289.8,605.9 L289.6,605.4 L289.2,604.4 L289.0,603.9 L288.7,602.9 L288.6,602.4 L288.4,601.4 L288.4,600.4 L288.5,599.4 L288.7,598.9 L289.1,597.9 L289.6,597.4 L290.1,597.0 L290.6,596.8 L291.6,596.7 L292.5,596.9 L293.1,597.1 L293.7,597.4 L294.5,597.9 L295.1,598.4 L295.6,598.8 L296.1,599.3 L296.6,599.8 L297.1,600.4 L297.4,600.9 L297.8,601.4 L298.1,601.9 L298.6,602.7 L298.9,603.4 L299.2,603.9 L299.6,604.9 L299.8,605.4 L300.1,606.4 L300.2,606.9 L300.4,607.9 L300.5,608.9 L300.4,609.9 L300.1,610.8 L299.7,611.4 L299.1,611.9 L298.6,612.1 M298.1,611.5 L297.1,611.7 L296.1,611.5 L295.6,611.3 L294.7,610.9 L294.1,610.5 L293.6,610.1 L293.1,609.7 L292.6,609.2 L292.1,608.7 L291.6,608.1 L291.1,607.4 L290.8,606.9 L290.5,606.4 L290.1,605.7 L289.7,604.9 L289.5,604.4 L289.2,603.4 L289.1,602.9 L288.9,601.9 L288.8,600.9 L288.9,599.9 L289.1,599.2 L289.5,598.4 L289.9,597.9 L290.6,597.5 L291.1,597.3 L292.1,597.3 L292.6,597.5 L293.6,597.8 L294.1,598.1 L294.6,598.5 L295.1,598.9 L295.7,599.4 L296.2,599.9 L296.6,600.4 L297.1,601.0 L297.6,601.8 L298.0,602.4 L298.3,602.9 L298.6,603.5 L299.0,604.4 L299.2,604.9 L299.5,605.9 L299.7,606.4 L299.9,607.4 L300.0,608.4 L299.9,609.4 L299.6,610.3 L299.2,610.9 L298.6,611.3 L298.1,611.5 M297.6,611.0 L296.6,611.0 L296.0,610.9 L295.1,610.6 L294.6,610.3 L294.0,609.9 L293.4,609.4 L292.8,608.9 L292.3,608.4 L291.9,607.9 L291.5,607.4 L291.1,606.7 L290.6,605.9 L290.4,605.4 L290.1,604.8 L289.7,603.9 L289.6,603.4 L289.4,602.4 L289.3,601.4 L289.3,600.4 L289.6,599.4 L289.9,598.9 L290.3,598.4 L291.1,598.0 L291.6,597.9 L292.2,597.9 L293.1,598.1 L293.7,598.4 L294.5,598.9 L295.1,599.4 L295.6,599.8 L296.1,600.4 L296.6,600.9 L296.9,601.4 L297.3,601.9 L297.6,602.4 L298.1,603.3 L298.4,603.9 L298.6,604.5 L298.9,605.4 L299.1,606.0 L299.3,606.9 L299.4,607.9 L299.4,608.9 L299.1,609.7 L298.6,610.4 L298.1,610.8 L297.6,611.0 M296.6,610.4 L296.1,610.4 L295.1,610.0 L294.6,609.8 L294.0,609.4 L293.4,608.9 L292.9,608.4 L292.4,607.9 L292.0,607.4 L291.6,606.9 L291.1,606.1 L290.8,605.4 L290.5,604.9 L290.1,603.9 L290.0,603.4 L289.8,602.4 L289.7,601.4 L289.8,600.4 L290.1,599.6 L290.6,599.0 L291.1,598.6 L292.1,598.4 L293.1,598.6 L293.7,598.9 L294.5,599.4 L295.1,599.9 L295.6,600.4 L296.1,600.9 L296.5,601.4 L296.8,601.9 L297.2,602.4 L297.6,603.2 L298.0,603.9 L298.2,604.4 L298.5,605.4 L298.7,605.9 L298.8,606.9 L298.9,607.9 L298.7,608.9 L298.5,609.4 L298.1,609.9 L297.1,610.4 L296.6,610.4 M297.1,609.7 L296.1,609.8 L295.1,609.5 L294.6,609.2 L294.1,608.9 L293.5,608.4 L292.9,607.9 L292.5,607.4 L292.1,606.9 L291.6,606.2 L291.2,605.4 L290.9,604.9 L290.6,604.1 L290.4,603.4 L290.2,602.4 L290.2,601.4 L290.4,600.4 L290.6,599.9 L291.1,599.4 L292.1,599.0 L293.1,599.2 L293.6,599.4 L294.5,599.9 L295.1,600.4 L295.6,600.9 L296.0,601.4 L296.4,601.9 L296.7,602.4 L297.1,603.0 L297.5,603.9 L297.8,604.4 L298.1,605.4 L298.2,605.9 L298.4,606.9 L298.3,607.9 L298.1,608.7 L297.6,609.4 L297.1,609.7 M296.6,609.0 L295.6,609.0 L295.1,608.9 L294.2,608.4 L293.6,608.0 L293.1,607.5 L292.6,606.9 L292.2,606.4 L291.9,605.9 L291.6,605.4 L291.1,604.4 L291.0,603.9 L290.7,602.9 L290.6,601.9 L290.8,600.9 L291.1,600.3 L291.6,599.9 L292.6,599.7 L293.5,599.9 L294.1,600.2 L294.6,600.5 L295.1,601.0 L295.6,601.5 L296.1,602.1 L296.6,602.9 L296.9,603.4 L297.1,603.9 L297.5,604.9 L297.6,605.4 L297.8,606.4 L297.8,607.4 L297.6,608.1 L297.1,608.8 L296.6,609.0 M296.6,607.9 L295.6,608.2 L294.6,607.9 L294.1,607.6 L293.6,607.2 L293.1,606.7 L292.6,606.1 L292.2,605.4 L291.9,604.9 L291.6,604.2 L291.4,603.4 L291.3,602.4 L291.4,601.4 L291.7,600.9 L292.6,600.5 L293.6,600.7 L294.1,600.9 L294.7,601.4 L295.2,601.9 L295.7,602.4 L296.1,603.0 L296.5,603.9 L296.8,604.4 L297.0,605.4 L297.1,605.9 L297.1,606.9 L296.9,607.4 L296.6,607.9 M295.6,607.1 L294.6,607.0 L294.1,606.7 L293.6,606.3 L293.1,605.8 L292.6,605.0 L292.3,604.4 L292.1,603.7 L292.0,602.9 L292.1,602.2 L292.6,601.5 L293.6,601.5 L294.3,601.9 L294.9,602.4 L295.3,602.9 L295.6,603.4 L296.1,604.4 L296.2,604.9 L296.3,605.9 L296.1,606.8 L295.6,607.1"/><path fill="#8a8a8a" d="M328.0 595.0h0.7v0.7h-0.7zM311.8 575.5h0.7v0.7h-0.7zM334.3 586.4h0.7v0.7h-0.7zM324.2 595.8h0.7v0.7h-0.7zM346.2 606.8h0.7v0.7h-0.7zM303.8 592.4h0.7v0.7h-0.7zM334.5 581.7h0.7v0.7h-0.7zM314.5 597.3h0.7v0.7h-0.7zM297.4 582.6h0.7v0.7h-0.7zM296.1 597.9h0.7v0.7h-0.7zM313.3 651.1h0.7v0.7h-0.7zM321.4 646.9h0.7v0.7h-0.7zM319.0 649.0h0.7v0.7h-0.7zM318.8 628.2h0.7v0.7h-0.7zM334.2 651.8h0.7v0.7h-0.7zM347.2 638.3h0.7v0.7h-0.7zM313.0 622.6h0.7v0.7h-0.7zM273.7 624.3h0.7v0.7h-0.7zM325.8 629.4h0.7v0.7h-0.7zM288.9 647.3h0.7v0.7h-0.7zM312.9 635.7h0.7v0.7h-0.7zM314.8 638.4h0.7v0.7h-0.7zM325.7 619.2h0.7v0.7h-0.7zM317.3 633.9h0.7v0.7h-0.7zM333.6 627.6h0.7v0.7h-0.7zM339.6 647.3h0.7v0.7h-0.7zM339.5 631.5h0.7v0.7h-0.7zM329.7 644.4h0.7v0.7h-0.7zM302.0 636.9h0.7v0.7h-0.7zM314.6 628.4h0.7v0.7h-0.7zM310.8 622.7h0.7v0.7h-0.7zM314.4 644.0h0.7v0.7h-0.7zM310.7 621.2h0.7v0.7h-0.7zM332.5 635.6h0.7v0.7h-0.7zM320.3 637.2h0.7v0.7h-0.7zM313.5 647.2h0.7v0.7h-0.7zM313.6 640.3h0.7v0.7h-0.7zM302.7 620.3h0.7v0.7h-0.7zM315.3 662.9h0.7v0.7h-0.7zM322.2 663.2h0.7v0.7h-0.7z"/><path d="M302.4,570.4V671.2M257.6,626.3H362.6" stroke="#000" stroke-width="1.1" fill="none"/><text x="259.7" y="582.6" font-size="9.6">66.6</text><text x="357.6" y="582.6" font-size="9.6" text-anchor="end">28.0</text><text x="259.7" y="665.7" font-size="9.6">0.40</text><text x="357.6" y="665.7" font-size="9.6" text-anchor="end">4.98</text><path d="M254.6,580.5H257.6M254.6,595.5H257.6M254.6,626.3H257.6M254.6,645.0H257.6M254.6,649.0H257.6M254.6,662.0H257.6M262.6,671.2V673.7M281.6,671.2V673.7M302.2,671.2V673.7M321.6,671.2V673.7M341.6,671.2V673.7M357.6,671.2V673.7" stroke="#000" stroke-width="0.8" fill="none"/><rect x="257.6" y="570.4" width="105.0" height="100.8" fill="none" stroke="#000" stroke-width="1.6"/><path fill="none" stroke="#505050" stroke-width="0.42" d="M376.6,596.1 L377.1,595.7 L377.6,595.3 L378.2,594.9 L379.0,594.4 L379.6,594.0 L380.1,593.8 L380.9,593.4 L381.6,593.1 L382.1,592.9 L383.1,592.5 L383.6,592.3 L384.6,592.0 L385.1,591.9 L386.1,591.6 L387.1,591.4 L387.6,591.3 L388.6,591.1 L389.6,590.9 L390.1,590.9 L391.1,590.7 L392.1,590.6 L393.1,590.6 L394.1,590.5 L395.1,590.5 L396.1,590.5 L397.1,590.5 L398.1,590.5 L399.1,590.5 L400.1,590.5 L401.1,590.6 L402.1,590.6 L403.1,590.7 L404.1,590.7 L405.1,590.8 L406.1,590.8 L407.1,590.9 L408.1,590.9 L408.9,590.9 L409.6,590.9 L410.6,590.9 L411.1,590.9 L412.1,590.9 L413.1,590.9 L414.1,590.9 L415.1,590.9 L416.1,590.9 L417.1,590.9 L418.1,590.9 L419.1,590.9 L420.1,590.9 L420.6,590.9 L421.6,590.9 L422.6,590.9 L423.6,590.9 L424.6,591.0 L425.6,591.0 L426.6,591.0 L427.6,591.0 L428.6,591.0 L429.6,590.9 L430.6,590.9 L431.6,590.9 L432.6,590.9 L433.6,590.9 L434.1,590.9 L434.9,590.9 L435.6,590.9 L436.6,590.9 L437.6,590.9 L438.6,591.0 L439.6,591.0 L440.6,591.1 L441.6,591.2 L442.6,591.3 L443.1,591.4 L444.1,591.5 L445.1,591.7 L446.1,591.9 L446.6,592.0 L447.6,592.2 L448.3,592.4 L449.1,592.6 L450.0,592.9 L450.6,593.1 L451.5,593.4 L452.1,593.6 L452.7,593.9 L453.6,594.3 L454.1,594.5 L454.8,594.9 L455.6,595.4 L456.1,595.7 L456.6,596.0 L457.1,596.4 L457.7,596.9 L458.2,597.4 L458.7,597.9 L459.2,598.4 L459.6,599.0 L460.1,599.8 L460.4,600.4 L460.6,600.9 L460.9,601.9 L461.0,602.9 L461.0,603.9 L460.9,604.9 L460.7,605.9 L460.6,606.4 L460.3,607.4 L460.1,607.9 L459.8,608.9 L459.6,609.6 L459.4,610.4 L459.3,611.4 L459.2,612.4 L459.1,613.0 L458.9,613.9 L458.7,614.9 L458.5,615.4 L458.1,616.4 L457.8,616.9 L457.5,617.4 L457.1,618.0 L456.6,618.7 L456.1,619.2 L455.6,619.8 L455.1,620.3 L454.6,620.7 L454.1,621.1 L453.6,621.5 L453.0,621.9 L452.2,622.4 L451.6,622.8 L451.1,623.1 L450.4,623.4 L449.6,623.8 L449.1,624.0 L448.1,624.3 L447.6,624.5 L446.6,624.8 L446.1,624.9 L445.1,625.2 L444.1,625.4 L443.6,625.4 L442.6,625.6 L441.6,625.7 L440.6,625.7 L439.6,625.8 L438.6,625.8 L437.6,625.7 L436.6,625.7 L435.6,625.6 L434.6,625.4 L434.1,625.4 L433.1,625.2 L432.1,625.0 L431.4,624.9 L430.6,624.7 L429.6,624.5 L428.9,624.4 L428.1,624.2 L427.1,624.0 L426.4,623.9 L425.6,623.8 L424.6,623.6 L423.6,623.5 L423.0,623.4 L422.1,623.3 L421.1,623.2 L420.1,623.2 L419.1,623.1 L418.1,623.1 L417.1,623.0 L416.1,623.0 L415.1,622.9 L414.6,622.9 L413.6,622.9 L412.6,622.8 L411.6,622.8 L410.6,622.7 L409.6,622.6 L408.6,622.6 L407.6,622.5 L406.6,622.4 L406.1,622.4 L405.1,622.3 L404.1,622.2 L403.1,622.2 L402.1,622.3 L401.6,622.4 L400.6,622.7 L400.1,622.9 L399.2,623.4 L398.6,623.8 L398.1,624.1 L397.6,624.4 L396.8,624.9 L396.1,625.3 L395.6,625.5 L394.6,625.9 L394.1,626.0 L393.1,626.2 L392.1,626.3 L391.1,626.2 L390.1,626.0 L389.6,625.8 L388.6,625.4 L388.1,625.1 L387.6,624.8 L387.1,624.4 L386.5,623.9 L386.0,623.4 L385.5,622.9 L385.1,622.4 L384.6,621.8 L384.1,621.1 L383.6,620.4 L383.3,619.9 L383.0,619.4 L382.6,618.7 L382.1,617.9 L381.8,617.4 L381.5,616.9 L381.1,616.2 L380.7,615.4 L380.4,614.9 L380.1,614.3 L379.7,613.4 L379.4,612.9 L379.1,612.3 L378.6,611.4 L378.3,610.9 L377.9,610.4 L377.6,609.9 L377.1,609.3 L376.6,608.7 M376.6,599.2 L377.1,598.4 L377.4,597.9 L377.9,597.4 L378.4,596.9 L378.9,596.4 L379.6,595.9 L380.1,595.5 L380.6,595.2 L381.2,594.9 L382.1,594.4 L382.6,594.2 L383.3,593.9 L384.1,593.6 L384.6,593.4 L385.6,593.1 L386.2,592.9 L387.1,592.7 L388.1,592.4 L388.6,592.3 L389.6,592.2 L390.6,592.0 L391.6,591.9 L392.1,591.8 L393.1,591.7 L394.1,591.7 L395.1,591.6 L396.1,591.6 L397.1,591.6 L398.1,591.7 L399.1,591.7 L400.1,591.7 L401.1,591.8 L402.1,591.9 L402.6,591.9 L403.6,592.0 L404.6,592.1 L405.6,592.1 L406.6,592.2 L407.6,592.2 L408.6,592.2 L409.6,592.3 L410.6,592.3 L411.6,592.3 L412.6,592.3 L413.6,592.3 L414.6,592.3 L415.6,592.2 L416.6,592.2 L417.6,592.3 L418.6,592.3 L419.6,592.3 L420.6,592.3 L421.6,592.3 L422.6,592.3 L423.6,592.3 L424.6,592.4 L425.6,592.4 L426.6,592.4 L427.6,592.4 L428.6,592.3 L429.6,592.3 L430.6,592.3 L431.6,592.3 L432.6,592.3 L433.6,592.3 L434.6,592.2 L435.6,592.3 L436.6,592.3 L437.6,592.3 L438.6,592.4 L439.2,592.4 L440.1,592.5 L441.1,592.5 L442.1,592.7 L443.1,592.8 L443.6,592.9 L444.6,593.1 L445.6,593.3 L446.2,593.4 L447.1,593.6 L448.0,593.9 L448.6,594.1 L449.5,594.4 L450.1,594.6 L450.8,594.9 L451.6,595.2 L452.1,595.5 L452.9,595.9 L453.6,596.3 L454.1,596.7 L454.6,597.0 L455.1,597.4 L455.6,597.9 L456.1,598.4 L456.6,599.0 L457.1,599.7 L457.5,600.4 L457.7,600.9 L458.0,601.9 L458.1,602.9 L458.0,603.9 L457.8,604.9 L457.6,605.4 L457.1,606.4 L456.9,606.9 L456.6,607.4 L456.1,608.1 L455.6,608.8 L455.2,609.4 L454.9,609.9 L454.6,610.5 L454.2,611.4 L454.0,611.9 L453.8,612.9 L453.6,613.9 L453.5,614.4 L453.3,615.4 L453.1,615.9 L452.7,616.9 L452.4,617.4 L452.0,617.9 L451.6,618.4 L451.1,619.0 L450.6,619.4 L450.0,619.9 L449.3,620.4 L448.6,620.8 L448.1,621.1 L447.5,621.4 L446.6,621.8 L446.1,622.0 L445.1,622.3 L444.6,622.5 L443.6,622.7 L442.6,622.9 L442.1,622.9 L441.1,623.1 L440.1,623.1 L439.1,623.1 L438.1,623.1 L437.1,623.1 L436.1,623.0 L435.5,622.9 L434.6,622.8 L433.6,622.6 L432.6,622.4 L432.1,622.3 L431.1,622.1 L430.4,621.9 L429.6,621.7 L428.6,621.5 L428.1,621.4 L427.1,621.1 L426.1,620.9 L425.6,620.8 L424.6,620.7 L423.6,620.5 L422.6,620.4 L422.1,620.4 L421.1,620.3 L420.1,620.2 L419.1,620.2 L418.1,620.1 L417.1,620.1 L416.1,620.0 L415.1,620.0 L414.1,619.9 L413.6,619.9 L412.6,619.8 L411.6,619.8 L410.6,619.7 L409.6,619.6 L408.6,619.5 L407.7,619.4 L407.1,619.3 L406.1,619.2 L405.1,619.1 L404.1,619.0 L403.1,619.0 L402.1,619.0 L401.1,619.2 L400.6,619.4 L399.6,619.9 L399.1,620.2 L398.6,620.6 L398.1,621.0 L397.6,621.4 L396.9,621.9 L396.2,622.4 L395.6,622.8 L395.1,623.1 L394.3,623.4 L393.6,623.6 L392.6,623.8 L391.6,623.8 L390.6,623.6 L390.1,623.4 L389.1,622.9 L388.6,622.6 L388.1,622.2 L387.6,621.8 L387.1,621.2 L386.6,620.6 L386.1,619.9 L385.8,619.4 L385.6,618.9 L385.1,617.9 L385.0,617.4 L384.7,616.4 L384.5,615.9 L384.3,614.9 L384.2,613.9 L384.1,613.1 L384.0,612.4 L383.6,611.5 L383.2,610.9 L382.7,610.4 L382.2,609.9 L381.6,609.5 L381.1,609.1 L380.6,608.7 L380.1,608.3 L379.6,607.9 L379.0,607.4 L378.5,606.9 L378.0,606.4 L377.6,605.9 L377.1,605.2 L376.6,604.4 M393.6,621.5 L392.6,621.7 L391.6,621.7 L390.6,621.4 L390.1,621.2 L389.6,620.9 L389.0,620.4 L388.5,619.9 L388.1,619.4 L387.6,618.6 L387.2,617.9 L387.0,617.4 L386.8,616.4 L386.6,615.5 L386.5,614.9 L386.5,613.9 L386.5,612.9 L386.4,611.9 L386.1,611.2 L385.6,610.5 L385.1,610.1 L384.6,609.7 L384.1,609.3 L383.5,608.9 L382.7,608.4 L382.1,608.0 L381.6,607.6 L381.1,607.3 L380.6,606.9 L380.1,606.4 L379.6,605.9 L379.1,605.4 L378.6,604.7 L378.2,603.9 L377.9,603.4 L377.7,602.4 L377.6,601.4 L377.8,600.4 L378.1,599.6 L378.5,598.9 L378.8,598.4 L379.2,597.9 L379.7,597.4 L380.2,596.9 L380.9,596.4 L381.6,595.9 L382.1,595.6 L382.6,595.3 L383.4,594.9 L384.1,594.6 L384.6,594.4 L385.6,594.0 L386.1,593.9 L387.1,593.6 L387.9,593.4 L388.6,593.2 L389.6,593.0 L390.4,592.9 L391.1,592.8 L392.1,592.7 L393.1,592.6 L394.1,592.5 L395.1,592.5 L396.1,592.5 L397.1,592.5 L398.1,592.5 L399.1,592.5 L400.1,592.6 L401.1,592.7 L402.1,592.8 L403.1,592.9 L403.6,592.9 L404.6,593.0 L405.6,593.1 L406.6,593.1 L407.6,593.2 L408.6,593.2 L409.6,593.3 L410.6,593.3 L411.6,593.3 L412.6,593.3 L413.6,593.3 L414.6,593.3 L415.6,593.3 L416.6,593.3 L417.6,593.3 L418.6,593.3 L419.6,593.3 L420.6,593.3 L421.6,593.3 L422.6,593.4 L423.6,593.4 L424.6,593.4 L425.6,593.4 L426.6,593.4 L427.6,593.4 L428.6,593.3 L429.6,593.3 L430.6,593.3 L431.6,593.3 L432.6,593.2 L433.6,593.2 L434.6,593.2 L435.6,593.2 L436.6,593.2 L437.6,593.3 L438.6,593.3 L439.4,593.4 L440.1,593.5 L441.1,593.6 L442.1,593.7 L443.1,593.8 L443.6,593.9 L444.6,594.1 L445.6,594.4 L446.1,594.5 L447.1,594.8 L447.6,594.9 L448.6,595.3 L449.1,595.5 L450.1,595.9 L450.6,596.2 L451.1,596.4 L451.9,596.9 L452.6,597.3 L453.1,597.7 L453.6,598.1 L454.1,598.6 L454.6,599.2 L455.1,599.9 L455.4,600.4 L455.6,600.9 L455.9,601.9 L456.0,602.9 L455.9,603.9 L455.6,604.8 L455.4,605.4 L455.1,605.9 L454.6,606.6 L454.1,607.3 L453.6,607.9 L453.1,608.4 L452.7,608.9 L452.2,609.4 L451.7,609.9 L451.3,610.4 L450.9,610.9 L450.5,611.4 L450.1,612.2 L449.8,612.9 L449.6,613.9 L449.5,614.4 L449.2,615.4 L449.0,615.9 L448.6,616.7 L448.1,617.4 L447.7,617.9 L447.1,618.4 L446.6,618.8 L446.1,619.1 L445.6,619.4 L444.6,619.8 L444.1,620.0 L443.1,620.4 L442.6,620.5 L441.6,620.7 L440.6,620.8 L439.6,620.9 L438.6,620.9 L437.6,620.8 L436.6,620.8 L435.6,620.6 L434.6,620.4 L434.1,620.3 L433.1,620.1 L432.2,619.9 L431.6,619.7 L430.6,619.5 L430.1,619.3 L429.1,619.0 L428.6,618.9 L427.6,618.7 L426.6,618.4 L426.1,618.3 L425.1,618.1 L424.1,618.0 L423.6,617.9 L422.6,617.8 L421.6,617.7 L420.6,617.6 L419.6,617.6 L418.6,617.5 L417.6,617.5 L416.6,617.4 L416.1,617.4 L415.1,617.3 L414.1,617.2 L413.1,617.2 L412.1,617.1 L411.1,617.0 L410.6,616.9 L409.6,616.8 L408.6,616.6 L407.6,616.4 L407.1,616.3 L406.1,616.2 L405.1,615.9 L404.6,615.8 L403.6,615.7 L402.6,615.6 L401.6,615.6 L400.6,615.8 L400.1,616.1 L399.6,616.4 L399.1,616.9 L398.6,617.4 L398.1,617.9 L397.6,618.5 L397.1,619.0 L396.6,619.5 L396.1,620.0 L395.6,620.4 L394.8,620.9 L394.1,621.3 L393.6,621.5 M392.6,619.4 L391.7,619.4 L391.1,619.2 L390.5,618.9 L389.9,618.4 L389.5,617.9 L389.1,617.2 L388.8,616.4 L388.6,615.4 L388.6,614.9 L388.6,614.1 L388.7,613.4 L388.7,612.4 L388.6,611.7 L388.2,610.9 L387.8,610.4 L387.2,609.9 L386.6,609.5 L386.1,609.2 L385.6,608.9 L384.8,608.4 L384.1,608.0 L383.6,607.7 L383.1,607.4 L382.4,606.9 L381.7,606.4 L381.2,605.9 L380.7,605.4 L380.2,604.9 L379.9,604.4 L379.6,603.9 L379.2,602.9 L379.0,602.4 L379.0,601.4 L379.1,600.6 L379.3,599.9 L379.6,599.3 L380.1,598.5 L380.6,598.0 L381.1,597.5 L381.6,597.0 L382.1,596.7 L382.6,596.3 L383.3,595.9 L384.1,595.5 L384.6,595.3 L385.5,594.9 L386.1,594.7 L387.0,594.4 L387.6,594.2 L388.6,594.0 L389.1,593.8 L390.1,593.6 L391.1,593.5 L391.8,593.4 L392.6,593.3 L393.6,593.2 L394.6,593.2 L395.6,593.1 L396.6,593.1 L397.6,593.2 L398.6,593.2 L399.6,593.3 L400.6,593.4 L401.1,593.4 L402.1,593.5 L403.1,593.6 L404.1,593.7 L405.1,593.8 L406.1,593.9 L406.6,593.9 L407.6,594.0 L408.6,594.0 L409.6,594.1 L410.6,594.1 L411.6,594.1 L412.6,594.1 L413.6,594.1 L414.6,594.1 L415.6,594.1 L416.6,594.1 L417.6,594.1 L418.6,594.1 L419.6,594.1 L420.6,594.2 L421.6,594.2 L422.6,594.2 L423.6,594.2 L424.6,594.2 L425.6,594.2 L426.6,594.2 L427.6,594.2 L428.6,594.2 L429.6,594.2 L430.6,594.1 L431.6,594.1 L432.6,594.1 L433.6,594.0 L434.6,594.0 L435.6,594.0 L436.6,594.1 L437.6,594.1 L438.6,594.1 L439.6,594.2 L440.6,594.3 L441.1,594.4 L442.1,594.5 L443.1,594.7 L444.0,594.9 L444.6,595.0 L445.6,595.3 L446.1,595.4 L447.1,595.8 L447.6,595.9 L448.6,596.3 L449.1,596.6 L449.7,596.9 L450.6,597.4 L451.1,597.7 L451.6,598.1 L452.1,598.5 L452.6,599.0 L453.1,599.5 L453.6,600.3 L453.9,600.9 L454.1,601.4 L454.3,602.4 L454.3,603.4 L454.1,604.1 L453.8,604.9 L453.5,605.4 L453.1,606.0 L452.6,606.7 L452.1,607.2 L451.6,607.7 L451.1,608.2 L450.6,608.6 L450.1,609.0 L449.6,609.4 L448.9,609.9 L448.3,610.4 L447.7,610.9 L447.1,611.4 L446.7,611.9 L446.3,612.4 L446.0,612.9 L445.6,613.7 L445.3,614.4 L445.1,614.9 L444.6,615.8 L444.1,616.4 L443.6,616.9 L443.1,617.2 L442.6,617.5 L441.6,617.9 L441.1,618.0 L440.1,618.2 L439.1,618.3 L438.1,618.3 L437.1,618.3 L436.1,618.1 L435.1,617.9 L434.6,617.8 L433.6,617.5 L433.1,617.4 L432.1,617.0 L431.6,616.9 L430.6,616.5 L430.1,616.3 L429.1,616.0 L428.6,615.8 L427.6,615.5 L427.1,615.4 L426.1,615.2 L425.1,615.0 L424.5,614.9 L423.6,614.8 L422.6,614.7 L421.6,614.6 L420.6,614.6 L419.6,614.5 L418.6,614.5 L417.6,614.4 L417.1,614.4 L416.1,614.3 L415.1,614.2 L414.1,614.1 L413.1,614.0 L412.4,613.9 L411.6,613.8 L410.6,613.6 L409.6,613.4 L409.1,613.3 L408.1,613.1 L407.2,612.9 L406.6,612.8 L405.6,612.6 L404.8,612.4 L404.1,612.3 L403.1,612.2 L402.1,612.1 L401.1,612.0 L400.1,612.1 L399.1,612.3 L398.6,612.5 L397.9,612.9 L397.5,613.4 L397.1,614.2 L396.8,614.9 L396.6,615.5 L396.2,616.4 L395.9,616.9 L395.6,617.4 L395.1,618.0 L394.6,618.5 L394.0,618.9 L393.1,619.3 L392.6,619.4 M438.6,613.5 L437.6,613.6 L436.6,613.7 L435.6,613.6 L434.6,613.4 L434.1,613.3 L433.1,613.1 L432.2,612.9 L431.6,612.8 L430.6,612.6 L429.7,612.4 L429.1,612.3 L428.1,612.2 L427.1,612.0 L426.1,611.9 L425.6,611.9 L424.6,611.8 L423.6,611.7 L422.6,611.7 L421.6,611.7 L420.6,611.6 L419.6,611.6 L418.6,611.6 L417.6,611.6 L416.6,611.5 L415.6,611.5 L414.6,611.4 L414.1,611.4 L413.1,611.3 L412.1,611.2 L411.1,611.1 L410.1,611.0 L409.1,610.9 L408.6,610.8 L407.6,610.8 L406.6,610.7 L405.6,610.6 L404.6,610.5 L403.6,610.5 L402.6,610.5 L401.6,610.4 L400.6,610.5 L399.6,610.5 L398.6,610.6 L397.6,610.7 L396.6,610.9 L396.1,611.0 L395.1,611.2 L394.2,611.4 L393.6,611.6 L392.6,611.6 L392.1,611.4 L391.3,610.9 L390.6,610.5 L390.1,610.2 L389.6,609.9 L388.6,609.4 L388.1,609.2 L387.6,608.9 L386.6,608.4 L386.1,608.1 L385.6,607.9 L384.8,607.4 L384.1,607.0 L383.6,606.7 L383.1,606.3 L382.6,605.9 L382.0,605.4 L381.5,604.9 L381.1,604.4 L380.6,603.5 L380.3,602.9 L380.1,601.9 L380.2,600.9 L380.5,599.9 L380.7,599.4 L381.1,598.9 L381.6,598.2 L382.1,597.8 L382.6,597.3 L383.2,596.9 L384.0,596.4 L384.6,596.1 L385.1,595.8 L386.1,595.4 L386.6,595.2 L387.6,594.9 L388.1,594.7 L389.1,594.5 L389.6,594.4 L390.6,594.2 L391.6,594.0 L392.6,593.9 L393.1,593.9 L394.1,593.8 L395.1,593.7 L396.1,593.7 L397.1,593.7 L398.1,593.8 L399.1,593.8 L399.8,593.9 L400.6,594.0 L401.6,594.1 L402.6,594.2 L403.6,594.3 L404.4,594.4 L405.1,594.5 L406.1,594.6 L407.1,594.7 L408.1,594.7 L409.1,594.8 L410.1,594.8 L411.1,594.9 L412.1,594.9 L413.1,594.9 L414.1,594.9 L415.1,594.9 L416.1,594.9 L417.1,594.9 L418.1,594.9 L418.6,594.9 L419.6,594.9 L420.6,594.9 L421.6,595.0 L422.6,595.0 L423.6,595.0 L424.6,595.0 L425.6,595.0 L426.6,595.0 L427.6,595.0 L428.6,594.9 L429.6,594.9 L430.1,594.9 L431.1,594.8 L432.1,594.8 L433.1,594.8 L434.1,594.8 L435.1,594.8 L436.1,594.8 L437.1,594.8 L438.1,594.8 L438.8,594.9 L439.6,595.0 L440.6,595.1 L441.6,595.2 L442.6,595.4 L443.1,595.5 L444.1,595.7 L444.8,595.9 L445.6,596.1 L446.4,596.4 L447.1,596.7 L447.6,596.9 L448.6,597.4 L449.1,597.6 L449.6,597.9 L450.3,598.4 L450.9,598.9 L451.4,599.4 L451.8,599.9 L452.1,600.4 L452.6,601.4 L452.7,601.9 L452.8,602.9 L452.6,603.9 L452.5,604.4 L452.1,605.1 L451.6,605.8 L451.1,606.4 L450.6,606.9 L450.1,607.3 L449.6,607.7 L449.1,608.1 L448.6,608.4 L447.9,608.9 L447.1,609.4 L446.6,609.7 L446.1,609.9 L445.2,610.4 L444.6,610.7 L444.1,611.0 L443.3,611.4 L442.6,611.8 L442.1,612.0 L441.3,612.4 L440.6,612.7 L440.1,613.0 L439.1,613.3 L438.6,613.5 M439.6,610.9 L438.6,611.1 L437.6,611.2 L436.6,611.3 L435.6,611.3 L434.6,611.2 L433.6,611.2 L432.6,611.1 L431.6,611.0 L431.1,610.9 L430.1,610.8 L429.1,610.7 L428.1,610.6 L427.1,610.5 L426.4,610.4 L425.6,610.3 L424.6,610.3 L423.6,610.2 L422.6,610.2 L421.6,610.2 L420.6,610.2 L419.6,610.2 L418.6,610.2 L417.6,610.1 L416.6,610.1 L415.6,610.1 L414.6,610.0 L413.6,610.0 L412.6,609.9 L412.1,609.9 L411.1,609.8 L410.1,609.8 L409.1,609.7 L408.1,609.6 L407.1,609.6 L406.1,609.6 L405.1,609.5 L404.1,609.5 L403.1,609.6 L402.1,609.6 L401.1,609.6 L400.1,609.7 L399.1,609.7 L398.1,609.8 L397.1,609.8 L396.1,609.9 L395.6,609.9 L394.6,610.0 L393.6,609.9 L393.1,609.9 L392.1,609.7 L391.1,609.5 L390.6,609.3 L389.6,609.0 L389.1,608.8 L388.3,608.4 L387.6,608.1 L387.1,607.9 L386.1,607.4 L385.6,607.1 L385.1,606.8 L384.4,606.4 L383.7,605.9 L383.1,605.4 L382.6,605.0 L382.1,604.4 L381.8,603.9 L381.5,603.4 L381.1,602.4 L381.0,601.9 L381.1,600.9 L381.2,600.4 L381.6,599.6 L382.0,598.9 L382.5,598.4 L383.0,597.9 L383.6,597.4 L384.1,597.1 L384.6,596.7 L385.2,596.4 L386.1,596.0 L386.6,595.8 L387.6,595.4 L388.1,595.3 L389.1,595.0 L389.6,594.9 L390.6,594.7 L391.6,594.5 L392.4,594.4 L393.1,594.3 L394.1,594.2 L395.1,594.2 L396.1,594.2 L397.1,594.2 L398.1,594.2 L399.1,594.3 L400.0,594.4 L400.6,594.5 L401.6,594.6 L402.6,594.7 L403.6,594.8 L404.2,594.9 L405.1,595.0 L406.1,595.1 L407.1,595.2 L408.1,595.3 L409.1,595.4 L409.6,595.4 L410.6,595.5 L411.6,595.5 L412.6,595.5 L413.6,595.5 L414.6,595.5 L415.6,595.5 L416.6,595.5 L417.6,595.5 L418.6,595.5 L419.6,595.5 L420.6,595.5 L421.6,595.6 L422.6,595.6 L423.6,595.6 L424.6,595.6 L425.6,595.6 L426.6,595.6 L427.6,595.6 L428.6,595.5 L429.6,595.5 L430.6,595.5 L431.6,595.4 L432.1,595.4 L433.1,595.4 L434.1,595.3 L435.1,595.3 L436.1,595.3 L437.1,595.4 L437.6,595.4 L438.6,595.5 L439.6,595.5 L440.6,595.7 L441.6,595.8 L442.1,595.9 L443.1,596.1 L444.1,596.4 L444.6,596.5 L445.6,596.8 L446.1,597.0 L447.0,597.4 L447.6,597.7 L448.1,598.0 L448.8,598.4 L449.5,598.9 L450.1,599.4 L450.5,599.9 L450.9,600.4 L451.2,600.9 L451.5,601.9 L451.6,602.4 L451.6,603.0 L451.4,603.9 L451.1,604.6 L450.6,605.4 L450.2,605.9 L449.7,606.4 L449.1,606.9 L448.6,607.3 L448.1,607.6 L447.6,607.9 L446.8,608.4 L446.1,608.8 L445.6,609.0 L444.7,609.4 L444.1,609.7 L443.4,609.9 L442.6,610.2 L441.9,610.4 L441.1,610.6 L440.1,610.9 L439.6,610.9 M439.6,610.0 L438.6,610.1 L437.6,610.2 L436.6,610.2 L435.6,610.2 L434.6,610.2 L433.6,610.1 L432.6,610.1 L431.6,610.0 L430.9,609.9 L430.1,609.8 L429.1,609.7 L428.1,609.6 L427.1,609.5 L426.1,609.4 L425.6,609.4 L424.6,609.3 L423.6,609.3 L422.6,609.3 L421.6,609.2 L420.6,609.2 L419.6,609.2 L418.6,609.2 L417.6,609.2 L416.6,609.2 L415.6,609.2 L414.6,609.1 L413.6,609.1 L412.6,609.0 L411.6,609.0 L410.6,608.9 L410.1,608.9 L409.1,608.9 L408.1,608.8 L407.1,608.8 L406.1,608.8 L405.1,608.8 L404.1,608.9 L403.1,608.9 L402.6,608.9 L401.6,609.0 L400.6,609.0 L399.6,609.1 L398.6,609.1 L397.6,609.2 L396.6,609.2 L395.6,609.3 L394.6,609.3 L393.6,609.2 L392.6,609.1 L391.7,608.9 L391.1,608.8 L390.1,608.5 L389.6,608.3 L388.6,607.9 L388.1,607.7 L387.3,607.4 L386.6,607.1 L386.1,606.8 L385.4,606.4 L384.6,605.9 L384.1,605.5 L383.6,605.1 L383.1,604.6 L382.6,603.9 L382.3,603.4 L382.0,602.9 L381.8,601.9 L381.9,600.9 L382.1,600.1 L382.5,599.4 L382.8,598.9 L383.3,598.4 L383.9,597.9 L384.5,597.4 L385.1,597.0 L385.6,596.8 L386.3,596.4 L387.1,596.1 L387.6,595.9 L388.6,595.6 L389.2,595.4 L390.1,595.2 L391.1,595.0 L391.6,594.9 L392.6,594.8 L393.6,594.7 L394.6,594.6 L395.6,594.6 L396.6,594.6 L397.6,594.6 L398.6,594.7 L399.6,594.8 L400.6,594.9 L401.1,594.9 L402.1,595.0 L403.1,595.2 L404.1,595.3 L404.6,595.4 L405.6,595.5 L406.6,595.7 L407.6,595.8 L408.6,595.9 L409.1,595.9 L410.1,596.0 L411.1,596.0 L412.1,596.0 L413.1,596.0 L414.1,596.0 L415.1,596.0 L416.1,596.0 L417.1,596.0 L418.1,596.0 L419.1,596.1 L420.1,596.1 L421.1,596.1 L422.1,596.1 L423.1,596.1 L424.1,596.1 L425.1,596.1 L426.1,596.1 L427.1,596.1 L428.1,596.1 L429.1,596.0 L430.1,596.0 L431.1,595.9 L432.0,595.9 L432.6,595.9 L433.6,595.8 L434.6,595.8 L435.6,595.8 L436.6,595.8 L437.6,595.9 L438.1,595.9 L439.1,596.0 L440.1,596.1 L441.1,596.3 L441.9,596.4 L442.6,596.5 L443.6,596.8 L444.1,596.9 L445.1,597.3 L445.6,597.5 L446.6,597.9 L447.1,598.2 L447.6,598.4 L448.3,598.9 L448.9,599.4 L449.4,599.9 L449.8,600.4 L450.1,600.9 L450.5,601.9 L450.6,602.9 L450.4,603.9 L450.1,604.5 L449.6,605.2 L449.1,605.8 L448.6,606.3 L448.1,606.7 L447.6,607.0 L447.0,607.4 L446.1,607.9 L445.6,608.1 L445.0,608.4 L444.1,608.8 L443.6,609.0 L442.6,609.3 L442.1,609.4 L441.1,609.7 L440.1,609.9 L439.6,610.0 M440.1,609.0 L439.1,609.1 L438.1,609.2 L437.1,609.3 L436.1,609.3 L435.1,609.3 L434.1,609.3 L433.1,609.2 L432.1,609.1 L431.1,609.0 L430.2,608.9 L429.6,608.8 L428.6,608.7 L427.6,608.6 L426.6,608.5 L425.6,608.5 L424.7,608.4 L424.1,608.4 L423.1,608.3 L422.1,608.3 L421.1,608.3 L420.1,608.3 L419.1,608.3 L418.1,608.3 L417.1,608.3 L416.1,608.3 L415.1,608.2 L414.1,608.2 L413.1,608.2 L412.1,608.1 L411.1,608.1 L410.1,608.0 L409.1,608.0 L408.1,608.0 L407.1,608.0 L406.1,608.0 L405.1,608.1 L404.1,608.2 L403.1,608.2 L402.1,608.3 L401.1,608.4 L400.6,608.4 L399.6,608.5 L398.6,608.5 L397.6,608.6 L396.6,608.6 L395.6,608.6 L394.6,608.6 L393.6,608.5 L392.6,608.4 L392.1,608.3 L391.1,608.1 L390.4,607.9 L389.6,607.7 L388.8,607.4 L388.1,607.1 L387.6,606.9 L386.6,606.4 L386.1,606.1 L385.6,605.8 L385.0,605.4 L384.4,604.9 L383.9,604.4 L383.5,603.9 L383.1,603.3 L382.8,602.4 L382.7,601.4 L382.9,600.4 L383.1,599.9 L383.6,599.1 L384.1,598.6 L384.6,598.1 L385.1,597.7 L385.6,597.4 L386.5,596.9 L387.1,596.6 L387.7,596.4 L388.6,596.1 L389.2,595.9 L390.1,595.7 L391.1,595.4 L391.6,595.4 L392.6,595.2 L393.6,595.1 L394.6,595.0 L395.6,595.0 L396.6,595.0 L397.6,595.1 L398.6,595.1 L399.6,595.2 L400.6,595.3 L401.1,595.4 L402.1,595.5 L403.1,595.7 L404.1,595.9 L404.6,595.9 L405.6,596.1 L406.6,596.2 L407.6,596.4 L408.1,596.4 L409.1,596.5 L410.1,596.6 L411.1,596.6 L412.1,596.6 L413.1,596.6 L414.1,596.6 L415.1,596.6 L416.1,596.6 L417.1,596.7 L418.1,596.7 L419.1,596.7 L420.1,596.7 L421.1,596.7 L422.1,596.7 L423.1,596.8 L424.1,596.8 L425.1,596.8 L426.1,596.7 L427.1,596.7 L428.1,596.7 L429.1,596.6 L430.1,596.6 L431.1,596.5 L432.1,596.5 L433.1,596.4 L434.1,596.4 L434.6,596.4 L435.6,596.4 L436.1,596.4 L437.1,596.4 L438.1,596.5 L439.1,596.6 L440.1,596.7 L441.1,596.9 L441.6,597.0 L442.6,597.2 L443.4,597.4 L444.1,597.6 L444.8,597.9 L445.6,598.2 L446.1,598.5 L446.8,598.9 L447.5,599.4 L448.1,599.9 L448.6,600.4 L448.9,600.9 L449.2,601.4 L449.4,602.4 L449.3,603.4 L449.1,604.0 L448.6,604.8 L448.1,605.4 L447.6,605.9 L447.1,606.3 L446.6,606.6 L446.1,606.9 L445.2,607.4 L444.6,607.7 L444.0,607.9 L443.1,608.2 L442.6,608.4 L441.6,608.7 L440.6,608.9 L440.1,609.0 M439.1,608.4 L438.1,608.5 L437.1,608.6 L436.1,608.6 L435.1,608.6 L434.1,608.5 L433.1,608.5 L432.3,608.4 L431.6,608.3 L430.6,608.2 L429.6,608.1 L428.6,608.0 L427.7,607.9 L427.1,607.8 L426.1,607.7 L425.1,607.7 L424.1,607.6 L423.1,607.6 L422.1,607.6 L421.1,607.5 L420.1,607.5 L419.1,607.5 L418.1,607.5 L417.1,607.5 L416.1,607.5 L415.1,607.5 L414.1,607.5 L413.1,607.4 L412.6,607.4 L411.6,607.4 L410.6,607.3 L409.6,607.3 L408.6,607.3 L407.6,607.3 L406.6,607.4 L406.1,607.4 L405.1,607.5 L404.1,607.6 L403.1,607.7 L402.1,607.8 L401.1,607.9 L400.5,607.9 L399.6,608.0 L398.6,608.0 L397.6,608.1 L396.6,608.1 L395.6,608.1 L394.6,608.1 L393.6,608.0 L392.8,607.9 L392.1,607.8 L391.1,607.6 L390.4,607.4 L389.6,607.2 L388.9,606.9 L388.1,606.6 L387.6,606.3 L386.8,605.9 L386.1,605.5 L385.6,605.1 L385.1,604.7 L384.6,604.2 L384.1,603.6 L383.7,602.9 L383.5,602.4 L383.4,601.4 L383.6,600.5 L383.9,599.9 L384.2,599.4 L384.6,598.9 L385.1,598.4 L385.8,597.9 L386.6,597.4 L387.1,597.2 L387.7,596.9 L388.6,596.5 L389.1,596.4 L390.1,596.1 L390.9,595.9 L391.6,595.8 L392.6,595.6 L393.6,595.5 L394.6,595.4 L395.6,595.4 L396.6,595.4 L397.6,595.4 L398.6,595.5 L399.6,595.6 L400.6,595.7 L401.6,595.9 L402.1,596.0 L403.1,596.1 L404.1,596.3 L404.6,596.4 L405.6,596.6 L406.6,596.7 L407.6,596.9 L408.1,596.9 L409.1,597.0 L410.1,597.1 L411.1,597.2 L412.1,597.2 L413.1,597.2 L414.1,597.2 L415.1,597.2 L416.1,597.2 L417.1,597.2 L418.1,597.2 L419.1,597.3 L420.1,597.3 L421.1,597.3 L422.1,597.3 L423.1,597.3 L424.1,597.3 L425.1,597.3 L426.1,597.3 L427.1,597.3 L428.1,597.2 L429.1,597.2 L430.1,597.1 L431.1,597.1 L432.1,597.0 L433.1,597.0 L434.1,596.9 L435.1,596.9 L436.1,596.9 L437.1,596.9 L438.1,597.0 L439.1,597.1 L440.1,597.2 L441.0,597.4 L441.6,597.5 L442.6,597.8 L443.1,597.9 L444.1,598.3 L444.6,598.5 L445.5,598.9 L446.1,599.3 L446.6,599.6 L447.1,600.1 L447.6,600.6 L448.1,601.4 L448.3,601.9 L448.3,602.9 L448.1,603.7 L447.8,604.4 L447.4,604.9 L446.9,605.4 L446.3,605.9 L445.6,606.3 L445.1,606.6 L444.5,606.9 L443.6,607.3 L443.1,607.5 L442.1,607.8 L441.6,607.9 L440.6,608.2 L439.6,608.3 L439.1,608.4 M438.1,607.9 L437.1,608.0 L436.1,608.0 L435.1,608.0 L434.1,607.9 L433.5,607.9 L432.6,607.8 L431.6,607.7 L430.6,607.6 L429.6,607.5 L428.9,607.4 L428.1,607.3 L427.1,607.2 L426.1,607.1 L425.1,607.0 L424.1,606.9 L423.1,606.9 L422.6,606.9 L421.6,606.9 L420.6,606.9 L419.6,606.9 L418.6,606.9 L417.6,606.9 L416.6,606.8 L415.6,606.8 L414.6,606.8 L413.6,606.8 L412.6,606.7 L411.6,606.7 L410.6,606.7 L409.6,606.7 L408.6,606.7 L407.6,606.8 L406.6,606.8 L405.7,606.9 L405.1,607.0 L404.1,607.1 L403.1,607.2 L402.1,607.3 L401.2,607.4 L400.6,607.5 L399.6,607.6 L398.6,607.6 L397.6,607.7 L396.6,607.7 L395.6,607.7 L394.6,607.7 L393.6,607.6 L392.6,607.4 L392.1,607.4 L391.1,607.1 L390.3,606.9 L389.6,606.7 L388.8,606.4 L388.1,606.1 L387.6,605.8 L386.8,605.4 L386.1,604.9 L385.6,604.5 L385.1,604.0 L384.7,603.4 L384.4,602.9 L384.1,601.9 L384.1,601.4 L384.2,600.9 L384.6,599.9 L384.9,599.4 L385.4,598.9 L385.9,598.4 L386.6,597.9 L387.1,597.6 L387.6,597.4 L388.6,597.0 L389.1,596.8 L390.1,596.5 L390.6,596.3 L391.6,596.1 L392.6,596.0 L393.1,595.9 L394.1,595.8 L395.1,595.8 L396.1,595.7 L397.1,595.8 L398.1,595.8 L398.9,595.9 L399.6,596.0 L400.6,596.1 L401.6,596.3 L402.4,596.4 L403.1,596.5 L404.1,596.7 L404.9,596.9 L405.6,597.0 L406.6,597.2 L407.6,597.4 L408.1,597.4 L409.1,597.6 L410.1,597.6 L411.1,597.7 L412.1,597.7 L413.1,597.7 L414.1,597.8 L415.1,597.8 L416.1,597.8 L417.1,597.8 L418.1,597.8 L419.1,597.8 L420.1,597.8 L421.1,597.9 L422.1,597.9 L423.1,597.9 L424.1,597.9 L425.1,597.9 L426.1,597.9 L427.1,597.8 L428.1,597.8 L429.1,597.7 L430.1,597.6 L431.1,597.5 L432.1,597.5 L433.1,597.4 L433.8,597.4 L434.6,597.4 L435.6,597.4 L436.6,597.4 L437.1,597.4 L438.1,597.5 L439.1,597.6 L440.1,597.7 L441.0,597.9 L441.6,598.0 L442.6,598.3 L443.1,598.5 L444.1,598.9 L444.6,599.2 L445.1,599.4 L445.8,599.9 L446.3,600.4 L446.8,600.9 L447.1,601.5 L447.4,602.4 L447.2,603.4 L447.0,603.9 L446.6,604.5 L446.1,605.1 L445.6,605.5 L445.0,605.9 L444.1,606.4 L443.6,606.6 L442.9,606.9 L442.1,607.2 L441.2,607.4 L440.6,607.6 L439.6,607.7 L438.6,607.9 L438.1,607.9 M437.6,607.4 L436.6,607.5 L435.6,607.5 L434.6,607.4 L434.1,607.4 L433.1,607.3 L432.1,607.2 L431.1,607.1 L430.1,607.0 L429.6,606.9 L428.6,606.8 L427.6,606.6 L426.6,606.5 L425.6,606.4 L425.1,606.4 L424.1,606.3 L423.1,606.3 L422.1,606.3 L421.1,606.2 L420.1,606.2 L419.1,606.2 L418.1,606.2 L417.1,606.2 L416.1,606.2 L415.1,606.2 L414.1,606.2 L413.1,606.2 L412.1,606.1 L411.1,606.1 L410.1,606.1 L409.1,606.1 L408.1,606.2 L407.1,606.3 L406.1,606.4 L405.6,606.4 L404.6,606.5 L403.6,606.7 L402.6,606.8 L402.0,606.9 L401.1,607.0 L400.1,607.1 L399.1,607.2 L398.1,607.3 L397.1,607.3 L396.1,607.3 L395.1,607.3 L394.1,607.3 L393.1,607.1 L392.1,607.0 L391.6,606.9 L390.6,606.6 L390.0,606.4 L389.1,606.1 L388.6,605.9 L387.7,605.4 L387.1,605.0 L386.6,604.7 L386.1,604.3 L385.6,603.7 L385.1,603.0 L384.8,602.4 L384.7,601.4 L385.0,600.4 L385.2,599.9 L385.6,599.4 L386.1,598.9 L386.7,598.4 L387.5,597.9 L388.1,597.6 L388.6,597.4 L389.6,597.0 L390.1,596.8 L391.1,596.6 L391.9,596.4 L392.6,596.3 L393.6,596.2 L394.6,596.1 L395.6,596.1 L396.6,596.1 L397.6,596.1 L398.6,596.2 L399.6,596.3 L400.3,596.4 L401.1,596.5 L402.1,596.7 L403.0,596.9 L403.6,597.0 L404.6,597.2 L405.3,597.4 L406.1,597.6 L407.1,597.8 L408.0,597.9 L408.6,598.0 L409.6,598.1 L410.6,598.2 L411.6,598.2 L412.6,598.3 L413.6,598.3 L414.6,598.3 L415.6,598.3 L416.6,598.3 L417.6,598.3 L418.6,598.3 L419.6,598.4 L420.6,598.4 L421.5,598.4 L422.1,598.4 L423.1,598.4 L424.1,598.4 L425.1,598.4 L425.6,598.4 L426.6,598.4 L427.6,598.3 L428.6,598.2 L429.6,598.1 L430.6,598.1 L431.6,598.0 L432.6,597.9 L433.1,597.9 L434.1,597.8 L435.1,597.8 L436.1,597.8 L437.1,597.9 L437.7,597.9 L438.6,598.0 L439.6,598.1 L440.6,598.3 L441.1,598.4 L442.1,598.7 L442.7,598.9 L443.6,599.3 L444.1,599.6 L444.7,599.9 L445.3,600.4 L445.8,600.9 L446.1,601.4 L446.4,602.4 L446.3,603.4 L446.0,603.9 L445.6,604.5 L445.1,605.0 L444.5,605.4 L443.7,605.9 L443.1,606.2 L442.6,606.4 L441.6,606.7 L440.9,606.9 L440.1,607.1 L439.1,607.3 L438.1,607.4 L437.6,607.4 M437.6,606.9 L436.6,607.0 L435.6,607.0 L434.6,606.9 L434.1,606.9 L433.1,606.8 L432.1,606.7 L431.1,606.6 L430.1,606.4 L429.6,606.4 L428.6,606.2 L427.6,606.1 L426.6,605.9 L426.1,605.9 L425.1,605.8 L424.1,605.7 L423.1,605.7 L422.1,605.6 L421.1,605.6 L420.1,605.6 L419.1,605.6 L418.1,605.6 L417.1,605.6 L416.1,605.6 L415.1,605.6 L414.1,605.6 L413.1,605.5 L412.1,605.5 L411.1,605.5 L410.1,605.5 L409.1,605.6 L408.1,605.6 L407.1,605.7 L406.1,605.9 L405.6,605.9 L404.6,606.1 L403.6,606.3 L402.8,606.4 L402.1,606.5 L401.1,606.6 L400.1,606.8 L399.1,606.9 L398.6,606.9 L397.6,607.0 L396.6,607.0 L395.6,607.0 L394.6,607.0 L394.0,606.9 L393.1,606.8 L392.1,606.6 L391.2,606.4 L390.6,606.2 L389.6,605.9 L389.1,605.7 L388.5,605.4 L387.6,604.9 L387.1,604.5 L386.6,604.1 L386.1,603.6 L385.6,602.9 L385.4,602.4 L385.3,601.4 L385.5,600.4 L385.8,599.9 L386.2,599.4 L386.7,598.9 L387.4,598.4 L388.1,598.0 L388.6,597.7 L389.4,597.4 L390.1,597.2 L391.1,596.9 L391.6,596.8 L392.6,596.6 L393.6,596.5 L394.4,596.4 L395.1,596.4 L396.1,596.4 L397.1,596.4 L397.6,596.4 L398.6,596.5 L399.6,596.6 L400.6,596.8 L401.3,596.9 L402.1,597.1 L403.1,597.3 L403.6,597.4 L404.6,597.6 L405.6,597.9 L406.1,598.0 L407.1,598.2 L408.1,598.4 L408.6,598.5 L409.6,598.6 L410.6,598.7 L411.6,598.8 L412.6,598.8 L413.6,598.8 L414.6,598.8 L415.6,598.8 L416.6,598.8 L417.6,598.9 L418.6,598.9 L419.6,598.9 L420.1,598.9 L421.1,598.9 L422.1,599.0 L423.1,599.0 L424.1,599.0 L425.1,599.0 L426.1,598.9 L426.6,598.9 L427.6,598.8 L428.6,598.7 L429.6,598.6 L430.6,598.5 L431.6,598.4 L432.1,598.4 L433.1,598.3 L434.1,598.3 L435.1,598.2 L436.1,598.3 L437.1,598.3 L438.1,598.4 L438.6,598.4 L439.6,598.6 L440.6,598.8 L441.1,598.9 L442.1,599.2 L442.6,599.4 L443.5,599.9 L444.1,600.3 L444.6,600.7 L445.1,601.3 L445.4,601.9 L445.5,602.9 L445.1,603.8 L444.7,604.4 L444.1,604.9 L443.6,605.2 L443.1,605.5 L442.3,605.9 L441.6,606.2 L440.8,606.4 L440.1,606.6 L439.1,606.7 L438.1,606.9 L437.6,606.9 M437.6,606.4 L436.6,606.5 L435.6,606.5 L434.6,606.4 L433.9,606.4 L433.1,606.3 L432.1,606.2 L431.1,606.1 L430.1,605.9 L429.6,605.8 L428.6,605.6 L427.6,605.5 L427.1,605.4 L426.1,605.3 L425.1,605.2 L424.1,605.1 L423.1,605.0 L422.1,605.0 L421.1,605.0 L420.1,605.0 L419.1,605.0 L418.1,605.0 L417.1,605.0 L416.1,605.0 L415.1,605.0 L414.1,605.0 L413.1,604.9 L412.1,604.9 L411.1,604.9 L410.1,604.9 L409.1,605.0 L408.1,605.1 L407.1,605.2 L406.1,605.4 L405.6,605.5 L404.6,605.7 L403.6,605.9 L403.1,606.0 L402.1,606.1 L401.1,606.3 L400.4,606.4 L399.6,606.5 L398.6,606.6 L397.6,606.7 L396.6,606.7 L395.6,606.7 L394.6,606.6 L393.6,606.5 L392.7,606.4 L392.1,606.3 L391.1,606.0 L390.6,605.9 L389.6,605.5 L389.1,605.3 L388.3,604.9 L387.6,604.4 L387.1,604.0 L386.6,603.5 L386.2,602.9 L386.0,602.4 L385.8,601.4 L386.1,600.4 L386.4,599.9 L386.8,599.4 L387.4,598.9 L388.1,598.4 L388.6,598.1 L389.1,597.9 L390.1,597.5 L390.6,597.3 L391.6,597.1 L392.5,596.9 L393.1,596.8 L394.1,596.7 L395.1,596.6 L396.1,596.6 L397.1,596.7 L398.1,596.7 L399.1,596.8 L399.6,596.9 L400.6,597.1 L401.6,597.3 L402.2,597.4 L403.1,597.6 L404.1,597.9 L404.6,598.0 L405.6,598.3 L406.1,598.4 L407.1,598.7 L408.1,598.9 L408.6,599.0 L409.6,599.2 L410.6,599.3 L411.6,599.3 L412.6,599.4 L413.6,599.4 L414.6,599.4 L415.3,599.4 L416.1,599.4 L417.1,599.4 L418.1,599.4 L419.1,599.5 L420.1,599.5 L421.1,599.5 L422.1,599.6 L423.1,599.6 L424.1,599.6 L425.1,599.5 L426.1,599.5 L426.9,599.4 L427.6,599.3 L428.6,599.2 L429.6,599.1 L430.6,599.0 L431.6,598.9 L432.1,598.9 L433.1,598.8 L434.1,598.7 L435.1,598.7 L436.1,598.7 L437.1,598.7 L438.1,598.8 L438.8,598.9 L439.6,599.0 L440.6,599.3 L441.1,599.4 L442.1,599.8 L442.6,600.1 L443.2,600.4 L443.8,600.9 L444.2,601.4 L444.6,602.4 L444.4,603.4 L444.1,603.9 L443.6,604.4 L443.0,604.9 L442.1,605.4 L441.6,605.6 L440.6,605.9 L440.1,606.0 L439.1,606.2 L438.1,606.4 L437.6,606.4 M400.6,606.0 L399.6,606.1 L398.6,606.2 L397.6,606.3 L396.6,606.3 L395.6,606.3 L394.6,606.3 L393.6,606.2 L392.6,606.0 L392.1,605.9 L391.1,605.6 L390.4,605.4 L389.6,605.1 L389.1,604.8 L388.4,604.4 L387.7,603.9 L387.2,603.4 L386.9,602.9 L386.6,602.2 L386.5,601.4 L386.6,600.9 L387.1,599.9 L387.6,599.4 L388.1,599.0 L388.6,598.6 L389.1,598.3 L390.1,597.9 L390.6,597.7 L391.6,597.4 L392.1,597.3 L393.1,597.1 L394.1,597.0 L395.1,597.0 L396.1,597.0 L397.1,597.0 L398.1,597.1 L399.1,597.2 L400.1,597.3 L400.6,597.4 L401.6,597.7 L402.6,597.9 L403.1,598.0 L404.1,598.3 L404.6,598.5 L405.6,598.8 L406.1,599.0 L407.1,599.3 L407.6,599.4 L408.6,599.7 L409.6,599.9 L410.1,600.0 L411.1,600.1 L412.1,600.2 L413.1,600.2 L414.1,600.2 L415.1,600.2 L416.1,600.3 L417.1,600.3 L418.1,600.3 L419.1,600.3 L420.1,600.4 L421.0,600.4 L421.6,600.4 L422.6,600.4 L423.6,600.4 L424.5,600.4 L425.1,600.4 L426.1,600.3 L427.1,600.2 L428.1,600.0 L428.8,599.9 L429.6,599.8 L430.6,599.6 L431.6,599.5 L432.4,599.4 L433.1,599.3 L434.1,599.3 L435.1,599.2 L436.1,599.2 L437.1,599.3 L438.1,599.4 L438.6,599.4 L439.6,599.7 L440.5,599.9 L441.1,600.1 L441.7,600.4 L442.4,600.9 L443.0,601.4 L443.3,601.9 L443.4,602.9 L443.1,603.5 L442.6,604.1 L442.1,604.5 L441.4,604.9 L440.6,605.2 L440.0,605.4 L439.1,605.6 L438.1,605.8 L437.1,605.9 L436.1,605.9 L435.1,605.9 L434.1,605.8 L433.1,605.7 L432.1,605.6 L431.1,605.4 L430.6,605.3 L429.6,605.1 L428.6,604.9 L428.1,604.8 L427.1,604.6 L426.1,604.4 L425.6,604.3 L424.6,604.2 L423.6,604.1 L422.6,604.1 L421.6,604.0 L420.6,604.1 L419.6,604.1 L418.6,604.1 L417.6,604.1 L416.6,604.1 L415.6,604.1 L414.6,604.1 L413.6,604.0 L412.6,604.0 L411.6,604.0 L410.6,604.1 L409.6,604.2 L408.6,604.3 L408.1,604.4 L407.1,604.6 L406.1,604.8 L405.6,604.9 L404.6,605.2 L403.6,605.4 L403.1,605.5 L402.1,605.7 L401.1,605.9 L400.6,606.0 M398.1,605.9 L397.1,606.0 L396.1,606.0 L395.1,606.0 L394.2,605.9 L393.6,605.8 L392.6,605.7 L391.6,605.4 L391.1,605.3 L390.2,604.9 L389.6,604.6 L389.1,604.3 L388.5,603.9 L387.9,603.4 L387.5,602.9 L387.1,601.9 L387.2,600.9 L387.6,600.1 L388.1,599.6 L388.6,599.1 L389.1,598.8 L389.9,598.4 L390.6,598.1 L391.2,597.9 L392.1,597.7 L393.1,597.5 L393.7,597.4 L394.6,597.3 L395.6,597.3 L396.6,597.3 L397.6,597.3 L398.2,597.4 L399.1,597.5 L400.1,597.7 L401.0,597.9 L401.6,598.0 L402.6,598.3 L403.1,598.5 L404.1,598.8 L404.6,599.0 L405.6,599.4 L406.1,599.6 L406.9,599.9 L407.6,600.2 L408.2,600.4 L409.1,600.8 L409.6,601.0 L410.6,601.3 L411.1,601.4 L412.1,601.7 L413.1,601.8 L414.1,601.9 L415.1,601.9 L416.1,601.9 L417.1,601.9 L417.6,602.3 L417.6,602.4 L416.6,602.4 L415.6,602.5 L414.6,602.4 L413.6,602.4 L412.6,602.4 L411.6,602.5 L410.6,602.8 L410.1,602.9 L409.1,603.2 L408.5,603.4 L407.6,603.7 L406.9,603.9 L406.1,604.2 L405.4,604.4 L404.6,604.6 L403.6,604.9 L403.1,605.0 L402.1,605.3 L401.6,605.4 L400.6,605.6 L399.6,605.7 L398.6,605.9 L398.1,605.9 M439.1,604.9 L438.1,605.1 L437.1,605.2 L436.1,605.3 L435.1,605.3 L434.1,605.2 L433.1,605.0 L432.2,604.9 L431.6,604.8 L430.6,604.5 L430.0,604.4 L429.1,604.1 L428.3,603.9 L427.6,603.6 L426.8,603.4 L426.1,603.1 L425.5,602.9 L424.6,602.4 L424.6,602.4 L425.1,601.9 L426.1,601.5 L426.6,601.4 L427.6,601.1 L428.2,600.9 L429.1,600.7 L430.1,600.5 L430.6,600.4 L431.6,600.2 L432.6,600.0 L433.6,599.9 L434.1,599.9 L435.1,599.8 L436.1,599.8 L437.1,599.9 L437.6,599.9 L438.6,600.1 L439.6,600.3 L440.1,600.5 L440.9,600.9 L441.6,601.4 L442.0,601.9 L442.1,602.4 L442.1,602.9 L441.6,603.7 L441.1,604.1 L440.6,604.4 L439.6,604.8 L439.1,604.9 M399.1,605.5 L398.1,605.6 L397.1,605.7 L396.1,605.7 L395.1,605.6 L394.1,605.6 L393.1,605.4 L392.6,605.3 L391.6,605.0 L391.1,604.9 L390.1,604.4 L389.6,604.2 L389.1,603.8 L388.6,603.4 L388.1,602.8 L387.7,601.9 L387.8,600.9 L388.1,600.3 L388.6,599.7 L389.1,599.3 L389.8,598.9 L390.6,598.5 L391.1,598.3 L392.1,598.0 L392.6,597.9 L393.6,597.7 L394.6,597.6 L395.6,597.6 L396.6,597.6 L397.6,597.7 L398.6,597.8 L399.4,597.9 L400.1,598.0 L401.1,598.3 L401.6,598.4 L402.6,598.7 L403.1,598.9 L404.1,599.3 L404.6,599.6 L405.3,599.9 L406.1,600.3 L406.6,600.7 L407.1,601.1 L407.6,601.8 L407.6,602.1 L407.1,602.7 L406.6,603.1 L406.1,603.4 L405.1,603.8 L404.6,604.0 L403.6,604.4 L403.1,604.6 L402.1,604.9 L401.6,605.0 L400.6,605.2 L399.6,605.4 L399.1,605.5 M437.6,604.5 L436.6,604.6 L435.6,604.6 L434.6,604.5 L433.7,604.4 L433.1,604.3 L432.1,604.0 L431.6,603.9 L430.6,603.5 L430.1,603.2 L429.6,602.8 L429.6,602.0 L430.1,601.6 L430.6,601.4 L431.6,601.0 L432.1,600.9 L433.1,600.7 L434.1,600.6 L435.1,600.5 L436.1,600.5 L437.1,600.5 L438.1,600.7 L438.8,600.9 L439.6,601.2 L440.1,601.6 L440.6,602.2 L440.6,602.9 L440.3,603.4 L439.6,603.9 L439.1,604.1 L438.1,604.4 L437.6,604.5 M400.1,604.9 L399.1,605.1 L398.1,605.3 L397.1,605.3 L396.1,605.4 L395.1,605.3 L394.1,605.2 L393.1,605.1 L392.4,604.9 L391.6,604.7 L390.9,604.4 L390.1,604.0 L389.6,603.6 L389.1,603.2 L388.6,602.5 L388.4,601.9 L388.4,600.9 L388.7,600.4 L389.1,599.9 L389.7,599.4 L390.6,598.9 L391.1,598.7 L391.9,598.4 L392.6,598.2 L393.6,598.0 L394.6,597.9 L395.1,597.9 L396.1,597.9 L396.7,597.9 L397.6,598.0 L398.6,598.1 L399.6,598.3 L400.1,598.4 L401.1,598.7 L401.8,598.9 L402.6,599.2 L403.1,599.4 L404.1,599.9 L404.6,600.2 L405.1,600.6 L405.6,601.1 L405.9,601.9 L405.6,602.6 L405.1,603.0 L404.5,603.4 L403.6,603.9 L403.1,604.1 L402.2,604.4 L401.6,604.6 L400.6,604.8 L400.1,604.9 M437.6,603.4 L436.6,603.6 L435.6,603.6 L434.6,603.5 L434.0,603.4 L433.1,603.0 L432.7,602.4 L433.1,601.9 L434.1,601.6 L435.0,601.4 L435.6,601.4 L436.5,601.4 L437.1,601.5 L438.1,601.9 L438.6,602.4 L438.6,602.4 L438.1,603.2 L437.6,603.4 M398.1,604.9 L397.1,605.0 L396.1,605.0 L395.1,605.0 L394.1,604.9 L393.6,604.8 L392.6,604.6 L391.9,604.4 L391.1,604.1 L390.6,603.8 L390.0,603.4 L389.5,602.9 L389.1,602.3 L388.9,601.4 L389.1,600.8 L389.6,600.1 L390.1,599.7 L390.6,599.3 L391.5,598.9 L392.1,598.7 L393.1,598.4 L393.6,598.4 L394.6,598.2 L395.6,598.2 L396.6,598.2 L397.6,598.3 L398.5,598.4 L399.1,598.5 L400.1,598.7 L400.6,598.9 L401.6,599.2 L402.1,599.5 L403.0,599.9 L403.6,600.3 L404.1,600.7 L404.6,601.4 L404.6,601.9 L404.5,602.4 L404.0,602.9 L403.3,603.4 L402.6,603.7 L402.1,604.0 L401.1,604.3 L400.6,604.4 L399.6,604.7 L398.6,604.9 L398.1,604.9 M399.1,604.4 L398.1,604.6 L397.1,604.7 L396.1,604.7 L395.1,604.7 L394.1,604.6 L393.1,604.4 L392.6,604.2 L391.6,603.9 L391.1,603.6 L390.6,603.3 L390.1,602.9 L389.6,602.0 L389.5,601.4 L389.7,600.9 L390.1,600.3 L390.6,599.8 L391.3,599.4 L392.1,599.1 L392.6,598.9 L393.6,598.7 L394.6,598.5 L395.6,598.5 L396.6,598.5 L397.6,598.6 L398.6,598.7 L399.3,598.9 L400.1,599.1 L400.9,599.4 L401.6,599.7 L402.1,600.0 L402.7,600.4 L403.2,600.9 L403.6,601.9 L403.1,602.7 L402.6,603.1 L402.1,603.4 L401.1,603.9 L400.6,604.0 L399.6,604.3 L399.1,604.4 M399.6,603.9 L398.6,604.2 L397.6,604.3 L396.6,604.4 L395.6,604.4 L394.6,604.3 L393.6,604.1 L392.7,603.9 L392.1,603.7 L391.5,603.4 L390.8,602.9 L390.4,602.4 L390.2,601.4 L390.6,600.5 L391.1,600.0 L391.6,599.7 L392.3,599.4 L393.1,599.1 L394.1,598.9 L394.6,598.9 L395.6,598.8 L396.6,598.8 L397.5,598.9 L398.1,599.0 L399.1,599.2 L399.7,599.4 L400.6,599.7 L401.1,600.0 L401.8,600.4 L402.3,600.9 L402.6,601.9 L402.1,602.7 L401.6,603.1 L401.0,603.4 L400.1,603.8 L399.6,603.9 M397.6,604.0 L396.6,604.0 L395.6,604.0 L394.6,604.0 L394.1,603.9 L393.1,603.6 L392.5,603.4 L391.6,602.9 L391.1,602.4 L390.9,601.9 L391.0,600.9 L391.4,600.4 L392.1,599.9 L392.6,599.7 L393.5,599.4 L394.1,599.3 L395.1,599.2 L396.1,599.1 L397.1,599.2 L398.1,599.4 L398.6,599.5 L399.6,599.8 L400.1,600.0 L400.8,600.4 L401.4,600.9 L401.6,601.4 L401.6,602.0 L401.1,602.7 L400.6,603.0 L399.8,603.4 L399.1,603.6 L398.1,603.9 L397.6,604.0 M397.6,603.5 L396.6,603.6 L395.6,603.6 L394.6,603.5 L394.0,603.4 L393.1,603.1 L392.6,602.8 L392.1,602.4 L391.7,601.4 L392.1,600.7 L392.6,600.3 L393.5,599.9 L394.1,599.8 L395.1,599.6 L396.1,599.6 L397.1,599.7 L398.1,599.8 L398.6,600.0 L399.5,600.4 L400.1,600.8 L400.5,601.4 L400.2,602.4 L399.6,602.8 L399.1,603.0 L398.1,603.4 L397.6,603.5 M397.6,602.9 L396.6,603.1 L395.6,603.1 L394.6,603.0 L394.1,602.8 L393.3,602.4 L392.8,601.9 L393.1,600.9 L393.6,600.6 L394.1,600.3 L395.1,600.1 L396.1,600.1 L397.1,600.2 L397.9,600.4 L398.6,600.7 L399.1,601.2 L399.2,601.9 L398.8,602.4 L398.1,602.7 L397.6,602.9"/><path fill="#8a8a8a" d="M419.9 634.5h0.7v0.7h-0.7zM430.3 627.3h0.7v0.7h-0.7zM455.1 628.1h0.7v0.7h-0.7zM413.4 620.0h0.7v0.7h-0.7zM424.5 638.3h0.7v0.7h-0.7zM446.3 636.0h0.7v0.7h-0.7zM428.9 630.1h0.7v0.7h-0.7zM407.5 632.4h0.7v0.7h-0.7zM420.8 628.0h0.7v0.7h-0.7zM408.4 636.1h0.7v0.7h-0.7zM421.1 632.8h0.7v0.7h-0.7zM397.7 634.9h0.7v0.7h-0.7zM421.7 640.9h0.7v0.7h-0.7zM417.7 638.3h0.7v0.7h-0.7zM385.6 642.3h0.7v0.7h-0.7zM384.4 633.0h0.7v0.7h-0.7zM408.2 630.4h0.7v0.7h-0.7zM408.9 630.6h0.7v0.7h-0.7zM418.8 634.6h0.7v0.7h-0.7zM443.7 639.4h0.7v0.7h-0.7zM458.5 635.6h0.7v0.7h-0.7zM397.1 644.9h0.7v0.7h-0.7zM429.9 620.6h0.7v0.7h-0.7zM434.9 632.6h0.7v0.7h-0.7zM399.6 630.3h0.7v0.7h-0.7zM418.0 629.2h0.7v0.7h-0.7zM422.3 632.4h0.7v0.7h-0.7zM412.3 635.6h0.7v0.7h-0.7zM424.7 641.3h0.7v0.7h-0.7zM428.3 628.6h0.7v0.7h-0.7zM417.6 641.9h0.7v0.7h-0.7zM458.2 629.4h0.7v0.7h-0.7zM433.5 631.1h0.7v0.7h-0.7zM411.0 625.8h0.7v0.7h-0.7zM378.3 632.0h0.7v0.7h-0.7zM423.2 635.9h0.7v0.7h-0.7zM396.5 632.2h0.7v0.7h-0.7zM420.1 632.6h0.7v0.7h-0.7zM419.5 636.3h0.7v0.7h-0.7zM394.8 638.5h0.7v0.7h-0.7zM399.6 633.3h0.7v0.7h-0.7zM394.0 627.3h0.7v0.7h-0.7zM408.7 633.5h0.7v0.7h-0.7zM389.1 637.2h0.7v0.7h-0.7zM406.0 633.7h0.7v0.7h-0.7zM398.9 629.9h0.7v0.7h-0.7zM415.2 626.3h0.7v0.7h-0.7zM432.3 626.7h0.7v0.7h-0.7zM425.7 627.4h0.7v0.7h-0.7zM410.5 629.6h0.7v0.7h-0.7zM445.1 641.7h0.7v0.7h-0.7zM405.5 635.4h0.7v0.7h-0.7zM421.7 636.9h0.7v0.7h-0.7zM441.3 642.3h0.7v0.7h-0.7zM418.4 624.2h0.7v0.7h-0.7zM433.1 631.3h0.7v0.7h-0.7zM412.9 639.5h0.7v0.7h-0.7zM453.9 633.8h0.7v0.7h-0.7zM447.1 635.6h0.7v0.7h-0.7zM436.6 632.8h0.7v0.7h-0.7zM449.7 630.4h0.7v0.7h-0.7zM418.8 638.1h0.7v0.7h-0.7zM394.0 635.3h0.7v0.7h-0.7zM428.3 637.6h0.7v0.7h-0.7zM459.0 622.9h0.7v0.7h-0.7zM440.6 635.2h0.7v0.7h-0.7zM445.6 636.9h0.7v0.7h-0.7zM401.6 630.7h0.7v0.7h-0.7zM393.4 639.7h0.7v0.7h-0.7zM402.4 635.0h0.7v0.7h-0.7zM411.6 623.1h0.7v0.7h-0.7zM409.0 632.5h0.7v0.7h-0.7zM451.8 632.2h0.7v0.7h-0.7zM389.6 630.6h0.7v0.7h-0.7zM436.7 636.3h0.7v0.7h-0.7zM430.2 636.8h0.7v0.7h-0.7zM397.7 638.0h0.7v0.7h-0.7zM425.6 623.0h0.7v0.7h-0.7zM402.6 640.0h0.7v0.7h-0.7zM404.2 631.6h0.7v0.7h-0.7zM418.6 634.3h0.7v0.7h-0.7zM417.2 636.4h0.7v0.7h-0.7zM399.8 626.2h0.7v0.7h-0.7zM417.7 633.3h0.7v0.7h-0.7zM442.0 644.2h0.7v0.7h-0.7zM430.9 638.2h0.7v0.7h-0.7zM460.3 638.0h0.7v0.7h-0.7zM436.0 629.3h0.7v0.7h-0.7zM410.0 630.1h0.7v0.7h-0.7zM410.8 639.1h0.7v0.7h-0.7zM435.9 634.0h0.7v0.7h-0.7zM432.6 628.0h0.7v0.7h-0.7zM421.3 632.4h0.7v0.7h-0.7zM434.7 623.4h0.7v0.7h-0.7zM387.9 640.4h0.7v0.7h-0.7zM393.5 629.7h0.7v0.7h-0.7zM407.7 634.9h0.7v0.7h-0.7zM450.3 633.3h0.7v0.7h-0.7zM441.0 635.9h0.7v0.7h-0.7zM405.3 642.0h0.7v0.7h-0.7zM444.1 632.0h0.7v0.7h-0.7zM414.7 628.6h0.7v0.7h-0.7zM445.4 619.2h0.7v0.7h-0.7zM404.1 644.3h0.7v0.7h-0.7zM459.0 629.4h0.7v0.7h-0.7zM404.1 641.2h0.7v0.7h-0.7zM395.4 634.0h0.7v0.7h-0.7zM400.8 636.6h0.7v0.7h-0.7zM426.6 643.5h0.7v0.7h-0.7zM396.8 632.3h0.7v0.7h-0.7zM412.9 647.7h0.7v0.7h-0.7zM413.7 665.8h0.7v0.7h-0.7zM408.9 643.6h0.7v0.7h-0.7zM443.7 659.5h0.7v0.7h-0.7zM425.9 651.0h0.7v0.7h-0.7zM390.6 637.5h0.7v0.7h-0.7zM428.9 651.8h0.7v0.7h-0.7zM435.3 649.9h0.7v0.7h-0.7zM441.8 645.3h0.7v0.7h-0.7zM413.8 643.6h0.7v0.7h-0.7zM390.3 640.2h0.7v0.7h-0.7zM403.0 650.8h0.7v0.7h-0.7zM472.4 639.2h0.7v0.7h-0.7zM413.9 645.0h0.7v0.7h-0.7zM453.2 663.0h0.7v0.7h-0.7zM447.9 650.5h0.7v0.7h-0.7zM430.5 642.2h0.7v0.7h-0.7zM437.9 650.6h0.7v0.7h-0.7zM426.7 640.0h0.7v0.7h-0.7zM429.1 646.0h0.7v0.7h-0.7zM406.2 656.5h0.7v0.7h-0.7zM423.5 651.9h0.7v0.7h-0.7zM397.9 643.4h0.7v0.7h-0.7zM407.8 638.1h0.7v0.7h-0.7zM428.4 645.0h0.7v0.7h-0.7z"/><path d="M421.2,570.4V671.2M376.6,626.3H481.6" stroke="#000" stroke-width="1.1" fill="none"/><text x="378.7" y="582.6" font-size="9.6">60.5</text><text x="476.6" y="582.6" font-size="9.6" text-anchor="end">34.7</text><text x="378.7" y="665.7" font-size="9.6">1.58</text><text x="476.6" y="665.7" font-size="9.6" text-anchor="end">3.15</text><path d="M373.6,580.5H376.6M373.6,595.5H376.6M373.6,626.3H376.6M373.6,645.0H376.6M373.6,649.0H376.6M373.6,662.0H376.6M381.6,671.2V673.7M400.6,671.2V673.7M421.2,671.2V673.7M440.6,671.2V673.7M460.6,671.2V673.7M476.6,671.2V673.7" stroke="#000" stroke-width="0.8" fill="none"/><rect x="376.6" y="570.4" width="105.0" height="100.8" fill="none" stroke="#000" stroke-width="1.6"/><path d="M4.9,682.1 V670 M4.9,682.1 H19.5" stroke="#000" stroke-width="1.1" fill="none"/><path d="M1.3,671.9 L4.9,665.3 L8.5,671.9 Z M18.9,678.6 L25,682.1 L18.9,685.6 Z" fill="#000"/><text transform="translate(8.4 644.9) rotate(-90)" font-size="10" text-anchor="middle" textLength="27.9" lengthAdjust="spacingAndGlyphs">TNF-α</text><text x="30.7" y="686.2" font-size="9.4" textLength="22.9" lengthAdjust="spacingAndGlyphs">IFN-γ</text>
<line x1="539.0" y1="569.5" x2="539.0" y2="672.3" stroke="#000" stroke-width="1.8"/>
<line x1="538.1" y1="671.4" x2="672.5" y2="671.4" stroke="#000" stroke-width="1.8"/>
<line x1="534.0" y1="671.4" x2="539.0" y2="671.4" stroke="#000" stroke-width="1.5"/>
<text x="531.7" y="674.6" font-size="8.8" text-anchor="end" textLength="5.2" lengthAdjust="spacingAndGlyphs">0</text>
<line x1="534.0" y1="651.2" x2="539.0" y2="651.2" stroke="#000" stroke-width="1.5"/>
<text x="531.7" y="654.4" font-size="8.8" text-anchor="end" textLength="10.3" lengthAdjust="spacingAndGlyphs">10</text>
<line x1="534.0" y1="631.0" x2="539.0" y2="631.0" stroke="#000" stroke-width="1.5"/>
<text x="531.7" y="634.2" font-size="8.8" text-anchor="end" textLength="10.3" lengthAdjust="spacingAndGlyphs">20</text>
<line x1="534.0" y1="610.7" x2="539.0" y2="610.7" stroke="#000" stroke-width="1.5"/>
<text x="531.7" y="613.9" font-size="8.8" text-anchor="end" textLength="10.3" lengthAdjust="spacingAndGlyphs">30</text>
<line x1="534.0" y1="590.5" x2="539.0" y2="590.5" stroke="#000" stroke-width="1.5"/>
<text x="531.7" y="593.7" font-size="8.8" text-anchor="end" textLength="10.3" lengthAdjust="spacingAndGlyphs">40</text>
<line x1="534.0" y1="570.3" x2="539.0" y2="570.3" stroke="#000" stroke-width="1.5"/>
<text x="531.7" y="573.5" font-size="8.8" text-anchor="end" textLength="10.3" lengthAdjust="spacingAndGlyphs">50</text>
<line x1="605.7" y1="671.4" x2="605.7" y2="675.8" stroke="#000" stroke-width="1.5"/>
<text x="605.7" y="688.2" font-size="9.7" text-anchor="middle">CD8</text>
<text transform="translate(503 622.5) rotate(-90)" font-size="9.6" text-anchor="middle" textLength="60.8" lengthAdjust="spacingAndGlyphs">Percentage of</text>
<text transform="translate(516 622.4) rotate(-90)" font-size="9.3" text-anchor="middle" textLength="81.6" lengthAdjust="spacingAndGlyphs">TNF-α<tspan font-size="6" dy="-3.5">+</tspan><tspan dy="3.5">IFN-γ</tspan><tspan font-size="6" dy="-3.5">+</tspan><tspan dy="3.5"> Cells</tspan></text>
<line x1="559.6" y1="664.3" x2="559.6" y2="659.3" stroke="#7d44a6" stroke-width="1.5"/>
<line x1="554.1" y1="659.3" x2="565.1" y2="659.3" stroke="#7d44a6" stroke-width="1.5"/>
<rect x="549.4" y="664.3" width="20.4" height="7.1" fill="#9a6db8"/>
<line x1="590.5" y1="635.0" x2="590.5" y2="620.9" stroke="#8cd25a" stroke-width="1.5"/>
<line x1="585.0" y1="620.9" x2="595.9" y2="620.9" stroke="#8cd25a" stroke-width="1.5"/>
<rect x="580.3" y="635.0" width="20.3" height="36.4" fill="#95d668"/>
<line x1="621.3" y1="615.8" x2="621.3" y2="607.7" stroke="#5f95cc" stroke-width="1.5"/>
<line x1="615.8" y1="607.7" x2="626.8" y2="607.7" stroke="#5f95cc" stroke-width="1.5"/>
<rect x="611.1" y="615.8" width="20.4" height="55.6" fill="#6399cf"/>
<line x1="652.0" y1="589.5" x2="652.0" y2="578.4" stroke="#e0323a" stroke-width="1.5"/>
<line x1="646.5" y1="578.4" x2="657.4" y2="578.4" stroke="#e0323a" stroke-width="1.5"/>
<rect x="641.9" y="589.5" width="20.1" height="81.9" fill="#e2727a"/>
<line x1="559.9" y1="605.9" x2="589.8" y2="605.9" stroke="#000" stroke-width="1.3"/>
<text x="574.8" y="605.3" font-size="10.5" text-anchor="middle">****</text>
<line x1="589.8" y1="596.3" x2="619.2" y2="596.3" stroke="#000" stroke-width="1.3"/>
<text x="604.5" y="595.7" font-size="10.5" text-anchor="middle">*</text>
<line x1="622.2" y1="570.3" x2="651.5" y2="570.3" stroke="#000" stroke-width="1.3"/>
<text x="636.9" y="569.7" font-size="10.5" text-anchor="middle">**</text>
<line x1="590.7" y1="561.0" x2="651.2" y2="561.0" stroke="#000" stroke-width="1.3"/>
<text x="621.0" y="560.4" font-size="10.5" text-anchor="middle">**</text>
<text x="6.9" y="727.5" font-size="18">G</text>
<text x="71.1" y="735.8" font-size="10" textLength="157.5" lengthAdjust="spacingAndGlyphs">--Gated on CD45<tspan font-size="6.5" dy="-3.5">+</tspan><tspan dy="3.5">CD8</tspan><tspan font-size="6.5" dy="-3.5">+</tspan><tspan dy="3.5"> live TILs--</tspan></text>
<path d="M51.3,793.2 C52.0,793.0 54.2,793.7 55.7,792.0 C57.1,790.2 58.4,786.7 60.0,782.7 C61.6,778.6 63.8,770.6 65.3,767.8 C66.8,764.9 67.6,767.0 68.8,765.7 C70.0,764.4 71.1,760.4 72.3,759.9 C73.5,759.4 74.8,760.9 75.8,762.5 C76.8,764.1 77.3,767.6 78.4,769.5 C79.6,771.4 81.5,773.0 82.8,773.9 C84.1,774.8 85.0,774.7 86.3,775.1 C87.6,775.6 89.4,775.7 90.7,776.5 C92.0,777.4 93.3,778.4 94.2,780.0 C95.1,781.6 95.2,784.5 96.0,786.2 C96.7,787.9 97.6,789.2 98.6,790.2 C99.6,791.2 100.6,791.8 102.1,792.0 C103.5,792.1 105.9,791.3 107.3,790.9 C108.8,790.5 109.4,789.6 110.8,789.7 C112.3,789.8 114.5,790.8 116.1,791.4 C117.7,792.0 119.8,792.9 120.5,793.2 Z" fill="#9478c4" fill-opacity="0.72" stroke="#7b55b0" stroke-width="0.7"/><line x1="33" y1="793.2" x2="137" y2="793.2" stroke="#7b55b0" stroke-width="0.7"/><path d="M178.5,793.2 C179.7,793.0 183.7,792.7 185.6,792.0 C187.4,791.2 188.8,790.8 189.9,788.8 C191.1,786.8 191.7,783.0 192.6,780.0 C193.4,777.1 194.3,772.6 194.8,771.3 C195.4,770.0 195.4,770.4 196.1,772.2 C196.7,773.9 197.7,779.0 198.7,781.8 C199.7,784.6 200.9,787.3 202.2,788.8 C203.5,790.3 205.0,790.6 206.6,790.9 C208.2,791.3 210.1,791.3 211.8,790.9 C213.6,790.6 215.6,790.6 217.1,788.8 C218.5,787.0 219.6,784.1 220.6,780.0 C221.6,776.0 222.3,768.0 223.2,764.3 C224.1,760.5 225.0,758.5 225.8,757.6 C226.7,756.7 227.6,757.3 228.5,759.0 C229.3,760.7 230.1,764.3 231.1,767.8 C232.1,771.3 233.4,776.4 234.6,780.0 C235.8,783.7 236.9,787.5 238.1,789.7 C239.3,791.9 241.0,792.6 241.6,793.2 Z" fill="#9478c4" fill-opacity="0.72" stroke="#7b55b0" stroke-width="0.7"/><line x1="149" y1="793.2" x2="256" y2="793.2" stroke="#7b55b0" stroke-width="0.7"/><path d="M51.3,814.6 C52.2,814.1 55.1,813.2 56.5,811.6 C58.0,809.9 58.6,806.6 60.0,804.6 C61.5,802.5 63.5,800.8 65.3,799.3 C67.0,797.8 69.4,796.5 70.6,795.8 C71.7,795.1 71.7,794.6 72.3,794.9 C72.9,795.2 73.2,797.1 74.1,797.6 C74.9,798.0 76.4,798.0 77.6,797.6 C78.7,797.1 80.0,795.7 81.1,794.9 C82.1,794.2 82.8,793.2 83.7,793.2 C84.6,793.2 85.3,793.6 86.3,794.9 C87.3,796.2 88.5,799.2 89.8,801.1 C91.1,803.0 93.0,805.4 94.2,806.3 C95.4,807.2 95.8,807.2 96.8,806.3 C97.9,805.4 99.3,803.4 100.3,801.1 C101.4,798.7 102.1,794.5 103.0,792.3 C103.8,790.1 104.6,789.7 105.6,787.9 C106.6,786.2 107.9,782.4 108.7,781.8 C109.6,781.2 110.1,783.3 110.8,784.4 C111.6,785.6 112.6,786.6 113.5,788.8 C114.3,791.0 115.1,794.1 116.1,797.6 C117.1,801.1 118.6,807.2 119.6,809.8 C120.6,812.4 121.2,812.5 122.2,813.3 C123.3,814.1 125.2,814.3 125.7,814.6 Z" fill="#84d07a" fill-opacity="0.72" stroke="#5fbe50" stroke-width="0.7"/><line x1="33" y1="814.6" x2="137" y2="814.6" stroke="#5fbe50" stroke-width="0.7"/><path d="M176.8,814.6 C177.8,814.1 181.2,813.2 182.9,811.6 C184.7,809.9 186.0,806.9 187.3,804.6 C188.6,802.2 189.8,799.0 190.8,797.6 C191.8,796.1 192.7,799.0 193.4,795.8 C194.2,792.6 194.7,780.0 195.2,778.3 C195.7,776.5 196.0,781.2 196.4,785.3 C196.9,789.4 197.0,798.9 197.8,802.8 C198.6,806.8 199.9,807.7 201.3,808.9 C202.8,810.2 204.8,810.0 206.6,810.2 C208.3,810.3 210.1,810.2 211.8,809.8 C213.6,809.5 215.6,809.2 217.1,808.1 C218.5,806.9 219.4,804.4 220.6,802.8 C221.8,801.2 223.2,799.3 224.1,798.4 C225.0,797.6 225.5,797.3 226.2,797.6 C226.9,797.8 227.5,799.2 228.5,800.2 C229.4,801.2 230.8,802.5 232.0,803.7 C233.1,804.9 234.3,806.0 235.5,807.2 C236.6,808.4 238.0,809.5 239.0,810.7 C240.0,811.9 241.2,813.9 241.6,814.6 Z" fill="#84d07a" fill-opacity="0.72" stroke="#5fbe50" stroke-width="0.7"/><line x1="149" y1="814.6" x2="256" y2="814.6" stroke="#5fbe50" stroke-width="0.7"/><path d="M50.4,835.6 C51.1,835.1 53.3,833.7 54.8,832.6 C56.2,831.5 57.7,831.4 59.2,829.1 C60.6,826.8 62.2,821.1 63.5,818.6 C64.9,816.1 65.7,815.2 67.0,814.2 C68.4,813.2 70.1,812.4 71.4,812.4 C72.7,812.4 73.9,813.2 74.9,814.2 C76.0,815.2 76.5,816.8 77.6,818.6 C78.6,820.3 79.9,823.4 81.1,824.7 C82.2,826.0 83.1,826.1 84.6,826.5 C86.0,826.8 88.1,826.6 89.8,827.0 C91.6,827.4 93.3,828.9 95.1,829.1 C96.8,829.3 98.6,829.1 100.3,828.2 C102.1,827.3 104.1,826.3 105.6,823.8 C107.0,821.4 107.9,816.8 109.1,813.3 C110.3,809.8 111.7,804.8 112.6,802.8 C113.5,800.8 113.6,800.5 114.3,801.4 C115.1,802.3 116.1,804.9 117.0,808.1 C117.9,811.2 118.7,816.5 119.6,820.3 C120.5,824.1 121.1,828.5 122.2,830.8 C123.4,833.2 125.3,833.6 126.6,834.3 C127.9,835.1 129.5,835.4 130.1,835.6 Z" fill="#7ab0e0" fill-opacity="0.72" stroke="#4d8fd0" stroke-width="0.7"/><line x1="33" y1="835.6" x2="137" y2="835.6" stroke="#4d8fd0" stroke-width="0.7"/><path d="M168.9,835.6 C169.9,835.2 173.1,835.4 175.0,833.5 C176.9,831.5 178.7,826.0 180.3,823.8 C181.9,821.6 183.5,821.4 184.7,820.3 C185.8,819.2 186.6,817.2 187.3,817.2 C188.0,817.2 188.2,818.8 189.1,820.3 C189.9,821.9 191.4,825.0 192.6,826.5 C193.7,827.9 194.9,828.2 196.1,829.1 C197.2,830.0 197.8,831.1 199.6,831.7 C201.3,832.3 204.2,832.6 206.6,832.6 C208.9,832.6 211.8,832.3 213.6,831.7 C215.3,831.1 215.9,830.7 217.1,829.1 C218.3,827.5 219.6,825.3 220.6,822.1 C221.6,818.9 222.3,813.6 223.2,809.8 C224.1,806.0 225.0,800.5 225.8,799.3 C226.7,798.1 227.6,800.2 228.5,802.8 C229.3,805.4 230.2,811.7 231.1,815.1 C232.0,818.4 232.7,821.5 233.7,823.0 C234.8,824.4 236.2,822.8 237.2,823.8 C238.3,824.9 238.8,827.3 239.9,829.1 C240.9,830.8 242.5,833.3 243.4,834.3 C244.2,835.4 244.8,835.4 245.1,835.6 Z" fill="#7ab0e0" fill-opacity="0.72" stroke="#4d8fd0" stroke-width="0.7"/><line x1="149" y1="835.6" x2="256" y2="835.6" stroke="#4d8fd0" stroke-width="0.7"/><path d="M57.4,855.4 C58.1,854.8 60.2,852.9 61.8,852.2 C63.4,851.5 65.0,851.1 67.0,851.0 C69.1,850.9 71.7,851.3 74.1,851.5 C76.4,851.7 79.0,852.3 81.1,852.2 C83.1,852.1 84.6,851.0 86.3,851.0 C88.1,851.0 89.5,851.9 91.6,852.2 C93.6,852.5 96.5,852.9 98.6,852.7 C100.6,852.6 102.1,852.0 103.8,851.5 C105.6,851.1 107.6,850.6 109.1,850.1 C110.6,849.6 111.6,849.5 112.6,848.4 C113.6,847.2 114.5,846.0 115.2,843.1 C116.0,840.2 116.4,834.2 117.0,830.8 C117.6,827.5 118.1,824.4 118.7,823.0 C119.3,821.5 119.9,821.1 120.5,822.1 C121.1,823.1 121.6,825.6 122.2,829.1 C122.8,832.6 123.4,838.7 124.0,843.1 C124.6,847.5 125.4,853.3 125.7,855.4 Z" fill="#e8868c" fill-opacity="0.72" stroke="#e05a64" stroke-width="0.7"/><line x1="33" y1="855.4" x2="137" y2="855.4" stroke="#e05a64" stroke-width="0.7"/><path d="M168.0,855.4 C168.6,854.2 170.5,852.2 171.5,848.4 C172.6,844.6 173.4,836.8 174.2,832.6 C174.9,828.4 175.3,824.4 175.9,823.0 C176.5,821.5 176.8,822.2 177.7,823.8 C178.5,825.4 180.1,830.0 181.2,832.6 C182.2,835.2 182.8,837.0 183.8,839.6 C184.8,842.2 185.8,846.3 187.3,848.4 C188.8,850.4 191.1,851.4 192.6,851.9 C194.0,852.3 194.9,850.6 196.1,851.0 C197.2,851.3 197.8,853.2 199.6,854.0 C201.3,854.7 204.2,855.3 206.6,855.4 C208.9,855.5 211.2,854.8 213.6,854.5 C215.9,854.2 218.8,854.3 220.6,853.6 C222.3,852.9 222.9,851.9 224.1,850.1 C225.3,848.4 226.5,845.7 227.6,843.1 C228.7,840.5 229.9,835.7 230.7,834.3 C231.6,833.0 232.1,834.2 232.9,835.2 C233.6,836.2 234.6,838.3 235.5,840.5 C236.4,842.7 237.1,846.5 238.1,848.4 C239.1,850.3 240.4,850.7 241.6,851.9 C242.8,853.0 244.5,854.8 245.1,855.4 Z" fill="#e8868c" fill-opacity="0.72" stroke="#e05a64" stroke-width="0.7"/><line x1="149" y1="855.4" x2="256" y2="855.4" stroke="#e05a64" stroke-width="0.7"/><path d="M35.4,855.7V857.5M40.1,855.7V857.5M44.8,855.7V857.5M49.5,855.7V857.5M54.2,855.7V857.5M58.9,855.7V857.5M63.6,855.7V857.5M68.3,855.7V857.5M73.0,855.7V857.5M77.7,855.7V857.5M82.4,855.7V857.5M87.1,855.7V857.5M91.8,855.7V857.5M96.5,855.7V857.5M101.2,855.7V857.5M105.9,855.7V857.5M110.6,855.7V857.5M115.3,855.7V857.5M120.0,855.7V857.5M124.7,855.7V857.5M129.4,855.7V857.5M134.1,855.7V857.5" stroke="#000" stroke-width="0.6" fill="none"/><rect x="32.4" y="750.3" width="104.7" height="105.4" fill="none" stroke="#000" stroke-width="1.6"/><path d="M151.4,855.7V857.5M156.3,855.7V857.5M161.1,855.7V857.5M166.0,855.7V857.5M170.8,855.7V857.5M175.7,855.7V857.5M180.6,855.7V857.5M185.4,855.7V857.5M190.3,855.7V857.5M195.2,855.7V857.5M200.0,855.7V857.5M204.9,855.7V857.5M209.7,855.7V857.5M214.6,855.7V857.5M219.5,855.7V857.5M224.3,855.7V857.5M229.2,855.7V857.5M234.1,855.7V857.5M238.9,855.7V857.5M243.8,855.7V857.5M248.6,855.7V857.5M253.5,855.7V857.5" stroke="#000" stroke-width="0.6" fill="none"/><rect x="148.4" y="750.3" width="108.1" height="105.4" fill="none" stroke="#000" stroke-width="1.6"/>
<text x="88.3" y="868.3" font-size="10" text-anchor="middle">CD44</text>
<text x="200.5" y="868.3" font-size="10" text-anchor="middle">CD62L</text>
<text transform="translate(22.6 806.4) rotate(-90)" font-size="9.5" text-anchor="middle" textLength="85.6" lengthAdjust="spacingAndGlyphs">Events (Normalized)</text>
<rect x="342.3" y="713.1" width="16.1" height="5.0" fill="#a587cd"/>
<text x="362.7" y="718.1" font-size="9.6" textLength="24.9" lengthAdjust="spacingAndGlyphs">shNC</text>
<rect x="342.3" y="727.1" width="16.1" height="5.0" fill="#96d791"/>
<text x="362.7" y="732.1" font-size="9.6" textLength="46.8" lengthAdjust="spacingAndGlyphs">shYTHDF1</text>
<rect x="415.3" y="713.1" width="16.1" height="5.0" fill="#96c3eb"/>
<text x="435.7" y="718.1" font-size="9.6" textLength="67.7" lengthAdjust="spacingAndGlyphs">shNC+α-PD-L1</text>
<rect x="415.3" y="727.1" width="16.1" height="5.0" fill="#eba0a8"/>
<text x="435.7" y="732.1" font-size="9.6" textLength="87.6" lengthAdjust="spacingAndGlyphs">shYTHDF1+α-PD-L1</text>
<line x1="335.0" y1="748.3" x2="335.0" y2="859.8" stroke="#000" stroke-width="1.8"/>
<line x1="334.1" y1="858.9" x2="463.0" y2="858.9" stroke="#000" stroke-width="1.8"/>
<line x1="329.5" y1="858.9" x2="335.0" y2="858.9" stroke="#000" stroke-width="1.5"/>
<text x="326.8" y="862.3" font-size="9.3" text-anchor="end" textLength="4.96" lengthAdjust="spacingAndGlyphs">0</text>
<line x1="329.5" y1="822.3" x2="335.0" y2="822.3" stroke="#000" stroke-width="1.5"/>
<text x="326.8" y="825.7" font-size="9.3" text-anchor="end" textLength="19.84" lengthAdjust="spacingAndGlyphs">5000</text>
<line x1="329.5" y1="785.7" x2="335.0" y2="785.7" stroke="#000" stroke-width="1.5"/>
<text x="326.8" y="789.1" font-size="9.3" text-anchor="end" textLength="24.8" lengthAdjust="spacingAndGlyphs">10000</text>
<line x1="329.5" y1="749.1" x2="335.0" y2="749.1" stroke="#000" stroke-width="1.5"/>
<text x="326.8" y="752.5" font-size="9.3" text-anchor="end" textLength="24.8" lengthAdjust="spacingAndGlyphs">15000</text>
<line x1="401.4" y1="858.9" x2="401.4" y2="863.2" stroke="#000" stroke-width="1.5"/>
<text x="401.4" y="876.5" font-size="9.7" text-anchor="middle">CD8</text>
<text transform="translate(293.8 801.5) rotate(-90)" font-size="9.3" text-anchor="middle" textLength="41.9" lengthAdjust="spacingAndGlyphs">CD44 MFI</text>
<line x1="355.4" y1="832.5" x2="355.4" y2="809.1" stroke="#7d44a6" stroke-width="1.9"/>
<line x1="349.9" y1="809.1" x2="361.0" y2="809.1" stroke="#7d44a6" stroke-width="1.9"/>
<rect x="345.2" y="832.5" width="20.5" height="26.4" fill="#9a6db8"/>
<line x1="386.6" y1="804.7" x2="386.6" y2="795.2" stroke="#8cd25a" stroke-width="1.9"/>
<line x1="381.0" y1="795.2" x2="392.2" y2="795.2" stroke="#8cd25a" stroke-width="1.9"/>
<rect x="376.3" y="804.7" width="20.6" height="54.2" fill="#95d668"/>
<line x1="418.1" y1="795.9" x2="418.1" y2="793.0" stroke="#5f95cc" stroke-width="1.9"/>
<line x1="412.5" y1="793.0" x2="423.7" y2="793.0" stroke="#5f95cc" stroke-width="1.9"/>
<rect x="407.8" y="795.9" width="20.6" height="63.0" fill="#6399cf"/>
<line x1="449.1" y1="786.4" x2="449.1" y2="782.0" stroke="#e0323a" stroke-width="1.9"/>
<line x1="444.5" y1="782.0" x2="453.7" y2="782.0" stroke="#e0323a" stroke-width="1.9"/>
<rect x="440.6" y="786.4" width="17.0" height="72.5" fill="#e2727a"/>
<line x1="355.5" y1="784.1" x2="385.3" y2="784.1" stroke="#000" stroke-width="1.3"/>
<text x="370.4" y="781.6" font-size="11" text-anchor="middle">ns</text>
<line x1="386.0" y1="776.0" x2="416.5" y2="776.0" stroke="#000" stroke-width="1.3"/>
<text x="401.2" y="773.5" font-size="11" text-anchor="middle">ns</text>
<line x1="420.3" y1="776.0" x2="450.2" y2="776.0" stroke="#000" stroke-width="1.3"/>
<text x="435.2" y="775.4" font-size="10.5" text-anchor="middle">*</text>
<line x1="388.2" y1="762.9" x2="448.6" y2="762.9" stroke="#000" stroke-width="1.3"/>
<text x="415.5" y="762.3" font-size="10.5" text-anchor="middle">*</text>
<line x1="535.7" y1="746.4" x2="535.7" y2="859.4" stroke="#000" stroke-width="1.8"/>
<line x1="534.8" y1="858.5" x2="676.3" y2="858.5" stroke="#000" stroke-width="1.8"/>
<line x1="530.6" y1="858.5" x2="535.7" y2="858.5" stroke="#000" stroke-width="1.5"/>
<text x="527.4" y="861.9" font-size="9.3" text-anchor="end" textLength="5.02" lengthAdjust="spacingAndGlyphs">0</text>
<line x1="530.6" y1="821.4" x2="535.7" y2="821.4" stroke="#000" stroke-width="1.5"/>
<text x="527.4" y="824.8" font-size="9.3" text-anchor="end" textLength="25.099999999999998" lengthAdjust="spacingAndGlyphs">20000</text>
<line x1="530.6" y1="784.2" x2="535.7" y2="784.2" stroke="#000" stroke-width="1.5"/>
<text x="527.4" y="787.6" font-size="9.3" text-anchor="end" textLength="25.099999999999998" lengthAdjust="spacingAndGlyphs">40000</text>
<line x1="530.6" y1="747.1" x2="535.7" y2="747.1" stroke="#000" stroke-width="1.5"/>
<text x="527.4" y="750.5" font-size="9.3" text-anchor="end" textLength="25.099999999999998" lengthAdjust="spacingAndGlyphs">60000</text>
<line x1="605.7" y1="858.5" x2="605.7" y2="862.8" stroke="#000" stroke-width="1.5"/>
<text x="605.7" y="876.5" font-size="9.7" text-anchor="middle">CD8</text>
<text transform="translate(494.1 798) rotate(-90)" font-size="9.3" text-anchor="middle" textLength="47.1" lengthAdjust="spacingAndGlyphs">CD62L MFI</text>
<line x1="557.6" y1="813.9" x2="557.6" y2="788.9" stroke="#7d44a6" stroke-width="1.9"/>
<line x1="552.2" y1="788.9" x2="563.1" y2="788.9" stroke="#7d44a6" stroke-width="1.9"/>
<rect x="547.5" y="813.9" width="20.3" height="44.6" fill="#9a6db8"/>
<line x1="589.6" y1="784.2" x2="589.6" y2="758.3" stroke="#8cd25a" stroke-width="1.9"/>
<line x1="584.0" y1="758.3" x2="595.2" y2="758.3" stroke="#8cd25a" stroke-width="1.9"/>
<rect x="579.3" y="784.2" width="20.6" height="74.3" fill="#95d668"/>
<line x1="621.7" y1="812.1" x2="621.7" y2="791.7" stroke="#5f95cc" stroke-width="1.9"/>
<line x1="616.1" y1="791.7" x2="627.3" y2="791.7" stroke="#5f95cc" stroke-width="1.9"/>
<rect x="611.4" y="812.1" width="20.6" height="46.4" fill="#6399cf"/>
<line x1="653.6" y1="857.6" x2="653.6" y2="855.7" stroke="#e0323a" stroke-width="1.9"/>
<line x1="648.9" y1="855.7" x2="658.4" y2="855.7" stroke="#e0323a" stroke-width="1.9"/>
<rect x="644.8" y="857.6" width="17.7" height="0.9" fill="#e2727a"/>
<line x1="558.1" y1="755.8" x2="588.0" y2="755.8" stroke="#000" stroke-width="1.3"/>
<text x="573.0" y="753.3" font-size="11" text-anchor="middle">ns</text>
<line x1="589.3" y1="755.8" x2="618.5" y2="755.8" stroke="#000" stroke-width="1.3"/>
<text x="603.9" y="753.3" font-size="11" text-anchor="middle">ns</text>
<line x1="590.9" y1="742.0" x2="651.3" y2="742.0" stroke="#000" stroke-width="1.3"/>
<text x="621.1" y="741.4" font-size="10.5" text-anchor="middle">*</text>
<line x1="623.3" y1="785.4" x2="652.2" y2="785.4" stroke="#000" stroke-width="1.3"/>
<text x="637.8" y="784.8" font-size="10.5" text-anchor="middle">*</text></svg></body></html>
